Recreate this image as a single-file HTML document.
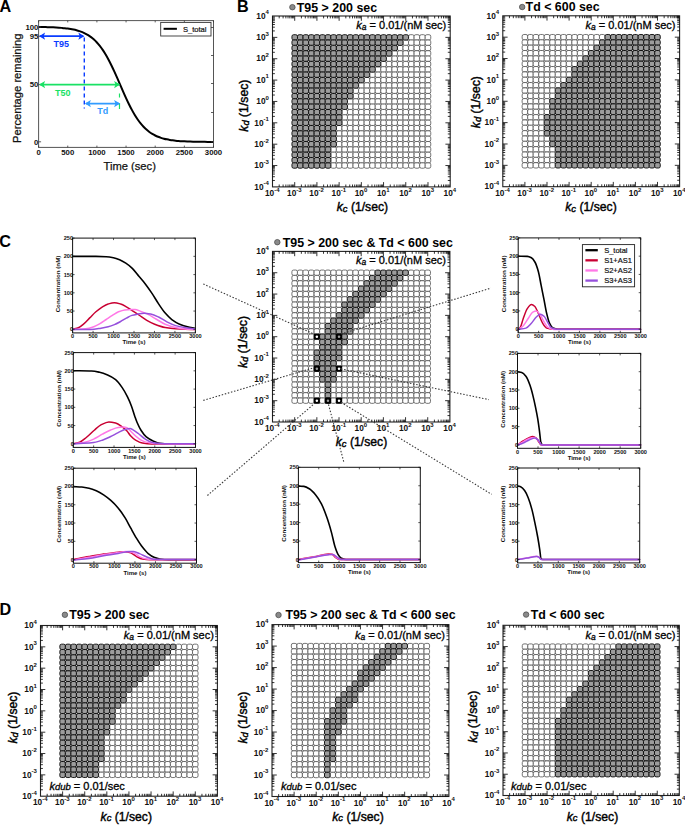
<!DOCTYPE html>
<html><head><meta charset="utf-8"><style>
html,body{margin:0;padding:0;background:#fff;}
body{width:685px;height:826px;overflow:hidden;font-family:"Liberation Sans", sans-serif;}
svg{display:block;}
</style></head><body>
<svg width="685" height="826" viewBox="0 0 685 826" font-family='"Liberation Sans", sans-serif'>
<rect width="685" height="826" fill="#fff"/>
<text x="-0.5" y="12" font-size="16.2" font-weight="bold">A</text>
<text x="237" y="12" font-size="16.2" font-weight="bold">B</text>
<text x="-0.8" y="246.5" font-size="16.2" font-weight="bold">C</text>
<text x="-0.5" y="614.6" font-size="16.2" font-weight="bold">D</text>
<path d="M38.6,26.97 C39.57,26.99 40.54,27 41.52,27.02 C42.49,27.03 43.46,27.05 44.43,27.07 C45.4,27.09 46.37,27.12 47.34,27.14 C48.32,27.17 49.29,27.2 50.26,27.23 C51.23,27.27 52.2,27.3 53.17,27.35 C54.15,27.39 55.12,27.44 56.09,27.49 C57.06,27.54 58.03,27.6 59,27.67 C59.98,27.74 60.95,27.81 61.92,27.89 C62.89,27.98 63.86,28.07 64.84,28.18 C65.81,28.28 66.78,28.4 67.75,28.54 C68.72,28.67 69.69,28.82 70.67,28.98 C71.64,29.15 72.61,29.34 73.58,29.54 C74.55,29.75 75.52,29.98 76.5,30.24 C77.47,30.5 78.44,30.79 79.41,31.11 C80.38,31.43 81.35,31.79 82.33,32.19 C83.3,32.59 84.27,33.03 85.24,33.52 C86.21,34.01 87.18,34.56 88.16,35.16 C89.13,35.76 90.1,36.43 91.07,37.16 C92.04,37.89 93.01,38.7 93.98,39.58 C94.96,40.46 95.93,41.43 96.9,42.48 C97.87,43.53 98.84,44.68 99.81,45.91 C100.79,47.15 101.76,48.5 102.73,49.93 C103.7,51.36 104.67,52.91 105.65,54.54 C106.62,56.17 107.59,57.92 108.56,59.74 C109.53,61.56 110.5,63.5 111.47,65.49 C112.45,67.47 113.42,69.57 114.39,71.69 C115.36,73.81 116.33,76.01 117.31,78.21 C118.28,80.42 119.25,82.68 120.22,84.91 C121.19,87.14 122.16,89.39 123.14,91.59 C124.11,93.78 125.08,95.97 126.05,98.07 C127.02,100.18 127.99,102.25 128.97,104.21 C129.94,106.18 130.91,108.09 131.88,109.88 C132.85,111.67 133.82,113.4 134.79,115 C135.77,116.6 136.74,118.12 137.71,119.52 C138.68,120.92 139.65,122.24 140.62,123.44 C141.6,124.65 142.57,125.77 143.54,126.79 C144.51,127.81 145.48,128.76 146.46,129.61 C147.43,130.47 148.4,131.26 149.37,131.97 C150.34,132.68 151.31,133.32 152.28,133.91 C153.26,134.49 154.23,135.02 155.2,135.5 C156.17,135.97 157.14,136.4 158.12,136.79 C159.09,137.17 160.06,137.52 161.03,137.83 C162,138.14 162.97,138.42 163.94,138.67 C164.92,138.92 165.89,139.15 166.86,139.35 C167.83,139.55 168.8,139.73 169.78,139.89 C170.75,140.05 171.72,140.2 172.69,140.32 C173.66,140.45 174.63,140.57 175.61,140.67 C176.58,140.77 177.55,140.86 178.52,140.94 C179.49,141.02 180.46,141.1 181.44,141.16 C182.41,141.23 183.38,141.28 184.35,141.33 C185.32,141.39 186.29,141.43 187.26,141.47 C188.24,141.51 189.21,141.55 190.18,141.58 C191.15,141.61 192.12,141.64 193.09,141.67 C194.07,141.69 195.04,141.72 196.01,141.74 C196.98,141.76 197.95,141.78 198.92,141.79 C199.9,141.81 200.87,141.82 201.84,141.84 C202.81,141.85 203.78,141.86 204.76,141.87 C205.73,141.88 206.7,141.89 207.67,141.9 C208.64,141.9 209.61,141.91 210.59,141.92 C211.56,141.92 212.53,141.93 213.5,141.94" fill="none" stroke="#000" stroke-width="2"/>
<rect x="38.6" y="20.6" width="174.9" height="126.8" fill="none" stroke="#555" stroke-width="1"/>
<path d="M38.6,147.4v-1.8M38.6,20.6v1.8M67.75,147.4v-1.8M67.75,20.6v1.8M96.9,147.4v-1.8M96.9,20.6v1.8M126.05,147.4v-1.8M126.05,20.6v1.8M155.2,147.4v-1.8M155.2,20.6v1.8M184.35,147.4v-1.8M184.35,20.6v1.8M213.5,147.4v-1.8M213.5,20.6v1.8M38.6,27.0h2.5M38.6,36.2h2.5M38.6,84.6h2.5M38.6,141.8h2.5M213.5,27.5h-2.5M213.5,55.5h-2.5M213.5,83.5h-2.5M213.5,112.5h-2.5M213.5,141.8h-2.5" stroke="#333" stroke-width="0.8"/>
<g font-size="7.8" fill="#111" font-weight="bold">
<text x="38.6" y="155.2" text-anchor="middle">0</text>
<text x="67.75" y="155.2" text-anchor="middle">500</text>
<text x="96.9" y="155.2" text-anchor="middle">1000</text>
<text x="126.05" y="155.2" text-anchor="middle">1500</text>
<text x="155.2" y="155.2" text-anchor="middle">2000</text>
<text x="184.35" y="155.2" text-anchor="middle">2500</text>
<text x="213.5" y="155.2" text-anchor="middle">3000</text>
<text x="38.4" y="29.8" text-anchor="end">100</text>
<text x="38.4" y="39" text-anchor="end">95</text>
<text x="38.4" y="87.4" text-anchor="end">50</text>
<text x="38.4" y="144.6" text-anchor="end">0</text>
</g>
<text x="129.7" y="170.2" font-size="11.2" text-anchor="middle" fill="#111" stroke="#111" stroke-width="0.25">Time (sec)</text>
<text transform="translate(21.4,88.2) rotate(-90)" font-size="11.2" text-anchor="middle" fill="#111" stroke="#111" stroke-width="0.25">Percentage remaining</text>
<rect x="160.7" y="22.4" width="50.3" height="13.6" fill="#fff" stroke="#333" stroke-width="0.9"/>
<path d="M163.6,28.8H176.9" stroke="#000" stroke-width="2"/>
<text x="182.9" y="31.6" font-size="7.6" fill="#111" stroke="#111" stroke-width="0.2">S_total</text>
<path d="M40.1,36.2H83.3" stroke="#0a3cff" stroke-width="1.8"/>
<path d="M39.1,36.2l6,-3.6l-1.4,3.6l1.4,3.6z" fill="#0a3cff"/>
<path d="M84.3,36.2l-6,-3.6l1.4,3.6l-1.4,3.6z" fill="#0a3cff"/>
<path d="M84.3,37.5V108.5" stroke="#0a3cff" stroke-width="1.4" stroke-dasharray="4,3"/>
<path d="M40.1,84.6H119.1" stroke="#19e164" stroke-width="1.8"/>
<path d="M39.1,84.6l6,-3.6l-1.4,3.6l1.4,3.6z" fill="#19e164"/>
<path d="M120.1,84.6l-6,-3.6l1.4,3.6l-1.4,3.6z" fill="#19e164"/>
<path d="M119.5,93.6V97.5M119.5,103V109" stroke="#19e164" stroke-width="1.2"/>
<path d="M85.9,103.6H119.1" stroke="#329bff" stroke-width="1.8"/>
<path d="M84.9,103.6l6,-3.6l-1.4,3.6l1.4,3.6z" fill="#329bff"/>
<path d="M120.1,103.6l-6,-3.6l1.4,3.6l-1.4,3.6z" fill="#329bff"/>
<text x="53.6" y="46.9" font-size="9" font-weight="bold" fill="#0a3cff">T95</text>
<text x="55" y="95.8" font-size="9" font-weight="bold" fill="#19e164">T50</text>
<text x="97.2" y="114.1" font-size="9" font-weight="bold" fill="#329bff">Td</text>
<g stroke="#505050" stroke-width="0.8" fill="#fff">
<rect x="408.55" y="34.69" width="5.55" height="5.34" rx="1.7"/>
<rect x="414.1" y="34.69" width="5.55" height="5.34" rx="1.7"/>
<rect x="419.66" y="34.69" width="5.55" height="5.34" rx="1.7"/>
<rect x="425.21" y="34.69" width="5.55" height="5.34" rx="1.7"/>
<rect x="403" y="40.03" width="5.55" height="5.34" rx="1.7"/>
<rect x="408.55" y="40.03" width="5.55" height="5.34" rx="1.7"/>
<rect x="414.1" y="40.03" width="5.55" height="5.34" rx="1.7"/>
<rect x="419.66" y="40.03" width="5.55" height="5.34" rx="1.7"/>
<rect x="425.21" y="40.03" width="5.55" height="5.34" rx="1.7"/>
<rect x="397.45" y="45.37" width="5.55" height="5.34" rx="1.7"/>
<rect x="403" y="45.37" width="5.55" height="5.34" rx="1.7"/>
<rect x="408.55" y="45.37" width="5.55" height="5.34" rx="1.7"/>
<rect x="414.1" y="45.37" width="5.55" height="5.34" rx="1.7"/>
<rect x="419.66" y="45.37" width="5.55" height="5.34" rx="1.7"/>
<rect x="425.21" y="45.37" width="5.55" height="5.34" rx="1.7"/>
<rect x="391.89" y="50.71" width="5.55" height="5.34" rx="1.7"/>
<rect x="397.45" y="50.71" width="5.55" height="5.34" rx="1.7"/>
<rect x="403" y="50.71" width="5.55" height="5.34" rx="1.7"/>
<rect x="408.55" y="50.71" width="5.55" height="5.34" rx="1.7"/>
<rect x="414.1" y="50.71" width="5.55" height="5.34" rx="1.7"/>
<rect x="419.66" y="50.71" width="5.55" height="5.34" rx="1.7"/>
<rect x="425.21" y="50.71" width="5.55" height="5.34" rx="1.7"/>
<rect x="386.34" y="56.05" width="5.55" height="5.34" rx="1.7"/>
<rect x="391.89" y="56.05" width="5.55" height="5.34" rx="1.7"/>
<rect x="397.45" y="56.05" width="5.55" height="5.34" rx="1.7"/>
<rect x="403" y="56.05" width="5.55" height="5.34" rx="1.7"/>
<rect x="408.55" y="56.05" width="5.55" height="5.34" rx="1.7"/>
<rect x="414.1" y="56.05" width="5.55" height="5.34" rx="1.7"/>
<rect x="419.66" y="56.05" width="5.55" height="5.34" rx="1.7"/>
<rect x="425.21" y="56.05" width="5.55" height="5.34" rx="1.7"/>
<rect x="380.79" y="61.4" width="5.55" height="5.34" rx="1.7"/>
<rect x="386.34" y="61.4" width="5.55" height="5.34" rx="1.7"/>
<rect x="391.89" y="61.4" width="5.55" height="5.34" rx="1.7"/>
<rect x="397.45" y="61.4" width="5.55" height="5.34" rx="1.7"/>
<rect x="403" y="61.4" width="5.55" height="5.34" rx="1.7"/>
<rect x="408.55" y="61.4" width="5.55" height="5.34" rx="1.7"/>
<rect x="414.1" y="61.4" width="5.55" height="5.34" rx="1.7"/>
<rect x="419.66" y="61.4" width="5.55" height="5.34" rx="1.7"/>
<rect x="425.21" y="61.4" width="5.55" height="5.34" rx="1.7"/>
<rect x="375.23" y="66.74" width="5.55" height="5.34" rx="1.7"/>
<rect x="380.79" y="66.74" width="5.55" height="5.34" rx="1.7"/>
<rect x="386.34" y="66.74" width="5.55" height="5.34" rx="1.7"/>
<rect x="391.89" y="66.74" width="5.55" height="5.34" rx="1.7"/>
<rect x="397.45" y="66.74" width="5.55" height="5.34" rx="1.7"/>
<rect x="403" y="66.74" width="5.55" height="5.34" rx="1.7"/>
<rect x="408.55" y="66.74" width="5.55" height="5.34" rx="1.7"/>
<rect x="414.1" y="66.74" width="5.55" height="5.34" rx="1.7"/>
<rect x="419.66" y="66.74" width="5.55" height="5.34" rx="1.7"/>
<rect x="425.21" y="66.74" width="5.55" height="5.34" rx="1.7"/>
<rect x="369.68" y="72.08" width="5.55" height="5.34" rx="1.7"/>
<rect x="375.23" y="72.08" width="5.55" height="5.34" rx="1.7"/>
<rect x="380.79" y="72.08" width="5.55" height="5.34" rx="1.7"/>
<rect x="386.34" y="72.08" width="5.55" height="5.34" rx="1.7"/>
<rect x="391.89" y="72.08" width="5.55" height="5.34" rx="1.7"/>
<rect x="397.45" y="72.08" width="5.55" height="5.34" rx="1.7"/>
<rect x="403" y="72.08" width="5.55" height="5.34" rx="1.7"/>
<rect x="408.55" y="72.08" width="5.55" height="5.34" rx="1.7"/>
<rect x="414.1" y="72.08" width="5.55" height="5.34" rx="1.7"/>
<rect x="419.66" y="72.08" width="5.55" height="5.34" rx="1.7"/>
<rect x="425.21" y="72.08" width="5.55" height="5.34" rx="1.7"/>
<rect x="364.13" y="77.42" width="5.55" height="5.34" rx="1.7"/>
<rect x="369.68" y="77.42" width="5.55" height="5.34" rx="1.7"/>
<rect x="375.23" y="77.42" width="5.55" height="5.34" rx="1.7"/>
<rect x="380.79" y="77.42" width="5.55" height="5.34" rx="1.7"/>
<rect x="386.34" y="77.42" width="5.55" height="5.34" rx="1.7"/>
<rect x="391.89" y="77.42" width="5.55" height="5.34" rx="1.7"/>
<rect x="397.45" y="77.42" width="5.55" height="5.34" rx="1.7"/>
<rect x="403" y="77.42" width="5.55" height="5.34" rx="1.7"/>
<rect x="408.55" y="77.42" width="5.55" height="5.34" rx="1.7"/>
<rect x="414.1" y="77.42" width="5.55" height="5.34" rx="1.7"/>
<rect x="419.66" y="77.42" width="5.55" height="5.34" rx="1.7"/>
<rect x="425.21" y="77.42" width="5.55" height="5.34" rx="1.7"/>
<rect x="358.57" y="82.76" width="5.55" height="5.34" rx="1.7"/>
<rect x="364.13" y="82.76" width="5.55" height="5.34" rx="1.7"/>
<rect x="369.68" y="82.76" width="5.55" height="5.34" rx="1.7"/>
<rect x="375.23" y="82.76" width="5.55" height="5.34" rx="1.7"/>
<rect x="380.79" y="82.76" width="5.55" height="5.34" rx="1.7"/>
<rect x="386.34" y="82.76" width="5.55" height="5.34" rx="1.7"/>
<rect x="391.89" y="82.76" width="5.55" height="5.34" rx="1.7"/>
<rect x="397.45" y="82.76" width="5.55" height="5.34" rx="1.7"/>
<rect x="403" y="82.76" width="5.55" height="5.34" rx="1.7"/>
<rect x="408.55" y="82.76" width="5.55" height="5.34" rx="1.7"/>
<rect x="414.1" y="82.76" width="5.55" height="5.34" rx="1.7"/>
<rect x="419.66" y="82.76" width="5.55" height="5.34" rx="1.7"/>
<rect x="425.21" y="82.76" width="5.55" height="5.34" rx="1.7"/>
<rect x="353.02" y="88.1" width="5.55" height="5.34" rx="1.7"/>
<rect x="358.57" y="88.1" width="5.55" height="5.34" rx="1.7"/>
<rect x="364.13" y="88.1" width="5.55" height="5.34" rx="1.7"/>
<rect x="369.68" y="88.1" width="5.55" height="5.34" rx="1.7"/>
<rect x="375.23" y="88.1" width="5.55" height="5.34" rx="1.7"/>
<rect x="380.79" y="88.1" width="5.55" height="5.34" rx="1.7"/>
<rect x="386.34" y="88.1" width="5.55" height="5.34" rx="1.7"/>
<rect x="391.89" y="88.1" width="5.55" height="5.34" rx="1.7"/>
<rect x="397.45" y="88.1" width="5.55" height="5.34" rx="1.7"/>
<rect x="403" y="88.1" width="5.55" height="5.34" rx="1.7"/>
<rect x="408.55" y="88.1" width="5.55" height="5.34" rx="1.7"/>
<rect x="414.1" y="88.1" width="5.55" height="5.34" rx="1.7"/>
<rect x="419.66" y="88.1" width="5.55" height="5.34" rx="1.7"/>
<rect x="425.21" y="88.1" width="5.55" height="5.34" rx="1.7"/>
<rect x="353.02" y="93.44" width="5.55" height="5.34" rx="1.7"/>
<rect x="358.57" y="93.44" width="5.55" height="5.34" rx="1.7"/>
<rect x="364.13" y="93.44" width="5.55" height="5.34" rx="1.7"/>
<rect x="369.68" y="93.44" width="5.55" height="5.34" rx="1.7"/>
<rect x="375.23" y="93.44" width="5.55" height="5.34" rx="1.7"/>
<rect x="380.79" y="93.44" width="5.55" height="5.34" rx="1.7"/>
<rect x="386.34" y="93.44" width="5.55" height="5.34" rx="1.7"/>
<rect x="391.89" y="93.44" width="5.55" height="5.34" rx="1.7"/>
<rect x="397.45" y="93.44" width="5.55" height="5.34" rx="1.7"/>
<rect x="403" y="93.44" width="5.55" height="5.34" rx="1.7"/>
<rect x="408.55" y="93.44" width="5.55" height="5.34" rx="1.7"/>
<rect x="414.1" y="93.44" width="5.55" height="5.34" rx="1.7"/>
<rect x="419.66" y="93.44" width="5.55" height="5.34" rx="1.7"/>
<rect x="425.21" y="93.44" width="5.55" height="5.34" rx="1.7"/>
<rect x="347.47" y="98.78" width="5.55" height="5.34" rx="1.7"/>
<rect x="353.02" y="98.78" width="5.55" height="5.34" rx="1.7"/>
<rect x="358.57" y="98.78" width="5.55" height="5.34" rx="1.7"/>
<rect x="364.13" y="98.78" width="5.55" height="5.34" rx="1.7"/>
<rect x="369.68" y="98.78" width="5.55" height="5.34" rx="1.7"/>
<rect x="375.23" y="98.78" width="5.55" height="5.34" rx="1.7"/>
<rect x="380.79" y="98.78" width="5.55" height="5.34" rx="1.7"/>
<rect x="386.34" y="98.78" width="5.55" height="5.34" rx="1.7"/>
<rect x="391.89" y="98.78" width="5.55" height="5.34" rx="1.7"/>
<rect x="397.45" y="98.78" width="5.55" height="5.34" rx="1.7"/>
<rect x="403" y="98.78" width="5.55" height="5.34" rx="1.7"/>
<rect x="408.55" y="98.78" width="5.55" height="5.34" rx="1.7"/>
<rect x="414.1" y="98.78" width="5.55" height="5.34" rx="1.7"/>
<rect x="419.66" y="98.78" width="5.55" height="5.34" rx="1.7"/>
<rect x="425.21" y="98.78" width="5.55" height="5.34" rx="1.7"/>
<rect x="347.47" y="104.12" width="5.55" height="5.34" rx="1.7"/>
<rect x="353.02" y="104.12" width="5.55" height="5.34" rx="1.7"/>
<rect x="358.57" y="104.12" width="5.55" height="5.34" rx="1.7"/>
<rect x="364.13" y="104.12" width="5.55" height="5.34" rx="1.7"/>
<rect x="369.68" y="104.12" width="5.55" height="5.34" rx="1.7"/>
<rect x="375.23" y="104.12" width="5.55" height="5.34" rx="1.7"/>
<rect x="380.79" y="104.12" width="5.55" height="5.34" rx="1.7"/>
<rect x="386.34" y="104.12" width="5.55" height="5.34" rx="1.7"/>
<rect x="391.89" y="104.12" width="5.55" height="5.34" rx="1.7"/>
<rect x="397.45" y="104.12" width="5.55" height="5.34" rx="1.7"/>
<rect x="403" y="104.12" width="5.55" height="5.34" rx="1.7"/>
<rect x="408.55" y="104.12" width="5.55" height="5.34" rx="1.7"/>
<rect x="414.1" y="104.12" width="5.55" height="5.34" rx="1.7"/>
<rect x="419.66" y="104.12" width="5.55" height="5.34" rx="1.7"/>
<rect x="425.21" y="104.12" width="5.55" height="5.34" rx="1.7"/>
<rect x="341.91" y="109.46" width="5.55" height="5.34" rx="1.7"/>
<rect x="347.47" y="109.46" width="5.55" height="5.34" rx="1.7"/>
<rect x="353.02" y="109.46" width="5.55" height="5.34" rx="1.7"/>
<rect x="358.57" y="109.46" width="5.55" height="5.34" rx="1.7"/>
<rect x="364.13" y="109.46" width="5.55" height="5.34" rx="1.7"/>
<rect x="369.68" y="109.46" width="5.55" height="5.34" rx="1.7"/>
<rect x="375.23" y="109.46" width="5.55" height="5.34" rx="1.7"/>
<rect x="380.79" y="109.46" width="5.55" height="5.34" rx="1.7"/>
<rect x="386.34" y="109.46" width="5.55" height="5.34" rx="1.7"/>
<rect x="391.89" y="109.46" width="5.55" height="5.34" rx="1.7"/>
<rect x="397.45" y="109.46" width="5.55" height="5.34" rx="1.7"/>
<rect x="403" y="109.46" width="5.55" height="5.34" rx="1.7"/>
<rect x="408.55" y="109.46" width="5.55" height="5.34" rx="1.7"/>
<rect x="414.1" y="109.46" width="5.55" height="5.34" rx="1.7"/>
<rect x="419.66" y="109.46" width="5.55" height="5.34" rx="1.7"/>
<rect x="425.21" y="109.46" width="5.55" height="5.34" rx="1.7"/>
<rect x="341.91" y="114.8" width="5.55" height="5.34" rx="1.7"/>
<rect x="347.47" y="114.8" width="5.55" height="5.34" rx="1.7"/>
<rect x="353.02" y="114.8" width="5.55" height="5.34" rx="1.7"/>
<rect x="358.57" y="114.8" width="5.55" height="5.34" rx="1.7"/>
<rect x="364.13" y="114.8" width="5.55" height="5.34" rx="1.7"/>
<rect x="369.68" y="114.8" width="5.55" height="5.34" rx="1.7"/>
<rect x="375.23" y="114.8" width="5.55" height="5.34" rx="1.7"/>
<rect x="380.79" y="114.8" width="5.55" height="5.34" rx="1.7"/>
<rect x="386.34" y="114.8" width="5.55" height="5.34" rx="1.7"/>
<rect x="391.89" y="114.8" width="5.55" height="5.34" rx="1.7"/>
<rect x="397.45" y="114.8" width="5.55" height="5.34" rx="1.7"/>
<rect x="403" y="114.8" width="5.55" height="5.34" rx="1.7"/>
<rect x="408.55" y="114.8" width="5.55" height="5.34" rx="1.7"/>
<rect x="414.1" y="114.8" width="5.55" height="5.34" rx="1.7"/>
<rect x="419.66" y="114.8" width="5.55" height="5.34" rx="1.7"/>
<rect x="425.21" y="114.8" width="5.55" height="5.34" rx="1.7"/>
<rect x="341.91" y="120.14" width="5.55" height="5.34" rx="1.7"/>
<rect x="347.47" y="120.14" width="5.55" height="5.34" rx="1.7"/>
<rect x="353.02" y="120.14" width="5.55" height="5.34" rx="1.7"/>
<rect x="358.57" y="120.14" width="5.55" height="5.34" rx="1.7"/>
<rect x="364.13" y="120.14" width="5.55" height="5.34" rx="1.7"/>
<rect x="369.68" y="120.14" width="5.55" height="5.34" rx="1.7"/>
<rect x="375.23" y="120.14" width="5.55" height="5.34" rx="1.7"/>
<rect x="380.79" y="120.14" width="5.55" height="5.34" rx="1.7"/>
<rect x="386.34" y="120.14" width="5.55" height="5.34" rx="1.7"/>
<rect x="391.89" y="120.14" width="5.55" height="5.34" rx="1.7"/>
<rect x="397.45" y="120.14" width="5.55" height="5.34" rx="1.7"/>
<rect x="403" y="120.14" width="5.55" height="5.34" rx="1.7"/>
<rect x="408.55" y="120.14" width="5.55" height="5.34" rx="1.7"/>
<rect x="414.1" y="120.14" width="5.55" height="5.34" rx="1.7"/>
<rect x="419.66" y="120.14" width="5.55" height="5.34" rx="1.7"/>
<rect x="425.21" y="120.14" width="5.55" height="5.34" rx="1.7"/>
<rect x="336.36" y="125.48" width="5.55" height="5.34" rx="1.7"/>
<rect x="341.91" y="125.48" width="5.55" height="5.34" rx="1.7"/>
<rect x="347.47" y="125.48" width="5.55" height="5.34" rx="1.7"/>
<rect x="353.02" y="125.48" width="5.55" height="5.34" rx="1.7"/>
<rect x="358.57" y="125.48" width="5.55" height="5.34" rx="1.7"/>
<rect x="364.13" y="125.48" width="5.55" height="5.34" rx="1.7"/>
<rect x="369.68" y="125.48" width="5.55" height="5.34" rx="1.7"/>
<rect x="375.23" y="125.48" width="5.55" height="5.34" rx="1.7"/>
<rect x="380.79" y="125.48" width="5.55" height="5.34" rx="1.7"/>
<rect x="386.34" y="125.48" width="5.55" height="5.34" rx="1.7"/>
<rect x="391.89" y="125.48" width="5.55" height="5.34" rx="1.7"/>
<rect x="397.45" y="125.48" width="5.55" height="5.34" rx="1.7"/>
<rect x="403" y="125.48" width="5.55" height="5.34" rx="1.7"/>
<rect x="408.55" y="125.48" width="5.55" height="5.34" rx="1.7"/>
<rect x="414.1" y="125.48" width="5.55" height="5.34" rx="1.7"/>
<rect x="419.66" y="125.48" width="5.55" height="5.34" rx="1.7"/>
<rect x="425.21" y="125.48" width="5.55" height="5.34" rx="1.7"/>
<rect x="336.36" y="130.82" width="5.55" height="5.34" rx="1.7"/>
<rect x="341.91" y="130.82" width="5.55" height="5.34" rx="1.7"/>
<rect x="347.47" y="130.82" width="5.55" height="5.34" rx="1.7"/>
<rect x="353.02" y="130.82" width="5.55" height="5.34" rx="1.7"/>
<rect x="358.57" y="130.82" width="5.55" height="5.34" rx="1.7"/>
<rect x="364.13" y="130.82" width="5.55" height="5.34" rx="1.7"/>
<rect x="369.68" y="130.82" width="5.55" height="5.34" rx="1.7"/>
<rect x="375.23" y="130.82" width="5.55" height="5.34" rx="1.7"/>
<rect x="380.79" y="130.82" width="5.55" height="5.34" rx="1.7"/>
<rect x="386.34" y="130.82" width="5.55" height="5.34" rx="1.7"/>
<rect x="391.89" y="130.82" width="5.55" height="5.34" rx="1.7"/>
<rect x="397.45" y="130.82" width="5.55" height="5.34" rx="1.7"/>
<rect x="403" y="130.82" width="5.55" height="5.34" rx="1.7"/>
<rect x="408.55" y="130.82" width="5.55" height="5.34" rx="1.7"/>
<rect x="414.1" y="130.82" width="5.55" height="5.34" rx="1.7"/>
<rect x="419.66" y="130.82" width="5.55" height="5.34" rx="1.7"/>
<rect x="425.21" y="130.82" width="5.55" height="5.34" rx="1.7"/>
<rect x="336.36" y="136.16" width="5.55" height="5.34" rx="1.7"/>
<rect x="341.91" y="136.16" width="5.55" height="5.34" rx="1.7"/>
<rect x="347.47" y="136.16" width="5.55" height="5.34" rx="1.7"/>
<rect x="353.02" y="136.16" width="5.55" height="5.34" rx="1.7"/>
<rect x="358.57" y="136.16" width="5.55" height="5.34" rx="1.7"/>
<rect x="364.13" y="136.16" width="5.55" height="5.34" rx="1.7"/>
<rect x="369.68" y="136.16" width="5.55" height="5.34" rx="1.7"/>
<rect x="375.23" y="136.16" width="5.55" height="5.34" rx="1.7"/>
<rect x="380.79" y="136.16" width="5.55" height="5.34" rx="1.7"/>
<rect x="386.34" y="136.16" width="5.55" height="5.34" rx="1.7"/>
<rect x="391.89" y="136.16" width="5.55" height="5.34" rx="1.7"/>
<rect x="397.45" y="136.16" width="5.55" height="5.34" rx="1.7"/>
<rect x="403" y="136.16" width="5.55" height="5.34" rx="1.7"/>
<rect x="408.55" y="136.16" width="5.55" height="5.34" rx="1.7"/>
<rect x="414.1" y="136.16" width="5.55" height="5.34" rx="1.7"/>
<rect x="419.66" y="136.16" width="5.55" height="5.34" rx="1.7"/>
<rect x="425.21" y="136.16" width="5.55" height="5.34" rx="1.7"/>
<rect x="336.36" y="141.5" width="5.55" height="5.34" rx="1.7"/>
<rect x="341.91" y="141.5" width="5.55" height="5.34" rx="1.7"/>
<rect x="347.47" y="141.5" width="5.55" height="5.34" rx="1.7"/>
<rect x="353.02" y="141.5" width="5.55" height="5.34" rx="1.7"/>
<rect x="358.57" y="141.5" width="5.55" height="5.34" rx="1.7"/>
<rect x="364.13" y="141.5" width="5.55" height="5.34" rx="1.7"/>
<rect x="369.68" y="141.5" width="5.55" height="5.34" rx="1.7"/>
<rect x="375.23" y="141.5" width="5.55" height="5.34" rx="1.7"/>
<rect x="380.79" y="141.5" width="5.55" height="5.34" rx="1.7"/>
<rect x="386.34" y="141.5" width="5.55" height="5.34" rx="1.7"/>
<rect x="391.89" y="141.5" width="5.55" height="5.34" rx="1.7"/>
<rect x="397.45" y="141.5" width="5.55" height="5.34" rx="1.7"/>
<rect x="403" y="141.5" width="5.55" height="5.34" rx="1.7"/>
<rect x="408.55" y="141.5" width="5.55" height="5.34" rx="1.7"/>
<rect x="414.1" y="141.5" width="5.55" height="5.34" rx="1.7"/>
<rect x="419.66" y="141.5" width="5.55" height="5.34" rx="1.7"/>
<rect x="425.21" y="141.5" width="5.55" height="5.34" rx="1.7"/>
<rect x="330.81" y="146.85" width="5.55" height="5.34" rx="1.7"/>
<rect x="336.36" y="146.85" width="5.55" height="5.34" rx="1.7"/>
<rect x="341.91" y="146.85" width="5.55" height="5.34" rx="1.7"/>
<rect x="347.47" y="146.85" width="5.55" height="5.34" rx="1.7"/>
<rect x="353.02" y="146.85" width="5.55" height="5.34" rx="1.7"/>
<rect x="358.57" y="146.85" width="5.55" height="5.34" rx="1.7"/>
<rect x="364.13" y="146.85" width="5.55" height="5.34" rx="1.7"/>
<rect x="369.68" y="146.85" width="5.55" height="5.34" rx="1.7"/>
<rect x="375.23" y="146.85" width="5.55" height="5.34" rx="1.7"/>
<rect x="380.79" y="146.85" width="5.55" height="5.34" rx="1.7"/>
<rect x="386.34" y="146.85" width="5.55" height="5.34" rx="1.7"/>
<rect x="391.89" y="146.85" width="5.55" height="5.34" rx="1.7"/>
<rect x="397.45" y="146.85" width="5.55" height="5.34" rx="1.7"/>
<rect x="403" y="146.85" width="5.55" height="5.34" rx="1.7"/>
<rect x="408.55" y="146.85" width="5.55" height="5.34" rx="1.7"/>
<rect x="414.1" y="146.85" width="5.55" height="5.34" rx="1.7"/>
<rect x="419.66" y="146.85" width="5.55" height="5.34" rx="1.7"/>
<rect x="425.21" y="146.85" width="5.55" height="5.34" rx="1.7"/>
<rect x="330.81" y="152.19" width="5.55" height="5.34" rx="1.7"/>
<rect x="336.36" y="152.19" width="5.55" height="5.34" rx="1.7"/>
<rect x="341.91" y="152.19" width="5.55" height="5.34" rx="1.7"/>
<rect x="347.47" y="152.19" width="5.55" height="5.34" rx="1.7"/>
<rect x="353.02" y="152.19" width="5.55" height="5.34" rx="1.7"/>
<rect x="358.57" y="152.19" width="5.55" height="5.34" rx="1.7"/>
<rect x="364.13" y="152.19" width="5.55" height="5.34" rx="1.7"/>
<rect x="369.68" y="152.19" width="5.55" height="5.34" rx="1.7"/>
<rect x="375.23" y="152.19" width="5.55" height="5.34" rx="1.7"/>
<rect x="380.79" y="152.19" width="5.55" height="5.34" rx="1.7"/>
<rect x="386.34" y="152.19" width="5.55" height="5.34" rx="1.7"/>
<rect x="391.89" y="152.19" width="5.55" height="5.34" rx="1.7"/>
<rect x="397.45" y="152.19" width="5.55" height="5.34" rx="1.7"/>
<rect x="403" y="152.19" width="5.55" height="5.34" rx="1.7"/>
<rect x="408.55" y="152.19" width="5.55" height="5.34" rx="1.7"/>
<rect x="414.1" y="152.19" width="5.55" height="5.34" rx="1.7"/>
<rect x="419.66" y="152.19" width="5.55" height="5.34" rx="1.7"/>
<rect x="425.21" y="152.19" width="5.55" height="5.34" rx="1.7"/>
<rect x="330.81" y="157.53" width="5.55" height="5.34" rx="1.7"/>
<rect x="336.36" y="157.53" width="5.55" height="5.34" rx="1.7"/>
<rect x="341.91" y="157.53" width="5.55" height="5.34" rx="1.7"/>
<rect x="347.47" y="157.53" width="5.55" height="5.34" rx="1.7"/>
<rect x="353.02" y="157.53" width="5.55" height="5.34" rx="1.7"/>
<rect x="358.57" y="157.53" width="5.55" height="5.34" rx="1.7"/>
<rect x="364.13" y="157.53" width="5.55" height="5.34" rx="1.7"/>
<rect x="369.68" y="157.53" width="5.55" height="5.34" rx="1.7"/>
<rect x="375.23" y="157.53" width="5.55" height="5.34" rx="1.7"/>
<rect x="380.79" y="157.53" width="5.55" height="5.34" rx="1.7"/>
<rect x="386.34" y="157.53" width="5.55" height="5.34" rx="1.7"/>
<rect x="391.89" y="157.53" width="5.55" height="5.34" rx="1.7"/>
<rect x="397.45" y="157.53" width="5.55" height="5.34" rx="1.7"/>
<rect x="403" y="157.53" width="5.55" height="5.34" rx="1.7"/>
<rect x="408.55" y="157.53" width="5.55" height="5.34" rx="1.7"/>
<rect x="414.1" y="157.53" width="5.55" height="5.34" rx="1.7"/>
<rect x="419.66" y="157.53" width="5.55" height="5.34" rx="1.7"/>
<rect x="425.21" y="157.53" width="5.55" height="5.34" rx="1.7"/>
<rect x="330.81" y="162.87" width="5.55" height="5.34" rx="1.7"/>
<rect x="336.36" y="162.87" width="5.55" height="5.34" rx="1.7"/>
<rect x="341.91" y="162.87" width="5.55" height="5.34" rx="1.7"/>
<rect x="347.47" y="162.87" width="5.55" height="5.34" rx="1.7"/>
<rect x="353.02" y="162.87" width="5.55" height="5.34" rx="1.7"/>
<rect x="358.57" y="162.87" width="5.55" height="5.34" rx="1.7"/>
<rect x="364.13" y="162.87" width="5.55" height="5.34" rx="1.7"/>
<rect x="369.68" y="162.87" width="5.55" height="5.34" rx="1.7"/>
<rect x="375.23" y="162.87" width="5.55" height="5.34" rx="1.7"/>
<rect x="380.79" y="162.87" width="5.55" height="5.34" rx="1.7"/>
<rect x="386.34" y="162.87" width="5.55" height="5.34" rx="1.7"/>
<rect x="391.89" y="162.87" width="5.55" height="5.34" rx="1.7"/>
<rect x="397.45" y="162.87" width="5.55" height="5.34" rx="1.7"/>
<rect x="403" y="162.87" width="5.55" height="5.34" rx="1.7"/>
<rect x="408.55" y="162.87" width="5.55" height="5.34" rx="1.7"/>
<rect x="414.1" y="162.87" width="5.55" height="5.34" rx="1.7"/>
<rect x="419.66" y="162.87" width="5.55" height="5.34" rx="1.7"/>
<rect x="425.21" y="162.87" width="5.55" height="5.34" rx="1.7"/>
</g>
<g stroke="#080808" stroke-width="0.9" fill="#9c9c9c">
<rect x="291.94" y="34.69" width="5.55" height="5.34" rx="1.7"/>
<rect x="297.49" y="34.69" width="5.55" height="5.34" rx="1.7"/>
<rect x="303.04" y="34.69" width="5.55" height="5.34" rx="1.7"/>
<rect x="308.6" y="34.69" width="5.55" height="5.34" rx="1.7"/>
<rect x="314.15" y="34.69" width="5.55" height="5.34" rx="1.7"/>
<rect x="319.7" y="34.69" width="5.55" height="5.34" rx="1.7"/>
<rect x="325.25" y="34.69" width="5.55" height="5.34" rx="1.7"/>
<rect x="330.81" y="34.69" width="5.55" height="5.34" rx="1.7"/>
<rect x="336.36" y="34.69" width="5.55" height="5.34" rx="1.7"/>
<rect x="341.91" y="34.69" width="5.55" height="5.34" rx="1.7"/>
<rect x="347.47" y="34.69" width="5.55" height="5.34" rx="1.7"/>
<rect x="353.02" y="34.69" width="5.55" height="5.34" rx="1.7"/>
<rect x="358.57" y="34.69" width="5.55" height="5.34" rx="1.7"/>
<rect x="364.13" y="34.69" width="5.55" height="5.34" rx="1.7"/>
<rect x="369.68" y="34.69" width="5.55" height="5.34" rx="1.7"/>
<rect x="375.23" y="34.69" width="5.55" height="5.34" rx="1.7"/>
<rect x="380.79" y="34.69" width="5.55" height="5.34" rx="1.7"/>
<rect x="386.34" y="34.69" width="5.55" height="5.34" rx="1.7"/>
<rect x="391.89" y="34.69" width="5.55" height="5.34" rx="1.7"/>
<rect x="397.45" y="34.69" width="5.55" height="5.34" rx="1.7"/>
<rect x="403" y="34.69" width="5.55" height="5.34" rx="1.7"/>
<rect x="291.94" y="40.03" width="5.55" height="5.34" rx="1.7"/>
<rect x="297.49" y="40.03" width="5.55" height="5.34" rx="1.7"/>
<rect x="303.04" y="40.03" width="5.55" height="5.34" rx="1.7"/>
<rect x="308.6" y="40.03" width="5.55" height="5.34" rx="1.7"/>
<rect x="314.15" y="40.03" width="5.55" height="5.34" rx="1.7"/>
<rect x="319.7" y="40.03" width="5.55" height="5.34" rx="1.7"/>
<rect x="325.25" y="40.03" width="5.55" height="5.34" rx="1.7"/>
<rect x="330.81" y="40.03" width="5.55" height="5.34" rx="1.7"/>
<rect x="336.36" y="40.03" width="5.55" height="5.34" rx="1.7"/>
<rect x="341.91" y="40.03" width="5.55" height="5.34" rx="1.7"/>
<rect x="347.47" y="40.03" width="5.55" height="5.34" rx="1.7"/>
<rect x="353.02" y="40.03" width="5.55" height="5.34" rx="1.7"/>
<rect x="358.57" y="40.03" width="5.55" height="5.34" rx="1.7"/>
<rect x="364.13" y="40.03" width="5.55" height="5.34" rx="1.7"/>
<rect x="369.68" y="40.03" width="5.55" height="5.34" rx="1.7"/>
<rect x="375.23" y="40.03" width="5.55" height="5.34" rx="1.7"/>
<rect x="380.79" y="40.03" width="5.55" height="5.34" rx="1.7"/>
<rect x="386.34" y="40.03" width="5.55" height="5.34" rx="1.7"/>
<rect x="391.89" y="40.03" width="5.55" height="5.34" rx="1.7"/>
<rect x="397.45" y="40.03" width="5.55" height="5.34" rx="1.7"/>
<rect x="291.94" y="45.37" width="5.55" height="5.34" rx="1.7"/>
<rect x="297.49" y="45.37" width="5.55" height="5.34" rx="1.7"/>
<rect x="303.04" y="45.37" width="5.55" height="5.34" rx="1.7"/>
<rect x="308.6" y="45.37" width="5.55" height="5.34" rx="1.7"/>
<rect x="314.15" y="45.37" width="5.55" height="5.34" rx="1.7"/>
<rect x="319.7" y="45.37" width="5.55" height="5.34" rx="1.7"/>
<rect x="325.25" y="45.37" width="5.55" height="5.34" rx="1.7"/>
<rect x="330.81" y="45.37" width="5.55" height="5.34" rx="1.7"/>
<rect x="336.36" y="45.37" width="5.55" height="5.34" rx="1.7"/>
<rect x="341.91" y="45.37" width="5.55" height="5.34" rx="1.7"/>
<rect x="347.47" y="45.37" width="5.55" height="5.34" rx="1.7"/>
<rect x="353.02" y="45.37" width="5.55" height="5.34" rx="1.7"/>
<rect x="358.57" y="45.37" width="5.55" height="5.34" rx="1.7"/>
<rect x="364.13" y="45.37" width="5.55" height="5.34" rx="1.7"/>
<rect x="369.68" y="45.37" width="5.55" height="5.34" rx="1.7"/>
<rect x="375.23" y="45.37" width="5.55" height="5.34" rx="1.7"/>
<rect x="380.79" y="45.37" width="5.55" height="5.34" rx="1.7"/>
<rect x="386.34" y="45.37" width="5.55" height="5.34" rx="1.7"/>
<rect x="391.89" y="45.37" width="5.55" height="5.34" rx="1.7"/>
<rect x="291.94" y="50.71" width="5.55" height="5.34" rx="1.7"/>
<rect x="297.49" y="50.71" width="5.55" height="5.34" rx="1.7"/>
<rect x="303.04" y="50.71" width="5.55" height="5.34" rx="1.7"/>
<rect x="308.6" y="50.71" width="5.55" height="5.34" rx="1.7"/>
<rect x="314.15" y="50.71" width="5.55" height="5.34" rx="1.7"/>
<rect x="319.7" y="50.71" width="5.55" height="5.34" rx="1.7"/>
<rect x="325.25" y="50.71" width="5.55" height="5.34" rx="1.7"/>
<rect x="330.81" y="50.71" width="5.55" height="5.34" rx="1.7"/>
<rect x="336.36" y="50.71" width="5.55" height="5.34" rx="1.7"/>
<rect x="341.91" y="50.71" width="5.55" height="5.34" rx="1.7"/>
<rect x="347.47" y="50.71" width="5.55" height="5.34" rx="1.7"/>
<rect x="353.02" y="50.71" width="5.55" height="5.34" rx="1.7"/>
<rect x="358.57" y="50.71" width="5.55" height="5.34" rx="1.7"/>
<rect x="364.13" y="50.71" width="5.55" height="5.34" rx="1.7"/>
<rect x="369.68" y="50.71" width="5.55" height="5.34" rx="1.7"/>
<rect x="375.23" y="50.71" width="5.55" height="5.34" rx="1.7"/>
<rect x="380.79" y="50.71" width="5.55" height="5.34" rx="1.7"/>
<rect x="386.34" y="50.71" width="5.55" height="5.34" rx="1.7"/>
<rect x="291.94" y="56.05" width="5.55" height="5.34" rx="1.7"/>
<rect x="297.49" y="56.05" width="5.55" height="5.34" rx="1.7"/>
<rect x="303.04" y="56.05" width="5.55" height="5.34" rx="1.7"/>
<rect x="308.6" y="56.05" width="5.55" height="5.34" rx="1.7"/>
<rect x="314.15" y="56.05" width="5.55" height="5.34" rx="1.7"/>
<rect x="319.7" y="56.05" width="5.55" height="5.34" rx="1.7"/>
<rect x="325.25" y="56.05" width="5.55" height="5.34" rx="1.7"/>
<rect x="330.81" y="56.05" width="5.55" height="5.34" rx="1.7"/>
<rect x="336.36" y="56.05" width="5.55" height="5.34" rx="1.7"/>
<rect x="341.91" y="56.05" width="5.55" height="5.34" rx="1.7"/>
<rect x="347.47" y="56.05" width="5.55" height="5.34" rx="1.7"/>
<rect x="353.02" y="56.05" width="5.55" height="5.34" rx="1.7"/>
<rect x="358.57" y="56.05" width="5.55" height="5.34" rx="1.7"/>
<rect x="364.13" y="56.05" width="5.55" height="5.34" rx="1.7"/>
<rect x="369.68" y="56.05" width="5.55" height="5.34" rx="1.7"/>
<rect x="375.23" y="56.05" width="5.55" height="5.34" rx="1.7"/>
<rect x="380.79" y="56.05" width="5.55" height="5.34" rx="1.7"/>
<rect x="291.94" y="61.4" width="5.55" height="5.34" rx="1.7"/>
<rect x="297.49" y="61.4" width="5.55" height="5.34" rx="1.7"/>
<rect x="303.04" y="61.4" width="5.55" height="5.34" rx="1.7"/>
<rect x="308.6" y="61.4" width="5.55" height="5.34" rx="1.7"/>
<rect x="314.15" y="61.4" width="5.55" height="5.34" rx="1.7"/>
<rect x="319.7" y="61.4" width="5.55" height="5.34" rx="1.7"/>
<rect x="325.25" y="61.4" width="5.55" height="5.34" rx="1.7"/>
<rect x="330.81" y="61.4" width="5.55" height="5.34" rx="1.7"/>
<rect x="336.36" y="61.4" width="5.55" height="5.34" rx="1.7"/>
<rect x="341.91" y="61.4" width="5.55" height="5.34" rx="1.7"/>
<rect x="347.47" y="61.4" width="5.55" height="5.34" rx="1.7"/>
<rect x="353.02" y="61.4" width="5.55" height="5.34" rx="1.7"/>
<rect x="358.57" y="61.4" width="5.55" height="5.34" rx="1.7"/>
<rect x="364.13" y="61.4" width="5.55" height="5.34" rx="1.7"/>
<rect x="369.68" y="61.4" width="5.55" height="5.34" rx="1.7"/>
<rect x="375.23" y="61.4" width="5.55" height="5.34" rx="1.7"/>
<rect x="291.94" y="66.74" width="5.55" height="5.34" rx="1.7"/>
<rect x="297.49" y="66.74" width="5.55" height="5.34" rx="1.7"/>
<rect x="303.04" y="66.74" width="5.55" height="5.34" rx="1.7"/>
<rect x="308.6" y="66.74" width="5.55" height="5.34" rx="1.7"/>
<rect x="314.15" y="66.74" width="5.55" height="5.34" rx="1.7"/>
<rect x="319.7" y="66.74" width="5.55" height="5.34" rx="1.7"/>
<rect x="325.25" y="66.74" width="5.55" height="5.34" rx="1.7"/>
<rect x="330.81" y="66.74" width="5.55" height="5.34" rx="1.7"/>
<rect x="336.36" y="66.74" width="5.55" height="5.34" rx="1.7"/>
<rect x="341.91" y="66.74" width="5.55" height="5.34" rx="1.7"/>
<rect x="347.47" y="66.74" width="5.55" height="5.34" rx="1.7"/>
<rect x="353.02" y="66.74" width="5.55" height="5.34" rx="1.7"/>
<rect x="358.57" y="66.74" width="5.55" height="5.34" rx="1.7"/>
<rect x="364.13" y="66.74" width="5.55" height="5.34" rx="1.7"/>
<rect x="369.68" y="66.74" width="5.55" height="5.34" rx="1.7"/>
<rect x="291.94" y="72.08" width="5.55" height="5.34" rx="1.7"/>
<rect x="297.49" y="72.08" width="5.55" height="5.34" rx="1.7"/>
<rect x="303.04" y="72.08" width="5.55" height="5.34" rx="1.7"/>
<rect x="308.6" y="72.08" width="5.55" height="5.34" rx="1.7"/>
<rect x="314.15" y="72.08" width="5.55" height="5.34" rx="1.7"/>
<rect x="319.7" y="72.08" width="5.55" height="5.34" rx="1.7"/>
<rect x="325.25" y="72.08" width="5.55" height="5.34" rx="1.7"/>
<rect x="330.81" y="72.08" width="5.55" height="5.34" rx="1.7"/>
<rect x="336.36" y="72.08" width="5.55" height="5.34" rx="1.7"/>
<rect x="341.91" y="72.08" width="5.55" height="5.34" rx="1.7"/>
<rect x="347.47" y="72.08" width="5.55" height="5.34" rx="1.7"/>
<rect x="353.02" y="72.08" width="5.55" height="5.34" rx="1.7"/>
<rect x="358.57" y="72.08" width="5.55" height="5.34" rx="1.7"/>
<rect x="364.13" y="72.08" width="5.55" height="5.34" rx="1.7"/>
<rect x="291.94" y="77.42" width="5.55" height="5.34" rx="1.7"/>
<rect x="297.49" y="77.42" width="5.55" height="5.34" rx="1.7"/>
<rect x="303.04" y="77.42" width="5.55" height="5.34" rx="1.7"/>
<rect x="308.6" y="77.42" width="5.55" height="5.34" rx="1.7"/>
<rect x="314.15" y="77.42" width="5.55" height="5.34" rx="1.7"/>
<rect x="319.7" y="77.42" width="5.55" height="5.34" rx="1.7"/>
<rect x="325.25" y="77.42" width="5.55" height="5.34" rx="1.7"/>
<rect x="330.81" y="77.42" width="5.55" height="5.34" rx="1.7"/>
<rect x="336.36" y="77.42" width="5.55" height="5.34" rx="1.7"/>
<rect x="341.91" y="77.42" width="5.55" height="5.34" rx="1.7"/>
<rect x="347.47" y="77.42" width="5.55" height="5.34" rx="1.7"/>
<rect x="353.02" y="77.42" width="5.55" height="5.34" rx="1.7"/>
<rect x="358.57" y="77.42" width="5.55" height="5.34" rx="1.7"/>
<rect x="291.94" y="82.76" width="5.55" height="5.34" rx="1.7"/>
<rect x="297.49" y="82.76" width="5.55" height="5.34" rx="1.7"/>
<rect x="303.04" y="82.76" width="5.55" height="5.34" rx="1.7"/>
<rect x="308.6" y="82.76" width="5.55" height="5.34" rx="1.7"/>
<rect x="314.15" y="82.76" width="5.55" height="5.34" rx="1.7"/>
<rect x="319.7" y="82.76" width="5.55" height="5.34" rx="1.7"/>
<rect x="325.25" y="82.76" width="5.55" height="5.34" rx="1.7"/>
<rect x="330.81" y="82.76" width="5.55" height="5.34" rx="1.7"/>
<rect x="336.36" y="82.76" width="5.55" height="5.34" rx="1.7"/>
<rect x="341.91" y="82.76" width="5.55" height="5.34" rx="1.7"/>
<rect x="347.47" y="82.76" width="5.55" height="5.34" rx="1.7"/>
<rect x="353.02" y="82.76" width="5.55" height="5.34" rx="1.7"/>
<rect x="291.94" y="88.1" width="5.55" height="5.34" rx="1.7"/>
<rect x="297.49" y="88.1" width="5.55" height="5.34" rx="1.7"/>
<rect x="303.04" y="88.1" width="5.55" height="5.34" rx="1.7"/>
<rect x="308.6" y="88.1" width="5.55" height="5.34" rx="1.7"/>
<rect x="314.15" y="88.1" width="5.55" height="5.34" rx="1.7"/>
<rect x="319.7" y="88.1" width="5.55" height="5.34" rx="1.7"/>
<rect x="325.25" y="88.1" width="5.55" height="5.34" rx="1.7"/>
<rect x="330.81" y="88.1" width="5.55" height="5.34" rx="1.7"/>
<rect x="336.36" y="88.1" width="5.55" height="5.34" rx="1.7"/>
<rect x="341.91" y="88.1" width="5.55" height="5.34" rx="1.7"/>
<rect x="347.47" y="88.1" width="5.55" height="5.34" rx="1.7"/>
<rect x="291.94" y="93.44" width="5.55" height="5.34" rx="1.7"/>
<rect x="297.49" y="93.44" width="5.55" height="5.34" rx="1.7"/>
<rect x="303.04" y="93.44" width="5.55" height="5.34" rx="1.7"/>
<rect x="308.6" y="93.44" width="5.55" height="5.34" rx="1.7"/>
<rect x="314.15" y="93.44" width="5.55" height="5.34" rx="1.7"/>
<rect x="319.7" y="93.44" width="5.55" height="5.34" rx="1.7"/>
<rect x="325.25" y="93.44" width="5.55" height="5.34" rx="1.7"/>
<rect x="330.81" y="93.44" width="5.55" height="5.34" rx="1.7"/>
<rect x="336.36" y="93.44" width="5.55" height="5.34" rx="1.7"/>
<rect x="341.91" y="93.44" width="5.55" height="5.34" rx="1.7"/>
<rect x="347.47" y="93.44" width="5.55" height="5.34" rx="1.7"/>
<rect x="291.94" y="98.78" width="5.55" height="5.34" rx="1.7"/>
<rect x="297.49" y="98.78" width="5.55" height="5.34" rx="1.7"/>
<rect x="303.04" y="98.78" width="5.55" height="5.34" rx="1.7"/>
<rect x="308.6" y="98.78" width="5.55" height="5.34" rx="1.7"/>
<rect x="314.15" y="98.78" width="5.55" height="5.34" rx="1.7"/>
<rect x="319.7" y="98.78" width="5.55" height="5.34" rx="1.7"/>
<rect x="325.25" y="98.78" width="5.55" height="5.34" rx="1.7"/>
<rect x="330.81" y="98.78" width="5.55" height="5.34" rx="1.7"/>
<rect x="336.36" y="98.78" width="5.55" height="5.34" rx="1.7"/>
<rect x="341.91" y="98.78" width="5.55" height="5.34" rx="1.7"/>
<rect x="291.94" y="104.12" width="5.55" height="5.34" rx="1.7"/>
<rect x="297.49" y="104.12" width="5.55" height="5.34" rx="1.7"/>
<rect x="303.04" y="104.12" width="5.55" height="5.34" rx="1.7"/>
<rect x="308.6" y="104.12" width="5.55" height="5.34" rx="1.7"/>
<rect x="314.15" y="104.12" width="5.55" height="5.34" rx="1.7"/>
<rect x="319.7" y="104.12" width="5.55" height="5.34" rx="1.7"/>
<rect x="325.25" y="104.12" width="5.55" height="5.34" rx="1.7"/>
<rect x="330.81" y="104.12" width="5.55" height="5.34" rx="1.7"/>
<rect x="336.36" y="104.12" width="5.55" height="5.34" rx="1.7"/>
<rect x="341.91" y="104.12" width="5.55" height="5.34" rx="1.7"/>
<rect x="291.94" y="109.46" width="5.55" height="5.34" rx="1.7"/>
<rect x="297.49" y="109.46" width="5.55" height="5.34" rx="1.7"/>
<rect x="303.04" y="109.46" width="5.55" height="5.34" rx="1.7"/>
<rect x="308.6" y="109.46" width="5.55" height="5.34" rx="1.7"/>
<rect x="314.15" y="109.46" width="5.55" height="5.34" rx="1.7"/>
<rect x="319.7" y="109.46" width="5.55" height="5.34" rx="1.7"/>
<rect x="325.25" y="109.46" width="5.55" height="5.34" rx="1.7"/>
<rect x="330.81" y="109.46" width="5.55" height="5.34" rx="1.7"/>
<rect x="336.36" y="109.46" width="5.55" height="5.34" rx="1.7"/>
<rect x="291.94" y="114.8" width="5.55" height="5.34" rx="1.7"/>
<rect x="297.49" y="114.8" width="5.55" height="5.34" rx="1.7"/>
<rect x="303.04" y="114.8" width="5.55" height="5.34" rx="1.7"/>
<rect x="308.6" y="114.8" width="5.55" height="5.34" rx="1.7"/>
<rect x="314.15" y="114.8" width="5.55" height="5.34" rx="1.7"/>
<rect x="319.7" y="114.8" width="5.55" height="5.34" rx="1.7"/>
<rect x="325.25" y="114.8" width="5.55" height="5.34" rx="1.7"/>
<rect x="330.81" y="114.8" width="5.55" height="5.34" rx="1.7"/>
<rect x="336.36" y="114.8" width="5.55" height="5.34" rx="1.7"/>
<rect x="291.94" y="120.14" width="5.55" height="5.34" rx="1.7"/>
<rect x="297.49" y="120.14" width="5.55" height="5.34" rx="1.7"/>
<rect x="303.04" y="120.14" width="5.55" height="5.34" rx="1.7"/>
<rect x="308.6" y="120.14" width="5.55" height="5.34" rx="1.7"/>
<rect x="314.15" y="120.14" width="5.55" height="5.34" rx="1.7"/>
<rect x="319.7" y="120.14" width="5.55" height="5.34" rx="1.7"/>
<rect x="325.25" y="120.14" width="5.55" height="5.34" rx="1.7"/>
<rect x="330.81" y="120.14" width="5.55" height="5.34" rx="1.7"/>
<rect x="336.36" y="120.14" width="5.55" height="5.34" rx="1.7"/>
<rect x="291.94" y="125.48" width="5.55" height="5.34" rx="1.7"/>
<rect x="297.49" y="125.48" width="5.55" height="5.34" rx="1.7"/>
<rect x="303.04" y="125.48" width="5.55" height="5.34" rx="1.7"/>
<rect x="308.6" y="125.48" width="5.55" height="5.34" rx="1.7"/>
<rect x="314.15" y="125.48" width="5.55" height="5.34" rx="1.7"/>
<rect x="319.7" y="125.48" width="5.55" height="5.34" rx="1.7"/>
<rect x="325.25" y="125.48" width="5.55" height="5.34" rx="1.7"/>
<rect x="330.81" y="125.48" width="5.55" height="5.34" rx="1.7"/>
<rect x="291.94" y="130.82" width="5.55" height="5.34" rx="1.7"/>
<rect x="297.49" y="130.82" width="5.55" height="5.34" rx="1.7"/>
<rect x="303.04" y="130.82" width="5.55" height="5.34" rx="1.7"/>
<rect x="308.6" y="130.82" width="5.55" height="5.34" rx="1.7"/>
<rect x="314.15" y="130.82" width="5.55" height="5.34" rx="1.7"/>
<rect x="319.7" y="130.82" width="5.55" height="5.34" rx="1.7"/>
<rect x="325.25" y="130.82" width="5.55" height="5.34" rx="1.7"/>
<rect x="330.81" y="130.82" width="5.55" height="5.34" rx="1.7"/>
<rect x="291.94" y="136.16" width="5.55" height="5.34" rx="1.7"/>
<rect x="297.49" y="136.16" width="5.55" height="5.34" rx="1.7"/>
<rect x="303.04" y="136.16" width="5.55" height="5.34" rx="1.7"/>
<rect x="308.6" y="136.16" width="5.55" height="5.34" rx="1.7"/>
<rect x="314.15" y="136.16" width="5.55" height="5.34" rx="1.7"/>
<rect x="319.7" y="136.16" width="5.55" height="5.34" rx="1.7"/>
<rect x="325.25" y="136.16" width="5.55" height="5.34" rx="1.7"/>
<rect x="330.81" y="136.16" width="5.55" height="5.34" rx="1.7"/>
<rect x="291.94" y="141.5" width="5.55" height="5.34" rx="1.7"/>
<rect x="297.49" y="141.5" width="5.55" height="5.34" rx="1.7"/>
<rect x="303.04" y="141.5" width="5.55" height="5.34" rx="1.7"/>
<rect x="308.6" y="141.5" width="5.55" height="5.34" rx="1.7"/>
<rect x="314.15" y="141.5" width="5.55" height="5.34" rx="1.7"/>
<rect x="319.7" y="141.5" width="5.55" height="5.34" rx="1.7"/>
<rect x="325.25" y="141.5" width="5.55" height="5.34" rx="1.7"/>
<rect x="330.81" y="141.5" width="5.55" height="5.34" rx="1.7"/>
<rect x="291.94" y="146.85" width="5.55" height="5.34" rx="1.7"/>
<rect x="297.49" y="146.85" width="5.55" height="5.34" rx="1.7"/>
<rect x="303.04" y="146.85" width="5.55" height="5.34" rx="1.7"/>
<rect x="308.6" y="146.85" width="5.55" height="5.34" rx="1.7"/>
<rect x="314.15" y="146.85" width="5.55" height="5.34" rx="1.7"/>
<rect x="319.7" y="146.85" width="5.55" height="5.34" rx="1.7"/>
<rect x="325.25" y="146.85" width="5.55" height="5.34" rx="1.7"/>
<rect x="291.94" y="152.19" width="5.55" height="5.34" rx="1.7"/>
<rect x="297.49" y="152.19" width="5.55" height="5.34" rx="1.7"/>
<rect x="303.04" y="152.19" width="5.55" height="5.34" rx="1.7"/>
<rect x="308.6" y="152.19" width="5.55" height="5.34" rx="1.7"/>
<rect x="314.15" y="152.19" width="5.55" height="5.34" rx="1.7"/>
<rect x="319.7" y="152.19" width="5.55" height="5.34" rx="1.7"/>
<rect x="325.25" y="152.19" width="5.55" height="5.34" rx="1.7"/>
<rect x="291.94" y="157.53" width="5.55" height="5.34" rx="1.7"/>
<rect x="297.49" y="157.53" width="5.55" height="5.34" rx="1.7"/>
<rect x="303.04" y="157.53" width="5.55" height="5.34" rx="1.7"/>
<rect x="308.6" y="157.53" width="5.55" height="5.34" rx="1.7"/>
<rect x="314.15" y="157.53" width="5.55" height="5.34" rx="1.7"/>
<rect x="319.7" y="157.53" width="5.55" height="5.34" rx="1.7"/>
<rect x="325.25" y="157.53" width="5.55" height="5.34" rx="1.7"/>
<rect x="291.94" y="162.87" width="5.55" height="5.34" rx="1.7"/>
<rect x="297.49" y="162.87" width="5.55" height="5.34" rx="1.7"/>
<rect x="303.04" y="162.87" width="5.55" height="5.34" rx="1.7"/>
<rect x="308.6" y="162.87" width="5.55" height="5.34" rx="1.7"/>
<rect x="314.15" y="162.87" width="5.55" height="5.34" rx="1.7"/>
<rect x="319.7" y="162.87" width="5.55" height="5.34" rx="1.7"/>
<rect x="325.25" y="162.87" width="5.55" height="5.34" rx="1.7"/>
</g>
<rect x="272.5" y="16" width="177.7" height="170.9" fill="none" stroke="#222" stroke-width="1.1"/>
<path d="M279.19,186.9v-2.4M279.19,16v2.4M272.5,180.47h2.4M450.2,180.47h-2.4M283.1,186.9v-2.4M283.1,16v2.4M272.5,176.71h2.4M450.2,176.71h-2.4M285.87,186.9v-2.4M285.87,16v2.4M272.5,174.04h2.4M450.2,174.04h-2.4M288.03,186.9v-2.4M288.03,16v2.4M272.5,171.97h2.4M450.2,171.97h-2.4M289.78,186.9v-2.4M289.78,16v2.4M272.5,170.28h2.4M450.2,170.28h-2.4M291.27,186.9v-2.4M291.27,16v2.4M272.5,168.85h2.4M450.2,168.85h-2.4M292.56,186.9v-2.4M292.56,16v2.4M272.5,167.61h2.4M450.2,167.61h-2.4M293.7,186.9v-2.4M293.7,16v2.4M272.5,166.51h2.4M450.2,166.51h-2.4M294.71,186.9v-4.8M294.71,16v4.8M272.5,165.54h4.8M450.2,165.54h-4.8M301.4,186.9v-2.4M301.4,16v2.4M272.5,159.11h2.4M450.2,159.11h-2.4M305.31,186.9v-2.4M305.31,16v2.4M272.5,155.34h2.4M450.2,155.34h-2.4M308.09,186.9v-2.4M308.09,16v2.4M272.5,152.68h2.4M450.2,152.68h-2.4M310.24,186.9v-2.4M310.24,16v2.4M272.5,150.61h2.4M450.2,150.61h-2.4M312,186.9v-2.4M312,16v2.4M272.5,148.91h2.4M450.2,148.91h-2.4M313.48,186.9v-2.4M313.48,16v2.4M272.5,147.48h2.4M450.2,147.48h-2.4M314.77,186.9v-2.4M314.77,16v2.4M272.5,146.25h2.4M450.2,146.25h-2.4M315.91,186.9v-2.4M315.91,16v2.4M272.5,145.15h2.4M450.2,145.15h-2.4M316.93,186.9v-4.8M316.93,16v4.8M272.5,144.18h4.8M450.2,144.18h-4.8M323.61,186.9v-2.4M323.61,16v2.4M272.5,137.74h2.4M450.2,137.74h-2.4M327.52,186.9v-2.4M327.52,16v2.4M272.5,133.98h2.4M450.2,133.98h-2.4M330.3,186.9v-2.4M330.3,16v2.4M272.5,131.31h2.4M450.2,131.31h-2.4M332.45,186.9v-2.4M332.45,16v2.4M272.5,129.24h2.4M450.2,129.24h-2.4M334.21,186.9v-2.4M334.21,16v2.4M272.5,127.55h2.4M450.2,127.55h-2.4M335.7,186.9v-2.4M335.7,16v2.4M272.5,126.12h2.4M450.2,126.12h-2.4M336.98,186.9v-2.4M336.98,16v2.4M272.5,124.88h2.4M450.2,124.88h-2.4M338.12,186.9v-2.4M338.12,16v2.4M272.5,123.79h2.4M450.2,123.79h-2.4M339.14,186.9v-4.8M339.14,16v4.8M272.5,122.81h4.8M450.2,122.81h-4.8M345.82,186.9v-2.4M345.82,16v2.4M272.5,116.38h2.4M450.2,116.38h-2.4M349.74,186.9v-2.4M349.74,16v2.4M272.5,112.62h2.4M450.2,112.62h-2.4M352.51,186.9v-2.4M352.51,16v2.4M272.5,109.95h2.4M450.2,109.95h-2.4M354.66,186.9v-2.4M354.66,16v2.4M272.5,107.88h2.4M450.2,107.88h-2.4M356.42,186.9v-2.4M356.42,16v2.4M272.5,106.19h2.4M450.2,106.19h-2.4M357.91,186.9v-2.4M357.91,16v2.4M272.5,104.76h2.4M450.2,104.76h-2.4M359.2,186.9v-2.4M359.2,16v2.4M272.5,103.52h2.4M450.2,103.52h-2.4M360.33,186.9v-2.4M360.33,16v2.4M272.5,102.43h2.4M450.2,102.43h-2.4M361.35,186.9v-4.8M361.35,16v4.8M272.5,101.45h4.8M450.2,101.45h-4.8M368.04,186.9v-2.4M368.04,16v2.4M272.5,95.02h2.4M450.2,95.02h-2.4M371.95,186.9v-2.4M371.95,16v2.4M272.5,91.26h2.4M450.2,91.26h-2.4M374.72,186.9v-2.4M374.72,16v2.4M272.5,88.59h2.4M450.2,88.59h-2.4M376.88,186.9v-2.4M376.88,16v2.4M272.5,86.52h2.4M450.2,86.52h-2.4M378.63,186.9v-2.4M378.63,16v2.4M272.5,84.83h2.4M450.2,84.83h-2.4M380.12,186.9v-2.4M380.12,16v2.4M272.5,83.4h2.4M450.2,83.4h-2.4M381.41,186.9v-2.4M381.41,16v2.4M272.5,82.16h2.4M450.2,82.16h-2.4M382.55,186.9v-2.4M382.55,16v2.4M272.5,81.06h2.4M450.2,81.06h-2.4M383.56,186.9v-4.8M383.56,16v4.8M272.5,80.09h4.8M450.2,80.09h-4.8M390.25,186.9v-2.4M390.25,16v2.4M272.5,73.66h2.4M450.2,73.66h-2.4M394.16,186.9v-2.4M394.16,16v2.4M272.5,69.89h2.4M450.2,69.89h-2.4M396.94,186.9v-2.4M396.94,16v2.4M272.5,67.23h2.4M450.2,67.23h-2.4M399.09,186.9v-2.4M399.09,16v2.4M272.5,65.16h2.4M450.2,65.16h-2.4M400.85,186.9v-2.4M400.85,16v2.4M272.5,63.46h2.4M450.2,63.46h-2.4M402.33,186.9v-2.4M402.33,16v2.4M272.5,62.03h2.4M450.2,62.03h-2.4M403.62,186.9v-2.4M403.62,16v2.4M272.5,60.8h2.4M450.2,60.8h-2.4M404.76,186.9v-2.4M404.76,16v2.4M272.5,59.7h2.4M450.2,59.7h-2.4M405.77,186.9v-4.8M405.77,16v4.8M272.5,58.72h4.8M450.2,58.72h-4.8M412.46,186.9v-2.4M412.46,16v2.4M272.5,52.29h2.4M450.2,52.29h-2.4M416.37,186.9v-2.4M416.37,16v2.4M272.5,48.53h2.4M450.2,48.53h-2.4M419.15,186.9v-2.4M419.15,16v2.4M272.5,45.86h2.4M450.2,45.86h-2.4M421.3,186.9v-2.4M421.3,16v2.4M272.5,43.79h2.4M450.2,43.79h-2.4M423.06,186.9v-2.4M423.06,16v2.4M272.5,42.1h2.4M450.2,42.1h-2.4M424.55,186.9v-2.4M424.55,16v2.4M272.5,40.67h2.4M450.2,40.67h-2.4M425.83,186.9v-2.4M425.83,16v2.4M272.5,39.43h2.4M450.2,39.43h-2.4M426.97,186.9v-2.4M426.97,16v2.4M272.5,38.34h2.4M450.2,38.34h-2.4M427.99,186.9v-4.8M427.99,16v4.8M272.5,37.36h4.8M450.2,37.36h-4.8M434.67,186.9v-2.4M434.67,16v2.4M272.5,30.93h2.4M450.2,30.93h-2.4M438.59,186.9v-2.4M438.59,16v2.4M272.5,27.17h2.4M450.2,27.17h-2.4M441.36,186.9v-2.4M441.36,16v2.4M272.5,24.5h2.4M450.2,24.5h-2.4M443.51,186.9v-2.4M443.51,16v2.4M272.5,22.43h2.4M450.2,22.43h-2.4M445.27,186.9v-2.4M445.27,16v2.4M272.5,20.74h2.4M450.2,20.74h-2.4M446.76,186.9v-2.4M446.76,16v2.4M272.5,19.31h2.4M450.2,19.31h-2.4M448.05,186.9v-2.4M448.05,16v2.4M272.5,18.07h2.4M450.2,18.07h-2.4M449.18,186.9v-2.4M449.18,16v2.4M272.5,16.98h2.4M450.2,16.98h-2.4" stroke="#000" stroke-width="0.8" fill="none"/>
<g font-size="8.3" fill="#111" font-weight="bold">
<text x="272.2" y="196.1" text-anchor="middle">10<tspan font-size="6" dy="-4.3">-4</tspan></text>
<text x="268.9" y="189.6" text-anchor="end">10<tspan font-size="6" dy="-4.3">-4</tspan></text>
<text x="294.41" y="196.1" text-anchor="middle">10<tspan font-size="6" dy="-4.3">-3</tspan></text>
<text x="268.9" y="168.24" text-anchor="end">10<tspan font-size="6" dy="-4.3">-3</tspan></text>
<text x="316.62" y="196.1" text-anchor="middle">10<tspan font-size="6" dy="-4.3">-2</tspan></text>
<text x="268.9" y="146.88" text-anchor="end">10<tspan font-size="6" dy="-4.3">-2</tspan></text>
<text x="338.84" y="196.1" text-anchor="middle">10<tspan font-size="6" dy="-4.3">-1</tspan></text>
<text x="268.9" y="125.51" text-anchor="end">10<tspan font-size="6" dy="-4.3">-1</tspan></text>
<text x="361.05" y="196.1" text-anchor="middle">10<tspan font-size="6" dy="-4.3">0</tspan></text>
<text x="268.9" y="104.15" text-anchor="end">10<tspan font-size="6" dy="-4.3">0</tspan></text>
<text x="383.26" y="196.1" text-anchor="middle">10<tspan font-size="6" dy="-4.3">1</tspan></text>
<text x="268.9" y="82.79" text-anchor="end">10<tspan font-size="6" dy="-4.3">1</tspan></text>
<text x="405.47" y="196.1" text-anchor="middle">10<tspan font-size="6" dy="-4.3">2</tspan></text>
<text x="268.9" y="61.42" text-anchor="end">10<tspan font-size="6" dy="-4.3">2</tspan></text>
<text x="427.69" y="196.1" text-anchor="middle">10<tspan font-size="6" dy="-4.3">3</tspan></text>
<text x="268.9" y="40.06" text-anchor="end">10<tspan font-size="6" dy="-4.3">3</tspan></text>
<text x="449.9" y="196.1" text-anchor="middle">10<tspan font-size="6" dy="-4.3">4</tspan></text>
<text x="268.9" y="18.7" text-anchor="end">10<tspan font-size="6" dy="-4.3">4</tspan></text>
</g>
<circle cx="292.4" cy="7.2" r="2.75" fill="#8a8a8a" stroke="#444" stroke-width="0.7"/>
<text x="296.8" y="11.6" font-size="12.4" font-weight="bold">T95 &gt; 200 sec</text>
<text x="446.3" y="28.8" font-size="11" text-anchor="end" stroke="#000" stroke-width="0.3"><tspan font-style="italic">k</tspan><tspan font-size="8.5" font-style="italic" dy="1">a</tspan><tspan dy="-1"> = 0.01/(nM sec)</tspan></text>
<text x="362.4" y="211" font-size="12.2" font-weight="normal" stroke="#000" stroke-width="0.4" text-anchor="middle"><tspan font-style="italic">k</tspan><tspan font-size="9.5" font-style="italic" dy="0.8">c</tspan><tspan dy="-0.8"> (1/sec)</tspan></text>
<text transform="translate(247.8,105.7) rotate(-90)" font-size="12.2" font-weight="normal" stroke="#000" stroke-width="0.4" text-anchor="middle"><tspan font-style="italic">k</tspan><tspan font-size="9.5" font-style="italic" dy="0.8">d</tspan><tspan dy="-0.8"> (1/sec)</tspan></text>
<g stroke="#505050" stroke-width="0.8" fill="#fff">
<rect x="522.14" y="34.49" width="5.53" height="5.34" rx="1.7"/>
<rect x="527.66" y="34.49" width="5.53" height="5.34" rx="1.7"/>
<rect x="533.19" y="34.49" width="5.53" height="5.34" rx="1.7"/>
<rect x="538.71" y="34.49" width="5.53" height="5.34" rx="1.7"/>
<rect x="544.24" y="34.49" width="5.53" height="5.34" rx="1.7"/>
<rect x="549.76" y="34.49" width="5.53" height="5.34" rx="1.7"/>
<rect x="555.29" y="34.49" width="5.53" height="5.34" rx="1.7"/>
<rect x="560.81" y="34.49" width="5.53" height="5.34" rx="1.7"/>
<rect x="566.34" y="34.49" width="5.53" height="5.34" rx="1.7"/>
<rect x="571.86" y="34.49" width="5.53" height="5.34" rx="1.7"/>
<rect x="577.39" y="34.49" width="5.53" height="5.34" rx="1.7"/>
<rect x="582.91" y="34.49" width="5.53" height="5.34" rx="1.7"/>
<rect x="588.44" y="34.49" width="5.53" height="5.34" rx="1.7"/>
<rect x="593.96" y="34.49" width="5.53" height="5.34" rx="1.7"/>
<rect x="599.49" y="34.49" width="5.53" height="5.34" rx="1.7"/>
<rect x="522.14" y="39.83" width="5.53" height="5.34" rx="1.7"/>
<rect x="527.66" y="39.83" width="5.53" height="5.34" rx="1.7"/>
<rect x="533.19" y="39.83" width="5.53" height="5.34" rx="1.7"/>
<rect x="538.71" y="39.83" width="5.53" height="5.34" rx="1.7"/>
<rect x="544.24" y="39.83" width="5.53" height="5.34" rx="1.7"/>
<rect x="549.76" y="39.83" width="5.53" height="5.34" rx="1.7"/>
<rect x="555.29" y="39.83" width="5.53" height="5.34" rx="1.7"/>
<rect x="560.81" y="39.83" width="5.53" height="5.34" rx="1.7"/>
<rect x="566.34" y="39.83" width="5.53" height="5.34" rx="1.7"/>
<rect x="571.86" y="39.83" width="5.53" height="5.34" rx="1.7"/>
<rect x="577.39" y="39.83" width="5.53" height="5.34" rx="1.7"/>
<rect x="582.91" y="39.83" width="5.53" height="5.34" rx="1.7"/>
<rect x="588.44" y="39.83" width="5.53" height="5.34" rx="1.7"/>
<rect x="593.96" y="39.83" width="5.53" height="5.34" rx="1.7"/>
<rect x="522.14" y="45.17" width="5.53" height="5.34" rx="1.7"/>
<rect x="527.66" y="45.17" width="5.53" height="5.34" rx="1.7"/>
<rect x="533.19" y="45.17" width="5.53" height="5.34" rx="1.7"/>
<rect x="538.71" y="45.17" width="5.53" height="5.34" rx="1.7"/>
<rect x="544.24" y="45.17" width="5.53" height="5.34" rx="1.7"/>
<rect x="549.76" y="45.17" width="5.53" height="5.34" rx="1.7"/>
<rect x="555.29" y="45.17" width="5.53" height="5.34" rx="1.7"/>
<rect x="560.81" y="45.17" width="5.53" height="5.34" rx="1.7"/>
<rect x="566.34" y="45.17" width="5.53" height="5.34" rx="1.7"/>
<rect x="571.86" y="45.17" width="5.53" height="5.34" rx="1.7"/>
<rect x="577.39" y="45.17" width="5.53" height="5.34" rx="1.7"/>
<rect x="582.91" y="45.17" width="5.53" height="5.34" rx="1.7"/>
<rect x="588.44" y="45.17" width="5.53" height="5.34" rx="1.7"/>
<rect x="522.14" y="50.51" width="5.53" height="5.34" rx="1.7"/>
<rect x="527.66" y="50.51" width="5.53" height="5.34" rx="1.7"/>
<rect x="533.19" y="50.51" width="5.53" height="5.34" rx="1.7"/>
<rect x="538.71" y="50.51" width="5.53" height="5.34" rx="1.7"/>
<rect x="544.24" y="50.51" width="5.53" height="5.34" rx="1.7"/>
<rect x="549.76" y="50.51" width="5.53" height="5.34" rx="1.7"/>
<rect x="555.29" y="50.51" width="5.53" height="5.34" rx="1.7"/>
<rect x="560.81" y="50.51" width="5.53" height="5.34" rx="1.7"/>
<rect x="566.34" y="50.51" width="5.53" height="5.34" rx="1.7"/>
<rect x="571.86" y="50.51" width="5.53" height="5.34" rx="1.7"/>
<rect x="577.39" y="50.51" width="5.53" height="5.34" rx="1.7"/>
<rect x="582.91" y="50.51" width="5.53" height="5.34" rx="1.7"/>
<rect x="522.14" y="55.85" width="5.53" height="5.34" rx="1.7"/>
<rect x="527.66" y="55.85" width="5.53" height="5.34" rx="1.7"/>
<rect x="533.19" y="55.85" width="5.53" height="5.34" rx="1.7"/>
<rect x="538.71" y="55.85" width="5.53" height="5.34" rx="1.7"/>
<rect x="544.24" y="55.85" width="5.53" height="5.34" rx="1.7"/>
<rect x="549.76" y="55.85" width="5.53" height="5.34" rx="1.7"/>
<rect x="555.29" y="55.85" width="5.53" height="5.34" rx="1.7"/>
<rect x="560.81" y="55.85" width="5.53" height="5.34" rx="1.7"/>
<rect x="566.34" y="55.85" width="5.53" height="5.34" rx="1.7"/>
<rect x="571.86" y="55.85" width="5.53" height="5.34" rx="1.7"/>
<rect x="577.39" y="55.85" width="5.53" height="5.34" rx="1.7"/>
<rect x="522.14" y="61.2" width="5.53" height="5.34" rx="1.7"/>
<rect x="527.66" y="61.2" width="5.53" height="5.34" rx="1.7"/>
<rect x="533.19" y="61.2" width="5.53" height="5.34" rx="1.7"/>
<rect x="538.71" y="61.2" width="5.53" height="5.34" rx="1.7"/>
<rect x="544.24" y="61.2" width="5.53" height="5.34" rx="1.7"/>
<rect x="549.76" y="61.2" width="5.53" height="5.34" rx="1.7"/>
<rect x="555.29" y="61.2" width="5.53" height="5.34" rx="1.7"/>
<rect x="560.81" y="61.2" width="5.53" height="5.34" rx="1.7"/>
<rect x="566.34" y="61.2" width="5.53" height="5.34" rx="1.7"/>
<rect x="571.86" y="61.2" width="5.53" height="5.34" rx="1.7"/>
<rect x="522.14" y="66.54" width="5.53" height="5.34" rx="1.7"/>
<rect x="527.66" y="66.54" width="5.53" height="5.34" rx="1.7"/>
<rect x="533.19" y="66.54" width="5.53" height="5.34" rx="1.7"/>
<rect x="538.71" y="66.54" width="5.53" height="5.34" rx="1.7"/>
<rect x="544.24" y="66.54" width="5.53" height="5.34" rx="1.7"/>
<rect x="549.76" y="66.54" width="5.53" height="5.34" rx="1.7"/>
<rect x="555.29" y="66.54" width="5.53" height="5.34" rx="1.7"/>
<rect x="560.81" y="66.54" width="5.53" height="5.34" rx="1.7"/>
<rect x="566.34" y="66.54" width="5.53" height="5.34" rx="1.7"/>
<rect x="522.14" y="71.88" width="5.53" height="5.34" rx="1.7"/>
<rect x="527.66" y="71.88" width="5.53" height="5.34" rx="1.7"/>
<rect x="533.19" y="71.88" width="5.53" height="5.34" rx="1.7"/>
<rect x="538.71" y="71.88" width="5.53" height="5.34" rx="1.7"/>
<rect x="544.24" y="71.88" width="5.53" height="5.34" rx="1.7"/>
<rect x="549.76" y="71.88" width="5.53" height="5.34" rx="1.7"/>
<rect x="555.29" y="71.88" width="5.53" height="5.34" rx="1.7"/>
<rect x="560.81" y="71.88" width="5.53" height="5.34" rx="1.7"/>
<rect x="566.34" y="71.88" width="5.53" height="5.34" rx="1.7"/>
<rect x="522.14" y="77.22" width="5.53" height="5.34" rx="1.7"/>
<rect x="527.66" y="77.22" width="5.53" height="5.34" rx="1.7"/>
<rect x="533.19" y="77.22" width="5.53" height="5.34" rx="1.7"/>
<rect x="538.71" y="77.22" width="5.53" height="5.34" rx="1.7"/>
<rect x="544.24" y="77.22" width="5.53" height="5.34" rx="1.7"/>
<rect x="549.76" y="77.22" width="5.53" height="5.34" rx="1.7"/>
<rect x="555.29" y="77.22" width="5.53" height="5.34" rx="1.7"/>
<rect x="560.81" y="77.22" width="5.53" height="5.34" rx="1.7"/>
<rect x="522.14" y="82.56" width="5.53" height="5.34" rx="1.7"/>
<rect x="527.66" y="82.56" width="5.53" height="5.34" rx="1.7"/>
<rect x="533.19" y="82.56" width="5.53" height="5.34" rx="1.7"/>
<rect x="538.71" y="82.56" width="5.53" height="5.34" rx="1.7"/>
<rect x="544.24" y="82.56" width="5.53" height="5.34" rx="1.7"/>
<rect x="549.76" y="82.56" width="5.53" height="5.34" rx="1.7"/>
<rect x="555.29" y="82.56" width="5.53" height="5.34" rx="1.7"/>
<rect x="522.14" y="87.9" width="5.53" height="5.34" rx="1.7"/>
<rect x="527.66" y="87.9" width="5.53" height="5.34" rx="1.7"/>
<rect x="533.19" y="87.9" width="5.53" height="5.34" rx="1.7"/>
<rect x="538.71" y="87.9" width="5.53" height="5.34" rx="1.7"/>
<rect x="544.24" y="87.9" width="5.53" height="5.34" rx="1.7"/>
<rect x="549.76" y="87.9" width="5.53" height="5.34" rx="1.7"/>
<rect x="522.14" y="93.24" width="5.53" height="5.34" rx="1.7"/>
<rect x="527.66" y="93.24" width="5.53" height="5.34" rx="1.7"/>
<rect x="533.19" y="93.24" width="5.53" height="5.34" rx="1.7"/>
<rect x="538.71" y="93.24" width="5.53" height="5.34" rx="1.7"/>
<rect x="544.24" y="93.24" width="5.53" height="5.34" rx="1.7"/>
<rect x="549.76" y="93.24" width="5.53" height="5.34" rx="1.7"/>
<rect x="522.14" y="98.58" width="5.53" height="5.34" rx="1.7"/>
<rect x="527.66" y="98.58" width="5.53" height="5.34" rx="1.7"/>
<rect x="533.19" y="98.58" width="5.53" height="5.34" rx="1.7"/>
<rect x="538.71" y="98.58" width="5.53" height="5.34" rx="1.7"/>
<rect x="544.24" y="98.58" width="5.53" height="5.34" rx="1.7"/>
<rect x="522.14" y="103.92" width="5.53" height="5.34" rx="1.7"/>
<rect x="527.66" y="103.92" width="5.53" height="5.34" rx="1.7"/>
<rect x="533.19" y="103.92" width="5.53" height="5.34" rx="1.7"/>
<rect x="538.71" y="103.92" width="5.53" height="5.34" rx="1.7"/>
<rect x="544.24" y="103.92" width="5.53" height="5.34" rx="1.7"/>
<rect x="522.14" y="109.26" width="5.53" height="5.34" rx="1.7"/>
<rect x="527.66" y="109.26" width="5.53" height="5.34" rx="1.7"/>
<rect x="533.19" y="109.26" width="5.53" height="5.34" rx="1.7"/>
<rect x="538.71" y="109.26" width="5.53" height="5.34" rx="1.7"/>
<rect x="544.24" y="109.26" width="5.53" height="5.34" rx="1.7"/>
<rect x="522.14" y="114.6" width="5.53" height="5.34" rx="1.7"/>
<rect x="527.66" y="114.6" width="5.53" height="5.34" rx="1.7"/>
<rect x="533.19" y="114.6" width="5.53" height="5.34" rx="1.7"/>
<rect x="538.71" y="114.6" width="5.53" height="5.34" rx="1.7"/>
<rect x="522.14" y="119.94" width="5.53" height="5.34" rx="1.7"/>
<rect x="527.66" y="119.94" width="5.53" height="5.34" rx="1.7"/>
<rect x="533.19" y="119.94" width="5.53" height="5.34" rx="1.7"/>
<rect x="538.71" y="119.94" width="5.53" height="5.34" rx="1.7"/>
<rect x="522.14" y="125.28" width="5.53" height="5.34" rx="1.7"/>
<rect x="527.66" y="125.28" width="5.53" height="5.34" rx="1.7"/>
<rect x="533.19" y="125.28" width="5.53" height="5.34" rx="1.7"/>
<rect x="538.71" y="125.28" width="5.53" height="5.34" rx="1.7"/>
<rect x="522.14" y="130.62" width="5.53" height="5.34" rx="1.7"/>
<rect x="527.66" y="130.62" width="5.53" height="5.34" rx="1.7"/>
<rect x="533.19" y="130.62" width="5.53" height="5.34" rx="1.7"/>
<rect x="538.71" y="130.62" width="5.53" height="5.34" rx="1.7"/>
<rect x="522.14" y="135.96" width="5.53" height="5.34" rx="1.7"/>
<rect x="527.66" y="135.96" width="5.53" height="5.34" rx="1.7"/>
<rect x="533.19" y="135.96" width="5.53" height="5.34" rx="1.7"/>
<rect x="538.71" y="135.96" width="5.53" height="5.34" rx="1.7"/>
<rect x="544.24" y="135.96" width="5.53" height="5.34" rx="1.7"/>
<rect x="522.14" y="141.3" width="5.53" height="5.34" rx="1.7"/>
<rect x="527.66" y="141.3" width="5.53" height="5.34" rx="1.7"/>
<rect x="533.19" y="141.3" width="5.53" height="5.34" rx="1.7"/>
<rect x="538.71" y="141.3" width="5.53" height="5.34" rx="1.7"/>
<rect x="544.24" y="141.3" width="5.53" height="5.34" rx="1.7"/>
<rect x="522.14" y="146.65" width="5.53" height="5.34" rx="1.7"/>
<rect x="527.66" y="146.65" width="5.53" height="5.34" rx="1.7"/>
<rect x="533.19" y="146.65" width="5.53" height="5.34" rx="1.7"/>
<rect x="538.71" y="146.65" width="5.53" height="5.34" rx="1.7"/>
<rect x="544.24" y="146.65" width="5.53" height="5.34" rx="1.7"/>
<rect x="549.76" y="146.65" width="5.53" height="5.34" rx="1.7"/>
<rect x="522.14" y="151.99" width="5.53" height="5.34" rx="1.7"/>
<rect x="527.66" y="151.99" width="5.53" height="5.34" rx="1.7"/>
<rect x="533.19" y="151.99" width="5.53" height="5.34" rx="1.7"/>
<rect x="538.71" y="151.99" width="5.53" height="5.34" rx="1.7"/>
<rect x="544.24" y="151.99" width="5.53" height="5.34" rx="1.7"/>
<rect x="549.76" y="151.99" width="5.53" height="5.34" rx="1.7"/>
<rect x="522.14" y="157.33" width="5.53" height="5.34" rx="1.7"/>
<rect x="527.66" y="157.33" width="5.53" height="5.34" rx="1.7"/>
<rect x="533.19" y="157.33" width="5.53" height="5.34" rx="1.7"/>
<rect x="538.71" y="157.33" width="5.53" height="5.34" rx="1.7"/>
<rect x="544.24" y="157.33" width="5.53" height="5.34" rx="1.7"/>
<rect x="549.76" y="157.33" width="5.53" height="5.34" rx="1.7"/>
<rect x="522.14" y="162.67" width="5.53" height="5.34" rx="1.7"/>
<rect x="527.66" y="162.67" width="5.53" height="5.34" rx="1.7"/>
<rect x="533.19" y="162.67" width="5.53" height="5.34" rx="1.7"/>
<rect x="538.71" y="162.67" width="5.53" height="5.34" rx="1.7"/>
<rect x="544.24" y="162.67" width="5.53" height="5.34" rx="1.7"/>
<rect x="549.76" y="162.67" width="5.53" height="5.34" rx="1.7"/>
</g>
<g stroke="#080808" stroke-width="0.9" fill="#9c9c9c">
<rect x="605.01" y="34.49" width="5.53" height="5.34" rx="1.7"/>
<rect x="610.54" y="34.49" width="5.53" height="5.34" rx="1.7"/>
<rect x="616.06" y="34.49" width="5.53" height="5.34" rx="1.7"/>
<rect x="621.59" y="34.49" width="5.53" height="5.34" rx="1.7"/>
<rect x="627.11" y="34.49" width="5.53" height="5.34" rx="1.7"/>
<rect x="632.64" y="34.49" width="5.53" height="5.34" rx="1.7"/>
<rect x="638.16" y="34.49" width="5.53" height="5.34" rx="1.7"/>
<rect x="643.69" y="34.49" width="5.53" height="5.34" rx="1.7"/>
<rect x="649.21" y="34.49" width="5.53" height="5.34" rx="1.7"/>
<rect x="654.74" y="34.49" width="5.53" height="5.34" rx="1.7"/>
<rect x="599.49" y="39.83" width="5.53" height="5.34" rx="1.7"/>
<rect x="605.01" y="39.83" width="5.53" height="5.34" rx="1.7"/>
<rect x="610.54" y="39.83" width="5.53" height="5.34" rx="1.7"/>
<rect x="616.06" y="39.83" width="5.53" height="5.34" rx="1.7"/>
<rect x="621.59" y="39.83" width="5.53" height="5.34" rx="1.7"/>
<rect x="627.11" y="39.83" width="5.53" height="5.34" rx="1.7"/>
<rect x="632.64" y="39.83" width="5.53" height="5.34" rx="1.7"/>
<rect x="638.16" y="39.83" width="5.53" height="5.34" rx="1.7"/>
<rect x="643.69" y="39.83" width="5.53" height="5.34" rx="1.7"/>
<rect x="649.21" y="39.83" width="5.53" height="5.34" rx="1.7"/>
<rect x="654.74" y="39.83" width="5.53" height="5.34" rx="1.7"/>
<rect x="593.96" y="45.17" width="5.53" height="5.34" rx="1.7"/>
<rect x="599.49" y="45.17" width="5.53" height="5.34" rx="1.7"/>
<rect x="605.01" y="45.17" width="5.53" height="5.34" rx="1.7"/>
<rect x="610.54" y="45.17" width="5.53" height="5.34" rx="1.7"/>
<rect x="616.06" y="45.17" width="5.53" height="5.34" rx="1.7"/>
<rect x="621.59" y="45.17" width="5.53" height="5.34" rx="1.7"/>
<rect x="627.11" y="45.17" width="5.53" height="5.34" rx="1.7"/>
<rect x="632.64" y="45.17" width="5.53" height="5.34" rx="1.7"/>
<rect x="638.16" y="45.17" width="5.53" height="5.34" rx="1.7"/>
<rect x="643.69" y="45.17" width="5.53" height="5.34" rx="1.7"/>
<rect x="649.21" y="45.17" width="5.53" height="5.34" rx="1.7"/>
<rect x="654.74" y="45.17" width="5.53" height="5.34" rx="1.7"/>
<rect x="588.44" y="50.51" width="5.53" height="5.34" rx="1.7"/>
<rect x="593.96" y="50.51" width="5.53" height="5.34" rx="1.7"/>
<rect x="599.49" y="50.51" width="5.53" height="5.34" rx="1.7"/>
<rect x="605.01" y="50.51" width="5.53" height="5.34" rx="1.7"/>
<rect x="610.54" y="50.51" width="5.53" height="5.34" rx="1.7"/>
<rect x="616.06" y="50.51" width="5.53" height="5.34" rx="1.7"/>
<rect x="621.59" y="50.51" width="5.53" height="5.34" rx="1.7"/>
<rect x="627.11" y="50.51" width="5.53" height="5.34" rx="1.7"/>
<rect x="632.64" y="50.51" width="5.53" height="5.34" rx="1.7"/>
<rect x="638.16" y="50.51" width="5.53" height="5.34" rx="1.7"/>
<rect x="643.69" y="50.51" width="5.53" height="5.34" rx="1.7"/>
<rect x="649.21" y="50.51" width="5.53" height="5.34" rx="1.7"/>
<rect x="654.74" y="50.51" width="5.53" height="5.34" rx="1.7"/>
<rect x="582.91" y="55.85" width="5.53" height="5.34" rx="1.7"/>
<rect x="588.44" y="55.85" width="5.53" height="5.34" rx="1.7"/>
<rect x="593.96" y="55.85" width="5.53" height="5.34" rx="1.7"/>
<rect x="599.49" y="55.85" width="5.53" height="5.34" rx="1.7"/>
<rect x="605.01" y="55.85" width="5.53" height="5.34" rx="1.7"/>
<rect x="610.54" y="55.85" width="5.53" height="5.34" rx="1.7"/>
<rect x="616.06" y="55.85" width="5.53" height="5.34" rx="1.7"/>
<rect x="621.59" y="55.85" width="5.53" height="5.34" rx="1.7"/>
<rect x="627.11" y="55.85" width="5.53" height="5.34" rx="1.7"/>
<rect x="632.64" y="55.85" width="5.53" height="5.34" rx="1.7"/>
<rect x="638.16" y="55.85" width="5.53" height="5.34" rx="1.7"/>
<rect x="643.69" y="55.85" width="5.53" height="5.34" rx="1.7"/>
<rect x="649.21" y="55.85" width="5.53" height="5.34" rx="1.7"/>
<rect x="654.74" y="55.85" width="5.53" height="5.34" rx="1.7"/>
<rect x="577.39" y="61.2" width="5.53" height="5.34" rx="1.7"/>
<rect x="582.91" y="61.2" width="5.53" height="5.34" rx="1.7"/>
<rect x="588.44" y="61.2" width="5.53" height="5.34" rx="1.7"/>
<rect x="593.96" y="61.2" width="5.53" height="5.34" rx="1.7"/>
<rect x="599.49" y="61.2" width="5.53" height="5.34" rx="1.7"/>
<rect x="605.01" y="61.2" width="5.53" height="5.34" rx="1.7"/>
<rect x="610.54" y="61.2" width="5.53" height="5.34" rx="1.7"/>
<rect x="616.06" y="61.2" width="5.53" height="5.34" rx="1.7"/>
<rect x="621.59" y="61.2" width="5.53" height="5.34" rx="1.7"/>
<rect x="627.11" y="61.2" width="5.53" height="5.34" rx="1.7"/>
<rect x="632.64" y="61.2" width="5.53" height="5.34" rx="1.7"/>
<rect x="638.16" y="61.2" width="5.53" height="5.34" rx="1.7"/>
<rect x="643.69" y="61.2" width="5.53" height="5.34" rx="1.7"/>
<rect x="649.21" y="61.2" width="5.53" height="5.34" rx="1.7"/>
<rect x="654.74" y="61.2" width="5.53" height="5.34" rx="1.7"/>
<rect x="571.86" y="66.54" width="5.53" height="5.34" rx="1.7"/>
<rect x="577.39" y="66.54" width="5.53" height="5.34" rx="1.7"/>
<rect x="582.91" y="66.54" width="5.53" height="5.34" rx="1.7"/>
<rect x="588.44" y="66.54" width="5.53" height="5.34" rx="1.7"/>
<rect x="593.96" y="66.54" width="5.53" height="5.34" rx="1.7"/>
<rect x="599.49" y="66.54" width="5.53" height="5.34" rx="1.7"/>
<rect x="605.01" y="66.54" width="5.53" height="5.34" rx="1.7"/>
<rect x="610.54" y="66.54" width="5.53" height="5.34" rx="1.7"/>
<rect x="616.06" y="66.54" width="5.53" height="5.34" rx="1.7"/>
<rect x="621.59" y="66.54" width="5.53" height="5.34" rx="1.7"/>
<rect x="627.11" y="66.54" width="5.53" height="5.34" rx="1.7"/>
<rect x="632.64" y="66.54" width="5.53" height="5.34" rx="1.7"/>
<rect x="638.16" y="66.54" width="5.53" height="5.34" rx="1.7"/>
<rect x="643.69" y="66.54" width="5.53" height="5.34" rx="1.7"/>
<rect x="649.21" y="66.54" width="5.53" height="5.34" rx="1.7"/>
<rect x="654.74" y="66.54" width="5.53" height="5.34" rx="1.7"/>
<rect x="571.86" y="71.88" width="5.53" height="5.34" rx="1.7"/>
<rect x="577.39" y="71.88" width="5.53" height="5.34" rx="1.7"/>
<rect x="582.91" y="71.88" width="5.53" height="5.34" rx="1.7"/>
<rect x="588.44" y="71.88" width="5.53" height="5.34" rx="1.7"/>
<rect x="593.96" y="71.88" width="5.53" height="5.34" rx="1.7"/>
<rect x="599.49" y="71.88" width="5.53" height="5.34" rx="1.7"/>
<rect x="605.01" y="71.88" width="5.53" height="5.34" rx="1.7"/>
<rect x="610.54" y="71.88" width="5.53" height="5.34" rx="1.7"/>
<rect x="616.06" y="71.88" width="5.53" height="5.34" rx="1.7"/>
<rect x="621.59" y="71.88" width="5.53" height="5.34" rx="1.7"/>
<rect x="627.11" y="71.88" width="5.53" height="5.34" rx="1.7"/>
<rect x="632.64" y="71.88" width="5.53" height="5.34" rx="1.7"/>
<rect x="638.16" y="71.88" width="5.53" height="5.34" rx="1.7"/>
<rect x="643.69" y="71.88" width="5.53" height="5.34" rx="1.7"/>
<rect x="649.21" y="71.88" width="5.53" height="5.34" rx="1.7"/>
<rect x="654.74" y="71.88" width="5.53" height="5.34" rx="1.7"/>
<rect x="566.34" y="77.22" width="5.53" height="5.34" rx="1.7"/>
<rect x="571.86" y="77.22" width="5.53" height="5.34" rx="1.7"/>
<rect x="577.39" y="77.22" width="5.53" height="5.34" rx="1.7"/>
<rect x="582.91" y="77.22" width="5.53" height="5.34" rx="1.7"/>
<rect x="588.44" y="77.22" width="5.53" height="5.34" rx="1.7"/>
<rect x="593.96" y="77.22" width="5.53" height="5.34" rx="1.7"/>
<rect x="599.49" y="77.22" width="5.53" height="5.34" rx="1.7"/>
<rect x="605.01" y="77.22" width="5.53" height="5.34" rx="1.7"/>
<rect x="610.54" y="77.22" width="5.53" height="5.34" rx="1.7"/>
<rect x="616.06" y="77.22" width="5.53" height="5.34" rx="1.7"/>
<rect x="621.59" y="77.22" width="5.53" height="5.34" rx="1.7"/>
<rect x="627.11" y="77.22" width="5.53" height="5.34" rx="1.7"/>
<rect x="632.64" y="77.22" width="5.53" height="5.34" rx="1.7"/>
<rect x="638.16" y="77.22" width="5.53" height="5.34" rx="1.7"/>
<rect x="643.69" y="77.22" width="5.53" height="5.34" rx="1.7"/>
<rect x="649.21" y="77.22" width="5.53" height="5.34" rx="1.7"/>
<rect x="654.74" y="77.22" width="5.53" height="5.34" rx="1.7"/>
<rect x="560.81" y="82.56" width="5.53" height="5.34" rx="1.7"/>
<rect x="566.34" y="82.56" width="5.53" height="5.34" rx="1.7"/>
<rect x="571.86" y="82.56" width="5.53" height="5.34" rx="1.7"/>
<rect x="577.39" y="82.56" width="5.53" height="5.34" rx="1.7"/>
<rect x="582.91" y="82.56" width="5.53" height="5.34" rx="1.7"/>
<rect x="588.44" y="82.56" width="5.53" height="5.34" rx="1.7"/>
<rect x="593.96" y="82.56" width="5.53" height="5.34" rx="1.7"/>
<rect x="599.49" y="82.56" width="5.53" height="5.34" rx="1.7"/>
<rect x="605.01" y="82.56" width="5.53" height="5.34" rx="1.7"/>
<rect x="610.54" y="82.56" width="5.53" height="5.34" rx="1.7"/>
<rect x="616.06" y="82.56" width="5.53" height="5.34" rx="1.7"/>
<rect x="621.59" y="82.56" width="5.53" height="5.34" rx="1.7"/>
<rect x="627.11" y="82.56" width="5.53" height="5.34" rx="1.7"/>
<rect x="632.64" y="82.56" width="5.53" height="5.34" rx="1.7"/>
<rect x="638.16" y="82.56" width="5.53" height="5.34" rx="1.7"/>
<rect x="643.69" y="82.56" width="5.53" height="5.34" rx="1.7"/>
<rect x="649.21" y="82.56" width="5.53" height="5.34" rx="1.7"/>
<rect x="654.74" y="82.56" width="5.53" height="5.34" rx="1.7"/>
<rect x="555.29" y="87.9" width="5.53" height="5.34" rx="1.7"/>
<rect x="560.81" y="87.9" width="5.53" height="5.34" rx="1.7"/>
<rect x="566.34" y="87.9" width="5.53" height="5.34" rx="1.7"/>
<rect x="571.86" y="87.9" width="5.53" height="5.34" rx="1.7"/>
<rect x="577.39" y="87.9" width="5.53" height="5.34" rx="1.7"/>
<rect x="582.91" y="87.9" width="5.53" height="5.34" rx="1.7"/>
<rect x="588.44" y="87.9" width="5.53" height="5.34" rx="1.7"/>
<rect x="593.96" y="87.9" width="5.53" height="5.34" rx="1.7"/>
<rect x="599.49" y="87.9" width="5.53" height="5.34" rx="1.7"/>
<rect x="605.01" y="87.9" width="5.53" height="5.34" rx="1.7"/>
<rect x="610.54" y="87.9" width="5.53" height="5.34" rx="1.7"/>
<rect x="616.06" y="87.9" width="5.53" height="5.34" rx="1.7"/>
<rect x="621.59" y="87.9" width="5.53" height="5.34" rx="1.7"/>
<rect x="627.11" y="87.9" width="5.53" height="5.34" rx="1.7"/>
<rect x="632.64" y="87.9" width="5.53" height="5.34" rx="1.7"/>
<rect x="638.16" y="87.9" width="5.53" height="5.34" rx="1.7"/>
<rect x="643.69" y="87.9" width="5.53" height="5.34" rx="1.7"/>
<rect x="649.21" y="87.9" width="5.53" height="5.34" rx="1.7"/>
<rect x="654.74" y="87.9" width="5.53" height="5.34" rx="1.7"/>
<rect x="555.29" y="93.24" width="5.53" height="5.34" rx="1.7"/>
<rect x="560.81" y="93.24" width="5.53" height="5.34" rx="1.7"/>
<rect x="566.34" y="93.24" width="5.53" height="5.34" rx="1.7"/>
<rect x="571.86" y="93.24" width="5.53" height="5.34" rx="1.7"/>
<rect x="577.39" y="93.24" width="5.53" height="5.34" rx="1.7"/>
<rect x="582.91" y="93.24" width="5.53" height="5.34" rx="1.7"/>
<rect x="588.44" y="93.24" width="5.53" height="5.34" rx="1.7"/>
<rect x="593.96" y="93.24" width="5.53" height="5.34" rx="1.7"/>
<rect x="599.49" y="93.24" width="5.53" height="5.34" rx="1.7"/>
<rect x="605.01" y="93.24" width="5.53" height="5.34" rx="1.7"/>
<rect x="610.54" y="93.24" width="5.53" height="5.34" rx="1.7"/>
<rect x="616.06" y="93.24" width="5.53" height="5.34" rx="1.7"/>
<rect x="621.59" y="93.24" width="5.53" height="5.34" rx="1.7"/>
<rect x="627.11" y="93.24" width="5.53" height="5.34" rx="1.7"/>
<rect x="632.64" y="93.24" width="5.53" height="5.34" rx="1.7"/>
<rect x="638.16" y="93.24" width="5.53" height="5.34" rx="1.7"/>
<rect x="643.69" y="93.24" width="5.53" height="5.34" rx="1.7"/>
<rect x="649.21" y="93.24" width="5.53" height="5.34" rx="1.7"/>
<rect x="654.74" y="93.24" width="5.53" height="5.34" rx="1.7"/>
<rect x="549.76" y="98.58" width="5.53" height="5.34" rx="1.7"/>
<rect x="555.29" y="98.58" width="5.53" height="5.34" rx="1.7"/>
<rect x="560.81" y="98.58" width="5.53" height="5.34" rx="1.7"/>
<rect x="566.34" y="98.58" width="5.53" height="5.34" rx="1.7"/>
<rect x="571.86" y="98.58" width="5.53" height="5.34" rx="1.7"/>
<rect x="577.39" y="98.58" width="5.53" height="5.34" rx="1.7"/>
<rect x="582.91" y="98.58" width="5.53" height="5.34" rx="1.7"/>
<rect x="588.44" y="98.58" width="5.53" height="5.34" rx="1.7"/>
<rect x="593.96" y="98.58" width="5.53" height="5.34" rx="1.7"/>
<rect x="599.49" y="98.58" width="5.53" height="5.34" rx="1.7"/>
<rect x="605.01" y="98.58" width="5.53" height="5.34" rx="1.7"/>
<rect x="610.54" y="98.58" width="5.53" height="5.34" rx="1.7"/>
<rect x="616.06" y="98.58" width="5.53" height="5.34" rx="1.7"/>
<rect x="621.59" y="98.58" width="5.53" height="5.34" rx="1.7"/>
<rect x="627.11" y="98.58" width="5.53" height="5.34" rx="1.7"/>
<rect x="632.64" y="98.58" width="5.53" height="5.34" rx="1.7"/>
<rect x="638.16" y="98.58" width="5.53" height="5.34" rx="1.7"/>
<rect x="643.69" y="98.58" width="5.53" height="5.34" rx="1.7"/>
<rect x="649.21" y="98.58" width="5.53" height="5.34" rx="1.7"/>
<rect x="654.74" y="98.58" width="5.53" height="5.34" rx="1.7"/>
<rect x="549.76" y="103.92" width="5.53" height="5.34" rx="1.7"/>
<rect x="555.29" y="103.92" width="5.53" height="5.34" rx="1.7"/>
<rect x="560.81" y="103.92" width="5.53" height="5.34" rx="1.7"/>
<rect x="566.34" y="103.92" width="5.53" height="5.34" rx="1.7"/>
<rect x="571.86" y="103.92" width="5.53" height="5.34" rx="1.7"/>
<rect x="577.39" y="103.92" width="5.53" height="5.34" rx="1.7"/>
<rect x="582.91" y="103.92" width="5.53" height="5.34" rx="1.7"/>
<rect x="588.44" y="103.92" width="5.53" height="5.34" rx="1.7"/>
<rect x="593.96" y="103.92" width="5.53" height="5.34" rx="1.7"/>
<rect x="599.49" y="103.92" width="5.53" height="5.34" rx="1.7"/>
<rect x="605.01" y="103.92" width="5.53" height="5.34" rx="1.7"/>
<rect x="610.54" y="103.92" width="5.53" height="5.34" rx="1.7"/>
<rect x="616.06" y="103.92" width="5.53" height="5.34" rx="1.7"/>
<rect x="621.59" y="103.92" width="5.53" height="5.34" rx="1.7"/>
<rect x="627.11" y="103.92" width="5.53" height="5.34" rx="1.7"/>
<rect x="632.64" y="103.92" width="5.53" height="5.34" rx="1.7"/>
<rect x="638.16" y="103.92" width="5.53" height="5.34" rx="1.7"/>
<rect x="643.69" y="103.92" width="5.53" height="5.34" rx="1.7"/>
<rect x="649.21" y="103.92" width="5.53" height="5.34" rx="1.7"/>
<rect x="654.74" y="103.92" width="5.53" height="5.34" rx="1.7"/>
<rect x="549.76" y="109.26" width="5.53" height="5.34" rx="1.7"/>
<rect x="555.29" y="109.26" width="5.53" height="5.34" rx="1.7"/>
<rect x="560.81" y="109.26" width="5.53" height="5.34" rx="1.7"/>
<rect x="566.34" y="109.26" width="5.53" height="5.34" rx="1.7"/>
<rect x="571.86" y="109.26" width="5.53" height="5.34" rx="1.7"/>
<rect x="577.39" y="109.26" width="5.53" height="5.34" rx="1.7"/>
<rect x="582.91" y="109.26" width="5.53" height="5.34" rx="1.7"/>
<rect x="588.44" y="109.26" width="5.53" height="5.34" rx="1.7"/>
<rect x="593.96" y="109.26" width="5.53" height="5.34" rx="1.7"/>
<rect x="599.49" y="109.26" width="5.53" height="5.34" rx="1.7"/>
<rect x="605.01" y="109.26" width="5.53" height="5.34" rx="1.7"/>
<rect x="610.54" y="109.26" width="5.53" height="5.34" rx="1.7"/>
<rect x="616.06" y="109.26" width="5.53" height="5.34" rx="1.7"/>
<rect x="621.59" y="109.26" width="5.53" height="5.34" rx="1.7"/>
<rect x="627.11" y="109.26" width="5.53" height="5.34" rx="1.7"/>
<rect x="632.64" y="109.26" width="5.53" height="5.34" rx="1.7"/>
<rect x="638.16" y="109.26" width="5.53" height="5.34" rx="1.7"/>
<rect x="643.69" y="109.26" width="5.53" height="5.34" rx="1.7"/>
<rect x="649.21" y="109.26" width="5.53" height="5.34" rx="1.7"/>
<rect x="654.74" y="109.26" width="5.53" height="5.34" rx="1.7"/>
<rect x="544.24" y="114.6" width="5.53" height="5.34" rx="1.7"/>
<rect x="549.76" y="114.6" width="5.53" height="5.34" rx="1.7"/>
<rect x="555.29" y="114.6" width="5.53" height="5.34" rx="1.7"/>
<rect x="560.81" y="114.6" width="5.53" height="5.34" rx="1.7"/>
<rect x="566.34" y="114.6" width="5.53" height="5.34" rx="1.7"/>
<rect x="571.86" y="114.6" width="5.53" height="5.34" rx="1.7"/>
<rect x="577.39" y="114.6" width="5.53" height="5.34" rx="1.7"/>
<rect x="582.91" y="114.6" width="5.53" height="5.34" rx="1.7"/>
<rect x="588.44" y="114.6" width="5.53" height="5.34" rx="1.7"/>
<rect x="593.96" y="114.6" width="5.53" height="5.34" rx="1.7"/>
<rect x="599.49" y="114.6" width="5.53" height="5.34" rx="1.7"/>
<rect x="605.01" y="114.6" width="5.53" height="5.34" rx="1.7"/>
<rect x="610.54" y="114.6" width="5.53" height="5.34" rx="1.7"/>
<rect x="616.06" y="114.6" width="5.53" height="5.34" rx="1.7"/>
<rect x="621.59" y="114.6" width="5.53" height="5.34" rx="1.7"/>
<rect x="627.11" y="114.6" width="5.53" height="5.34" rx="1.7"/>
<rect x="632.64" y="114.6" width="5.53" height="5.34" rx="1.7"/>
<rect x="638.16" y="114.6" width="5.53" height="5.34" rx="1.7"/>
<rect x="643.69" y="114.6" width="5.53" height="5.34" rx="1.7"/>
<rect x="649.21" y="114.6" width="5.53" height="5.34" rx="1.7"/>
<rect x="654.74" y="114.6" width="5.53" height="5.34" rx="1.7"/>
<rect x="544.24" y="119.94" width="5.53" height="5.34" rx="1.7"/>
<rect x="549.76" y="119.94" width="5.53" height="5.34" rx="1.7"/>
<rect x="555.29" y="119.94" width="5.53" height="5.34" rx="1.7"/>
<rect x="560.81" y="119.94" width="5.53" height="5.34" rx="1.7"/>
<rect x="566.34" y="119.94" width="5.53" height="5.34" rx="1.7"/>
<rect x="571.86" y="119.94" width="5.53" height="5.34" rx="1.7"/>
<rect x="577.39" y="119.94" width="5.53" height="5.34" rx="1.7"/>
<rect x="582.91" y="119.94" width="5.53" height="5.34" rx="1.7"/>
<rect x="588.44" y="119.94" width="5.53" height="5.34" rx="1.7"/>
<rect x="593.96" y="119.94" width="5.53" height="5.34" rx="1.7"/>
<rect x="599.49" y="119.94" width="5.53" height="5.34" rx="1.7"/>
<rect x="605.01" y="119.94" width="5.53" height="5.34" rx="1.7"/>
<rect x="610.54" y="119.94" width="5.53" height="5.34" rx="1.7"/>
<rect x="616.06" y="119.94" width="5.53" height="5.34" rx="1.7"/>
<rect x="621.59" y="119.94" width="5.53" height="5.34" rx="1.7"/>
<rect x="627.11" y="119.94" width="5.53" height="5.34" rx="1.7"/>
<rect x="632.64" y="119.94" width="5.53" height="5.34" rx="1.7"/>
<rect x="638.16" y="119.94" width="5.53" height="5.34" rx="1.7"/>
<rect x="643.69" y="119.94" width="5.53" height="5.34" rx="1.7"/>
<rect x="649.21" y="119.94" width="5.53" height="5.34" rx="1.7"/>
<rect x="654.74" y="119.94" width="5.53" height="5.34" rx="1.7"/>
<rect x="544.24" y="125.28" width="5.53" height="5.34" rx="1.7"/>
<rect x="549.76" y="125.28" width="5.53" height="5.34" rx="1.7"/>
<rect x="555.29" y="125.28" width="5.53" height="5.34" rx="1.7"/>
<rect x="560.81" y="125.28" width="5.53" height="5.34" rx="1.7"/>
<rect x="566.34" y="125.28" width="5.53" height="5.34" rx="1.7"/>
<rect x="571.86" y="125.28" width="5.53" height="5.34" rx="1.7"/>
<rect x="577.39" y="125.28" width="5.53" height="5.34" rx="1.7"/>
<rect x="582.91" y="125.28" width="5.53" height="5.34" rx="1.7"/>
<rect x="588.44" y="125.28" width="5.53" height="5.34" rx="1.7"/>
<rect x="593.96" y="125.28" width="5.53" height="5.34" rx="1.7"/>
<rect x="599.49" y="125.28" width="5.53" height="5.34" rx="1.7"/>
<rect x="605.01" y="125.28" width="5.53" height="5.34" rx="1.7"/>
<rect x="610.54" y="125.28" width="5.53" height="5.34" rx="1.7"/>
<rect x="616.06" y="125.28" width="5.53" height="5.34" rx="1.7"/>
<rect x="621.59" y="125.28" width="5.53" height="5.34" rx="1.7"/>
<rect x="627.11" y="125.28" width="5.53" height="5.34" rx="1.7"/>
<rect x="632.64" y="125.28" width="5.53" height="5.34" rx="1.7"/>
<rect x="638.16" y="125.28" width="5.53" height="5.34" rx="1.7"/>
<rect x="643.69" y="125.28" width="5.53" height="5.34" rx="1.7"/>
<rect x="649.21" y="125.28" width="5.53" height="5.34" rx="1.7"/>
<rect x="654.74" y="125.28" width="5.53" height="5.34" rx="1.7"/>
<rect x="544.24" y="130.62" width="5.53" height="5.34" rx="1.7"/>
<rect x="549.76" y="130.62" width="5.53" height="5.34" rx="1.7"/>
<rect x="555.29" y="130.62" width="5.53" height="5.34" rx="1.7"/>
<rect x="560.81" y="130.62" width="5.53" height="5.34" rx="1.7"/>
<rect x="566.34" y="130.62" width="5.53" height="5.34" rx="1.7"/>
<rect x="571.86" y="130.62" width="5.53" height="5.34" rx="1.7"/>
<rect x="577.39" y="130.62" width="5.53" height="5.34" rx="1.7"/>
<rect x="582.91" y="130.62" width="5.53" height="5.34" rx="1.7"/>
<rect x="588.44" y="130.62" width="5.53" height="5.34" rx="1.7"/>
<rect x="593.96" y="130.62" width="5.53" height="5.34" rx="1.7"/>
<rect x="599.49" y="130.62" width="5.53" height="5.34" rx="1.7"/>
<rect x="605.01" y="130.62" width="5.53" height="5.34" rx="1.7"/>
<rect x="610.54" y="130.62" width="5.53" height="5.34" rx="1.7"/>
<rect x="616.06" y="130.62" width="5.53" height="5.34" rx="1.7"/>
<rect x="621.59" y="130.62" width="5.53" height="5.34" rx="1.7"/>
<rect x="627.11" y="130.62" width="5.53" height="5.34" rx="1.7"/>
<rect x="632.64" y="130.62" width="5.53" height="5.34" rx="1.7"/>
<rect x="638.16" y="130.62" width="5.53" height="5.34" rx="1.7"/>
<rect x="643.69" y="130.62" width="5.53" height="5.34" rx="1.7"/>
<rect x="649.21" y="130.62" width="5.53" height="5.34" rx="1.7"/>
<rect x="654.74" y="130.62" width="5.53" height="5.34" rx="1.7"/>
<rect x="549.76" y="135.96" width="5.53" height="5.34" rx="1.7"/>
<rect x="555.29" y="135.96" width="5.53" height="5.34" rx="1.7"/>
<rect x="560.81" y="135.96" width="5.53" height="5.34" rx="1.7"/>
<rect x="566.34" y="135.96" width="5.53" height="5.34" rx="1.7"/>
<rect x="571.86" y="135.96" width="5.53" height="5.34" rx="1.7"/>
<rect x="577.39" y="135.96" width="5.53" height="5.34" rx="1.7"/>
<rect x="582.91" y="135.96" width="5.53" height="5.34" rx="1.7"/>
<rect x="588.44" y="135.96" width="5.53" height="5.34" rx="1.7"/>
<rect x="593.96" y="135.96" width="5.53" height="5.34" rx="1.7"/>
<rect x="599.49" y="135.96" width="5.53" height="5.34" rx="1.7"/>
<rect x="605.01" y="135.96" width="5.53" height="5.34" rx="1.7"/>
<rect x="610.54" y="135.96" width="5.53" height="5.34" rx="1.7"/>
<rect x="616.06" y="135.96" width="5.53" height="5.34" rx="1.7"/>
<rect x="621.59" y="135.96" width="5.53" height="5.34" rx="1.7"/>
<rect x="627.11" y="135.96" width="5.53" height="5.34" rx="1.7"/>
<rect x="632.64" y="135.96" width="5.53" height="5.34" rx="1.7"/>
<rect x="638.16" y="135.96" width="5.53" height="5.34" rx="1.7"/>
<rect x="643.69" y="135.96" width="5.53" height="5.34" rx="1.7"/>
<rect x="649.21" y="135.96" width="5.53" height="5.34" rx="1.7"/>
<rect x="654.74" y="135.96" width="5.53" height="5.34" rx="1.7"/>
<rect x="549.76" y="141.3" width="5.53" height="5.34" rx="1.7"/>
<rect x="555.29" y="141.3" width="5.53" height="5.34" rx="1.7"/>
<rect x="560.81" y="141.3" width="5.53" height="5.34" rx="1.7"/>
<rect x="566.34" y="141.3" width="5.53" height="5.34" rx="1.7"/>
<rect x="571.86" y="141.3" width="5.53" height="5.34" rx="1.7"/>
<rect x="577.39" y="141.3" width="5.53" height="5.34" rx="1.7"/>
<rect x="582.91" y="141.3" width="5.53" height="5.34" rx="1.7"/>
<rect x="588.44" y="141.3" width="5.53" height="5.34" rx="1.7"/>
<rect x="593.96" y="141.3" width="5.53" height="5.34" rx="1.7"/>
<rect x="599.49" y="141.3" width="5.53" height="5.34" rx="1.7"/>
<rect x="605.01" y="141.3" width="5.53" height="5.34" rx="1.7"/>
<rect x="610.54" y="141.3" width="5.53" height="5.34" rx="1.7"/>
<rect x="616.06" y="141.3" width="5.53" height="5.34" rx="1.7"/>
<rect x="621.59" y="141.3" width="5.53" height="5.34" rx="1.7"/>
<rect x="627.11" y="141.3" width="5.53" height="5.34" rx="1.7"/>
<rect x="632.64" y="141.3" width="5.53" height="5.34" rx="1.7"/>
<rect x="638.16" y="141.3" width="5.53" height="5.34" rx="1.7"/>
<rect x="643.69" y="141.3" width="5.53" height="5.34" rx="1.7"/>
<rect x="649.21" y="141.3" width="5.53" height="5.34" rx="1.7"/>
<rect x="654.74" y="141.3" width="5.53" height="5.34" rx="1.7"/>
<rect x="555.29" y="146.65" width="5.53" height="5.34" rx="1.7"/>
<rect x="560.81" y="146.65" width="5.53" height="5.34" rx="1.7"/>
<rect x="566.34" y="146.65" width="5.53" height="5.34" rx="1.7"/>
<rect x="571.86" y="146.65" width="5.53" height="5.34" rx="1.7"/>
<rect x="577.39" y="146.65" width="5.53" height="5.34" rx="1.7"/>
<rect x="582.91" y="146.65" width="5.53" height="5.34" rx="1.7"/>
<rect x="588.44" y="146.65" width="5.53" height="5.34" rx="1.7"/>
<rect x="593.96" y="146.65" width="5.53" height="5.34" rx="1.7"/>
<rect x="599.49" y="146.65" width="5.53" height="5.34" rx="1.7"/>
<rect x="605.01" y="146.65" width="5.53" height="5.34" rx="1.7"/>
<rect x="610.54" y="146.65" width="5.53" height="5.34" rx="1.7"/>
<rect x="616.06" y="146.65" width="5.53" height="5.34" rx="1.7"/>
<rect x="621.59" y="146.65" width="5.53" height="5.34" rx="1.7"/>
<rect x="627.11" y="146.65" width="5.53" height="5.34" rx="1.7"/>
<rect x="632.64" y="146.65" width="5.53" height="5.34" rx="1.7"/>
<rect x="638.16" y="146.65" width="5.53" height="5.34" rx="1.7"/>
<rect x="643.69" y="146.65" width="5.53" height="5.34" rx="1.7"/>
<rect x="649.21" y="146.65" width="5.53" height="5.34" rx="1.7"/>
<rect x="654.74" y="146.65" width="5.53" height="5.34" rx="1.7"/>
<rect x="555.29" y="151.99" width="5.53" height="5.34" rx="1.7"/>
<rect x="560.81" y="151.99" width="5.53" height="5.34" rx="1.7"/>
<rect x="566.34" y="151.99" width="5.53" height="5.34" rx="1.7"/>
<rect x="571.86" y="151.99" width="5.53" height="5.34" rx="1.7"/>
<rect x="577.39" y="151.99" width="5.53" height="5.34" rx="1.7"/>
<rect x="582.91" y="151.99" width="5.53" height="5.34" rx="1.7"/>
<rect x="588.44" y="151.99" width="5.53" height="5.34" rx="1.7"/>
<rect x="593.96" y="151.99" width="5.53" height="5.34" rx="1.7"/>
<rect x="599.49" y="151.99" width="5.53" height="5.34" rx="1.7"/>
<rect x="605.01" y="151.99" width="5.53" height="5.34" rx="1.7"/>
<rect x="610.54" y="151.99" width="5.53" height="5.34" rx="1.7"/>
<rect x="616.06" y="151.99" width="5.53" height="5.34" rx="1.7"/>
<rect x="621.59" y="151.99" width="5.53" height="5.34" rx="1.7"/>
<rect x="627.11" y="151.99" width="5.53" height="5.34" rx="1.7"/>
<rect x="632.64" y="151.99" width="5.53" height="5.34" rx="1.7"/>
<rect x="638.16" y="151.99" width="5.53" height="5.34" rx="1.7"/>
<rect x="643.69" y="151.99" width="5.53" height="5.34" rx="1.7"/>
<rect x="649.21" y="151.99" width="5.53" height="5.34" rx="1.7"/>
<rect x="654.74" y="151.99" width="5.53" height="5.34" rx="1.7"/>
<rect x="555.29" y="157.33" width="5.53" height="5.34" rx="1.7"/>
<rect x="560.81" y="157.33" width="5.53" height="5.34" rx="1.7"/>
<rect x="566.34" y="157.33" width="5.53" height="5.34" rx="1.7"/>
<rect x="571.86" y="157.33" width="5.53" height="5.34" rx="1.7"/>
<rect x="577.39" y="157.33" width="5.53" height="5.34" rx="1.7"/>
<rect x="582.91" y="157.33" width="5.53" height="5.34" rx="1.7"/>
<rect x="588.44" y="157.33" width="5.53" height="5.34" rx="1.7"/>
<rect x="593.96" y="157.33" width="5.53" height="5.34" rx="1.7"/>
<rect x="599.49" y="157.33" width="5.53" height="5.34" rx="1.7"/>
<rect x="605.01" y="157.33" width="5.53" height="5.34" rx="1.7"/>
<rect x="610.54" y="157.33" width="5.53" height="5.34" rx="1.7"/>
<rect x="616.06" y="157.33" width="5.53" height="5.34" rx="1.7"/>
<rect x="621.59" y="157.33" width="5.53" height="5.34" rx="1.7"/>
<rect x="627.11" y="157.33" width="5.53" height="5.34" rx="1.7"/>
<rect x="632.64" y="157.33" width="5.53" height="5.34" rx="1.7"/>
<rect x="638.16" y="157.33" width="5.53" height="5.34" rx="1.7"/>
<rect x="643.69" y="157.33" width="5.53" height="5.34" rx="1.7"/>
<rect x="649.21" y="157.33" width="5.53" height="5.34" rx="1.7"/>
<rect x="654.74" y="157.33" width="5.53" height="5.34" rx="1.7"/>
<rect x="555.29" y="162.67" width="5.53" height="5.34" rx="1.7"/>
<rect x="560.81" y="162.67" width="5.53" height="5.34" rx="1.7"/>
<rect x="566.34" y="162.67" width="5.53" height="5.34" rx="1.7"/>
<rect x="571.86" y="162.67" width="5.53" height="5.34" rx="1.7"/>
<rect x="577.39" y="162.67" width="5.53" height="5.34" rx="1.7"/>
<rect x="582.91" y="162.67" width="5.53" height="5.34" rx="1.7"/>
<rect x="588.44" y="162.67" width="5.53" height="5.34" rx="1.7"/>
<rect x="593.96" y="162.67" width="5.53" height="5.34" rx="1.7"/>
<rect x="599.49" y="162.67" width="5.53" height="5.34" rx="1.7"/>
<rect x="605.01" y="162.67" width="5.53" height="5.34" rx="1.7"/>
<rect x="610.54" y="162.67" width="5.53" height="5.34" rx="1.7"/>
<rect x="616.06" y="162.67" width="5.53" height="5.34" rx="1.7"/>
<rect x="621.59" y="162.67" width="5.53" height="5.34" rx="1.7"/>
<rect x="627.11" y="162.67" width="5.53" height="5.34" rx="1.7"/>
<rect x="632.64" y="162.67" width="5.53" height="5.34" rx="1.7"/>
<rect x="638.16" y="162.67" width="5.53" height="5.34" rx="1.7"/>
<rect x="643.69" y="162.67" width="5.53" height="5.34" rx="1.7"/>
<rect x="649.21" y="162.67" width="5.53" height="5.34" rx="1.7"/>
<rect x="654.74" y="162.67" width="5.53" height="5.34" rx="1.7"/>
</g>
<rect x="502.8" y="15.8" width="176.8" height="170.9" fill="none" stroke="#222" stroke-width="1.1"/>
<path d="M509.45,186.7v-2.4M509.45,15.8v2.4M502.8,180.27h2.4M679.6,180.27h-2.4M513.34,186.7v-2.4M513.34,15.8v2.4M502.8,176.51h2.4M679.6,176.51h-2.4M516.11,186.7v-2.4M516.11,15.8v2.4M502.8,173.84h2.4M679.6,173.84h-2.4M518.25,186.7v-2.4M518.25,15.8v2.4M502.8,171.77h2.4M679.6,171.77h-2.4M520,186.7v-2.4M520,15.8v2.4M502.8,170.08h2.4M679.6,170.08h-2.4M521.48,186.7v-2.4M521.48,15.8v2.4M502.8,168.65h2.4M679.6,168.65h-2.4M522.76,186.7v-2.4M522.76,15.8v2.4M502.8,167.41h2.4M679.6,167.41h-2.4M523.89,186.7v-2.4M523.89,15.8v2.4M502.8,166.31h2.4M679.6,166.31h-2.4M524.9,186.7v-4.8M524.9,15.8v4.8M502.8,165.34h4.8M679.6,165.34h-4.8M531.55,186.7v-2.4M531.55,15.8v2.4M502.8,158.91h2.4M679.6,158.91h-2.4M535.44,186.7v-2.4M535.44,15.8v2.4M502.8,155.14h2.4M679.6,155.14h-2.4M538.21,186.7v-2.4M538.21,15.8v2.4M502.8,152.48h2.4M679.6,152.48h-2.4M540.35,186.7v-2.4M540.35,15.8v2.4M502.8,150.41h2.4M679.6,150.41h-2.4M542.1,186.7v-2.4M542.1,15.8v2.4M502.8,148.71h2.4M679.6,148.71h-2.4M543.58,186.7v-2.4M543.58,15.8v2.4M502.8,147.28h2.4M679.6,147.28h-2.4M544.86,186.7v-2.4M544.86,15.8v2.4M502.8,146.05h2.4M679.6,146.05h-2.4M545.99,186.7v-2.4M545.99,15.8v2.4M502.8,144.95h2.4M679.6,144.95h-2.4M547,186.7v-4.8M547,15.8v4.8M502.8,143.97h4.8M679.6,143.97h-4.8M553.65,186.7v-2.4M553.65,15.8v2.4M502.8,137.54h2.4M679.6,137.54h-2.4M557.54,186.7v-2.4M557.54,15.8v2.4M502.8,133.78h2.4M679.6,133.78h-2.4M560.31,186.7v-2.4M560.31,15.8v2.4M502.8,131.11h2.4M679.6,131.11h-2.4M562.45,186.7v-2.4M562.45,15.8v2.4M502.8,129.04h2.4M679.6,129.04h-2.4M564.2,186.7v-2.4M564.2,15.8v2.4M502.8,127.35h2.4M679.6,127.35h-2.4M565.68,186.7v-2.4M565.68,15.8v2.4M502.8,125.92h2.4M679.6,125.92h-2.4M566.96,186.7v-2.4M566.96,15.8v2.4M502.8,124.68h2.4M679.6,124.68h-2.4M568.09,186.7v-2.4M568.09,15.8v2.4M502.8,123.59h2.4M679.6,123.59h-2.4M569.1,186.7v-4.8M569.1,15.8v4.8M502.8,122.61h4.8M679.6,122.61h-4.8M575.75,186.7v-2.4M575.75,15.8v2.4M502.8,116.18h2.4M679.6,116.18h-2.4M579.64,186.7v-2.4M579.64,15.8v2.4M502.8,112.42h2.4M679.6,112.42h-2.4M582.41,186.7v-2.4M582.41,15.8v2.4M502.8,109.75h2.4M679.6,109.75h-2.4M584.55,186.7v-2.4M584.55,15.8v2.4M502.8,107.68h2.4M679.6,107.68h-2.4M586.3,186.7v-2.4M586.3,15.8v2.4M502.8,105.99h2.4M679.6,105.99h-2.4M587.78,186.7v-2.4M587.78,15.8v2.4M502.8,104.56h2.4M679.6,104.56h-2.4M589.06,186.7v-2.4M589.06,15.8v2.4M502.8,103.32h2.4M679.6,103.32h-2.4M590.19,186.7v-2.4M590.19,15.8v2.4M502.8,102.23h2.4M679.6,102.23h-2.4M591.2,186.7v-4.8M591.2,15.8v4.8M502.8,101.25h4.8M679.6,101.25h-4.8M597.85,186.7v-2.4M597.85,15.8v2.4M502.8,94.82h2.4M679.6,94.82h-2.4M601.74,186.7v-2.4M601.74,15.8v2.4M502.8,91.06h2.4M679.6,91.06h-2.4M604.51,186.7v-2.4M604.51,15.8v2.4M502.8,88.39h2.4M679.6,88.39h-2.4M606.65,186.7v-2.4M606.65,15.8v2.4M502.8,86.32h2.4M679.6,86.32h-2.4M608.4,186.7v-2.4M608.4,15.8v2.4M502.8,84.63h2.4M679.6,84.63h-2.4M609.88,186.7v-2.4M609.88,15.8v2.4M502.8,83.2h2.4M679.6,83.2h-2.4M611.16,186.7v-2.4M611.16,15.8v2.4M502.8,81.96h2.4M679.6,81.96h-2.4M612.29,186.7v-2.4M612.29,15.8v2.4M502.8,80.86h2.4M679.6,80.86h-2.4M613.3,186.7v-4.8M613.3,15.8v4.8M502.8,79.89h4.8M679.6,79.89h-4.8M619.95,186.7v-2.4M619.95,15.8v2.4M502.8,73.46h2.4M679.6,73.46h-2.4M623.84,186.7v-2.4M623.84,15.8v2.4M502.8,69.69h2.4M679.6,69.69h-2.4M626.61,186.7v-2.4M626.61,15.8v2.4M502.8,67.03h2.4M679.6,67.03h-2.4M628.75,186.7v-2.4M628.75,15.8v2.4M502.8,64.96h2.4M679.6,64.96h-2.4M630.5,186.7v-2.4M630.5,15.8v2.4M502.8,63.26h2.4M679.6,63.26h-2.4M631.98,186.7v-2.4M631.98,15.8v2.4M502.8,61.83h2.4M679.6,61.83h-2.4M633.26,186.7v-2.4M633.26,15.8v2.4M502.8,60.6h2.4M679.6,60.6h-2.4M634.39,186.7v-2.4M634.39,15.8v2.4M502.8,59.5h2.4M679.6,59.5h-2.4M635.4,186.7v-4.8M635.4,15.8v4.8M502.8,58.53h4.8M679.6,58.53h-4.8M642.05,186.7v-2.4M642.05,15.8v2.4M502.8,52.09h2.4M679.6,52.09h-2.4M645.94,186.7v-2.4M645.94,15.8v2.4M502.8,48.33h2.4M679.6,48.33h-2.4M648.71,186.7v-2.4M648.71,15.8v2.4M502.8,45.66h2.4M679.6,45.66h-2.4M650.85,186.7v-2.4M650.85,15.8v2.4M502.8,43.59h2.4M679.6,43.59h-2.4M652.6,186.7v-2.4M652.6,15.8v2.4M502.8,41.9h2.4M679.6,41.9h-2.4M654.08,186.7v-2.4M654.08,15.8v2.4M502.8,40.47h2.4M679.6,40.47h-2.4M655.36,186.7v-2.4M655.36,15.8v2.4M502.8,39.23h2.4M679.6,39.23h-2.4M656.49,186.7v-2.4M656.49,15.8v2.4M502.8,38.14h2.4M679.6,38.14h-2.4M657.5,186.7v-4.8M657.5,15.8v4.8M502.8,37.16h4.8M679.6,37.16h-4.8M664.15,186.7v-2.4M664.15,15.8v2.4M502.8,30.73h2.4M679.6,30.73h-2.4M668.04,186.7v-2.4M668.04,15.8v2.4M502.8,26.97h2.4M679.6,26.97h-2.4M670.81,186.7v-2.4M670.81,15.8v2.4M502.8,24.3h2.4M679.6,24.3h-2.4M672.95,186.7v-2.4M672.95,15.8v2.4M502.8,22.23h2.4M679.6,22.23h-2.4M674.7,186.7v-2.4M674.7,15.8v2.4M502.8,20.54h2.4M679.6,20.54h-2.4M676.18,186.7v-2.4M676.18,15.8v2.4M502.8,19.11h2.4M679.6,19.11h-2.4M677.46,186.7v-2.4M677.46,15.8v2.4M502.8,17.87h2.4M679.6,17.87h-2.4M678.59,186.7v-2.4M678.59,15.8v2.4M502.8,16.78h2.4M679.6,16.78h-2.4" stroke="#000" stroke-width="0.8" fill="none"/>
<g font-size="8.3" fill="#111" font-weight="bold">
<text x="502.5" y="195.9" text-anchor="middle">10<tspan font-size="6" dy="-4.3">-4</tspan></text>
<text x="499.2" y="189.4" text-anchor="end">10<tspan font-size="6" dy="-4.3">-4</tspan></text>
<text x="524.6" y="195.9" text-anchor="middle">10<tspan font-size="6" dy="-4.3">-3</tspan></text>
<text x="499.2" y="168.04" text-anchor="end">10<tspan font-size="6" dy="-4.3">-3</tspan></text>
<text x="546.7" y="195.9" text-anchor="middle">10<tspan font-size="6" dy="-4.3">-2</tspan></text>
<text x="499.2" y="146.67" text-anchor="end">10<tspan font-size="6" dy="-4.3">-2</tspan></text>
<text x="568.8" y="195.9" text-anchor="middle">10<tspan font-size="6" dy="-4.3">-1</tspan></text>
<text x="499.2" y="125.31" text-anchor="end">10<tspan font-size="6" dy="-4.3">-1</tspan></text>
<text x="590.9" y="195.9" text-anchor="middle">10<tspan font-size="6" dy="-4.3">0</tspan></text>
<text x="499.2" y="103.95" text-anchor="end">10<tspan font-size="6" dy="-4.3">0</tspan></text>
<text x="613" y="195.9" text-anchor="middle">10<tspan font-size="6" dy="-4.3">1</tspan></text>
<text x="499.2" y="82.59" text-anchor="end">10<tspan font-size="6" dy="-4.3">1</tspan></text>
<text x="635.1" y="195.9" text-anchor="middle">10<tspan font-size="6" dy="-4.3">2</tspan></text>
<text x="499.2" y="61.23" text-anchor="end">10<tspan font-size="6" dy="-4.3">2</tspan></text>
<text x="657.2" y="195.9" text-anchor="middle">10<tspan font-size="6" dy="-4.3">3</tspan></text>
<text x="499.2" y="39.86" text-anchor="end">10<tspan font-size="6" dy="-4.3">3</tspan></text>
<text x="679.3" y="195.9" text-anchor="middle">10<tspan font-size="6" dy="-4.3">4</tspan></text>
<text x="499.2" y="18.5" text-anchor="end">10<tspan font-size="6" dy="-4.3">4</tspan></text>
</g>
<circle cx="522.2" cy="7" r="2.75" fill="#8a8a8a" stroke="#444" stroke-width="0.7"/>
<text x="525.6" y="11.4" font-size="12.4" font-weight="bold">Td &lt; 600 sec</text>
<text x="675.5" y="28.8" font-size="11" text-anchor="end" stroke="#000" stroke-width="0.3"><tspan font-style="italic">k</tspan><tspan font-size="8.5" font-style="italic" dy="1">a</tspan><tspan dy="-1"> = 0.01/(nM sec)</tspan></text>
<text x="591" y="211" font-size="12.2" font-weight="normal" stroke="#000" stroke-width="0.4" text-anchor="middle"><tspan font-style="italic">k</tspan><tspan font-size="9.5" font-style="italic" dy="0.8">c</tspan><tspan dy="-0.8"> (1/sec)</tspan></text>
<text transform="translate(480.1,102.2) rotate(-90)" font-size="12.2" font-weight="normal" stroke="#000" stroke-width="0.4" text-anchor="middle"><tspan font-style="italic">k</tspan><tspan font-size="9.5" font-style="italic" dy="0.8">d</tspan><tspan dy="-0.8"> (1/sec)</tspan></text>
<g stroke="#505050" stroke-width="0.8" fill="#fff">
<rect x="291.9" y="270.06" width="5.54" height="5.33" rx="1.7"/>
<rect x="297.45" y="270.06" width="5.54" height="5.33" rx="1.7"/>
<rect x="302.99" y="270.06" width="5.54" height="5.33" rx="1.7"/>
<rect x="308.53" y="270.06" width="5.54" height="5.33" rx="1.7"/>
<rect x="314.08" y="270.06" width="5.54" height="5.33" rx="1.7"/>
<rect x="319.62" y="270.06" width="5.54" height="5.33" rx="1.7"/>
<rect x="325.17" y="270.06" width="5.54" height="5.33" rx="1.7"/>
<rect x="330.71" y="270.06" width="5.54" height="5.33" rx="1.7"/>
<rect x="336.25" y="270.06" width="5.54" height="5.33" rx="1.7"/>
<rect x="341.8" y="270.06" width="5.54" height="5.33" rx="1.7"/>
<rect x="347.34" y="270.06" width="5.54" height="5.33" rx="1.7"/>
<rect x="352.88" y="270.06" width="5.54" height="5.33" rx="1.7"/>
<rect x="358.43" y="270.06" width="5.54" height="5.33" rx="1.7"/>
<rect x="363.97" y="270.06" width="5.54" height="5.33" rx="1.7"/>
<rect x="369.52" y="270.06" width="5.54" height="5.33" rx="1.7"/>
<rect x="408.32" y="270.06" width="5.54" height="5.33" rx="1.7"/>
<rect x="413.87" y="270.06" width="5.54" height="5.33" rx="1.7"/>
<rect x="419.41" y="270.06" width="5.54" height="5.33" rx="1.7"/>
<rect x="424.95" y="270.06" width="5.54" height="5.33" rx="1.7"/>
<rect x="291.9" y="275.39" width="5.54" height="5.33" rx="1.7"/>
<rect x="297.45" y="275.39" width="5.54" height="5.33" rx="1.7"/>
<rect x="302.99" y="275.39" width="5.54" height="5.33" rx="1.7"/>
<rect x="308.53" y="275.39" width="5.54" height="5.33" rx="1.7"/>
<rect x="314.08" y="275.39" width="5.54" height="5.33" rx="1.7"/>
<rect x="319.62" y="275.39" width="5.54" height="5.33" rx="1.7"/>
<rect x="325.17" y="275.39" width="5.54" height="5.33" rx="1.7"/>
<rect x="330.71" y="275.39" width="5.54" height="5.33" rx="1.7"/>
<rect x="336.25" y="275.39" width="5.54" height="5.33" rx="1.7"/>
<rect x="341.8" y="275.39" width="5.54" height="5.33" rx="1.7"/>
<rect x="347.34" y="275.39" width="5.54" height="5.33" rx="1.7"/>
<rect x="352.88" y="275.39" width="5.54" height="5.33" rx="1.7"/>
<rect x="358.43" y="275.39" width="5.54" height="5.33" rx="1.7"/>
<rect x="363.97" y="275.39" width="5.54" height="5.33" rx="1.7"/>
<rect x="402.78" y="275.39" width="5.54" height="5.33" rx="1.7"/>
<rect x="408.32" y="275.39" width="5.54" height="5.33" rx="1.7"/>
<rect x="413.87" y="275.39" width="5.54" height="5.33" rx="1.7"/>
<rect x="419.41" y="275.39" width="5.54" height="5.33" rx="1.7"/>
<rect x="424.95" y="275.39" width="5.54" height="5.33" rx="1.7"/>
<rect x="291.9" y="280.72" width="5.54" height="5.33" rx="1.7"/>
<rect x="297.45" y="280.72" width="5.54" height="5.33" rx="1.7"/>
<rect x="302.99" y="280.72" width="5.54" height="5.33" rx="1.7"/>
<rect x="308.53" y="280.72" width="5.54" height="5.33" rx="1.7"/>
<rect x="314.08" y="280.72" width="5.54" height="5.33" rx="1.7"/>
<rect x="319.62" y="280.72" width="5.54" height="5.33" rx="1.7"/>
<rect x="325.17" y="280.72" width="5.54" height="5.33" rx="1.7"/>
<rect x="330.71" y="280.72" width="5.54" height="5.33" rx="1.7"/>
<rect x="336.25" y="280.72" width="5.54" height="5.33" rx="1.7"/>
<rect x="341.8" y="280.72" width="5.54" height="5.33" rx="1.7"/>
<rect x="347.34" y="280.72" width="5.54" height="5.33" rx="1.7"/>
<rect x="352.88" y="280.72" width="5.54" height="5.33" rx="1.7"/>
<rect x="358.43" y="280.72" width="5.54" height="5.33" rx="1.7"/>
<rect x="397.23" y="280.72" width="5.54" height="5.33" rx="1.7"/>
<rect x="402.78" y="280.72" width="5.54" height="5.33" rx="1.7"/>
<rect x="408.32" y="280.72" width="5.54" height="5.33" rx="1.7"/>
<rect x="413.87" y="280.72" width="5.54" height="5.33" rx="1.7"/>
<rect x="419.41" y="280.72" width="5.54" height="5.33" rx="1.7"/>
<rect x="424.95" y="280.72" width="5.54" height="5.33" rx="1.7"/>
<rect x="291.9" y="286.05" width="5.54" height="5.33" rx="1.7"/>
<rect x="297.45" y="286.05" width="5.54" height="5.33" rx="1.7"/>
<rect x="302.99" y="286.05" width="5.54" height="5.33" rx="1.7"/>
<rect x="308.53" y="286.05" width="5.54" height="5.33" rx="1.7"/>
<rect x="314.08" y="286.05" width="5.54" height="5.33" rx="1.7"/>
<rect x="319.62" y="286.05" width="5.54" height="5.33" rx="1.7"/>
<rect x="325.17" y="286.05" width="5.54" height="5.33" rx="1.7"/>
<rect x="330.71" y="286.05" width="5.54" height="5.33" rx="1.7"/>
<rect x="336.25" y="286.05" width="5.54" height="5.33" rx="1.7"/>
<rect x="341.8" y="286.05" width="5.54" height="5.33" rx="1.7"/>
<rect x="347.34" y="286.05" width="5.54" height="5.33" rx="1.7"/>
<rect x="352.88" y="286.05" width="5.54" height="5.33" rx="1.7"/>
<rect x="391.69" y="286.05" width="5.54" height="5.33" rx="1.7"/>
<rect x="397.23" y="286.05" width="5.54" height="5.33" rx="1.7"/>
<rect x="402.78" y="286.05" width="5.54" height="5.33" rx="1.7"/>
<rect x="408.32" y="286.05" width="5.54" height="5.33" rx="1.7"/>
<rect x="413.87" y="286.05" width="5.54" height="5.33" rx="1.7"/>
<rect x="419.41" y="286.05" width="5.54" height="5.33" rx="1.7"/>
<rect x="424.95" y="286.05" width="5.54" height="5.33" rx="1.7"/>
<rect x="291.9" y="291.38" width="5.54" height="5.33" rx="1.7"/>
<rect x="297.45" y="291.38" width="5.54" height="5.33" rx="1.7"/>
<rect x="302.99" y="291.38" width="5.54" height="5.33" rx="1.7"/>
<rect x="308.53" y="291.38" width="5.54" height="5.33" rx="1.7"/>
<rect x="314.08" y="291.38" width="5.54" height="5.33" rx="1.7"/>
<rect x="319.62" y="291.38" width="5.54" height="5.33" rx="1.7"/>
<rect x="325.17" y="291.38" width="5.54" height="5.33" rx="1.7"/>
<rect x="330.71" y="291.38" width="5.54" height="5.33" rx="1.7"/>
<rect x="336.25" y="291.38" width="5.54" height="5.33" rx="1.7"/>
<rect x="341.8" y="291.38" width="5.54" height="5.33" rx="1.7"/>
<rect x="347.34" y="291.38" width="5.54" height="5.33" rx="1.7"/>
<rect x="386.15" y="291.38" width="5.54" height="5.33" rx="1.7"/>
<rect x="391.69" y="291.38" width="5.54" height="5.33" rx="1.7"/>
<rect x="397.23" y="291.38" width="5.54" height="5.33" rx="1.7"/>
<rect x="402.78" y="291.38" width="5.54" height="5.33" rx="1.7"/>
<rect x="408.32" y="291.38" width="5.54" height="5.33" rx="1.7"/>
<rect x="413.87" y="291.38" width="5.54" height="5.33" rx="1.7"/>
<rect x="419.41" y="291.38" width="5.54" height="5.33" rx="1.7"/>
<rect x="424.95" y="291.38" width="5.54" height="5.33" rx="1.7"/>
<rect x="291.9" y="296.72" width="5.54" height="5.33" rx="1.7"/>
<rect x="297.45" y="296.72" width="5.54" height="5.33" rx="1.7"/>
<rect x="302.99" y="296.72" width="5.54" height="5.33" rx="1.7"/>
<rect x="308.53" y="296.72" width="5.54" height="5.33" rx="1.7"/>
<rect x="314.08" y="296.72" width="5.54" height="5.33" rx="1.7"/>
<rect x="319.62" y="296.72" width="5.54" height="5.33" rx="1.7"/>
<rect x="325.17" y="296.72" width="5.54" height="5.33" rx="1.7"/>
<rect x="330.71" y="296.72" width="5.54" height="5.33" rx="1.7"/>
<rect x="336.25" y="296.72" width="5.54" height="5.33" rx="1.7"/>
<rect x="341.8" y="296.72" width="5.54" height="5.33" rx="1.7"/>
<rect x="380.6" y="296.72" width="5.54" height="5.33" rx="1.7"/>
<rect x="386.15" y="296.72" width="5.54" height="5.33" rx="1.7"/>
<rect x="391.69" y="296.72" width="5.54" height="5.33" rx="1.7"/>
<rect x="397.23" y="296.72" width="5.54" height="5.33" rx="1.7"/>
<rect x="402.78" y="296.72" width="5.54" height="5.33" rx="1.7"/>
<rect x="408.32" y="296.72" width="5.54" height="5.33" rx="1.7"/>
<rect x="413.87" y="296.72" width="5.54" height="5.33" rx="1.7"/>
<rect x="419.41" y="296.72" width="5.54" height="5.33" rx="1.7"/>
<rect x="424.95" y="296.72" width="5.54" height="5.33" rx="1.7"/>
<rect x="291.9" y="302.05" width="5.54" height="5.33" rx="1.7"/>
<rect x="297.45" y="302.05" width="5.54" height="5.33" rx="1.7"/>
<rect x="302.99" y="302.05" width="5.54" height="5.33" rx="1.7"/>
<rect x="308.53" y="302.05" width="5.54" height="5.33" rx="1.7"/>
<rect x="314.08" y="302.05" width="5.54" height="5.33" rx="1.7"/>
<rect x="319.62" y="302.05" width="5.54" height="5.33" rx="1.7"/>
<rect x="325.17" y="302.05" width="5.54" height="5.33" rx="1.7"/>
<rect x="330.71" y="302.05" width="5.54" height="5.33" rx="1.7"/>
<rect x="336.25" y="302.05" width="5.54" height="5.33" rx="1.7"/>
<rect x="375.06" y="302.05" width="5.54" height="5.33" rx="1.7"/>
<rect x="380.6" y="302.05" width="5.54" height="5.33" rx="1.7"/>
<rect x="386.15" y="302.05" width="5.54" height="5.33" rx="1.7"/>
<rect x="391.69" y="302.05" width="5.54" height="5.33" rx="1.7"/>
<rect x="397.23" y="302.05" width="5.54" height="5.33" rx="1.7"/>
<rect x="402.78" y="302.05" width="5.54" height="5.33" rx="1.7"/>
<rect x="408.32" y="302.05" width="5.54" height="5.33" rx="1.7"/>
<rect x="413.87" y="302.05" width="5.54" height="5.33" rx="1.7"/>
<rect x="419.41" y="302.05" width="5.54" height="5.33" rx="1.7"/>
<rect x="424.95" y="302.05" width="5.54" height="5.33" rx="1.7"/>
<rect x="291.9" y="307.38" width="5.54" height="5.33" rx="1.7"/>
<rect x="297.45" y="307.38" width="5.54" height="5.33" rx="1.7"/>
<rect x="302.99" y="307.38" width="5.54" height="5.33" rx="1.7"/>
<rect x="308.53" y="307.38" width="5.54" height="5.33" rx="1.7"/>
<rect x="314.08" y="307.38" width="5.54" height="5.33" rx="1.7"/>
<rect x="319.62" y="307.38" width="5.54" height="5.33" rx="1.7"/>
<rect x="325.17" y="307.38" width="5.54" height="5.33" rx="1.7"/>
<rect x="330.71" y="307.38" width="5.54" height="5.33" rx="1.7"/>
<rect x="336.25" y="307.38" width="5.54" height="5.33" rx="1.7"/>
<rect x="369.52" y="307.38" width="5.54" height="5.33" rx="1.7"/>
<rect x="375.06" y="307.38" width="5.54" height="5.33" rx="1.7"/>
<rect x="380.6" y="307.38" width="5.54" height="5.33" rx="1.7"/>
<rect x="386.15" y="307.38" width="5.54" height="5.33" rx="1.7"/>
<rect x="391.69" y="307.38" width="5.54" height="5.33" rx="1.7"/>
<rect x="397.23" y="307.38" width="5.54" height="5.33" rx="1.7"/>
<rect x="402.78" y="307.38" width="5.54" height="5.33" rx="1.7"/>
<rect x="408.32" y="307.38" width="5.54" height="5.33" rx="1.7"/>
<rect x="413.87" y="307.38" width="5.54" height="5.33" rx="1.7"/>
<rect x="419.41" y="307.38" width="5.54" height="5.33" rx="1.7"/>
<rect x="424.95" y="307.38" width="5.54" height="5.33" rx="1.7"/>
<rect x="291.9" y="312.71" width="5.54" height="5.33" rx="1.7"/>
<rect x="297.45" y="312.71" width="5.54" height="5.33" rx="1.7"/>
<rect x="302.99" y="312.71" width="5.54" height="5.33" rx="1.7"/>
<rect x="308.53" y="312.71" width="5.54" height="5.33" rx="1.7"/>
<rect x="314.08" y="312.71" width="5.54" height="5.33" rx="1.7"/>
<rect x="319.62" y="312.71" width="5.54" height="5.33" rx="1.7"/>
<rect x="325.17" y="312.71" width="5.54" height="5.33" rx="1.7"/>
<rect x="330.71" y="312.71" width="5.54" height="5.33" rx="1.7"/>
<rect x="363.97" y="312.71" width="5.54" height="5.33" rx="1.7"/>
<rect x="369.52" y="312.71" width="5.54" height="5.33" rx="1.7"/>
<rect x="375.06" y="312.71" width="5.54" height="5.33" rx="1.7"/>
<rect x="380.6" y="312.71" width="5.54" height="5.33" rx="1.7"/>
<rect x="386.15" y="312.71" width="5.54" height="5.33" rx="1.7"/>
<rect x="391.69" y="312.71" width="5.54" height="5.33" rx="1.7"/>
<rect x="397.23" y="312.71" width="5.54" height="5.33" rx="1.7"/>
<rect x="402.78" y="312.71" width="5.54" height="5.33" rx="1.7"/>
<rect x="408.32" y="312.71" width="5.54" height="5.33" rx="1.7"/>
<rect x="413.87" y="312.71" width="5.54" height="5.33" rx="1.7"/>
<rect x="419.41" y="312.71" width="5.54" height="5.33" rx="1.7"/>
<rect x="424.95" y="312.71" width="5.54" height="5.33" rx="1.7"/>
<rect x="291.9" y="318.04" width="5.54" height="5.33" rx="1.7"/>
<rect x="297.45" y="318.04" width="5.54" height="5.33" rx="1.7"/>
<rect x="302.99" y="318.04" width="5.54" height="5.33" rx="1.7"/>
<rect x="308.53" y="318.04" width="5.54" height="5.33" rx="1.7"/>
<rect x="314.08" y="318.04" width="5.54" height="5.33" rx="1.7"/>
<rect x="319.62" y="318.04" width="5.54" height="5.33" rx="1.7"/>
<rect x="325.17" y="318.04" width="5.54" height="5.33" rx="1.7"/>
<rect x="358.43" y="318.04" width="5.54" height="5.33" rx="1.7"/>
<rect x="363.97" y="318.04" width="5.54" height="5.33" rx="1.7"/>
<rect x="369.52" y="318.04" width="5.54" height="5.33" rx="1.7"/>
<rect x="375.06" y="318.04" width="5.54" height="5.33" rx="1.7"/>
<rect x="380.6" y="318.04" width="5.54" height="5.33" rx="1.7"/>
<rect x="386.15" y="318.04" width="5.54" height="5.33" rx="1.7"/>
<rect x="391.69" y="318.04" width="5.54" height="5.33" rx="1.7"/>
<rect x="397.23" y="318.04" width="5.54" height="5.33" rx="1.7"/>
<rect x="402.78" y="318.04" width="5.54" height="5.33" rx="1.7"/>
<rect x="408.32" y="318.04" width="5.54" height="5.33" rx="1.7"/>
<rect x="413.87" y="318.04" width="5.54" height="5.33" rx="1.7"/>
<rect x="419.41" y="318.04" width="5.54" height="5.33" rx="1.7"/>
<rect x="424.95" y="318.04" width="5.54" height="5.33" rx="1.7"/>
<rect x="291.9" y="323.37" width="5.54" height="5.33" rx="1.7"/>
<rect x="297.45" y="323.37" width="5.54" height="5.33" rx="1.7"/>
<rect x="302.99" y="323.37" width="5.54" height="5.33" rx="1.7"/>
<rect x="308.53" y="323.37" width="5.54" height="5.33" rx="1.7"/>
<rect x="314.08" y="323.37" width="5.54" height="5.33" rx="1.7"/>
<rect x="319.62" y="323.37" width="5.54" height="5.33" rx="1.7"/>
<rect x="352.88" y="323.37" width="5.54" height="5.33" rx="1.7"/>
<rect x="358.43" y="323.37" width="5.54" height="5.33" rx="1.7"/>
<rect x="363.97" y="323.37" width="5.54" height="5.33" rx="1.7"/>
<rect x="369.52" y="323.37" width="5.54" height="5.33" rx="1.7"/>
<rect x="375.06" y="323.37" width="5.54" height="5.33" rx="1.7"/>
<rect x="380.6" y="323.37" width="5.54" height="5.33" rx="1.7"/>
<rect x="386.15" y="323.37" width="5.54" height="5.33" rx="1.7"/>
<rect x="391.69" y="323.37" width="5.54" height="5.33" rx="1.7"/>
<rect x="397.23" y="323.37" width="5.54" height="5.33" rx="1.7"/>
<rect x="402.78" y="323.37" width="5.54" height="5.33" rx="1.7"/>
<rect x="408.32" y="323.37" width="5.54" height="5.33" rx="1.7"/>
<rect x="413.87" y="323.37" width="5.54" height="5.33" rx="1.7"/>
<rect x="419.41" y="323.37" width="5.54" height="5.33" rx="1.7"/>
<rect x="424.95" y="323.37" width="5.54" height="5.33" rx="1.7"/>
<rect x="291.9" y="328.7" width="5.54" height="5.33" rx="1.7"/>
<rect x="297.45" y="328.7" width="5.54" height="5.33" rx="1.7"/>
<rect x="302.99" y="328.7" width="5.54" height="5.33" rx="1.7"/>
<rect x="308.53" y="328.7" width="5.54" height="5.33" rx="1.7"/>
<rect x="314.08" y="328.7" width="5.54" height="5.33" rx="1.7"/>
<rect x="319.62" y="328.7" width="5.54" height="5.33" rx="1.7"/>
<rect x="352.88" y="328.7" width="5.54" height="5.33" rx="1.7"/>
<rect x="358.43" y="328.7" width="5.54" height="5.33" rx="1.7"/>
<rect x="363.97" y="328.7" width="5.54" height="5.33" rx="1.7"/>
<rect x="369.52" y="328.7" width="5.54" height="5.33" rx="1.7"/>
<rect x="375.06" y="328.7" width="5.54" height="5.33" rx="1.7"/>
<rect x="380.6" y="328.7" width="5.54" height="5.33" rx="1.7"/>
<rect x="386.15" y="328.7" width="5.54" height="5.33" rx="1.7"/>
<rect x="391.69" y="328.7" width="5.54" height="5.33" rx="1.7"/>
<rect x="397.23" y="328.7" width="5.54" height="5.33" rx="1.7"/>
<rect x="402.78" y="328.7" width="5.54" height="5.33" rx="1.7"/>
<rect x="408.32" y="328.7" width="5.54" height="5.33" rx="1.7"/>
<rect x="413.87" y="328.7" width="5.54" height="5.33" rx="1.7"/>
<rect x="419.41" y="328.7" width="5.54" height="5.33" rx="1.7"/>
<rect x="424.95" y="328.7" width="5.54" height="5.33" rx="1.7"/>
<rect x="291.9" y="334.03" width="5.54" height="5.33" rx="1.7"/>
<rect x="297.45" y="334.03" width="5.54" height="5.33" rx="1.7"/>
<rect x="302.99" y="334.03" width="5.54" height="5.33" rx="1.7"/>
<rect x="308.53" y="334.03" width="5.54" height="5.33" rx="1.7"/>
<rect x="314.08" y="334.03" width="5.54" height="5.33" rx="1.7"/>
<rect x="347.34" y="334.03" width="5.54" height="5.33" rx="1.7"/>
<rect x="352.88" y="334.03" width="5.54" height="5.33" rx="1.7"/>
<rect x="358.43" y="334.03" width="5.54" height="5.33" rx="1.7"/>
<rect x="363.97" y="334.03" width="5.54" height="5.33" rx="1.7"/>
<rect x="369.52" y="334.03" width="5.54" height="5.33" rx="1.7"/>
<rect x="375.06" y="334.03" width="5.54" height="5.33" rx="1.7"/>
<rect x="380.6" y="334.03" width="5.54" height="5.33" rx="1.7"/>
<rect x="386.15" y="334.03" width="5.54" height="5.33" rx="1.7"/>
<rect x="391.69" y="334.03" width="5.54" height="5.33" rx="1.7"/>
<rect x="397.23" y="334.03" width="5.54" height="5.33" rx="1.7"/>
<rect x="402.78" y="334.03" width="5.54" height="5.33" rx="1.7"/>
<rect x="408.32" y="334.03" width="5.54" height="5.33" rx="1.7"/>
<rect x="413.87" y="334.03" width="5.54" height="5.33" rx="1.7"/>
<rect x="419.41" y="334.03" width="5.54" height="5.33" rx="1.7"/>
<rect x="424.95" y="334.03" width="5.54" height="5.33" rx="1.7"/>
<rect x="291.9" y="339.37" width="5.54" height="5.33" rx="1.7"/>
<rect x="297.45" y="339.37" width="5.54" height="5.33" rx="1.7"/>
<rect x="302.99" y="339.37" width="5.54" height="5.33" rx="1.7"/>
<rect x="308.53" y="339.37" width="5.54" height="5.33" rx="1.7"/>
<rect x="314.08" y="339.37" width="5.54" height="5.33" rx="1.7"/>
<rect x="347.34" y="339.37" width="5.54" height="5.33" rx="1.7"/>
<rect x="352.88" y="339.37" width="5.54" height="5.33" rx="1.7"/>
<rect x="358.43" y="339.37" width="5.54" height="5.33" rx="1.7"/>
<rect x="363.97" y="339.37" width="5.54" height="5.33" rx="1.7"/>
<rect x="369.52" y="339.37" width="5.54" height="5.33" rx="1.7"/>
<rect x="375.06" y="339.37" width="5.54" height="5.33" rx="1.7"/>
<rect x="380.6" y="339.37" width="5.54" height="5.33" rx="1.7"/>
<rect x="386.15" y="339.37" width="5.54" height="5.33" rx="1.7"/>
<rect x="391.69" y="339.37" width="5.54" height="5.33" rx="1.7"/>
<rect x="397.23" y="339.37" width="5.54" height="5.33" rx="1.7"/>
<rect x="402.78" y="339.37" width="5.54" height="5.33" rx="1.7"/>
<rect x="408.32" y="339.37" width="5.54" height="5.33" rx="1.7"/>
<rect x="413.87" y="339.37" width="5.54" height="5.33" rx="1.7"/>
<rect x="419.41" y="339.37" width="5.54" height="5.33" rx="1.7"/>
<rect x="424.95" y="339.37" width="5.54" height="5.33" rx="1.7"/>
<rect x="291.9" y="344.7" width="5.54" height="5.33" rx="1.7"/>
<rect x="297.45" y="344.7" width="5.54" height="5.33" rx="1.7"/>
<rect x="302.99" y="344.7" width="5.54" height="5.33" rx="1.7"/>
<rect x="308.53" y="344.7" width="5.54" height="5.33" rx="1.7"/>
<rect x="314.08" y="344.7" width="5.54" height="5.33" rx="1.7"/>
<rect x="341.8" y="344.7" width="5.54" height="5.33" rx="1.7"/>
<rect x="347.34" y="344.7" width="5.54" height="5.33" rx="1.7"/>
<rect x="352.88" y="344.7" width="5.54" height="5.33" rx="1.7"/>
<rect x="358.43" y="344.7" width="5.54" height="5.33" rx="1.7"/>
<rect x="363.97" y="344.7" width="5.54" height="5.33" rx="1.7"/>
<rect x="369.52" y="344.7" width="5.54" height="5.33" rx="1.7"/>
<rect x="375.06" y="344.7" width="5.54" height="5.33" rx="1.7"/>
<rect x="380.6" y="344.7" width="5.54" height="5.33" rx="1.7"/>
<rect x="386.15" y="344.7" width="5.54" height="5.33" rx="1.7"/>
<rect x="391.69" y="344.7" width="5.54" height="5.33" rx="1.7"/>
<rect x="397.23" y="344.7" width="5.54" height="5.33" rx="1.7"/>
<rect x="402.78" y="344.7" width="5.54" height="5.33" rx="1.7"/>
<rect x="408.32" y="344.7" width="5.54" height="5.33" rx="1.7"/>
<rect x="413.87" y="344.7" width="5.54" height="5.33" rx="1.7"/>
<rect x="419.41" y="344.7" width="5.54" height="5.33" rx="1.7"/>
<rect x="424.95" y="344.7" width="5.54" height="5.33" rx="1.7"/>
<rect x="291.9" y="350.03" width="5.54" height="5.33" rx="1.7"/>
<rect x="297.45" y="350.03" width="5.54" height="5.33" rx="1.7"/>
<rect x="302.99" y="350.03" width="5.54" height="5.33" rx="1.7"/>
<rect x="308.53" y="350.03" width="5.54" height="5.33" rx="1.7"/>
<rect x="341.8" y="350.03" width="5.54" height="5.33" rx="1.7"/>
<rect x="347.34" y="350.03" width="5.54" height="5.33" rx="1.7"/>
<rect x="352.88" y="350.03" width="5.54" height="5.33" rx="1.7"/>
<rect x="358.43" y="350.03" width="5.54" height="5.33" rx="1.7"/>
<rect x="363.97" y="350.03" width="5.54" height="5.33" rx="1.7"/>
<rect x="369.52" y="350.03" width="5.54" height="5.33" rx="1.7"/>
<rect x="375.06" y="350.03" width="5.54" height="5.33" rx="1.7"/>
<rect x="380.6" y="350.03" width="5.54" height="5.33" rx="1.7"/>
<rect x="386.15" y="350.03" width="5.54" height="5.33" rx="1.7"/>
<rect x="391.69" y="350.03" width="5.54" height="5.33" rx="1.7"/>
<rect x="397.23" y="350.03" width="5.54" height="5.33" rx="1.7"/>
<rect x="402.78" y="350.03" width="5.54" height="5.33" rx="1.7"/>
<rect x="408.32" y="350.03" width="5.54" height="5.33" rx="1.7"/>
<rect x="413.87" y="350.03" width="5.54" height="5.33" rx="1.7"/>
<rect x="419.41" y="350.03" width="5.54" height="5.33" rx="1.7"/>
<rect x="424.95" y="350.03" width="5.54" height="5.33" rx="1.7"/>
<rect x="291.9" y="355.36" width="5.54" height="5.33" rx="1.7"/>
<rect x="297.45" y="355.36" width="5.54" height="5.33" rx="1.7"/>
<rect x="302.99" y="355.36" width="5.54" height="5.33" rx="1.7"/>
<rect x="308.53" y="355.36" width="5.54" height="5.33" rx="1.7"/>
<rect x="341.8" y="355.36" width="5.54" height="5.33" rx="1.7"/>
<rect x="347.34" y="355.36" width="5.54" height="5.33" rx="1.7"/>
<rect x="352.88" y="355.36" width="5.54" height="5.33" rx="1.7"/>
<rect x="358.43" y="355.36" width="5.54" height="5.33" rx="1.7"/>
<rect x="363.97" y="355.36" width="5.54" height="5.33" rx="1.7"/>
<rect x="369.52" y="355.36" width="5.54" height="5.33" rx="1.7"/>
<rect x="375.06" y="355.36" width="5.54" height="5.33" rx="1.7"/>
<rect x="380.6" y="355.36" width="5.54" height="5.33" rx="1.7"/>
<rect x="386.15" y="355.36" width="5.54" height="5.33" rx="1.7"/>
<rect x="391.69" y="355.36" width="5.54" height="5.33" rx="1.7"/>
<rect x="397.23" y="355.36" width="5.54" height="5.33" rx="1.7"/>
<rect x="402.78" y="355.36" width="5.54" height="5.33" rx="1.7"/>
<rect x="408.32" y="355.36" width="5.54" height="5.33" rx="1.7"/>
<rect x="413.87" y="355.36" width="5.54" height="5.33" rx="1.7"/>
<rect x="419.41" y="355.36" width="5.54" height="5.33" rx="1.7"/>
<rect x="424.95" y="355.36" width="5.54" height="5.33" rx="1.7"/>
<rect x="291.9" y="360.69" width="5.54" height="5.33" rx="1.7"/>
<rect x="297.45" y="360.69" width="5.54" height="5.33" rx="1.7"/>
<rect x="302.99" y="360.69" width="5.54" height="5.33" rx="1.7"/>
<rect x="308.53" y="360.69" width="5.54" height="5.33" rx="1.7"/>
<rect x="336.25" y="360.69" width="5.54" height="5.33" rx="1.7"/>
<rect x="341.8" y="360.69" width="5.54" height="5.33" rx="1.7"/>
<rect x="347.34" y="360.69" width="5.54" height="5.33" rx="1.7"/>
<rect x="352.88" y="360.69" width="5.54" height="5.33" rx="1.7"/>
<rect x="358.43" y="360.69" width="5.54" height="5.33" rx="1.7"/>
<rect x="363.97" y="360.69" width="5.54" height="5.33" rx="1.7"/>
<rect x="369.52" y="360.69" width="5.54" height="5.33" rx="1.7"/>
<rect x="375.06" y="360.69" width="5.54" height="5.33" rx="1.7"/>
<rect x="380.6" y="360.69" width="5.54" height="5.33" rx="1.7"/>
<rect x="386.15" y="360.69" width="5.54" height="5.33" rx="1.7"/>
<rect x="391.69" y="360.69" width="5.54" height="5.33" rx="1.7"/>
<rect x="397.23" y="360.69" width="5.54" height="5.33" rx="1.7"/>
<rect x="402.78" y="360.69" width="5.54" height="5.33" rx="1.7"/>
<rect x="408.32" y="360.69" width="5.54" height="5.33" rx="1.7"/>
<rect x="413.87" y="360.69" width="5.54" height="5.33" rx="1.7"/>
<rect x="419.41" y="360.69" width="5.54" height="5.33" rx="1.7"/>
<rect x="424.95" y="360.69" width="5.54" height="5.33" rx="1.7"/>
<rect x="291.9" y="366.02" width="5.54" height="5.33" rx="1.7"/>
<rect x="297.45" y="366.02" width="5.54" height="5.33" rx="1.7"/>
<rect x="302.99" y="366.02" width="5.54" height="5.33" rx="1.7"/>
<rect x="308.53" y="366.02" width="5.54" height="5.33" rx="1.7"/>
<rect x="336.25" y="366.02" width="5.54" height="5.33" rx="1.7"/>
<rect x="341.8" y="366.02" width="5.54" height="5.33" rx="1.7"/>
<rect x="347.34" y="366.02" width="5.54" height="5.33" rx="1.7"/>
<rect x="352.88" y="366.02" width="5.54" height="5.33" rx="1.7"/>
<rect x="358.43" y="366.02" width="5.54" height="5.33" rx="1.7"/>
<rect x="363.97" y="366.02" width="5.54" height="5.33" rx="1.7"/>
<rect x="369.52" y="366.02" width="5.54" height="5.33" rx="1.7"/>
<rect x="375.06" y="366.02" width="5.54" height="5.33" rx="1.7"/>
<rect x="380.6" y="366.02" width="5.54" height="5.33" rx="1.7"/>
<rect x="386.15" y="366.02" width="5.54" height="5.33" rx="1.7"/>
<rect x="391.69" y="366.02" width="5.54" height="5.33" rx="1.7"/>
<rect x="397.23" y="366.02" width="5.54" height="5.33" rx="1.7"/>
<rect x="402.78" y="366.02" width="5.54" height="5.33" rx="1.7"/>
<rect x="408.32" y="366.02" width="5.54" height="5.33" rx="1.7"/>
<rect x="413.87" y="366.02" width="5.54" height="5.33" rx="1.7"/>
<rect x="419.41" y="366.02" width="5.54" height="5.33" rx="1.7"/>
<rect x="424.95" y="366.02" width="5.54" height="5.33" rx="1.7"/>
<rect x="291.9" y="371.35" width="5.54" height="5.33" rx="1.7"/>
<rect x="297.45" y="371.35" width="5.54" height="5.33" rx="1.7"/>
<rect x="302.99" y="371.35" width="5.54" height="5.33" rx="1.7"/>
<rect x="308.53" y="371.35" width="5.54" height="5.33" rx="1.7"/>
<rect x="314.08" y="371.35" width="5.54" height="5.33" rx="1.7"/>
<rect x="336.25" y="371.35" width="5.54" height="5.33" rx="1.7"/>
<rect x="341.8" y="371.35" width="5.54" height="5.33" rx="1.7"/>
<rect x="347.34" y="371.35" width="5.54" height="5.33" rx="1.7"/>
<rect x="352.88" y="371.35" width="5.54" height="5.33" rx="1.7"/>
<rect x="358.43" y="371.35" width="5.54" height="5.33" rx="1.7"/>
<rect x="363.97" y="371.35" width="5.54" height="5.33" rx="1.7"/>
<rect x="369.52" y="371.35" width="5.54" height="5.33" rx="1.7"/>
<rect x="375.06" y="371.35" width="5.54" height="5.33" rx="1.7"/>
<rect x="380.6" y="371.35" width="5.54" height="5.33" rx="1.7"/>
<rect x="386.15" y="371.35" width="5.54" height="5.33" rx="1.7"/>
<rect x="391.69" y="371.35" width="5.54" height="5.33" rx="1.7"/>
<rect x="397.23" y="371.35" width="5.54" height="5.33" rx="1.7"/>
<rect x="402.78" y="371.35" width="5.54" height="5.33" rx="1.7"/>
<rect x="408.32" y="371.35" width="5.54" height="5.33" rx="1.7"/>
<rect x="413.87" y="371.35" width="5.54" height="5.33" rx="1.7"/>
<rect x="419.41" y="371.35" width="5.54" height="5.33" rx="1.7"/>
<rect x="424.95" y="371.35" width="5.54" height="5.33" rx="1.7"/>
<rect x="291.9" y="376.68" width="5.54" height="5.33" rx="1.7"/>
<rect x="297.45" y="376.68" width="5.54" height="5.33" rx="1.7"/>
<rect x="302.99" y="376.68" width="5.54" height="5.33" rx="1.7"/>
<rect x="308.53" y="376.68" width="5.54" height="5.33" rx="1.7"/>
<rect x="314.08" y="376.68" width="5.54" height="5.33" rx="1.7"/>
<rect x="336.25" y="376.68" width="5.54" height="5.33" rx="1.7"/>
<rect x="341.8" y="376.68" width="5.54" height="5.33" rx="1.7"/>
<rect x="347.34" y="376.68" width="5.54" height="5.33" rx="1.7"/>
<rect x="352.88" y="376.68" width="5.54" height="5.33" rx="1.7"/>
<rect x="358.43" y="376.68" width="5.54" height="5.33" rx="1.7"/>
<rect x="363.97" y="376.68" width="5.54" height="5.33" rx="1.7"/>
<rect x="369.52" y="376.68" width="5.54" height="5.33" rx="1.7"/>
<rect x="375.06" y="376.68" width="5.54" height="5.33" rx="1.7"/>
<rect x="380.6" y="376.68" width="5.54" height="5.33" rx="1.7"/>
<rect x="386.15" y="376.68" width="5.54" height="5.33" rx="1.7"/>
<rect x="391.69" y="376.68" width="5.54" height="5.33" rx="1.7"/>
<rect x="397.23" y="376.68" width="5.54" height="5.33" rx="1.7"/>
<rect x="402.78" y="376.68" width="5.54" height="5.33" rx="1.7"/>
<rect x="408.32" y="376.68" width="5.54" height="5.33" rx="1.7"/>
<rect x="413.87" y="376.68" width="5.54" height="5.33" rx="1.7"/>
<rect x="419.41" y="376.68" width="5.54" height="5.33" rx="1.7"/>
<rect x="424.95" y="376.68" width="5.54" height="5.33" rx="1.7"/>
<rect x="291.9" y="382.02" width="5.54" height="5.33" rx="1.7"/>
<rect x="297.45" y="382.02" width="5.54" height="5.33" rx="1.7"/>
<rect x="302.99" y="382.02" width="5.54" height="5.33" rx="1.7"/>
<rect x="308.53" y="382.02" width="5.54" height="5.33" rx="1.7"/>
<rect x="314.08" y="382.02" width="5.54" height="5.33" rx="1.7"/>
<rect x="319.62" y="382.02" width="5.54" height="5.33" rx="1.7"/>
<rect x="330.71" y="382.02" width="5.54" height="5.33" rx="1.7"/>
<rect x="336.25" y="382.02" width="5.54" height="5.33" rx="1.7"/>
<rect x="341.8" y="382.02" width="5.54" height="5.33" rx="1.7"/>
<rect x="347.34" y="382.02" width="5.54" height="5.33" rx="1.7"/>
<rect x="352.88" y="382.02" width="5.54" height="5.33" rx="1.7"/>
<rect x="358.43" y="382.02" width="5.54" height="5.33" rx="1.7"/>
<rect x="363.97" y="382.02" width="5.54" height="5.33" rx="1.7"/>
<rect x="369.52" y="382.02" width="5.54" height="5.33" rx="1.7"/>
<rect x="375.06" y="382.02" width="5.54" height="5.33" rx="1.7"/>
<rect x="380.6" y="382.02" width="5.54" height="5.33" rx="1.7"/>
<rect x="386.15" y="382.02" width="5.54" height="5.33" rx="1.7"/>
<rect x="391.69" y="382.02" width="5.54" height="5.33" rx="1.7"/>
<rect x="397.23" y="382.02" width="5.54" height="5.33" rx="1.7"/>
<rect x="402.78" y="382.02" width="5.54" height="5.33" rx="1.7"/>
<rect x="408.32" y="382.02" width="5.54" height="5.33" rx="1.7"/>
<rect x="413.87" y="382.02" width="5.54" height="5.33" rx="1.7"/>
<rect x="419.41" y="382.02" width="5.54" height="5.33" rx="1.7"/>
<rect x="424.95" y="382.02" width="5.54" height="5.33" rx="1.7"/>
<rect x="291.9" y="387.35" width="5.54" height="5.33" rx="1.7"/>
<rect x="297.45" y="387.35" width="5.54" height="5.33" rx="1.7"/>
<rect x="302.99" y="387.35" width="5.54" height="5.33" rx="1.7"/>
<rect x="308.53" y="387.35" width="5.54" height="5.33" rx="1.7"/>
<rect x="314.08" y="387.35" width="5.54" height="5.33" rx="1.7"/>
<rect x="319.62" y="387.35" width="5.54" height="5.33" rx="1.7"/>
<rect x="330.71" y="387.35" width="5.54" height="5.33" rx="1.7"/>
<rect x="336.25" y="387.35" width="5.54" height="5.33" rx="1.7"/>
<rect x="341.8" y="387.35" width="5.54" height="5.33" rx="1.7"/>
<rect x="347.34" y="387.35" width="5.54" height="5.33" rx="1.7"/>
<rect x="352.88" y="387.35" width="5.54" height="5.33" rx="1.7"/>
<rect x="358.43" y="387.35" width="5.54" height="5.33" rx="1.7"/>
<rect x="363.97" y="387.35" width="5.54" height="5.33" rx="1.7"/>
<rect x="369.52" y="387.35" width="5.54" height="5.33" rx="1.7"/>
<rect x="375.06" y="387.35" width="5.54" height="5.33" rx="1.7"/>
<rect x="380.6" y="387.35" width="5.54" height="5.33" rx="1.7"/>
<rect x="386.15" y="387.35" width="5.54" height="5.33" rx="1.7"/>
<rect x="391.69" y="387.35" width="5.54" height="5.33" rx="1.7"/>
<rect x="397.23" y="387.35" width="5.54" height="5.33" rx="1.7"/>
<rect x="402.78" y="387.35" width="5.54" height="5.33" rx="1.7"/>
<rect x="408.32" y="387.35" width="5.54" height="5.33" rx="1.7"/>
<rect x="413.87" y="387.35" width="5.54" height="5.33" rx="1.7"/>
<rect x="419.41" y="387.35" width="5.54" height="5.33" rx="1.7"/>
<rect x="424.95" y="387.35" width="5.54" height="5.33" rx="1.7"/>
<rect x="291.9" y="392.68" width="5.54" height="5.33" rx="1.7"/>
<rect x="297.45" y="392.68" width="5.54" height="5.33" rx="1.7"/>
<rect x="302.99" y="392.68" width="5.54" height="5.33" rx="1.7"/>
<rect x="308.53" y="392.68" width="5.54" height="5.33" rx="1.7"/>
<rect x="314.08" y="392.68" width="5.54" height="5.33" rx="1.7"/>
<rect x="319.62" y="392.68" width="5.54" height="5.33" rx="1.7"/>
<rect x="330.71" y="392.68" width="5.54" height="5.33" rx="1.7"/>
<rect x="336.25" y="392.68" width="5.54" height="5.33" rx="1.7"/>
<rect x="341.8" y="392.68" width="5.54" height="5.33" rx="1.7"/>
<rect x="347.34" y="392.68" width="5.54" height="5.33" rx="1.7"/>
<rect x="352.88" y="392.68" width="5.54" height="5.33" rx="1.7"/>
<rect x="358.43" y="392.68" width="5.54" height="5.33" rx="1.7"/>
<rect x="363.97" y="392.68" width="5.54" height="5.33" rx="1.7"/>
<rect x="369.52" y="392.68" width="5.54" height="5.33" rx="1.7"/>
<rect x="375.06" y="392.68" width="5.54" height="5.33" rx="1.7"/>
<rect x="380.6" y="392.68" width="5.54" height="5.33" rx="1.7"/>
<rect x="386.15" y="392.68" width="5.54" height="5.33" rx="1.7"/>
<rect x="391.69" y="392.68" width="5.54" height="5.33" rx="1.7"/>
<rect x="397.23" y="392.68" width="5.54" height="5.33" rx="1.7"/>
<rect x="402.78" y="392.68" width="5.54" height="5.33" rx="1.7"/>
<rect x="408.32" y="392.68" width="5.54" height="5.33" rx="1.7"/>
<rect x="413.87" y="392.68" width="5.54" height="5.33" rx="1.7"/>
<rect x="419.41" y="392.68" width="5.54" height="5.33" rx="1.7"/>
<rect x="424.95" y="392.68" width="5.54" height="5.33" rx="1.7"/>
<rect x="291.9" y="398.01" width="5.54" height="5.33" rx="1.7"/>
<rect x="297.45" y="398.01" width="5.54" height="5.33" rx="1.7"/>
<rect x="302.99" y="398.01" width="5.54" height="5.33" rx="1.7"/>
<rect x="308.53" y="398.01" width="5.54" height="5.33" rx="1.7"/>
<rect x="314.08" y="398.01" width="5.54" height="5.33" rx="1.7"/>
<rect x="319.62" y="398.01" width="5.54" height="5.33" rx="1.7"/>
<rect x="330.71" y="398.01" width="5.54" height="5.33" rx="1.7"/>
<rect x="336.25" y="398.01" width="5.54" height="5.33" rx="1.7"/>
<rect x="341.8" y="398.01" width="5.54" height="5.33" rx="1.7"/>
<rect x="347.34" y="398.01" width="5.54" height="5.33" rx="1.7"/>
<rect x="352.88" y="398.01" width="5.54" height="5.33" rx="1.7"/>
<rect x="358.43" y="398.01" width="5.54" height="5.33" rx="1.7"/>
<rect x="363.97" y="398.01" width="5.54" height="5.33" rx="1.7"/>
<rect x="369.52" y="398.01" width="5.54" height="5.33" rx="1.7"/>
<rect x="375.06" y="398.01" width="5.54" height="5.33" rx="1.7"/>
<rect x="380.6" y="398.01" width="5.54" height="5.33" rx="1.7"/>
<rect x="386.15" y="398.01" width="5.54" height="5.33" rx="1.7"/>
<rect x="391.69" y="398.01" width="5.54" height="5.33" rx="1.7"/>
<rect x="397.23" y="398.01" width="5.54" height="5.33" rx="1.7"/>
<rect x="402.78" y="398.01" width="5.54" height="5.33" rx="1.7"/>
<rect x="408.32" y="398.01" width="5.54" height="5.33" rx="1.7"/>
<rect x="413.87" y="398.01" width="5.54" height="5.33" rx="1.7"/>
<rect x="419.41" y="398.01" width="5.54" height="5.33" rx="1.7"/>
<rect x="424.95" y="398.01" width="5.54" height="5.33" rx="1.7"/>
</g>
<g stroke="#080808" stroke-width="0.9" fill="#9c9c9c">
<rect x="375.06" y="270.06" width="5.54" height="5.33" rx="1.7"/>
<rect x="380.6" y="270.06" width="5.54" height="5.33" rx="1.7"/>
<rect x="386.15" y="270.06" width="5.54" height="5.33" rx="1.7"/>
<rect x="391.69" y="270.06" width="5.54" height="5.33" rx="1.7"/>
<rect x="397.23" y="270.06" width="5.54" height="5.33" rx="1.7"/>
<rect x="402.78" y="270.06" width="5.54" height="5.33" rx="1.7"/>
<rect x="369.52" y="275.39" width="5.54" height="5.33" rx="1.7"/>
<rect x="375.06" y="275.39" width="5.54" height="5.33" rx="1.7"/>
<rect x="380.6" y="275.39" width="5.54" height="5.33" rx="1.7"/>
<rect x="386.15" y="275.39" width="5.54" height="5.33" rx="1.7"/>
<rect x="391.69" y="275.39" width="5.54" height="5.33" rx="1.7"/>
<rect x="397.23" y="275.39" width="5.54" height="5.33" rx="1.7"/>
<rect x="363.97" y="280.72" width="5.54" height="5.33" rx="1.7"/>
<rect x="369.52" y="280.72" width="5.54" height="5.33" rx="1.7"/>
<rect x="375.06" y="280.72" width="5.54" height="5.33" rx="1.7"/>
<rect x="380.6" y="280.72" width="5.54" height="5.33" rx="1.7"/>
<rect x="386.15" y="280.72" width="5.54" height="5.33" rx="1.7"/>
<rect x="391.69" y="280.72" width="5.54" height="5.33" rx="1.7"/>
<rect x="358.43" y="286.05" width="5.54" height="5.33" rx="1.7"/>
<rect x="363.97" y="286.05" width="5.54" height="5.33" rx="1.7"/>
<rect x="369.52" y="286.05" width="5.54" height="5.33" rx="1.7"/>
<rect x="375.06" y="286.05" width="5.54" height="5.33" rx="1.7"/>
<rect x="380.6" y="286.05" width="5.54" height="5.33" rx="1.7"/>
<rect x="386.15" y="286.05" width="5.54" height="5.33" rx="1.7"/>
<rect x="352.88" y="291.38" width="5.54" height="5.33" rx="1.7"/>
<rect x="358.43" y="291.38" width="5.54" height="5.33" rx="1.7"/>
<rect x="363.97" y="291.38" width="5.54" height="5.33" rx="1.7"/>
<rect x="369.52" y="291.38" width="5.54" height="5.33" rx="1.7"/>
<rect x="375.06" y="291.38" width="5.54" height="5.33" rx="1.7"/>
<rect x="380.6" y="291.38" width="5.54" height="5.33" rx="1.7"/>
<rect x="347.34" y="296.72" width="5.54" height="5.33" rx="1.7"/>
<rect x="352.88" y="296.72" width="5.54" height="5.33" rx="1.7"/>
<rect x="358.43" y="296.72" width="5.54" height="5.33" rx="1.7"/>
<rect x="363.97" y="296.72" width="5.54" height="5.33" rx="1.7"/>
<rect x="369.52" y="296.72" width="5.54" height="5.33" rx="1.7"/>
<rect x="375.06" y="296.72" width="5.54" height="5.33" rx="1.7"/>
<rect x="341.8" y="302.05" width="5.54" height="5.33" rx="1.7"/>
<rect x="347.34" y="302.05" width="5.54" height="5.33" rx="1.7"/>
<rect x="352.88" y="302.05" width="5.54" height="5.33" rx="1.7"/>
<rect x="358.43" y="302.05" width="5.54" height="5.33" rx="1.7"/>
<rect x="363.97" y="302.05" width="5.54" height="5.33" rx="1.7"/>
<rect x="369.52" y="302.05" width="5.54" height="5.33" rx="1.7"/>
<rect x="341.8" y="307.38" width="5.54" height="5.33" rx="1.7"/>
<rect x="347.34" y="307.38" width="5.54" height="5.33" rx="1.7"/>
<rect x="352.88" y="307.38" width="5.54" height="5.33" rx="1.7"/>
<rect x="358.43" y="307.38" width="5.54" height="5.33" rx="1.7"/>
<rect x="363.97" y="307.38" width="5.54" height="5.33" rx="1.7"/>
<rect x="336.25" y="312.71" width="5.54" height="5.33" rx="1.7"/>
<rect x="341.8" y="312.71" width="5.54" height="5.33" rx="1.7"/>
<rect x="347.34" y="312.71" width="5.54" height="5.33" rx="1.7"/>
<rect x="352.88" y="312.71" width="5.54" height="5.33" rx="1.7"/>
<rect x="358.43" y="312.71" width="5.54" height="5.33" rx="1.7"/>
<rect x="330.71" y="318.04" width="5.54" height="5.33" rx="1.7"/>
<rect x="336.25" y="318.04" width="5.54" height="5.33" rx="1.7"/>
<rect x="341.8" y="318.04" width="5.54" height="5.33" rx="1.7"/>
<rect x="347.34" y="318.04" width="5.54" height="5.33" rx="1.7"/>
<rect x="352.88" y="318.04" width="5.54" height="5.33" rx="1.7"/>
<rect x="325.17" y="323.37" width="5.54" height="5.33" rx="1.7"/>
<rect x="330.71" y="323.37" width="5.54" height="5.33" rx="1.7"/>
<rect x="336.25" y="323.37" width="5.54" height="5.33" rx="1.7"/>
<rect x="341.8" y="323.37" width="5.54" height="5.33" rx="1.7"/>
<rect x="347.34" y="323.37" width="5.54" height="5.33" rx="1.7"/>
<rect x="325.17" y="328.7" width="5.54" height="5.33" rx="1.7"/>
<rect x="330.71" y="328.7" width="5.54" height="5.33" rx="1.7"/>
<rect x="336.25" y="328.7" width="5.54" height="5.33" rx="1.7"/>
<rect x="341.8" y="328.7" width="5.54" height="5.33" rx="1.7"/>
<rect x="347.34" y="328.7" width="5.54" height="5.33" rx="1.7"/>
<rect x="319.62" y="334.03" width="5.54" height="5.33" rx="1.7"/>
<rect x="325.17" y="334.03" width="5.54" height="5.33" rx="1.7"/>
<rect x="330.71" y="334.03" width="5.54" height="5.33" rx="1.7"/>
<rect x="336.25" y="334.03" width="5.54" height="5.33" rx="1.7"/>
<rect x="341.8" y="334.03" width="5.54" height="5.33" rx="1.7"/>
<rect x="319.62" y="339.37" width="5.54" height="5.33" rx="1.7"/>
<rect x="325.17" y="339.37" width="5.54" height="5.33" rx="1.7"/>
<rect x="330.71" y="339.37" width="5.54" height="5.33" rx="1.7"/>
<rect x="336.25" y="339.37" width="5.54" height="5.33" rx="1.7"/>
<rect x="341.8" y="339.37" width="5.54" height="5.33" rx="1.7"/>
<rect x="319.62" y="344.7" width="5.54" height="5.33" rx="1.7"/>
<rect x="325.17" y="344.7" width="5.54" height="5.33" rx="1.7"/>
<rect x="330.71" y="344.7" width="5.54" height="5.33" rx="1.7"/>
<rect x="336.25" y="344.7" width="5.54" height="5.33" rx="1.7"/>
<rect x="314.08" y="350.03" width="5.54" height="5.33" rx="1.7"/>
<rect x="319.62" y="350.03" width="5.54" height="5.33" rx="1.7"/>
<rect x="325.17" y="350.03" width="5.54" height="5.33" rx="1.7"/>
<rect x="330.71" y="350.03" width="5.54" height="5.33" rx="1.7"/>
<rect x="336.25" y="350.03" width="5.54" height="5.33" rx="1.7"/>
<rect x="314.08" y="355.36" width="5.54" height="5.33" rx="1.7"/>
<rect x="319.62" y="355.36" width="5.54" height="5.33" rx="1.7"/>
<rect x="325.17" y="355.36" width="5.54" height="5.33" rx="1.7"/>
<rect x="330.71" y="355.36" width="5.54" height="5.33" rx="1.7"/>
<rect x="336.25" y="355.36" width="5.54" height="5.33" rx="1.7"/>
<rect x="314.08" y="360.69" width="5.54" height="5.33" rx="1.7"/>
<rect x="319.62" y="360.69" width="5.54" height="5.33" rx="1.7"/>
<rect x="325.17" y="360.69" width="5.54" height="5.33" rx="1.7"/>
<rect x="330.71" y="360.69" width="5.54" height="5.33" rx="1.7"/>
<rect x="314.08" y="366.02" width="5.54" height="5.33" rx="1.7"/>
<rect x="319.62" y="366.02" width="5.54" height="5.33" rx="1.7"/>
<rect x="325.17" y="366.02" width="5.54" height="5.33" rx="1.7"/>
<rect x="330.71" y="366.02" width="5.54" height="5.33" rx="1.7"/>
<rect x="319.62" y="371.35" width="5.54" height="5.33" rx="1.7"/>
<rect x="325.17" y="371.35" width="5.54" height="5.33" rx="1.7"/>
<rect x="330.71" y="371.35" width="5.54" height="5.33" rx="1.7"/>
<rect x="319.62" y="376.68" width="5.54" height="5.33" rx="1.7"/>
<rect x="325.17" y="376.68" width="5.54" height="5.33" rx="1.7"/>
<rect x="330.71" y="376.68" width="5.54" height="5.33" rx="1.7"/>
<rect x="325.17" y="382.02" width="5.54" height="5.33" rx="1.7"/>
<rect x="325.17" y="387.35" width="5.54" height="5.33" rx="1.7"/>
<rect x="325.17" y="392.68" width="5.54" height="5.33" rx="1.7"/>
<rect x="325.17" y="398.01" width="5.54" height="5.33" rx="1.7"/>
</g>
<rect x="313.85" y="333.7" width="6" height="6" fill="#000"/>
<circle cx="316.85" cy="336.7" r="1.25" fill="#fff"/>
<rect x="336.02" y="333.7" width="6" height="6" fill="#000"/>
<circle cx="339.02" cy="336.7" r="1.25" fill="#9c9c9c"/>
<rect x="313.85" y="365.69" width="6" height="6" fill="#000"/>
<circle cx="316.85" cy="368.69" r="1.25" fill="#9c9c9c"/>
<rect x="336.02" y="365.69" width="6" height="6" fill="#000"/>
<circle cx="339.02" cy="368.69" r="1.25" fill="#fff"/>
<rect x="313.85" y="397.68" width="6" height="6" fill="#000"/>
<circle cx="316.85" cy="400.68" r="1.25" fill="#fff"/>
<rect x="324.94" y="397.68" width="6" height="6" fill="#000"/>
<circle cx="327.94" cy="400.68" r="1.25" fill="#9c9c9c"/>
<rect x="336.02" y="397.68" width="6" height="6" fill="#000"/>
<circle cx="339.02" cy="400.68" r="1.25" fill="#fff"/>
<rect x="272.5" y="251.4" width="177.4" height="170.6" fill="none" stroke="#222" stroke-width="1.1"/>
<path d="M279.18,422v-2.4M279.18,251.4v2.4M272.5,415.58h2.4M449.9,415.58h-2.4M283.08,422v-2.4M283.08,251.4v2.4M272.5,411.83h2.4M449.9,411.83h-2.4M285.85,422v-2.4M285.85,251.4v2.4M272.5,409.16h2.4M449.9,409.16h-2.4M288,422v-2.4M288,251.4v2.4M272.5,407.09h2.4M449.9,407.09h-2.4M289.76,422v-2.4M289.76,251.4v2.4M272.5,405.41h2.4M449.9,405.41h-2.4M291.24,422v-2.4M291.24,251.4v2.4M272.5,403.98h2.4M449.9,403.98h-2.4M292.53,422v-2.4M292.53,251.4v2.4M272.5,402.74h2.4M449.9,402.74h-2.4M293.66,422v-2.4M293.66,251.4v2.4M272.5,401.65h2.4M449.9,401.65h-2.4M294.68,422v-4.8M294.68,251.4v4.8M272.5,400.68h4.8M449.9,400.68h-4.8M301.35,422v-2.4M301.35,251.4v2.4M272.5,394.26h2.4M449.9,394.26h-2.4M305.26,422v-2.4M305.26,251.4v2.4M272.5,390.5h2.4M449.9,390.5h-2.4M308.03,422v-2.4M308.03,251.4v2.4M272.5,387.84h2.4M449.9,387.84h-2.4M310.17,422v-2.4M310.17,251.4v2.4M272.5,385.77h2.4M449.9,385.77h-2.4M311.93,422v-2.4M311.93,251.4v2.4M272.5,384.08h2.4M449.9,384.08h-2.4M313.42,422v-2.4M313.42,251.4v2.4M272.5,382.65h2.4M449.9,382.65h-2.4M314.7,422v-2.4M314.7,251.4v2.4M272.5,381.42h2.4M449.9,381.42h-2.4M315.84,422v-2.4M315.84,251.4v2.4M272.5,380.33h2.4M449.9,380.33h-2.4M316.85,422v-4.8M316.85,251.4v4.8M272.5,379.35h4.8M449.9,379.35h-4.8M323.53,422v-2.4M323.53,251.4v2.4M272.5,372.93h2.4M449.9,372.93h-2.4M327.43,422v-2.4M327.43,251.4v2.4M272.5,369.18h2.4M449.9,369.18h-2.4M330.2,422v-2.4M330.2,251.4v2.4M272.5,366.51h2.4M449.9,366.51h-2.4M332.35,422v-2.4M332.35,251.4v2.4M272.5,364.44h2.4M449.9,364.44h-2.4M334.11,422v-2.4M334.11,251.4v2.4M272.5,362.76h2.4M449.9,362.76h-2.4M335.59,422v-2.4M335.59,251.4v2.4M272.5,361.33h2.4M449.9,361.33h-2.4M336.88,422v-2.4M336.88,251.4v2.4M272.5,360.09h2.4M449.9,360.09h-2.4M338.01,422v-2.4M338.01,251.4v2.4M272.5,359h2.4M449.9,359h-2.4M339.02,422v-4.8M339.02,251.4v4.8M272.5,358.02h4.8M449.9,358.02h-4.8M345.7,422v-2.4M345.7,251.4v2.4M272.5,351.61h2.4M449.9,351.61h-2.4M349.61,422v-2.4M349.61,251.4v2.4M272.5,347.85h2.4M449.9,347.85h-2.4M352.38,422v-2.4M352.38,251.4v2.4M272.5,345.19h2.4M449.9,345.19h-2.4M354.52,422v-2.4M354.52,251.4v2.4M272.5,343.12h2.4M449.9,343.12h-2.4M356.28,422v-2.4M356.28,251.4v2.4M272.5,341.43h2.4M449.9,341.43h-2.4M357.77,422v-2.4M357.77,251.4v2.4M272.5,340h2.4M449.9,340h-2.4M359.05,422v-2.4M359.05,251.4v2.4M272.5,338.77h2.4M449.9,338.77h-2.4M360.19,422v-2.4M360.19,251.4v2.4M272.5,337.68h2.4M449.9,337.68h-2.4M361.2,422v-4.8M361.2,251.4v4.8M272.5,336.7h4.8M449.9,336.7h-4.8M367.88,422v-2.4M367.88,251.4v2.4M272.5,330.28h2.4M449.9,330.28h-2.4M371.78,422v-2.4M371.78,251.4v2.4M272.5,326.53h2.4M449.9,326.53h-2.4M374.55,422v-2.4M374.55,251.4v2.4M272.5,323.86h2.4M449.9,323.86h-2.4M376.7,422v-2.4M376.7,251.4v2.4M272.5,321.79h2.4M449.9,321.79h-2.4M378.46,422v-2.4M378.46,251.4v2.4M272.5,320.11h2.4M449.9,320.11h-2.4M379.94,422v-2.4M379.94,251.4v2.4M272.5,318.68h2.4M449.9,318.68h-2.4M381.23,422v-2.4M381.23,251.4v2.4M272.5,317.44h2.4M449.9,317.44h-2.4M382.36,422v-2.4M382.36,251.4v2.4M272.5,316.35h2.4M449.9,316.35h-2.4M383.38,422v-4.8M383.38,251.4v4.8M272.5,315.38h4.8M449.9,315.38h-4.8M390.05,422v-2.4M390.05,251.4v2.4M272.5,308.96h2.4M449.9,308.96h-2.4M393.96,422v-2.4M393.96,251.4v2.4M272.5,305.2h2.4M449.9,305.2h-2.4M396.73,422v-2.4M396.73,251.4v2.4M272.5,302.54h2.4M449.9,302.54h-2.4M398.87,422v-2.4M398.87,251.4v2.4M272.5,300.47h2.4M449.9,300.47h-2.4M400.63,422v-2.4M400.63,251.4v2.4M272.5,298.78h2.4M449.9,298.78h-2.4M402.12,422v-2.4M402.12,251.4v2.4M272.5,297.35h2.4M449.9,297.35h-2.4M403.4,422v-2.4M403.4,251.4v2.4M272.5,296.12h2.4M449.9,296.12h-2.4M404.54,422v-2.4M404.54,251.4v2.4M272.5,295.03h2.4M449.9,295.03h-2.4M405.55,422v-4.8M405.55,251.4v4.8M272.5,294.05h4.8M449.9,294.05h-4.8M412.23,422v-2.4M412.23,251.4v2.4M272.5,287.63h2.4M449.9,287.63h-2.4M416.13,422v-2.4M416.13,251.4v2.4M272.5,283.88h2.4M449.9,283.88h-2.4M418.9,422v-2.4M418.9,251.4v2.4M272.5,281.21h2.4M449.9,281.21h-2.4M421.05,422v-2.4M421.05,251.4v2.4M272.5,279.14h2.4M449.9,279.14h-2.4M422.81,422v-2.4M422.81,251.4v2.4M272.5,277.46h2.4M449.9,277.46h-2.4M424.29,422v-2.4M424.29,251.4v2.4M272.5,276.03h2.4M449.9,276.03h-2.4M425.58,422v-2.4M425.58,251.4v2.4M272.5,274.79h2.4M449.9,274.79h-2.4M426.71,422v-2.4M426.71,251.4v2.4M272.5,273.7h2.4M449.9,273.7h-2.4M427.72,422v-4.8M427.72,251.4v4.8M272.5,272.73h4.8M449.9,272.73h-4.8M434.4,422v-2.4M434.4,251.4v2.4M272.5,266.31h2.4M449.9,266.31h-2.4M438.31,422v-2.4M438.31,251.4v2.4M272.5,262.55h2.4M449.9,262.55h-2.4M441.08,422v-2.4M441.08,251.4v2.4M272.5,259.89h2.4M449.9,259.89h-2.4M443.22,422v-2.4M443.22,251.4v2.4M272.5,257.82h2.4M449.9,257.82h-2.4M444.98,422v-2.4M444.98,251.4v2.4M272.5,256.13h2.4M449.9,256.13h-2.4M446.47,422v-2.4M446.47,251.4v2.4M272.5,254.7h2.4M449.9,254.7h-2.4M447.75,422v-2.4M447.75,251.4v2.4M272.5,253.47h2.4M449.9,253.47h-2.4M448.89,422v-2.4M448.89,251.4v2.4M272.5,252.38h2.4M449.9,252.38h-2.4" stroke="#000" stroke-width="0.8" fill="none"/>
<g font-size="8.3" fill="#111" font-weight="bold">
<text x="272.2" y="431.2" text-anchor="middle">10<tspan font-size="6" dy="-4.3">-4</tspan></text>
<text x="268.9" y="424.7" text-anchor="end">10<tspan font-size="6" dy="-4.3">-4</tspan></text>
<text x="294.38" y="431.2" text-anchor="middle">10<tspan font-size="6" dy="-4.3">-3</tspan></text>
<text x="268.9" y="403.38" text-anchor="end">10<tspan font-size="6" dy="-4.3">-3</tspan></text>
<text x="316.55" y="431.2" text-anchor="middle">10<tspan font-size="6" dy="-4.3">-2</tspan></text>
<text x="268.9" y="382.05" text-anchor="end">10<tspan font-size="6" dy="-4.3">-2</tspan></text>
<text x="338.72" y="431.2" text-anchor="middle">10<tspan font-size="6" dy="-4.3">-1</tspan></text>
<text x="268.9" y="360.72" text-anchor="end">10<tspan font-size="6" dy="-4.3">-1</tspan></text>
<text x="360.9" y="431.2" text-anchor="middle">10<tspan font-size="6" dy="-4.3">0</tspan></text>
<text x="268.9" y="339.4" text-anchor="end">10<tspan font-size="6" dy="-4.3">0</tspan></text>
<text x="383.07" y="431.2" text-anchor="middle">10<tspan font-size="6" dy="-4.3">1</tspan></text>
<text x="268.9" y="318.07" text-anchor="end">10<tspan font-size="6" dy="-4.3">1</tspan></text>
<text x="405.25" y="431.2" text-anchor="middle">10<tspan font-size="6" dy="-4.3">2</tspan></text>
<text x="268.9" y="296.75" text-anchor="end">10<tspan font-size="6" dy="-4.3">2</tspan></text>
<text x="427.42" y="431.2" text-anchor="middle">10<tspan font-size="6" dy="-4.3">3</tspan></text>
<text x="268.9" y="275.43" text-anchor="end">10<tspan font-size="6" dy="-4.3">3</tspan></text>
<text x="449.6" y="431.2" text-anchor="middle">10<tspan font-size="6" dy="-4.3">4</tspan></text>
<text x="268.9" y="254.1" text-anchor="end">10<tspan font-size="6" dy="-4.3">4</tspan></text>
</g>
<circle cx="277.3" cy="242.2" r="2.75" fill="#8a8a8a" stroke="#444" stroke-width="0.7"/>
<text x="282.7" y="246.6" font-size="12.4" font-weight="bold">T95 &gt; 200 sec &amp; Td &lt; 600 sec</text>
<text x="446" y="264" font-size="11" text-anchor="end" stroke="#000" stroke-width="0.3"><tspan font-style="italic">k</tspan><tspan font-size="8.5" font-style="italic" dy="1">a</tspan><tspan dy="-1"> = 0.01/(nM sec)</tspan></text>
<text x="361.5" y="446" font-size="12.2" font-weight="normal" stroke="#000" stroke-width="0.4" text-anchor="middle"><tspan font-style="italic">k</tspan><tspan font-size="9.5" font-style="italic" dy="0.8">c</tspan><tspan dy="-0.8"> (1/sec)</tspan></text>
<text transform="translate(246.8,342) rotate(-90)" font-size="12.2" font-weight="normal" stroke="#000" stroke-width="0.4" text-anchor="middle"><tspan font-style="italic">k</tspan><tspan font-size="9.5" font-style="italic" dy="0.8">d</tspan><tspan dy="-0.8"> (1/sec)</tspan></text>
<path d="M72.7,256.4 C80.43,256.4 88.17,256.4 95.9,256.4 C99.33,256.4 102.77,256.53 106.2,256.7 C108.6,256.82 111,257.22 113.4,257.7 C115.47,258.11 117.53,258.93 119.6,259.8 C121.67,260.67 123.73,261.86 125.8,263.2 C127.97,264.61 130.13,266.32 132.3,268.4 C134.5,270.51 136.7,273.67 138.9,276.3 C141.1,278.93 143.3,281.35 145.5,284.2 C147.67,287.01 149.83,290.15 152,293.4 C154.2,296.7 156.4,300.63 158.6,303.9 C160.8,307.17 163,310.56 165.2,313.1 C167.4,315.64 169.6,317.97 171.8,319.6 C174.4,321.53 177,323.07 179.6,324.2 C182.23,325.34 184.87,326.28 187.5,326.9 C189.9,327.46 192.3,327.77 194.7,328.2" fill="none" stroke="#000" stroke-width="1.6" stroke-linejoin="round" stroke-linecap="round"/>
<path d="M72.7,329.3 C74.6,328.77 76.5,328.47 78.4,327.7 C80.1,327.01 81.8,325.5 83.5,324.1 C85.57,322.4 87.63,319.95 89.7,317.9 C91.77,315.85 93.83,313.57 95.9,311.8 C97.97,310.03 100.03,308.36 102.1,307.1 C104.13,305.86 106.17,304.57 108.2,304 C110.27,303.42 112.33,302.8 114.4,302.8 C116.47,302.8 118.53,303.42 120.6,304 C122.67,304.58 124.73,305.93 126.8,307.1 C128.2,307.89 129.6,308.89 131,309.8 C133.63,311.51 136.27,313.25 138.9,315 C141.53,316.75 144.17,318.8 146.8,320.3 C149.43,321.8 152.07,323.18 154.7,324.2 C158.2,325.56 161.7,326.88 165.2,327.5 C168.7,328.12 172.2,328.54 175.7,328.8 C178.8,329.03 181.9,329.21 185,329.3 C188.23,329.4 191.47,329.43 194.7,329.5" fill="none" stroke="#c80032" stroke-width="1.5" stroke-linejoin="round" stroke-linecap="round"/>
<path d="M72.7,329.5 C77,329.27 81.3,329.2 85.6,328.8 C88.33,328.54 91.07,327.64 93.8,326.7 C95.87,325.99 97.93,324.78 100,323.6 C102.07,322.42 104.13,320.87 106.2,319.5 C108.27,318.13 110.33,316.69 112.4,315.4 C114.43,314.13 116.47,312.62 118.5,311.8 C120.57,310.97 122.63,310.16 124.7,309.9 C126.77,309.64 128.83,309.4 130.9,309.4 C132.27,309.4 133.63,309.49 135,309.6 C136.73,309.74 138.47,310.52 140.2,311.1 C142.83,311.99 145.47,313.12 148.1,314.4 C150.73,315.68 153.37,317.49 156,319 C159.07,320.76 162.13,322.95 165.2,324.2 C168.7,325.62 172.2,326.76 175.7,327.5 C178.8,328.16 181.9,328.76 185,329 C188.23,329.25 191.47,329.33 194.7,329.5" fill="none" stroke="#ff78e6" stroke-width="1.5" stroke-linejoin="round" stroke-linecap="round"/>
<path d="M72.7,329.5 C78.7,329.5 84.7,329.5 90.7,329.5 C94.13,329.5 97.57,328.75 101,328.2 C103.4,327.82 105.8,327.32 108.2,326.7 C110.27,326.16 112.33,325.43 114.4,324.6 C116.47,323.77 118.53,322.61 120.6,321.5 C122.67,320.39 124.73,319 126.8,317.9 C128.5,317 130.2,315.92 131.9,315.4 C133.37,314.95 134.83,314.66 136.3,314.4 C138.93,313.93 141.57,313.3 144.2,313.3 C146.37,313.3 148.53,313.71 150.7,314.1 C153.33,314.58 155.97,315.81 158.6,317 C161.23,318.19 163.87,320.28 166.5,321.6 C169.57,323.13 172.63,324.74 175.7,325.6 C178.77,326.46 181.83,327 184.9,327.5 C188.17,328.03 191.43,328.37 194.7,328.8" fill="none" stroke="#9650dc" stroke-width="1.5" stroke-linejoin="round" stroke-linecap="round"/>
<rect x="72.6" y="238.1" width="122.8" height="94.8" fill="none" stroke="#111" stroke-width="1"/>
<path d="M72.6,332.9v-2M72.6,238.1v2M93.07,332.9v-2M93.07,238.1v2M113.53,332.9v-2M113.53,238.1v2M134,332.9v-2M134,238.1v2M154.47,332.9v-2M154.47,238.1v2M174.93,332.9v-2M174.93,238.1v2M195.4,332.9v-2M195.4,238.1v2M72.6,329.3h2M195.4,329.3h-2M72.6,311.06h2M195.4,311.06h-2M72.6,292.82h2M195.4,292.82h-2M72.6,274.58h2M195.4,274.58h-2M72.6,256.34h2M195.4,256.34h-2M72.6,238.1h2M195.4,238.1h-2" stroke="#111" stroke-width="0.7"/>
<g font-size="5.6" fill="#111" font-weight="bold">
<text x="72.6" y="338.1" text-anchor="middle">0</text>
<text x="93.07" y="338.1" text-anchor="middle">500</text>
<text x="113.53" y="338.1" text-anchor="middle">1000</text>
<text x="134" y="338.1" text-anchor="middle">1500</text>
<text x="154.47" y="338.1" text-anchor="middle">2000</text>
<text x="174.93" y="338.1" text-anchor="middle">2500</text>
<text x="195.4" y="338.1" text-anchor="middle">3000</text>
<text x="73.1" y="331.3" text-anchor="end">0</text>
<text x="73.1" y="313.06" text-anchor="end">50</text>
<text x="73.1" y="294.82" text-anchor="end">100</text>
<text x="73.1" y="276.58" text-anchor="end">150</text>
<text x="73.1" y="258.34" text-anchor="end">200</text>
<text x="73.1" y="240.1" text-anchor="end">250</text>
</g>
<text x="134" y="344.3" font-size="6" font-weight="bold" text-anchor="middle" fill="#111">Time (s)</text>
<text transform="translate(60,284) rotate(-90)" font-size="6.2" font-weight="bold" text-anchor="middle" fill="#111">Concentration (nM)</text>
<path d="M73.6,370.7 C79.6,370.8 85.6,370.8 91.6,371 C94.27,371.09 96.93,371.72 99.6,372.3 C102.27,372.88 104.93,373.87 107.6,375 C110.27,376.13 112.93,377.5 115.6,379.6 C117.8,381.34 120,384.42 122.2,387.6 C123.97,390.15 125.73,393.34 127.5,396.9 C128.83,399.58 130.17,402.67 131.5,406.2 C132.67,409.29 133.83,413.61 135,416.9 C135.67,418.78 136.33,420.66 137,422.2 C138.33,425.29 139.67,428.11 141,430.2 C142.77,432.97 144.53,435.45 146.3,436.9 C148.53,438.74 150.77,439.89 153,440.9 C155.2,441.89 157.4,443.09 159.6,443.3 C162.73,443.6 165.87,443.8 169,443.8 C177.8,443.8 186.6,443.8 195.4,443.8" fill="none" stroke="#000" stroke-width="1.6" stroke-linejoin="round" stroke-linecap="round"/>
<path d="M73.6,443.7 C75.6,443.2 77.6,442.93 79.6,442.2 C81.83,441.38 84.07,439.26 86.3,437.5 C88.97,435.39 91.63,432.47 94.3,430.2 C96.5,428.32 98.7,426.04 100.9,424.9 C103.57,423.52 106.23,421.9 108.9,421.9 C111.13,421.9 113.37,422.37 115.6,422.9 C117.8,423.43 120,425.23 122.2,426.8 C123.8,427.94 125.4,429.27 127,431 C128.1,432.19 129.2,434.3 130.3,435.5 C132.07,437.43 133.83,439.16 135.6,440.2 C137.83,441.52 140.07,442.73 142.3,443.1 C145.4,443.61 148.5,444 151.6,444 C166.2,444 180.8,444 195.4,444" fill="none" stroke="#c80032" stroke-width="1.5" stroke-linejoin="round" stroke-linecap="round"/>
<path d="M73.6,443.7 C77.4,443.2 81.2,442.95 85,442.2 C88.1,441.59 91.2,440.19 94.3,438.8 C96.97,437.6 99.63,435.64 102.3,434.2 C104.93,432.78 107.57,431.27 110.2,430.2 C112.87,429.12 115.53,427.81 118.2,427.5 C120,427.29 121.8,427.1 123.6,427.1 C124.73,427.1 125.87,427.43 127,427.8 C128.57,428.31 130.13,430.75 131.7,432.2 C133.9,434.23 136.1,436.69 138.3,438.2 C140.53,439.74 142.77,441.3 145,441.9 C148.1,442.74 151.2,443.35 154.3,443.5 C159.53,443.75 164.77,443.9 170,443.9 C178.47,443.9 186.93,443.9 195.4,443.9" fill="none" stroke="#ff78e6" stroke-width="1.5" stroke-linejoin="round" stroke-linecap="round"/>
<path d="M73.6,443.7 C79.6,443.4 85.6,443.33 91.6,442.8 C95.17,442.49 98.73,441.32 102.3,440.2 C104.93,439.37 107.57,438.05 110.2,436.8 C112.87,435.54 115.53,433.91 118.2,432.6 C120.43,431.5 122.67,430.05 124.9,429.5 C126.67,429.07 128.43,428.6 130.2,428.6 C131.13,428.6 132.07,429.39 133,429.9 C134.77,430.86 136.53,432.2 138.3,433.5 C140.53,435.14 142.77,437.52 145,438.9 C147.2,440.26 149.4,441.65 151.6,442.2 C154.27,442.86 156.93,443.37 159.6,443.5 C163.07,443.68 166.53,443.8 170,443.8 C178.47,443.8 186.93,443.8 195.4,443.8" fill="none" stroke="#9650dc" stroke-width="1.5" stroke-linejoin="round" stroke-linecap="round"/>
<rect x="73.3" y="352.6" width="122.2" height="94.8" fill="none" stroke="#111" stroke-width="1"/>
<path d="M73.3,447.4v-2M73.3,352.6v2M93.67,447.4v-2M93.67,352.6v2M114.03,447.4v-2M114.03,352.6v2M134.4,447.4v-2M134.4,352.6v2M154.77,447.4v-2M154.77,352.6v2M175.13,447.4v-2M175.13,352.6v2M195.5,447.4v-2M195.5,352.6v2M73.3,443.8h2M195.5,443.8h-2M73.3,425.56h2M195.5,425.56h-2M73.3,407.32h2M195.5,407.32h-2M73.3,389.08h2M195.5,389.08h-2M73.3,370.84h2M195.5,370.84h-2M73.3,352.6h2M195.5,352.6h-2" stroke="#111" stroke-width="0.7"/>
<g font-size="5.6" fill="#111" font-weight="bold">
<text x="73.3" y="452.6" text-anchor="middle">0</text>
<text x="93.67" y="452.6" text-anchor="middle">500</text>
<text x="114.03" y="452.6" text-anchor="middle">1000</text>
<text x="134.4" y="452.6" text-anchor="middle">1500</text>
<text x="154.77" y="452.6" text-anchor="middle">2000</text>
<text x="175.13" y="452.6" text-anchor="middle">2500</text>
<text x="195.5" y="452.6" text-anchor="middle">3000</text>
<text x="73.8" y="445.8" text-anchor="end">0</text>
<text x="73.8" y="427.56" text-anchor="end">50</text>
<text x="73.8" y="409.32" text-anchor="end">100</text>
<text x="73.8" y="391.08" text-anchor="end">150</text>
<text x="73.8" y="372.84" text-anchor="end">200</text>
<text x="73.8" y="354.6" text-anchor="end">250</text>
</g>
<text x="134.4" y="458.8" font-size="6" font-weight="bold" text-anchor="middle" fill="#111">Time (s)</text>
<text transform="translate(60.7,398.5) rotate(-90)" font-size="6.2" font-weight="bold" text-anchor="middle" fill="#111">Concentration (nM)</text>
<path d="M73.4,486.6 C76.2,486.73 79,486.79 81.8,487 C84.2,487.18 86.6,487.73 89,488.3 C91.43,488.87 93.87,489.77 96.3,490.8 C98.73,491.83 101.17,493.23 103.6,494.8 C106,496.34 108.4,498.28 110.8,500.4 C113.23,502.55 115.67,505 118.1,507.9 C120.5,510.76 122.9,514.24 125.3,518.1 C127.13,521.05 128.97,524.91 130.8,528.2 C132.73,531.67 134.67,535.27 136.6,538.4 C138.53,541.53 140.47,544.62 142.4,547.1 C144.33,549.58 146.27,552.03 148.2,553.6 C150.13,555.17 152.07,556.52 154,557.3 C155.93,558.08 157.87,558.78 159.8,559 C162.73,559.34 165.67,559.6 168.6,559.6 C177.73,559.6 186.87,559.6 196,559.6" fill="none" stroke="#000" stroke-width="1.6" stroke-linejoin="round" stroke-linecap="round"/>
<path d="M73.4,559.6 C78.6,558.6 83.8,557.54 89,556.6 C93.87,555.72 98.73,554.82 103.6,554.1 C108.43,553.38 113.27,552.64 118.1,552.2 C120.4,551.99 122.7,551.7 125,551.7 C126.93,551.7 128.87,552.3 130.8,552.9 C132.73,553.5 134.67,555.63 136.6,556.6 C138.53,557.57 140.47,558.66 142.4,559 C144.83,559.43 147.27,559.8 149.7,559.8 C165.13,559.8 180.57,559.8 196,559.8" fill="none" stroke="#c80032" stroke-width="1.5" stroke-linejoin="round" stroke-linecap="round"/>
<path d="M73.4,559.9 C78.6,559.03 83.8,558.2 89,557.3 C93.87,556.46 98.73,555.48 103.6,554.7 C108.43,553.93 113.27,553.28 118.1,552.6 C120.73,552.23 123.37,551.5 126,551.5 C128.57,551.5 131.13,552.15 133.7,552.9 C135.63,553.46 137.57,555.71 139.5,556.6 C141.43,557.49 143.37,558.38 145.3,558.7 C148.2,559.18 151.1,559.6 154,559.6 C168,559.6 182,559.6 196,559.6" fill="none" stroke="#ff78e6" stroke-width="1.5" stroke-linejoin="round" stroke-linecap="round"/>
<path d="M73.4,560.2 C78.6,559.6 83.8,559.13 89,558.4 C93.87,557.72 98.73,556.6 103.6,555.8 C108.43,555.01 113.27,554.42 118.1,553.6 C121.97,552.95 125.83,551.4 129.7,551.4 C131.03,551.4 132.37,551.49 133.7,551.6 C135.63,551.76 137.57,552.84 139.5,553.6 C141.93,554.56 144.37,556.1 146.8,557 C149.2,557.89 151.6,559 154,559.2 C156.9,559.44 159.8,559.6 162.7,559.6 C173.8,559.6 184.9,559.6 196,559.6" fill="none" stroke="#9650dc" stroke-width="1.5" stroke-linejoin="round" stroke-linecap="round"/>
<rect x="73.4" y="468.2" width="123.1" height="95" fill="none" stroke="#111" stroke-width="1"/>
<path d="M73.4,563.2v-2M73.4,468.2v2M93.92,563.2v-2M93.92,468.2v2M114.43,563.2v-2M114.43,468.2v2M134.95,563.2v-2M134.95,468.2v2M155.47,563.2v-2M155.47,468.2v2M175.98,563.2v-2M175.98,468.2v2M196.5,563.2v-2M196.5,468.2v2M73.4,559.6h2M196.5,559.6h-2M73.4,541.32h2M196.5,541.32h-2M73.4,523.04h2M196.5,523.04h-2M73.4,504.76h2M196.5,504.76h-2M73.4,486.48h2M196.5,486.48h-2M73.4,468.2h2M196.5,468.2h-2" stroke="#111" stroke-width="0.7"/>
<g font-size="5.6" fill="#111" font-weight="bold">
<text x="73.4" y="568.4" text-anchor="middle">0</text>
<text x="93.92" y="568.4" text-anchor="middle">500</text>
<text x="114.43" y="568.4" text-anchor="middle">1000</text>
<text x="134.95" y="568.4" text-anchor="middle">1500</text>
<text x="155.47" y="568.4" text-anchor="middle">2000</text>
<text x="175.98" y="568.4" text-anchor="middle">2500</text>
<text x="196.5" y="568.4" text-anchor="middle">3000</text>
<text x="73.9" y="561.6" text-anchor="end">0</text>
<text x="73.9" y="543.32" text-anchor="end">50</text>
<text x="73.9" y="525.04" text-anchor="end">100</text>
<text x="73.9" y="506.76" text-anchor="end">150</text>
<text x="73.9" y="488.48" text-anchor="end">200</text>
<text x="73.9" y="470.2" text-anchor="end">250</text>
</g>
<text x="134.95" y="574.6" font-size="6" font-weight="bold" text-anchor="middle" fill="#111">Time (s)</text>
<text transform="translate(60.8,514.2) rotate(-90)" font-size="6.2" font-weight="bold" text-anchor="middle" fill="#111">Concentration (nM)</text>
<path d="M298.4,486.1 C300.23,486.2 302.07,486.22 303.9,486.4 C305.83,486.59 307.77,487.8 309.7,489 C311.63,490.2 313.57,492.47 315.5,494.8 C317.43,497.13 319.37,499.95 321.3,503.6 C323.23,507.25 325.17,512.57 327.1,518.1 C328.57,522.3 330.03,527.27 331.5,532.6 C332.7,536.96 333.9,543.41 335.1,547.1 C336.07,550.07 337.03,552.79 338,554.4 C338.97,556.01 339.93,557.51 340.9,558 C342.6,558.86 344.3,559.5 346,559.5 C370.67,559.5 395.33,559.5 420,559.5" fill="none" stroke="#000" stroke-width="1.6" stroke-linejoin="round" stroke-linecap="round"/>
<path d="M298.4,559.5 C303.6,558.6 308.8,557.73 314,556.8 C318.87,555.93 323.73,554.1 328.6,554.1 C329.73,554.1 330.87,554.18 332,554.3 C333.17,554.43 334.33,556.66 335.5,557.5 C336.5,558.22 337.5,559.15 338.5,559.3 C339.67,559.48 340.83,559.6 342,559.6 C368,559.6 394,559.6 420,559.6" fill="none" stroke="#c80032" stroke-width="1.5" stroke-linejoin="round" stroke-linecap="round"/>
<path d="M298.4,559.7 C303.6,558.8 308.8,557.91 314,557 C318.87,556.15 323.73,554.4 328.6,554.4 C330.07,554.4 331.53,554.47 333,554.6 C334.17,554.7 335.33,556.73 336.5,557.5 C337.67,558.27 338.83,559.39 340,559.4 C366.67,559.59 393.33,559.53 420,559.6" fill="none" stroke="#ff78e6" stroke-width="1.5" stroke-linejoin="round" stroke-linecap="round"/>
<path d="M298.4,559.9 C303.6,559.03 308.8,558.2 314,557.3 C318.87,556.46 323.73,555.15 328.6,554.7 C330.03,554.57 331.47,554.4 332.9,554.4 C334.37,554.4 335.83,556.46 337.3,557.3 C338.73,558.13 340.17,559.49 341.6,559.5 C367.73,559.59 393.87,559.57 420,559.6" fill="none" stroke="#9650dc" stroke-width="1.5" stroke-linejoin="round" stroke-linecap="round"/>
<rect x="298.4" y="467.3" width="121.9" height="95.3" fill="none" stroke="#111" stroke-width="1"/>
<path d="M298.4,562.6v-2M298.4,467.3v2M318.72,562.6v-2M318.72,467.3v2M339.03,562.6v-2M339.03,467.3v2M359.35,562.6v-2M359.35,467.3v2M379.67,562.6v-2M379.67,467.3v2M399.98,562.6v-2M399.98,467.3v2M420.3,562.6v-2M420.3,467.3v2M298.4,559.5h2M420.3,559.5h-2M298.4,541.06h2M420.3,541.06h-2M298.4,522.62h2M420.3,522.62h-2M298.4,504.18h2M420.3,504.18h-2M298.4,485.74h2M420.3,485.74h-2M298.4,467.3h2M420.3,467.3h-2" stroke="#111" stroke-width="0.7"/>
<g font-size="5.6" fill="#111" font-weight="bold">
<text x="298.4" y="567.8" text-anchor="middle">0</text>
<text x="318.72" y="567.8" text-anchor="middle">500</text>
<text x="339.03" y="567.8" text-anchor="middle">1000</text>
<text x="359.35" y="567.8" text-anchor="middle">1500</text>
<text x="379.67" y="567.8" text-anchor="middle">2000</text>
<text x="399.98" y="567.8" text-anchor="middle">2500</text>
<text x="420.3" y="567.8" text-anchor="middle">3000</text>
<text x="298.9" y="561.5" text-anchor="end">0</text>
<text x="298.9" y="543.06" text-anchor="end">50</text>
<text x="298.9" y="524.62" text-anchor="end">100</text>
<text x="298.9" y="506.18" text-anchor="end">150</text>
<text x="298.9" y="487.74" text-anchor="end">200</text>
<text x="298.9" y="469.3" text-anchor="end">250</text>
</g>
<text x="359.35" y="574" font-size="6" font-weight="bold" text-anchor="middle" fill="#111">Time (s)</text>
<text transform="translate(285.8,513.45) rotate(-90)" font-size="6.2" font-weight="bold" text-anchor="middle" fill="#111">Concentration (nM)</text>
<path d="M517.6,486.1 C518.73,486.37 519.87,486.47 521,486.9 C522.2,487.35 523.4,488.9 524.6,490.5 C525.8,492.1 527,494.76 528.2,497.7 C529.43,500.72 530.67,504.79 531.9,509.4 C532.87,513.01 533.83,517.82 534.8,522.4 C535.77,526.98 536.73,531.6 537.7,537 C538.4,540.91 539.1,545.29 539.8,550 C540.2,552.69 540.6,558.33 541,558.7 C541.57,559.23 542.13,559.5 542.7,559.5 C574.97,559.5 607.23,559.5 639.5,559.5" fill="none" stroke="#000" stroke-width="1.6" stroke-linejoin="round" stroke-linecap="round"/>
<path d="M517.6,559.5 C520.67,559 523.73,558.51 526.8,558 C530.17,557.44 533.53,556.3 536.9,556.3 C537.63,556.3 538.37,556.84 539.1,557.3 C539.83,557.76 540.57,559.5 541.3,559.5 C574.03,559.5 606.77,559.5 639.5,559.5" fill="none" stroke="#ff78e6" stroke-width="1.5" stroke-linejoin="round" stroke-linecap="round"/>
<path d="M517.6,559.6 C520.67,559.1 523.73,558.61 526.8,558.1 C530.17,557.54 533.53,556.4 536.9,556.4 C537.63,556.4 538.37,556.94 539.1,557.4 C539.83,557.86 540.57,559.6 541.3,559.6 C574.03,559.6 606.77,559.6 639.5,559.6" fill="none" stroke="#9650dc" stroke-width="1.5" stroke-linejoin="round" stroke-linecap="round"/>
<rect x="517.6" y="468" width="122.1" height="94.9" fill="none" stroke="#111" stroke-width="1"/>
<path d="M517.6,562.9v-2M517.6,468v2M537.95,562.9v-2M537.95,468v2M558.3,562.9v-2M558.3,468v2M578.65,562.9v-2M578.65,468v2M599,562.9v-2M599,468v2M619.35,562.9v-2M619.35,468v2M639.7,562.9v-2M639.7,468v2M517.6,559.5h2M639.7,559.5h-2M517.6,541.2h2M639.7,541.2h-2M517.6,522.9h2M639.7,522.9h-2M517.6,504.6h2M639.7,504.6h-2M517.6,486.3h2M639.7,486.3h-2M517.6,468h2M639.7,468h-2" stroke="#111" stroke-width="0.7"/>
<g font-size="5.6" fill="#111" font-weight="bold">
<text x="517.6" y="568.1" text-anchor="middle">0</text>
<text x="537.95" y="568.1" text-anchor="middle">500</text>
<text x="558.3" y="568.1" text-anchor="middle">1000</text>
<text x="578.65" y="568.1" text-anchor="middle">1500</text>
<text x="599" y="568.1" text-anchor="middle">2000</text>
<text x="619.35" y="568.1" text-anchor="middle">2500</text>
<text x="639.7" y="568.1" text-anchor="middle">3000</text>
<text x="518.1" y="561.5" text-anchor="end">0</text>
<text x="518.1" y="543.2" text-anchor="end">50</text>
<text x="518.1" y="524.9" text-anchor="end">100</text>
<text x="518.1" y="506.6" text-anchor="end">150</text>
<text x="518.1" y="488.3" text-anchor="end">200</text>
<text x="518.1" y="470" text-anchor="end">250</text>
</g>
<text x="578.65" y="574.3" font-size="6" font-weight="bold" text-anchor="middle" fill="#111">Time (s)</text>
<text transform="translate(505,513.95) rotate(-90)" font-size="6.2" font-weight="bold" text-anchor="middle" fill="#111">Concentration (nM)</text>
<path d="M518.2,256.2 C521.23,256.27 524.27,256.26 527.3,256.4 C528.67,256.46 530.03,257.06 531.4,257.8 C532.57,258.43 533.73,260.05 534.9,262 C536.07,263.95 537.23,267.49 538.4,271.7 C539.33,275.06 540.27,281.05 541.2,285.7 C542.13,290.35 543.07,294.88 544,299.6 C544.9,304.15 545.8,309.77 546.7,313.5 C547.63,317.37 548.57,321.31 549.5,323.2 C550.67,325.56 551.83,327.63 553,328.1 C554.63,328.76 556.27,329.2 557.9,329.2 C585.43,329.2 612.97,329.2 640.5,329.2" fill="none" stroke="#000" stroke-width="1.6" stroke-linejoin="round" stroke-linecap="round"/>
<path d="M518.2,329.2 C518.9,328.6 519.6,328.31 520.3,327.4 C521.23,326.19 522.17,321.55 523.1,319 C524.5,315.18 525.9,310.56 527.3,308.6 C528.67,306.69 530.03,304.6 531.4,304.6 C532.57,304.6 533.73,305.5 534.9,306.5 C536.07,307.5 537.23,311 538.4,313.5 C539.8,316.49 541.2,321 542.6,323.2 C543.97,325.35 545.33,327.62 546.7,328.1 C548.57,328.75 550.43,329.19 552.3,329.2 C581.7,329.29 611.1,329.27 640.5,329.3" fill="none" stroke="#c80032" stroke-width="1.5" stroke-linejoin="round" stroke-linecap="round"/>
<path d="M518.2,329.5 C519.83,328.33 521.47,327.56 523.1,326 C524.97,324.21 526.83,320.35 528.7,317.7 C530.07,315.76 531.43,312.79 532.8,312.1 C533.97,311.51 535.13,311 536.3,311 C537.47,311 538.63,312.8 539.8,314.2 C541.2,315.88 542.6,319.62 544,321.8 C545.37,323.93 546.73,326.57 548.1,327.4 C549.97,328.53 551.83,329.5 553.7,329.5 C582.63,329.5 611.57,329.5 640.5,329.5" fill="none" stroke="#ff78e6" stroke-width="1.5" stroke-linejoin="round" stroke-linecap="round"/>
<path d="M518.2,329.5 C520.77,329.03 523.33,328.9 525.9,328.1 C527.73,327.53 529.57,325.12 531.4,323.2 C533.03,321.49 534.67,318.42 536.3,317 C537.7,315.79 539.1,314.2 540.5,314.2 C541.67,314.2 542.83,315.28 544,316.3 C545.13,317.29 546.27,319.98 547.4,321.8 C548.57,323.68 549.73,326.74 550.9,327.4 C552.77,328.45 554.63,329.2 556.5,329.2 C584.5,329.2 612.5,329.2 640.5,329.2" fill="none" stroke="#9650dc" stroke-width="1.5" stroke-linejoin="round" stroke-linecap="round"/>
<rect x="518.2" y="237.9" width="122.5" height="94.9" fill="none" stroke="#111" stroke-width="1"/>
<path d="M518.2,332.8v-2M518.2,237.9v2M538.62,332.8v-2M538.62,237.9v2M559.03,332.8v-2M559.03,237.9v2M579.45,332.8v-2M579.45,237.9v2M599.87,332.8v-2M599.87,237.9v2M620.28,332.8v-2M620.28,237.9v2M640.7,332.8v-2M640.7,237.9v2M518.2,329.2h2M640.7,329.2h-2M518.2,310.94h2M640.7,310.94h-2M518.2,292.68h2M640.7,292.68h-2M518.2,274.42h2M640.7,274.42h-2M518.2,256.16h2M640.7,256.16h-2M518.2,237.9h2M640.7,237.9h-2" stroke="#111" stroke-width="0.7"/>
<g font-size="5.6" fill="#111" font-weight="bold">
<text x="518.2" y="338" text-anchor="middle">0</text>
<text x="538.62" y="338" text-anchor="middle">500</text>
<text x="559.03" y="338" text-anchor="middle">1000</text>
<text x="579.45" y="338" text-anchor="middle">1500</text>
<text x="599.87" y="338" text-anchor="middle">2000</text>
<text x="620.28" y="338" text-anchor="middle">2500</text>
<text x="640.7" y="338" text-anchor="middle">3000</text>
<text x="518.7" y="331.2" text-anchor="end">0</text>
<text x="518.7" y="312.94" text-anchor="end">50</text>
<text x="518.7" y="294.68" text-anchor="end">100</text>
<text x="518.7" y="276.42" text-anchor="end">150</text>
<text x="518.7" y="258.16" text-anchor="end">200</text>
<text x="518.7" y="239.9" text-anchor="end">250</text>
</g>
<text x="579.45" y="344.2" font-size="6" font-weight="bold" text-anchor="middle" fill="#111">Time (s)</text>
<text transform="translate(505.6,283.85) rotate(-90)" font-size="6.2" font-weight="bold" text-anchor="middle" fill="#111">Concentration (nM)</text>
<rect x="582.4" y="244.6" width="52.2" height="42.2" fill="#fff" stroke="#222" stroke-width="0.9"/>
<path d="M585.4,250.2H597.8" stroke="#000" stroke-width="2.3"/>
<text x="604.2" y="252.9" font-size="7.5" fill="#111" stroke="#111" stroke-width="0.2">S_total</text>
<path d="M585.4,260.33H597.8" stroke="#c80032" stroke-width="2.3"/>
<text x="604.2" y="263.03" font-size="7.5" fill="#111" stroke="#111" stroke-width="0.2">S1+AS1</text>
<path d="M585.4,270.46H597.8" stroke="#ff78e6" stroke-width="2.3"/>
<text x="604.2" y="273.16" font-size="7.5" fill="#111" stroke="#111" stroke-width="0.2">S2+AS2</text>
<path d="M585.4,280.59H597.8" stroke="#9650dc" stroke-width="2.3"/>
<text x="604.2" y="283.29" font-size="7.5" fill="#111" stroke="#111" stroke-width="0.2">S3+AS3</text>
<path d="M517.5,371.7 C518.9,371.97 520.3,372.06 521.7,372.5 C523.1,372.94 524.5,374.5 525.9,376.3 C527.27,378.05 528.63,381.56 530,385.3 C530.93,387.85 531.87,391.44 532.8,395.1 C533.73,398.76 534.67,403.06 535.6,407.6 C536.3,411 537,414.47 537.7,418.7 C538.3,422.33 538.9,426.83 539.5,431.3 C539.97,434.78 540.43,441.22 540.9,442.4 C541.47,443.84 542.03,444.9 542.6,444.9 C575.23,444.9 607.87,444.9 640.5,444.9" fill="none" stroke="#000" stroke-width="1.6" stroke-linejoin="round" stroke-linecap="round"/>
<path d="M517.5,444.9 C519.37,443.6 521.23,442.15 523.1,441 C524.97,439.85 526.83,438.64 528.7,437.9 C530.07,437.36 531.43,436.6 532.8,436.6 C533.97,436.6 535.13,437.37 536.3,438.2 C537.23,438.87 538.17,441.17 539.1,442.4 C539.8,443.32 540.5,444.9 541.2,444.9 C574.3,444.9 607.4,444.9 640.5,444.9" fill="none" stroke="#c80032" stroke-width="1.5" stroke-linejoin="round" stroke-linecap="round"/>
<path d="M517.5,445 C519.37,443.93 521.23,442.85 523.1,441.8 C524.97,440.75 526.83,439.28 528.7,438.7 C530.53,438.13 532.37,437.5 534.2,437.5 C535.3,437.5 536.4,438.55 537.5,439.5 C538.33,440.22 539.17,441.86 540,443 C540.5,443.68 541,445 541.5,445 C574.5,445 607.5,445 640.5,445" fill="none" stroke="#ff78e6" stroke-width="1.5" stroke-linejoin="round" stroke-linecap="round"/>
<path d="M517.5,445.2 C519.37,444.5 521.23,443.9 523.1,443.1 C524.97,442.3 526.83,441.12 528.7,440.3 C530.77,439.4 532.83,437.9 534.9,437.9 C536.07,437.9 537.23,439.19 538.4,440.3 C539.33,441.19 540.27,444.01 541.2,444.5 C541.8,444.81 542.4,445.1 543,445.1 C575.5,445.1 608,445.1 640.5,445.1" fill="none" stroke="#9650dc" stroke-width="1.5" stroke-linejoin="round" stroke-linecap="round"/>
<rect x="517.5" y="353.4" width="123.2" height="94.9" fill="none" stroke="#111" stroke-width="1"/>
<path d="M517.5,448.3v-2M517.5,353.4v2M538.03,448.3v-2M538.03,353.4v2M558.57,448.3v-2M558.57,353.4v2M579.1,448.3v-2M579.1,353.4v2M599.63,448.3v-2M599.63,353.4v2M620.17,448.3v-2M620.17,353.4v2M640.7,448.3v-2M640.7,353.4v2M517.5,444.9h2M640.7,444.9h-2M517.5,426.6h2M640.7,426.6h-2M517.5,408.3h2M640.7,408.3h-2M517.5,390h2M640.7,390h-2M517.5,371.7h2M640.7,371.7h-2M517.5,353.4h2M640.7,353.4h-2" stroke="#111" stroke-width="0.7"/>
<g font-size="5.6" fill="#111" font-weight="bold">
<text x="517.5" y="453.5" text-anchor="middle">0</text>
<text x="538.03" y="453.5" text-anchor="middle">500</text>
<text x="558.57" y="453.5" text-anchor="middle">1000</text>
<text x="579.1" y="453.5" text-anchor="middle">1500</text>
<text x="599.63" y="453.5" text-anchor="middle">2000</text>
<text x="620.17" y="453.5" text-anchor="middle">2500</text>
<text x="640.7" y="453.5" text-anchor="middle">3000</text>
<text x="518" y="446.9" text-anchor="end">0</text>
<text x="518" y="428.6" text-anchor="end">50</text>
<text x="518" y="410.3" text-anchor="end">100</text>
<text x="518" y="392" text-anchor="end">150</text>
<text x="518" y="373.7" text-anchor="end">200</text>
<text x="518" y="355.4" text-anchor="end">250</text>
</g>
<text x="579.1" y="459.7" font-size="6" font-weight="bold" text-anchor="middle" fill="#111">Time (s)</text>
<text transform="translate(504.9,399.35) rotate(-90)" font-size="6.2" font-weight="bold" text-anchor="middle" fill="#111">Concentration (nM)</text>
<g stroke="#3a3a3a" stroke-width="1.1" stroke-dasharray="1.5,1.7" fill="none">
<path d="M203.3,284L312.6,333.4"/>
<path d="M203.3,400.4L312.6,368.1"/>
<path d="M207.4,495.5L312.9,404.9"/>
<path d="M328.5,404.5L343.9,462.3"/>
<path d="M341,402.3L491.6,494.3"/>
<path d="M341,368.9L488.8,399.6"/>
<path d="M341,334L491,288.1"/>
</g>
<g stroke="#505050" stroke-width="0.8" fill="#fff">
<rect x="175.94" y="644.17" width="5.53" height="5.33" rx="1.7"/>
<rect x="181.47" y="644.17" width="5.53" height="5.33" rx="1.7"/>
<rect x="187" y="644.17" width="5.53" height="5.33" rx="1.7"/>
<rect x="192.52" y="644.17" width="5.53" height="5.33" rx="1.7"/>
<rect x="170.41" y="649.5" width="5.53" height="5.33" rx="1.7"/>
<rect x="175.94" y="649.5" width="5.53" height="5.33" rx="1.7"/>
<rect x="181.47" y="649.5" width="5.53" height="5.33" rx="1.7"/>
<rect x="187" y="649.5" width="5.53" height="5.33" rx="1.7"/>
<rect x="192.52" y="649.5" width="5.53" height="5.33" rx="1.7"/>
<rect x="164.88" y="654.84" width="5.53" height="5.33" rx="1.7"/>
<rect x="170.41" y="654.84" width="5.53" height="5.33" rx="1.7"/>
<rect x="175.94" y="654.84" width="5.53" height="5.33" rx="1.7"/>
<rect x="181.47" y="654.84" width="5.53" height="5.33" rx="1.7"/>
<rect x="187" y="654.84" width="5.53" height="5.33" rx="1.7"/>
<rect x="192.52" y="654.84" width="5.53" height="5.33" rx="1.7"/>
<rect x="159.35" y="660.17" width="5.53" height="5.33" rx="1.7"/>
<rect x="164.88" y="660.17" width="5.53" height="5.33" rx="1.7"/>
<rect x="170.41" y="660.17" width="5.53" height="5.33" rx="1.7"/>
<rect x="175.94" y="660.17" width="5.53" height="5.33" rx="1.7"/>
<rect x="181.47" y="660.17" width="5.53" height="5.33" rx="1.7"/>
<rect x="187" y="660.17" width="5.53" height="5.33" rx="1.7"/>
<rect x="192.52" y="660.17" width="5.53" height="5.33" rx="1.7"/>
<rect x="153.83" y="665.51" width="5.53" height="5.33" rx="1.7"/>
<rect x="159.35" y="665.51" width="5.53" height="5.33" rx="1.7"/>
<rect x="164.88" y="665.51" width="5.53" height="5.33" rx="1.7"/>
<rect x="170.41" y="665.51" width="5.53" height="5.33" rx="1.7"/>
<rect x="175.94" y="665.51" width="5.53" height="5.33" rx="1.7"/>
<rect x="181.47" y="665.51" width="5.53" height="5.33" rx="1.7"/>
<rect x="187" y="665.51" width="5.53" height="5.33" rx="1.7"/>
<rect x="192.52" y="665.51" width="5.53" height="5.33" rx="1.7"/>
<rect x="148.3" y="670.84" width="5.53" height="5.33" rx="1.7"/>
<rect x="153.83" y="670.84" width="5.53" height="5.33" rx="1.7"/>
<rect x="159.35" y="670.84" width="5.53" height="5.33" rx="1.7"/>
<rect x="164.88" y="670.84" width="5.53" height="5.33" rx="1.7"/>
<rect x="170.41" y="670.84" width="5.53" height="5.33" rx="1.7"/>
<rect x="175.94" y="670.84" width="5.53" height="5.33" rx="1.7"/>
<rect x="181.47" y="670.84" width="5.53" height="5.33" rx="1.7"/>
<rect x="187" y="670.84" width="5.53" height="5.33" rx="1.7"/>
<rect x="192.52" y="670.84" width="5.53" height="5.33" rx="1.7"/>
<rect x="142.77" y="676.18" width="5.53" height="5.33" rx="1.7"/>
<rect x="148.3" y="676.18" width="5.53" height="5.33" rx="1.7"/>
<rect x="153.83" y="676.18" width="5.53" height="5.33" rx="1.7"/>
<rect x="159.35" y="676.18" width="5.53" height="5.33" rx="1.7"/>
<rect x="164.88" y="676.18" width="5.53" height="5.33" rx="1.7"/>
<rect x="170.41" y="676.18" width="5.53" height="5.33" rx="1.7"/>
<rect x="175.94" y="676.18" width="5.53" height="5.33" rx="1.7"/>
<rect x="181.47" y="676.18" width="5.53" height="5.33" rx="1.7"/>
<rect x="187" y="676.18" width="5.53" height="5.33" rx="1.7"/>
<rect x="192.52" y="676.18" width="5.53" height="5.33" rx="1.7"/>
<rect x="137.24" y="681.51" width="5.53" height="5.33" rx="1.7"/>
<rect x="142.77" y="681.51" width="5.53" height="5.33" rx="1.7"/>
<rect x="148.3" y="681.51" width="5.53" height="5.33" rx="1.7"/>
<rect x="153.83" y="681.51" width="5.53" height="5.33" rx="1.7"/>
<rect x="159.35" y="681.51" width="5.53" height="5.33" rx="1.7"/>
<rect x="164.88" y="681.51" width="5.53" height="5.33" rx="1.7"/>
<rect x="170.41" y="681.51" width="5.53" height="5.33" rx="1.7"/>
<rect x="175.94" y="681.51" width="5.53" height="5.33" rx="1.7"/>
<rect x="181.47" y="681.51" width="5.53" height="5.33" rx="1.7"/>
<rect x="187" y="681.51" width="5.53" height="5.33" rx="1.7"/>
<rect x="192.52" y="681.51" width="5.53" height="5.33" rx="1.7"/>
<rect x="131.71" y="686.85" width="5.53" height="5.33" rx="1.7"/>
<rect x="137.24" y="686.85" width="5.53" height="5.33" rx="1.7"/>
<rect x="142.77" y="686.85" width="5.53" height="5.33" rx="1.7"/>
<rect x="148.3" y="686.85" width="5.53" height="5.33" rx="1.7"/>
<rect x="153.83" y="686.85" width="5.53" height="5.33" rx="1.7"/>
<rect x="159.35" y="686.85" width="5.53" height="5.33" rx="1.7"/>
<rect x="164.88" y="686.85" width="5.53" height="5.33" rx="1.7"/>
<rect x="170.41" y="686.85" width="5.53" height="5.33" rx="1.7"/>
<rect x="175.94" y="686.85" width="5.53" height="5.33" rx="1.7"/>
<rect x="181.47" y="686.85" width="5.53" height="5.33" rx="1.7"/>
<rect x="187" y="686.85" width="5.53" height="5.33" rx="1.7"/>
<rect x="192.52" y="686.85" width="5.53" height="5.33" rx="1.7"/>
<rect x="126.19" y="692.18" width="5.53" height="5.33" rx="1.7"/>
<rect x="131.71" y="692.18" width="5.53" height="5.33" rx="1.7"/>
<rect x="137.24" y="692.18" width="5.53" height="5.33" rx="1.7"/>
<rect x="142.77" y="692.18" width="5.53" height="5.33" rx="1.7"/>
<rect x="148.3" y="692.18" width="5.53" height="5.33" rx="1.7"/>
<rect x="153.83" y="692.18" width="5.53" height="5.33" rx="1.7"/>
<rect x="159.35" y="692.18" width="5.53" height="5.33" rx="1.7"/>
<rect x="164.88" y="692.18" width="5.53" height="5.33" rx="1.7"/>
<rect x="170.41" y="692.18" width="5.53" height="5.33" rx="1.7"/>
<rect x="175.94" y="692.18" width="5.53" height="5.33" rx="1.7"/>
<rect x="181.47" y="692.18" width="5.53" height="5.33" rx="1.7"/>
<rect x="187" y="692.18" width="5.53" height="5.33" rx="1.7"/>
<rect x="192.52" y="692.18" width="5.53" height="5.33" rx="1.7"/>
<rect x="126.19" y="697.51" width="5.53" height="5.33" rx="1.7"/>
<rect x="131.71" y="697.51" width="5.53" height="5.33" rx="1.7"/>
<rect x="137.24" y="697.51" width="5.53" height="5.33" rx="1.7"/>
<rect x="142.77" y="697.51" width="5.53" height="5.33" rx="1.7"/>
<rect x="148.3" y="697.51" width="5.53" height="5.33" rx="1.7"/>
<rect x="153.83" y="697.51" width="5.53" height="5.33" rx="1.7"/>
<rect x="159.35" y="697.51" width="5.53" height="5.33" rx="1.7"/>
<rect x="164.88" y="697.51" width="5.53" height="5.33" rx="1.7"/>
<rect x="170.41" y="697.51" width="5.53" height="5.33" rx="1.7"/>
<rect x="175.94" y="697.51" width="5.53" height="5.33" rx="1.7"/>
<rect x="181.47" y="697.51" width="5.53" height="5.33" rx="1.7"/>
<rect x="187" y="697.51" width="5.53" height="5.33" rx="1.7"/>
<rect x="192.52" y="697.51" width="5.53" height="5.33" rx="1.7"/>
<rect x="120.66" y="702.85" width="5.53" height="5.33" rx="1.7"/>
<rect x="126.19" y="702.85" width="5.53" height="5.33" rx="1.7"/>
<rect x="131.71" y="702.85" width="5.53" height="5.33" rx="1.7"/>
<rect x="137.24" y="702.85" width="5.53" height="5.33" rx="1.7"/>
<rect x="142.77" y="702.85" width="5.53" height="5.33" rx="1.7"/>
<rect x="148.3" y="702.85" width="5.53" height="5.33" rx="1.7"/>
<rect x="153.83" y="702.85" width="5.53" height="5.33" rx="1.7"/>
<rect x="159.35" y="702.85" width="5.53" height="5.33" rx="1.7"/>
<rect x="164.88" y="702.85" width="5.53" height="5.33" rx="1.7"/>
<rect x="170.41" y="702.85" width="5.53" height="5.33" rx="1.7"/>
<rect x="175.94" y="702.85" width="5.53" height="5.33" rx="1.7"/>
<rect x="181.47" y="702.85" width="5.53" height="5.33" rx="1.7"/>
<rect x="187" y="702.85" width="5.53" height="5.33" rx="1.7"/>
<rect x="192.52" y="702.85" width="5.53" height="5.33" rx="1.7"/>
<rect x="115.13" y="708.18" width="5.53" height="5.33" rx="1.7"/>
<rect x="120.66" y="708.18" width="5.53" height="5.33" rx="1.7"/>
<rect x="126.19" y="708.18" width="5.53" height="5.33" rx="1.7"/>
<rect x="131.71" y="708.18" width="5.53" height="5.33" rx="1.7"/>
<rect x="137.24" y="708.18" width="5.53" height="5.33" rx="1.7"/>
<rect x="142.77" y="708.18" width="5.53" height="5.33" rx="1.7"/>
<rect x="148.3" y="708.18" width="5.53" height="5.33" rx="1.7"/>
<rect x="153.83" y="708.18" width="5.53" height="5.33" rx="1.7"/>
<rect x="159.35" y="708.18" width="5.53" height="5.33" rx="1.7"/>
<rect x="164.88" y="708.18" width="5.53" height="5.33" rx="1.7"/>
<rect x="170.41" y="708.18" width="5.53" height="5.33" rx="1.7"/>
<rect x="175.94" y="708.18" width="5.53" height="5.33" rx="1.7"/>
<rect x="181.47" y="708.18" width="5.53" height="5.33" rx="1.7"/>
<rect x="187" y="708.18" width="5.53" height="5.33" rx="1.7"/>
<rect x="192.52" y="708.18" width="5.53" height="5.33" rx="1.7"/>
<rect x="115.13" y="713.52" width="5.53" height="5.33" rx="1.7"/>
<rect x="120.66" y="713.52" width="5.53" height="5.33" rx="1.7"/>
<rect x="126.19" y="713.52" width="5.53" height="5.33" rx="1.7"/>
<rect x="131.71" y="713.52" width="5.53" height="5.33" rx="1.7"/>
<rect x="137.24" y="713.52" width="5.53" height="5.33" rx="1.7"/>
<rect x="142.77" y="713.52" width="5.53" height="5.33" rx="1.7"/>
<rect x="148.3" y="713.52" width="5.53" height="5.33" rx="1.7"/>
<rect x="153.83" y="713.52" width="5.53" height="5.33" rx="1.7"/>
<rect x="159.35" y="713.52" width="5.53" height="5.33" rx="1.7"/>
<rect x="164.88" y="713.52" width="5.53" height="5.33" rx="1.7"/>
<rect x="170.41" y="713.52" width="5.53" height="5.33" rx="1.7"/>
<rect x="175.94" y="713.52" width="5.53" height="5.33" rx="1.7"/>
<rect x="181.47" y="713.52" width="5.53" height="5.33" rx="1.7"/>
<rect x="187" y="713.52" width="5.53" height="5.33" rx="1.7"/>
<rect x="192.52" y="713.52" width="5.53" height="5.33" rx="1.7"/>
<rect x="115.13" y="718.85" width="5.53" height="5.33" rx="1.7"/>
<rect x="120.66" y="718.85" width="5.53" height="5.33" rx="1.7"/>
<rect x="126.19" y="718.85" width="5.53" height="5.33" rx="1.7"/>
<rect x="131.71" y="718.85" width="5.53" height="5.33" rx="1.7"/>
<rect x="137.24" y="718.85" width="5.53" height="5.33" rx="1.7"/>
<rect x="142.77" y="718.85" width="5.53" height="5.33" rx="1.7"/>
<rect x="148.3" y="718.85" width="5.53" height="5.33" rx="1.7"/>
<rect x="153.83" y="718.85" width="5.53" height="5.33" rx="1.7"/>
<rect x="159.35" y="718.85" width="5.53" height="5.33" rx="1.7"/>
<rect x="164.88" y="718.85" width="5.53" height="5.33" rx="1.7"/>
<rect x="170.41" y="718.85" width="5.53" height="5.33" rx="1.7"/>
<rect x="175.94" y="718.85" width="5.53" height="5.33" rx="1.7"/>
<rect x="181.47" y="718.85" width="5.53" height="5.33" rx="1.7"/>
<rect x="187" y="718.85" width="5.53" height="5.33" rx="1.7"/>
<rect x="192.52" y="718.85" width="5.53" height="5.33" rx="1.7"/>
<rect x="109.6" y="724.19" width="5.53" height="5.33" rx="1.7"/>
<rect x="115.13" y="724.19" width="5.53" height="5.33" rx="1.7"/>
<rect x="120.66" y="724.19" width="5.53" height="5.33" rx="1.7"/>
<rect x="126.19" y="724.19" width="5.53" height="5.33" rx="1.7"/>
<rect x="131.71" y="724.19" width="5.53" height="5.33" rx="1.7"/>
<rect x="137.24" y="724.19" width="5.53" height="5.33" rx="1.7"/>
<rect x="142.77" y="724.19" width="5.53" height="5.33" rx="1.7"/>
<rect x="148.3" y="724.19" width="5.53" height="5.33" rx="1.7"/>
<rect x="153.83" y="724.19" width="5.53" height="5.33" rx="1.7"/>
<rect x="159.35" y="724.19" width="5.53" height="5.33" rx="1.7"/>
<rect x="164.88" y="724.19" width="5.53" height="5.33" rx="1.7"/>
<rect x="170.41" y="724.19" width="5.53" height="5.33" rx="1.7"/>
<rect x="175.94" y="724.19" width="5.53" height="5.33" rx="1.7"/>
<rect x="181.47" y="724.19" width="5.53" height="5.33" rx="1.7"/>
<rect x="187" y="724.19" width="5.53" height="5.33" rx="1.7"/>
<rect x="192.52" y="724.19" width="5.53" height="5.33" rx="1.7"/>
<rect x="109.6" y="729.52" width="5.53" height="5.33" rx="1.7"/>
<rect x="115.13" y="729.52" width="5.53" height="5.33" rx="1.7"/>
<rect x="120.66" y="729.52" width="5.53" height="5.33" rx="1.7"/>
<rect x="126.19" y="729.52" width="5.53" height="5.33" rx="1.7"/>
<rect x="131.71" y="729.52" width="5.53" height="5.33" rx="1.7"/>
<rect x="137.24" y="729.52" width="5.53" height="5.33" rx="1.7"/>
<rect x="142.77" y="729.52" width="5.53" height="5.33" rx="1.7"/>
<rect x="148.3" y="729.52" width="5.53" height="5.33" rx="1.7"/>
<rect x="153.83" y="729.52" width="5.53" height="5.33" rx="1.7"/>
<rect x="159.35" y="729.52" width="5.53" height="5.33" rx="1.7"/>
<rect x="164.88" y="729.52" width="5.53" height="5.33" rx="1.7"/>
<rect x="170.41" y="729.52" width="5.53" height="5.33" rx="1.7"/>
<rect x="175.94" y="729.52" width="5.53" height="5.33" rx="1.7"/>
<rect x="181.47" y="729.52" width="5.53" height="5.33" rx="1.7"/>
<rect x="187" y="729.52" width="5.53" height="5.33" rx="1.7"/>
<rect x="192.52" y="729.52" width="5.53" height="5.33" rx="1.7"/>
<rect x="104.07" y="734.85" width="5.53" height="5.33" rx="1.7"/>
<rect x="109.6" y="734.85" width="5.53" height="5.33" rx="1.7"/>
<rect x="115.13" y="734.85" width="5.53" height="5.33" rx="1.7"/>
<rect x="120.66" y="734.85" width="5.53" height="5.33" rx="1.7"/>
<rect x="126.19" y="734.85" width="5.53" height="5.33" rx="1.7"/>
<rect x="131.71" y="734.85" width="5.53" height="5.33" rx="1.7"/>
<rect x="137.24" y="734.85" width="5.53" height="5.33" rx="1.7"/>
<rect x="142.77" y="734.85" width="5.53" height="5.33" rx="1.7"/>
<rect x="148.3" y="734.85" width="5.53" height="5.33" rx="1.7"/>
<rect x="153.83" y="734.85" width="5.53" height="5.33" rx="1.7"/>
<rect x="159.35" y="734.85" width="5.53" height="5.33" rx="1.7"/>
<rect x="164.88" y="734.85" width="5.53" height="5.33" rx="1.7"/>
<rect x="170.41" y="734.85" width="5.53" height="5.33" rx="1.7"/>
<rect x="175.94" y="734.85" width="5.53" height="5.33" rx="1.7"/>
<rect x="181.47" y="734.85" width="5.53" height="5.33" rx="1.7"/>
<rect x="187" y="734.85" width="5.53" height="5.33" rx="1.7"/>
<rect x="192.52" y="734.85" width="5.53" height="5.33" rx="1.7"/>
<rect x="104.07" y="740.19" width="5.53" height="5.33" rx="1.7"/>
<rect x="109.6" y="740.19" width="5.53" height="5.33" rx="1.7"/>
<rect x="115.13" y="740.19" width="5.53" height="5.33" rx="1.7"/>
<rect x="120.66" y="740.19" width="5.53" height="5.33" rx="1.7"/>
<rect x="126.19" y="740.19" width="5.53" height="5.33" rx="1.7"/>
<rect x="131.71" y="740.19" width="5.53" height="5.33" rx="1.7"/>
<rect x="137.24" y="740.19" width="5.53" height="5.33" rx="1.7"/>
<rect x="142.77" y="740.19" width="5.53" height="5.33" rx="1.7"/>
<rect x="148.3" y="740.19" width="5.53" height="5.33" rx="1.7"/>
<rect x="153.83" y="740.19" width="5.53" height="5.33" rx="1.7"/>
<rect x="159.35" y="740.19" width="5.53" height="5.33" rx="1.7"/>
<rect x="164.88" y="740.19" width="5.53" height="5.33" rx="1.7"/>
<rect x="170.41" y="740.19" width="5.53" height="5.33" rx="1.7"/>
<rect x="175.94" y="740.19" width="5.53" height="5.33" rx="1.7"/>
<rect x="181.47" y="740.19" width="5.53" height="5.33" rx="1.7"/>
<rect x="187" y="740.19" width="5.53" height="5.33" rx="1.7"/>
<rect x="192.52" y="740.19" width="5.53" height="5.33" rx="1.7"/>
<rect x="104.07" y="745.52" width="5.53" height="5.33" rx="1.7"/>
<rect x="109.6" y="745.52" width="5.53" height="5.33" rx="1.7"/>
<rect x="115.13" y="745.52" width="5.53" height="5.33" rx="1.7"/>
<rect x="120.66" y="745.52" width="5.53" height="5.33" rx="1.7"/>
<rect x="126.19" y="745.52" width="5.53" height="5.33" rx="1.7"/>
<rect x="131.71" y="745.52" width="5.53" height="5.33" rx="1.7"/>
<rect x="137.24" y="745.52" width="5.53" height="5.33" rx="1.7"/>
<rect x="142.77" y="745.52" width="5.53" height="5.33" rx="1.7"/>
<rect x="148.3" y="745.52" width="5.53" height="5.33" rx="1.7"/>
<rect x="153.83" y="745.52" width="5.53" height="5.33" rx="1.7"/>
<rect x="159.35" y="745.52" width="5.53" height="5.33" rx="1.7"/>
<rect x="164.88" y="745.52" width="5.53" height="5.33" rx="1.7"/>
<rect x="170.41" y="745.52" width="5.53" height="5.33" rx="1.7"/>
<rect x="175.94" y="745.52" width="5.53" height="5.33" rx="1.7"/>
<rect x="181.47" y="745.52" width="5.53" height="5.33" rx="1.7"/>
<rect x="187" y="745.52" width="5.53" height="5.33" rx="1.7"/>
<rect x="192.52" y="745.52" width="5.53" height="5.33" rx="1.7"/>
<rect x="104.07" y="750.86" width="5.53" height="5.33" rx="1.7"/>
<rect x="109.6" y="750.86" width="5.53" height="5.33" rx="1.7"/>
<rect x="115.13" y="750.86" width="5.53" height="5.33" rx="1.7"/>
<rect x="120.66" y="750.86" width="5.53" height="5.33" rx="1.7"/>
<rect x="126.19" y="750.86" width="5.53" height="5.33" rx="1.7"/>
<rect x="131.71" y="750.86" width="5.53" height="5.33" rx="1.7"/>
<rect x="137.24" y="750.86" width="5.53" height="5.33" rx="1.7"/>
<rect x="142.77" y="750.86" width="5.53" height="5.33" rx="1.7"/>
<rect x="148.3" y="750.86" width="5.53" height="5.33" rx="1.7"/>
<rect x="153.83" y="750.86" width="5.53" height="5.33" rx="1.7"/>
<rect x="159.35" y="750.86" width="5.53" height="5.33" rx="1.7"/>
<rect x="164.88" y="750.86" width="5.53" height="5.33" rx="1.7"/>
<rect x="170.41" y="750.86" width="5.53" height="5.33" rx="1.7"/>
<rect x="175.94" y="750.86" width="5.53" height="5.33" rx="1.7"/>
<rect x="181.47" y="750.86" width="5.53" height="5.33" rx="1.7"/>
<rect x="187" y="750.86" width="5.53" height="5.33" rx="1.7"/>
<rect x="192.52" y="750.86" width="5.53" height="5.33" rx="1.7"/>
<rect x="104.07" y="756.19" width="5.53" height="5.33" rx="1.7"/>
<rect x="109.6" y="756.19" width="5.53" height="5.33" rx="1.7"/>
<rect x="115.13" y="756.19" width="5.53" height="5.33" rx="1.7"/>
<rect x="120.66" y="756.19" width="5.53" height="5.33" rx="1.7"/>
<rect x="126.19" y="756.19" width="5.53" height="5.33" rx="1.7"/>
<rect x="131.71" y="756.19" width="5.53" height="5.33" rx="1.7"/>
<rect x="137.24" y="756.19" width="5.53" height="5.33" rx="1.7"/>
<rect x="142.77" y="756.19" width="5.53" height="5.33" rx="1.7"/>
<rect x="148.3" y="756.19" width="5.53" height="5.33" rx="1.7"/>
<rect x="153.83" y="756.19" width="5.53" height="5.33" rx="1.7"/>
<rect x="159.35" y="756.19" width="5.53" height="5.33" rx="1.7"/>
<rect x="164.88" y="756.19" width="5.53" height="5.33" rx="1.7"/>
<rect x="170.41" y="756.19" width="5.53" height="5.33" rx="1.7"/>
<rect x="175.94" y="756.19" width="5.53" height="5.33" rx="1.7"/>
<rect x="181.47" y="756.19" width="5.53" height="5.33" rx="1.7"/>
<rect x="187" y="756.19" width="5.53" height="5.33" rx="1.7"/>
<rect x="192.52" y="756.19" width="5.53" height="5.33" rx="1.7"/>
<rect x="98.55" y="761.53" width="5.53" height="5.33" rx="1.7"/>
<rect x="104.07" y="761.53" width="5.53" height="5.33" rx="1.7"/>
<rect x="109.6" y="761.53" width="5.53" height="5.33" rx="1.7"/>
<rect x="115.13" y="761.53" width="5.53" height="5.33" rx="1.7"/>
<rect x="120.66" y="761.53" width="5.53" height="5.33" rx="1.7"/>
<rect x="126.19" y="761.53" width="5.53" height="5.33" rx="1.7"/>
<rect x="131.71" y="761.53" width="5.53" height="5.33" rx="1.7"/>
<rect x="137.24" y="761.53" width="5.53" height="5.33" rx="1.7"/>
<rect x="142.77" y="761.53" width="5.53" height="5.33" rx="1.7"/>
<rect x="148.3" y="761.53" width="5.53" height="5.33" rx="1.7"/>
<rect x="153.83" y="761.53" width="5.53" height="5.33" rx="1.7"/>
<rect x="159.35" y="761.53" width="5.53" height="5.33" rx="1.7"/>
<rect x="164.88" y="761.53" width="5.53" height="5.33" rx="1.7"/>
<rect x="170.41" y="761.53" width="5.53" height="5.33" rx="1.7"/>
<rect x="175.94" y="761.53" width="5.53" height="5.33" rx="1.7"/>
<rect x="181.47" y="761.53" width="5.53" height="5.33" rx="1.7"/>
<rect x="187" y="761.53" width="5.53" height="5.33" rx="1.7"/>
<rect x="192.52" y="761.53" width="5.53" height="5.33" rx="1.7"/>
<rect x="98.55" y="766.86" width="5.53" height="5.33" rx="1.7"/>
<rect x="104.07" y="766.86" width="5.53" height="5.33" rx="1.7"/>
<rect x="109.6" y="766.86" width="5.53" height="5.33" rx="1.7"/>
<rect x="115.13" y="766.86" width="5.53" height="5.33" rx="1.7"/>
<rect x="120.66" y="766.86" width="5.53" height="5.33" rx="1.7"/>
<rect x="126.19" y="766.86" width="5.53" height="5.33" rx="1.7"/>
<rect x="131.71" y="766.86" width="5.53" height="5.33" rx="1.7"/>
<rect x="137.24" y="766.86" width="5.53" height="5.33" rx="1.7"/>
<rect x="142.77" y="766.86" width="5.53" height="5.33" rx="1.7"/>
<rect x="148.3" y="766.86" width="5.53" height="5.33" rx="1.7"/>
<rect x="153.83" y="766.86" width="5.53" height="5.33" rx="1.7"/>
<rect x="159.35" y="766.86" width="5.53" height="5.33" rx="1.7"/>
<rect x="164.88" y="766.86" width="5.53" height="5.33" rx="1.7"/>
<rect x="170.41" y="766.86" width="5.53" height="5.33" rx="1.7"/>
<rect x="175.94" y="766.86" width="5.53" height="5.33" rx="1.7"/>
<rect x="181.47" y="766.86" width="5.53" height="5.33" rx="1.7"/>
<rect x="187" y="766.86" width="5.53" height="5.33" rx="1.7"/>
<rect x="192.52" y="766.86" width="5.53" height="5.33" rx="1.7"/>
<rect x="98.55" y="772.2" width="5.53" height="5.33" rx="1.7"/>
<rect x="104.07" y="772.2" width="5.53" height="5.33" rx="1.7"/>
<rect x="109.6" y="772.2" width="5.53" height="5.33" rx="1.7"/>
<rect x="115.13" y="772.2" width="5.53" height="5.33" rx="1.7"/>
<rect x="120.66" y="772.2" width="5.53" height="5.33" rx="1.7"/>
<rect x="126.19" y="772.2" width="5.53" height="5.33" rx="1.7"/>
<rect x="131.71" y="772.2" width="5.53" height="5.33" rx="1.7"/>
<rect x="137.24" y="772.2" width="5.53" height="5.33" rx="1.7"/>
<rect x="142.77" y="772.2" width="5.53" height="5.33" rx="1.7"/>
<rect x="148.3" y="772.2" width="5.53" height="5.33" rx="1.7"/>
<rect x="153.83" y="772.2" width="5.53" height="5.33" rx="1.7"/>
<rect x="159.35" y="772.2" width="5.53" height="5.33" rx="1.7"/>
<rect x="164.88" y="772.2" width="5.53" height="5.33" rx="1.7"/>
<rect x="170.41" y="772.2" width="5.53" height="5.33" rx="1.7"/>
<rect x="175.94" y="772.2" width="5.53" height="5.33" rx="1.7"/>
<rect x="181.47" y="772.2" width="5.53" height="5.33" rx="1.7"/>
<rect x="187" y="772.2" width="5.53" height="5.33" rx="1.7"/>
<rect x="192.52" y="772.2" width="5.53" height="5.33" rx="1.7"/>
</g>
<g stroke="#080808" stroke-width="0.9" fill="#9c9c9c">
<rect x="59.85" y="644.17" width="5.53" height="5.33" rx="1.7"/>
<rect x="65.38" y="644.17" width="5.53" height="5.33" rx="1.7"/>
<rect x="70.9" y="644.17" width="5.53" height="5.33" rx="1.7"/>
<rect x="76.43" y="644.17" width="5.53" height="5.33" rx="1.7"/>
<rect x="81.96" y="644.17" width="5.53" height="5.33" rx="1.7"/>
<rect x="87.49" y="644.17" width="5.53" height="5.33" rx="1.7"/>
<rect x="93.02" y="644.17" width="5.53" height="5.33" rx="1.7"/>
<rect x="98.55" y="644.17" width="5.53" height="5.33" rx="1.7"/>
<rect x="104.07" y="644.17" width="5.53" height="5.33" rx="1.7"/>
<rect x="109.6" y="644.17" width="5.53" height="5.33" rx="1.7"/>
<rect x="115.13" y="644.17" width="5.53" height="5.33" rx="1.7"/>
<rect x="120.66" y="644.17" width="5.53" height="5.33" rx="1.7"/>
<rect x="126.19" y="644.17" width="5.53" height="5.33" rx="1.7"/>
<rect x="131.71" y="644.17" width="5.53" height="5.33" rx="1.7"/>
<rect x="137.24" y="644.17" width="5.53" height="5.33" rx="1.7"/>
<rect x="142.77" y="644.17" width="5.53" height="5.33" rx="1.7"/>
<rect x="148.3" y="644.17" width="5.53" height="5.33" rx="1.7"/>
<rect x="153.83" y="644.17" width="5.53" height="5.33" rx="1.7"/>
<rect x="159.35" y="644.17" width="5.53" height="5.33" rx="1.7"/>
<rect x="164.88" y="644.17" width="5.53" height="5.33" rx="1.7"/>
<rect x="170.41" y="644.17" width="5.53" height="5.33" rx="1.7"/>
<rect x="59.85" y="649.5" width="5.53" height="5.33" rx="1.7"/>
<rect x="65.38" y="649.5" width="5.53" height="5.33" rx="1.7"/>
<rect x="70.9" y="649.5" width="5.53" height="5.33" rx="1.7"/>
<rect x="76.43" y="649.5" width="5.53" height="5.33" rx="1.7"/>
<rect x="81.96" y="649.5" width="5.53" height="5.33" rx="1.7"/>
<rect x="87.49" y="649.5" width="5.53" height="5.33" rx="1.7"/>
<rect x="93.02" y="649.5" width="5.53" height="5.33" rx="1.7"/>
<rect x="98.55" y="649.5" width="5.53" height="5.33" rx="1.7"/>
<rect x="104.07" y="649.5" width="5.53" height="5.33" rx="1.7"/>
<rect x="109.6" y="649.5" width="5.53" height="5.33" rx="1.7"/>
<rect x="115.13" y="649.5" width="5.53" height="5.33" rx="1.7"/>
<rect x="120.66" y="649.5" width="5.53" height="5.33" rx="1.7"/>
<rect x="126.19" y="649.5" width="5.53" height="5.33" rx="1.7"/>
<rect x="131.71" y="649.5" width="5.53" height="5.33" rx="1.7"/>
<rect x="137.24" y="649.5" width="5.53" height="5.33" rx="1.7"/>
<rect x="142.77" y="649.5" width="5.53" height="5.33" rx="1.7"/>
<rect x="148.3" y="649.5" width="5.53" height="5.33" rx="1.7"/>
<rect x="153.83" y="649.5" width="5.53" height="5.33" rx="1.7"/>
<rect x="159.35" y="649.5" width="5.53" height="5.33" rx="1.7"/>
<rect x="164.88" y="649.5" width="5.53" height="5.33" rx="1.7"/>
<rect x="59.85" y="654.84" width="5.53" height="5.33" rx="1.7"/>
<rect x="65.38" y="654.84" width="5.53" height="5.33" rx="1.7"/>
<rect x="70.9" y="654.84" width="5.53" height="5.33" rx="1.7"/>
<rect x="76.43" y="654.84" width="5.53" height="5.33" rx="1.7"/>
<rect x="81.96" y="654.84" width="5.53" height="5.33" rx="1.7"/>
<rect x="87.49" y="654.84" width="5.53" height="5.33" rx="1.7"/>
<rect x="93.02" y="654.84" width="5.53" height="5.33" rx="1.7"/>
<rect x="98.55" y="654.84" width="5.53" height="5.33" rx="1.7"/>
<rect x="104.07" y="654.84" width="5.53" height="5.33" rx="1.7"/>
<rect x="109.6" y="654.84" width="5.53" height="5.33" rx="1.7"/>
<rect x="115.13" y="654.84" width="5.53" height="5.33" rx="1.7"/>
<rect x="120.66" y="654.84" width="5.53" height="5.33" rx="1.7"/>
<rect x="126.19" y="654.84" width="5.53" height="5.33" rx="1.7"/>
<rect x="131.71" y="654.84" width="5.53" height="5.33" rx="1.7"/>
<rect x="137.24" y="654.84" width="5.53" height="5.33" rx="1.7"/>
<rect x="142.77" y="654.84" width="5.53" height="5.33" rx="1.7"/>
<rect x="148.3" y="654.84" width="5.53" height="5.33" rx="1.7"/>
<rect x="153.83" y="654.84" width="5.53" height="5.33" rx="1.7"/>
<rect x="159.35" y="654.84" width="5.53" height="5.33" rx="1.7"/>
<rect x="59.85" y="660.17" width="5.53" height="5.33" rx="1.7"/>
<rect x="65.38" y="660.17" width="5.53" height="5.33" rx="1.7"/>
<rect x="70.9" y="660.17" width="5.53" height="5.33" rx="1.7"/>
<rect x="76.43" y="660.17" width="5.53" height="5.33" rx="1.7"/>
<rect x="81.96" y="660.17" width="5.53" height="5.33" rx="1.7"/>
<rect x="87.49" y="660.17" width="5.53" height="5.33" rx="1.7"/>
<rect x="93.02" y="660.17" width="5.53" height="5.33" rx="1.7"/>
<rect x="98.55" y="660.17" width="5.53" height="5.33" rx="1.7"/>
<rect x="104.07" y="660.17" width="5.53" height="5.33" rx="1.7"/>
<rect x="109.6" y="660.17" width="5.53" height="5.33" rx="1.7"/>
<rect x="115.13" y="660.17" width="5.53" height="5.33" rx="1.7"/>
<rect x="120.66" y="660.17" width="5.53" height="5.33" rx="1.7"/>
<rect x="126.19" y="660.17" width="5.53" height="5.33" rx="1.7"/>
<rect x="131.71" y="660.17" width="5.53" height="5.33" rx="1.7"/>
<rect x="137.24" y="660.17" width="5.53" height="5.33" rx="1.7"/>
<rect x="142.77" y="660.17" width="5.53" height="5.33" rx="1.7"/>
<rect x="148.3" y="660.17" width="5.53" height="5.33" rx="1.7"/>
<rect x="153.83" y="660.17" width="5.53" height="5.33" rx="1.7"/>
<rect x="59.85" y="665.51" width="5.53" height="5.33" rx="1.7"/>
<rect x="65.38" y="665.51" width="5.53" height="5.33" rx="1.7"/>
<rect x="70.9" y="665.51" width="5.53" height="5.33" rx="1.7"/>
<rect x="76.43" y="665.51" width="5.53" height="5.33" rx="1.7"/>
<rect x="81.96" y="665.51" width="5.53" height="5.33" rx="1.7"/>
<rect x="87.49" y="665.51" width="5.53" height="5.33" rx="1.7"/>
<rect x="93.02" y="665.51" width="5.53" height="5.33" rx="1.7"/>
<rect x="98.55" y="665.51" width="5.53" height="5.33" rx="1.7"/>
<rect x="104.07" y="665.51" width="5.53" height="5.33" rx="1.7"/>
<rect x="109.6" y="665.51" width="5.53" height="5.33" rx="1.7"/>
<rect x="115.13" y="665.51" width="5.53" height="5.33" rx="1.7"/>
<rect x="120.66" y="665.51" width="5.53" height="5.33" rx="1.7"/>
<rect x="126.19" y="665.51" width="5.53" height="5.33" rx="1.7"/>
<rect x="131.71" y="665.51" width="5.53" height="5.33" rx="1.7"/>
<rect x="137.24" y="665.51" width="5.53" height="5.33" rx="1.7"/>
<rect x="142.77" y="665.51" width="5.53" height="5.33" rx="1.7"/>
<rect x="148.3" y="665.51" width="5.53" height="5.33" rx="1.7"/>
<rect x="59.85" y="670.84" width="5.53" height="5.33" rx="1.7"/>
<rect x="65.38" y="670.84" width="5.53" height="5.33" rx="1.7"/>
<rect x="70.9" y="670.84" width="5.53" height="5.33" rx="1.7"/>
<rect x="76.43" y="670.84" width="5.53" height="5.33" rx="1.7"/>
<rect x="81.96" y="670.84" width="5.53" height="5.33" rx="1.7"/>
<rect x="87.49" y="670.84" width="5.53" height="5.33" rx="1.7"/>
<rect x="93.02" y="670.84" width="5.53" height="5.33" rx="1.7"/>
<rect x="98.55" y="670.84" width="5.53" height="5.33" rx="1.7"/>
<rect x="104.07" y="670.84" width="5.53" height="5.33" rx="1.7"/>
<rect x="109.6" y="670.84" width="5.53" height="5.33" rx="1.7"/>
<rect x="115.13" y="670.84" width="5.53" height="5.33" rx="1.7"/>
<rect x="120.66" y="670.84" width="5.53" height="5.33" rx="1.7"/>
<rect x="126.19" y="670.84" width="5.53" height="5.33" rx="1.7"/>
<rect x="131.71" y="670.84" width="5.53" height="5.33" rx="1.7"/>
<rect x="137.24" y="670.84" width="5.53" height="5.33" rx="1.7"/>
<rect x="142.77" y="670.84" width="5.53" height="5.33" rx="1.7"/>
<rect x="59.85" y="676.18" width="5.53" height="5.33" rx="1.7"/>
<rect x="65.38" y="676.18" width="5.53" height="5.33" rx="1.7"/>
<rect x="70.9" y="676.18" width="5.53" height="5.33" rx="1.7"/>
<rect x="76.43" y="676.18" width="5.53" height="5.33" rx="1.7"/>
<rect x="81.96" y="676.18" width="5.53" height="5.33" rx="1.7"/>
<rect x="87.49" y="676.18" width="5.53" height="5.33" rx="1.7"/>
<rect x="93.02" y="676.18" width="5.53" height="5.33" rx="1.7"/>
<rect x="98.55" y="676.18" width="5.53" height="5.33" rx="1.7"/>
<rect x="104.07" y="676.18" width="5.53" height="5.33" rx="1.7"/>
<rect x="109.6" y="676.18" width="5.53" height="5.33" rx="1.7"/>
<rect x="115.13" y="676.18" width="5.53" height="5.33" rx="1.7"/>
<rect x="120.66" y="676.18" width="5.53" height="5.33" rx="1.7"/>
<rect x="126.19" y="676.18" width="5.53" height="5.33" rx="1.7"/>
<rect x="131.71" y="676.18" width="5.53" height="5.33" rx="1.7"/>
<rect x="137.24" y="676.18" width="5.53" height="5.33" rx="1.7"/>
<rect x="59.85" y="681.51" width="5.53" height="5.33" rx="1.7"/>
<rect x="65.38" y="681.51" width="5.53" height="5.33" rx="1.7"/>
<rect x="70.9" y="681.51" width="5.53" height="5.33" rx="1.7"/>
<rect x="76.43" y="681.51" width="5.53" height="5.33" rx="1.7"/>
<rect x="81.96" y="681.51" width="5.53" height="5.33" rx="1.7"/>
<rect x="87.49" y="681.51" width="5.53" height="5.33" rx="1.7"/>
<rect x="93.02" y="681.51" width="5.53" height="5.33" rx="1.7"/>
<rect x="98.55" y="681.51" width="5.53" height="5.33" rx="1.7"/>
<rect x="104.07" y="681.51" width="5.53" height="5.33" rx="1.7"/>
<rect x="109.6" y="681.51" width="5.53" height="5.33" rx="1.7"/>
<rect x="115.13" y="681.51" width="5.53" height="5.33" rx="1.7"/>
<rect x="120.66" y="681.51" width="5.53" height="5.33" rx="1.7"/>
<rect x="126.19" y="681.51" width="5.53" height="5.33" rx="1.7"/>
<rect x="131.71" y="681.51" width="5.53" height="5.33" rx="1.7"/>
<rect x="59.85" y="686.85" width="5.53" height="5.33" rx="1.7"/>
<rect x="65.38" y="686.85" width="5.53" height="5.33" rx="1.7"/>
<rect x="70.9" y="686.85" width="5.53" height="5.33" rx="1.7"/>
<rect x="76.43" y="686.85" width="5.53" height="5.33" rx="1.7"/>
<rect x="81.96" y="686.85" width="5.53" height="5.33" rx="1.7"/>
<rect x="87.49" y="686.85" width="5.53" height="5.33" rx="1.7"/>
<rect x="93.02" y="686.85" width="5.53" height="5.33" rx="1.7"/>
<rect x="98.55" y="686.85" width="5.53" height="5.33" rx="1.7"/>
<rect x="104.07" y="686.85" width="5.53" height="5.33" rx="1.7"/>
<rect x="109.6" y="686.85" width="5.53" height="5.33" rx="1.7"/>
<rect x="115.13" y="686.85" width="5.53" height="5.33" rx="1.7"/>
<rect x="120.66" y="686.85" width="5.53" height="5.33" rx="1.7"/>
<rect x="126.19" y="686.85" width="5.53" height="5.33" rx="1.7"/>
<rect x="59.85" y="692.18" width="5.53" height="5.33" rx="1.7"/>
<rect x="65.38" y="692.18" width="5.53" height="5.33" rx="1.7"/>
<rect x="70.9" y="692.18" width="5.53" height="5.33" rx="1.7"/>
<rect x="76.43" y="692.18" width="5.53" height="5.33" rx="1.7"/>
<rect x="81.96" y="692.18" width="5.53" height="5.33" rx="1.7"/>
<rect x="87.49" y="692.18" width="5.53" height="5.33" rx="1.7"/>
<rect x="93.02" y="692.18" width="5.53" height="5.33" rx="1.7"/>
<rect x="98.55" y="692.18" width="5.53" height="5.33" rx="1.7"/>
<rect x="104.07" y="692.18" width="5.53" height="5.33" rx="1.7"/>
<rect x="109.6" y="692.18" width="5.53" height="5.33" rx="1.7"/>
<rect x="115.13" y="692.18" width="5.53" height="5.33" rx="1.7"/>
<rect x="120.66" y="692.18" width="5.53" height="5.33" rx="1.7"/>
<rect x="59.85" y="697.51" width="5.53" height="5.33" rx="1.7"/>
<rect x="65.38" y="697.51" width="5.53" height="5.33" rx="1.7"/>
<rect x="70.9" y="697.51" width="5.53" height="5.33" rx="1.7"/>
<rect x="76.43" y="697.51" width="5.53" height="5.33" rx="1.7"/>
<rect x="81.96" y="697.51" width="5.53" height="5.33" rx="1.7"/>
<rect x="87.49" y="697.51" width="5.53" height="5.33" rx="1.7"/>
<rect x="93.02" y="697.51" width="5.53" height="5.33" rx="1.7"/>
<rect x="98.55" y="697.51" width="5.53" height="5.33" rx="1.7"/>
<rect x="104.07" y="697.51" width="5.53" height="5.33" rx="1.7"/>
<rect x="109.6" y="697.51" width="5.53" height="5.33" rx="1.7"/>
<rect x="115.13" y="697.51" width="5.53" height="5.33" rx="1.7"/>
<rect x="120.66" y="697.51" width="5.53" height="5.33" rx="1.7"/>
<rect x="59.85" y="702.85" width="5.53" height="5.33" rx="1.7"/>
<rect x="65.38" y="702.85" width="5.53" height="5.33" rx="1.7"/>
<rect x="70.9" y="702.85" width="5.53" height="5.33" rx="1.7"/>
<rect x="76.43" y="702.85" width="5.53" height="5.33" rx="1.7"/>
<rect x="81.96" y="702.85" width="5.53" height="5.33" rx="1.7"/>
<rect x="87.49" y="702.85" width="5.53" height="5.33" rx="1.7"/>
<rect x="93.02" y="702.85" width="5.53" height="5.33" rx="1.7"/>
<rect x="98.55" y="702.85" width="5.53" height="5.33" rx="1.7"/>
<rect x="104.07" y="702.85" width="5.53" height="5.33" rx="1.7"/>
<rect x="109.6" y="702.85" width="5.53" height="5.33" rx="1.7"/>
<rect x="115.13" y="702.85" width="5.53" height="5.33" rx="1.7"/>
<rect x="59.85" y="708.18" width="5.53" height="5.33" rx="1.7"/>
<rect x="65.38" y="708.18" width="5.53" height="5.33" rx="1.7"/>
<rect x="70.9" y="708.18" width="5.53" height="5.33" rx="1.7"/>
<rect x="76.43" y="708.18" width="5.53" height="5.33" rx="1.7"/>
<rect x="81.96" y="708.18" width="5.53" height="5.33" rx="1.7"/>
<rect x="87.49" y="708.18" width="5.53" height="5.33" rx="1.7"/>
<rect x="93.02" y="708.18" width="5.53" height="5.33" rx="1.7"/>
<rect x="98.55" y="708.18" width="5.53" height="5.33" rx="1.7"/>
<rect x="104.07" y="708.18" width="5.53" height="5.33" rx="1.7"/>
<rect x="109.6" y="708.18" width="5.53" height="5.33" rx="1.7"/>
<rect x="59.85" y="713.52" width="5.53" height="5.33" rx="1.7"/>
<rect x="65.38" y="713.52" width="5.53" height="5.33" rx="1.7"/>
<rect x="70.9" y="713.52" width="5.53" height="5.33" rx="1.7"/>
<rect x="76.43" y="713.52" width="5.53" height="5.33" rx="1.7"/>
<rect x="81.96" y="713.52" width="5.53" height="5.33" rx="1.7"/>
<rect x="87.49" y="713.52" width="5.53" height="5.33" rx="1.7"/>
<rect x="93.02" y="713.52" width="5.53" height="5.33" rx="1.7"/>
<rect x="98.55" y="713.52" width="5.53" height="5.33" rx="1.7"/>
<rect x="104.07" y="713.52" width="5.53" height="5.33" rx="1.7"/>
<rect x="109.6" y="713.52" width="5.53" height="5.33" rx="1.7"/>
<rect x="59.85" y="718.85" width="5.53" height="5.33" rx="1.7"/>
<rect x="65.38" y="718.85" width="5.53" height="5.33" rx="1.7"/>
<rect x="70.9" y="718.85" width="5.53" height="5.33" rx="1.7"/>
<rect x="76.43" y="718.85" width="5.53" height="5.33" rx="1.7"/>
<rect x="81.96" y="718.85" width="5.53" height="5.33" rx="1.7"/>
<rect x="87.49" y="718.85" width="5.53" height="5.33" rx="1.7"/>
<rect x="93.02" y="718.85" width="5.53" height="5.33" rx="1.7"/>
<rect x="98.55" y="718.85" width="5.53" height="5.33" rx="1.7"/>
<rect x="104.07" y="718.85" width="5.53" height="5.33" rx="1.7"/>
<rect x="109.6" y="718.85" width="5.53" height="5.33" rx="1.7"/>
<rect x="59.85" y="724.19" width="5.53" height="5.33" rx="1.7"/>
<rect x="65.38" y="724.19" width="5.53" height="5.33" rx="1.7"/>
<rect x="70.9" y="724.19" width="5.53" height="5.33" rx="1.7"/>
<rect x="76.43" y="724.19" width="5.53" height="5.33" rx="1.7"/>
<rect x="81.96" y="724.19" width="5.53" height="5.33" rx="1.7"/>
<rect x="87.49" y="724.19" width="5.53" height="5.33" rx="1.7"/>
<rect x="93.02" y="724.19" width="5.53" height="5.33" rx="1.7"/>
<rect x="98.55" y="724.19" width="5.53" height="5.33" rx="1.7"/>
<rect x="104.07" y="724.19" width="5.53" height="5.33" rx="1.7"/>
<rect x="59.85" y="729.52" width="5.53" height="5.33" rx="1.7"/>
<rect x="65.38" y="729.52" width="5.53" height="5.33" rx="1.7"/>
<rect x="70.9" y="729.52" width="5.53" height="5.33" rx="1.7"/>
<rect x="76.43" y="729.52" width="5.53" height="5.33" rx="1.7"/>
<rect x="81.96" y="729.52" width="5.53" height="5.33" rx="1.7"/>
<rect x="87.49" y="729.52" width="5.53" height="5.33" rx="1.7"/>
<rect x="93.02" y="729.52" width="5.53" height="5.33" rx="1.7"/>
<rect x="98.55" y="729.52" width="5.53" height="5.33" rx="1.7"/>
<rect x="104.07" y="729.52" width="5.53" height="5.33" rx="1.7"/>
<rect x="59.85" y="734.85" width="5.53" height="5.33" rx="1.7"/>
<rect x="65.38" y="734.85" width="5.53" height="5.33" rx="1.7"/>
<rect x="70.9" y="734.85" width="5.53" height="5.33" rx="1.7"/>
<rect x="76.43" y="734.85" width="5.53" height="5.33" rx="1.7"/>
<rect x="81.96" y="734.85" width="5.53" height="5.33" rx="1.7"/>
<rect x="87.49" y="734.85" width="5.53" height="5.33" rx="1.7"/>
<rect x="93.02" y="734.85" width="5.53" height="5.33" rx="1.7"/>
<rect x="98.55" y="734.85" width="5.53" height="5.33" rx="1.7"/>
<rect x="59.85" y="740.19" width="5.53" height="5.33" rx="1.7"/>
<rect x="65.38" y="740.19" width="5.53" height="5.33" rx="1.7"/>
<rect x="70.9" y="740.19" width="5.53" height="5.33" rx="1.7"/>
<rect x="76.43" y="740.19" width="5.53" height="5.33" rx="1.7"/>
<rect x="81.96" y="740.19" width="5.53" height="5.33" rx="1.7"/>
<rect x="87.49" y="740.19" width="5.53" height="5.33" rx="1.7"/>
<rect x="93.02" y="740.19" width="5.53" height="5.33" rx="1.7"/>
<rect x="98.55" y="740.19" width="5.53" height="5.33" rx="1.7"/>
<rect x="59.85" y="745.52" width="5.53" height="5.33" rx="1.7"/>
<rect x="65.38" y="745.52" width="5.53" height="5.33" rx="1.7"/>
<rect x="70.9" y="745.52" width="5.53" height="5.33" rx="1.7"/>
<rect x="76.43" y="745.52" width="5.53" height="5.33" rx="1.7"/>
<rect x="81.96" y="745.52" width="5.53" height="5.33" rx="1.7"/>
<rect x="87.49" y="745.52" width="5.53" height="5.33" rx="1.7"/>
<rect x="93.02" y="745.52" width="5.53" height="5.33" rx="1.7"/>
<rect x="98.55" y="745.52" width="5.53" height="5.33" rx="1.7"/>
<rect x="59.85" y="750.86" width="5.53" height="5.33" rx="1.7"/>
<rect x="65.38" y="750.86" width="5.53" height="5.33" rx="1.7"/>
<rect x="70.9" y="750.86" width="5.53" height="5.33" rx="1.7"/>
<rect x="76.43" y="750.86" width="5.53" height="5.33" rx="1.7"/>
<rect x="81.96" y="750.86" width="5.53" height="5.33" rx="1.7"/>
<rect x="87.49" y="750.86" width="5.53" height="5.33" rx="1.7"/>
<rect x="93.02" y="750.86" width="5.53" height="5.33" rx="1.7"/>
<rect x="98.55" y="750.86" width="5.53" height="5.33" rx="1.7"/>
<rect x="59.85" y="756.19" width="5.53" height="5.33" rx="1.7"/>
<rect x="65.38" y="756.19" width="5.53" height="5.33" rx="1.7"/>
<rect x="70.9" y="756.19" width="5.53" height="5.33" rx="1.7"/>
<rect x="76.43" y="756.19" width="5.53" height="5.33" rx="1.7"/>
<rect x="81.96" y="756.19" width="5.53" height="5.33" rx="1.7"/>
<rect x="87.49" y="756.19" width="5.53" height="5.33" rx="1.7"/>
<rect x="93.02" y="756.19" width="5.53" height="5.33" rx="1.7"/>
<rect x="98.55" y="756.19" width="5.53" height="5.33" rx="1.7"/>
<rect x="59.85" y="761.53" width="5.53" height="5.33" rx="1.7"/>
<rect x="65.38" y="761.53" width="5.53" height="5.33" rx="1.7"/>
<rect x="70.9" y="761.53" width="5.53" height="5.33" rx="1.7"/>
<rect x="76.43" y="761.53" width="5.53" height="5.33" rx="1.7"/>
<rect x="81.96" y="761.53" width="5.53" height="5.33" rx="1.7"/>
<rect x="87.49" y="761.53" width="5.53" height="5.33" rx="1.7"/>
<rect x="93.02" y="761.53" width="5.53" height="5.33" rx="1.7"/>
<rect x="59.85" y="766.86" width="5.53" height="5.33" rx="1.7"/>
<rect x="65.38" y="766.86" width="5.53" height="5.33" rx="1.7"/>
<rect x="70.9" y="766.86" width="5.53" height="5.33" rx="1.7"/>
<rect x="76.43" y="766.86" width="5.53" height="5.33" rx="1.7"/>
<rect x="81.96" y="766.86" width="5.53" height="5.33" rx="1.7"/>
<rect x="87.49" y="766.86" width="5.53" height="5.33" rx="1.7"/>
<rect x="93.02" y="766.86" width="5.53" height="5.33" rx="1.7"/>
<rect x="59.85" y="772.2" width="5.53" height="5.33" rx="1.7"/>
<rect x="65.38" y="772.2" width="5.53" height="5.33" rx="1.7"/>
<rect x="70.9" y="772.2" width="5.53" height="5.33" rx="1.7"/>
<rect x="76.43" y="772.2" width="5.53" height="5.33" rx="1.7"/>
<rect x="81.96" y="772.2" width="5.53" height="5.33" rx="1.7"/>
<rect x="87.49" y="772.2" width="5.53" height="5.33" rx="1.7"/>
<rect x="93.02" y="772.2" width="5.53" height="5.33" rx="1.7"/>
</g>
<rect x="40.5" y="625.5" width="176.9" height="170.7" fill="none" stroke="#222" stroke-width="1.1"/>
<path d="M47.16,796.2v-2.4M47.16,625.5v2.4M40.5,789.78h2.4M217.4,789.78h-2.4M51.05,796.2v-2.4M51.05,625.5v2.4M40.5,786.02h2.4M217.4,786.02h-2.4M53.81,796.2v-2.4M53.81,625.5v2.4M40.5,783.35h2.4M217.4,783.35h-2.4M55.96,796.2v-2.4M55.96,625.5v2.4M40.5,781.29h2.4M217.4,781.29h-2.4M57.71,796.2v-2.4M57.71,625.5v2.4M40.5,779.6h2.4M217.4,779.6h-2.4M59.19,796.2v-2.4M59.19,625.5v2.4M40.5,778.17h2.4M217.4,778.17h-2.4M60.47,796.2v-2.4M60.47,625.5v2.4M40.5,776.93h2.4M217.4,776.93h-2.4M61.6,796.2v-2.4M61.6,625.5v2.4M40.5,775.84h2.4M217.4,775.84h-2.4M62.61,796.2v-4.8M62.61,625.5v4.8M40.5,774.86h4.8M217.4,774.86h-4.8M69.27,796.2v-2.4M69.27,625.5v2.4M40.5,768.44h2.4M217.4,768.44h-2.4M73.16,796.2v-2.4M73.16,625.5v2.4M40.5,764.68h2.4M217.4,764.68h-2.4M75.93,796.2v-2.4M75.93,625.5v2.4M40.5,762.02h2.4M217.4,762.02h-2.4M78.07,796.2v-2.4M78.07,625.5v2.4M40.5,759.95h2.4M217.4,759.95h-2.4M79.82,796.2v-2.4M79.82,625.5v2.4M40.5,758.26h2.4M217.4,758.26h-2.4M81.3,796.2v-2.4M81.3,625.5v2.4M40.5,756.83h2.4M217.4,756.83h-2.4M82.58,796.2v-2.4M82.58,625.5v2.4M40.5,755.59h2.4M217.4,755.59h-2.4M83.71,796.2v-2.4M83.71,625.5v2.4M40.5,754.5h2.4M217.4,754.5h-2.4M84.72,796.2v-4.8M84.72,625.5v4.8M40.5,753.53h4.8M217.4,753.53h-4.8M91.38,796.2v-2.4M91.38,625.5v2.4M40.5,747.1h2.4M217.4,747.1h-2.4M95.28,796.2v-2.4M95.28,625.5v2.4M40.5,743.34h2.4M217.4,743.34h-2.4M98.04,796.2v-2.4M98.04,625.5v2.4M40.5,740.68h2.4M217.4,740.68h-2.4M100.18,796.2v-2.4M100.18,625.5v2.4M40.5,738.61h2.4M217.4,738.61h-2.4M101.93,796.2v-2.4M101.93,625.5v2.4M40.5,736.92h2.4M217.4,736.92h-2.4M103.41,796.2v-2.4M103.41,625.5v2.4M40.5,735.49h2.4M217.4,735.49h-2.4M104.69,796.2v-2.4M104.69,625.5v2.4M40.5,734.26h2.4M217.4,734.26h-2.4M105.83,796.2v-2.4M105.83,625.5v2.4M40.5,733.16h2.4M217.4,733.16h-2.4M106.84,796.2v-4.8M106.84,625.5v4.8M40.5,732.19h4.8M217.4,732.19h-4.8M113.49,796.2v-2.4M113.49,625.5v2.4M40.5,725.76h2.4M217.4,725.76h-2.4M117.39,796.2v-2.4M117.39,625.5v2.4M40.5,722.01h2.4M217.4,722.01h-2.4M120.15,796.2v-2.4M120.15,625.5v2.4M40.5,719.34h2.4M217.4,719.34h-2.4M122.29,796.2v-2.4M122.29,625.5v2.4M40.5,717.27h2.4M217.4,717.27h-2.4M124.04,796.2v-2.4M124.04,625.5v2.4M40.5,715.58h2.4M217.4,715.58h-2.4M125.52,796.2v-2.4M125.52,625.5v2.4M40.5,714.16h2.4M217.4,714.16h-2.4M126.81,796.2v-2.4M126.81,625.5v2.4M40.5,712.92h2.4M217.4,712.92h-2.4M127.94,796.2v-2.4M127.94,625.5v2.4M40.5,711.83h2.4M217.4,711.83h-2.4M128.95,796.2v-4.8M128.95,625.5v4.8M40.5,710.85h4.8M217.4,710.85h-4.8M135.61,796.2v-2.4M135.61,625.5v2.4M40.5,704.43h2.4M217.4,704.43h-2.4M139.5,796.2v-2.4M139.5,625.5v2.4M40.5,700.67h2.4M217.4,700.67h-2.4M142.26,796.2v-2.4M142.26,625.5v2.4M40.5,698h2.4M217.4,698h-2.4M144.41,796.2v-2.4M144.41,625.5v2.4M40.5,695.94h2.4M217.4,695.94h-2.4M146.16,796.2v-2.4M146.16,625.5v2.4M40.5,694.25h2.4M217.4,694.25h-2.4M147.64,796.2v-2.4M147.64,625.5v2.4M40.5,692.82h2.4M217.4,692.82h-2.4M148.92,796.2v-2.4M148.92,625.5v2.4M40.5,691.58h2.4M217.4,691.58h-2.4M150.05,796.2v-2.4M150.05,625.5v2.4M40.5,690.49h2.4M217.4,690.49h-2.4M151.06,796.2v-4.8M151.06,625.5v4.8M40.5,689.51h4.8M217.4,689.51h-4.8M157.72,796.2v-2.4M157.72,625.5v2.4M40.5,683.09h2.4M217.4,683.09h-2.4M161.61,796.2v-2.4M161.61,625.5v2.4M40.5,679.33h2.4M217.4,679.33h-2.4M164.38,796.2v-2.4M164.38,625.5v2.4M40.5,676.67h2.4M217.4,676.67h-2.4M166.52,796.2v-2.4M166.52,625.5v2.4M40.5,674.6h2.4M217.4,674.6h-2.4M168.27,796.2v-2.4M168.27,625.5v2.4M40.5,672.91h2.4M217.4,672.91h-2.4M169.75,796.2v-2.4M169.75,625.5v2.4M40.5,671.48h2.4M217.4,671.48h-2.4M171.03,796.2v-2.4M171.03,625.5v2.4M40.5,670.24h2.4M217.4,670.24h-2.4M172.16,796.2v-2.4M172.16,625.5v2.4M40.5,669.15h2.4M217.4,669.15h-2.4M173.18,796.2v-4.8M173.18,625.5v4.8M40.5,668.17h4.8M217.4,668.17h-4.8M179.83,796.2v-2.4M179.83,625.5v2.4M40.5,661.75h2.4M217.4,661.75h-2.4M183.73,796.2v-2.4M183.73,625.5v2.4M40.5,657.99h2.4M217.4,657.99h-2.4M186.49,796.2v-2.4M186.49,625.5v2.4M40.5,655.33h2.4M217.4,655.33h-2.4M188.63,796.2v-2.4M188.63,625.5v2.4M40.5,653.26h2.4M217.4,653.26h-2.4M190.38,796.2v-2.4M190.38,625.5v2.4M40.5,651.57h2.4M217.4,651.57h-2.4M191.86,796.2v-2.4M191.86,625.5v2.4M40.5,650.14h2.4M217.4,650.14h-2.4M193.14,796.2v-2.4M193.14,625.5v2.4M40.5,648.91h2.4M217.4,648.91h-2.4M194.28,796.2v-2.4M194.28,625.5v2.4M40.5,647.81h2.4M217.4,647.81h-2.4M195.29,796.2v-4.8M195.29,625.5v4.8M40.5,646.84h4.8M217.4,646.84h-4.8M201.94,796.2v-2.4M201.94,625.5v2.4M40.5,640.41h2.4M217.4,640.41h-2.4M205.84,796.2v-2.4M205.84,625.5v2.4M40.5,636.66h2.4M217.4,636.66h-2.4M208.6,796.2v-2.4M208.6,625.5v2.4M40.5,633.99h2.4M217.4,633.99h-2.4M210.74,796.2v-2.4M210.74,625.5v2.4M40.5,631.92h2.4M217.4,631.92h-2.4M212.49,796.2v-2.4M212.49,625.5v2.4M40.5,630.23h2.4M217.4,630.23h-2.4M213.97,796.2v-2.4M213.97,625.5v2.4M40.5,628.81h2.4M217.4,628.81h-2.4M215.26,796.2v-2.4M215.26,625.5v2.4M40.5,627.57h2.4M217.4,627.57h-2.4M216.39,796.2v-2.4M216.39,625.5v2.4M40.5,626.48h2.4M217.4,626.48h-2.4" stroke="#000" stroke-width="0.8" fill="none"/>
<g font-size="8.3" fill="#111" font-weight="bold">
<text x="40.2" y="805.4" text-anchor="middle">10<tspan font-size="6" dy="-4.3">-4</tspan></text>
<text x="36.9" y="798.9" text-anchor="end">10<tspan font-size="6" dy="-4.3">-4</tspan></text>
<text x="62.31" y="805.4" text-anchor="middle">10<tspan font-size="6" dy="-4.3">-3</tspan></text>
<text x="36.9" y="777.56" text-anchor="end">10<tspan font-size="6" dy="-4.3">-3</tspan></text>
<text x="84.42" y="805.4" text-anchor="middle">10<tspan font-size="6" dy="-4.3">-2</tspan></text>
<text x="36.9" y="756.23" text-anchor="end">10<tspan font-size="6" dy="-4.3">-2</tspan></text>
<text x="106.54" y="805.4" text-anchor="middle">10<tspan font-size="6" dy="-4.3">-1</tspan></text>
<text x="36.9" y="734.89" text-anchor="end">10<tspan font-size="6" dy="-4.3">-1</tspan></text>
<text x="128.65" y="805.4" text-anchor="middle">10<tspan font-size="6" dy="-4.3">0</tspan></text>
<text x="36.9" y="713.55" text-anchor="end">10<tspan font-size="6" dy="-4.3">0</tspan></text>
<text x="150.76" y="805.4" text-anchor="middle">10<tspan font-size="6" dy="-4.3">1</tspan></text>
<text x="36.9" y="692.21" text-anchor="end">10<tspan font-size="6" dy="-4.3">1</tspan></text>
<text x="172.88" y="805.4" text-anchor="middle">10<tspan font-size="6" dy="-4.3">2</tspan></text>
<text x="36.9" y="670.88" text-anchor="end">10<tspan font-size="6" dy="-4.3">2</tspan></text>
<text x="194.99" y="805.4" text-anchor="middle">10<tspan font-size="6" dy="-4.3">3</tspan></text>
<text x="36.9" y="649.54" text-anchor="end">10<tspan font-size="6" dy="-4.3">3</tspan></text>
<text x="217.1" y="805.4" text-anchor="middle">10<tspan font-size="6" dy="-4.3">4</tspan></text>
<text x="36.9" y="628.2" text-anchor="end">10<tspan font-size="6" dy="-4.3">4</tspan></text>
</g>
<circle cx="64.9" cy="614.8" r="2.75" fill="#8a8a8a" stroke="#444" stroke-width="0.7"/>
<text x="69.2" y="619.2" font-size="12.4" font-weight="bold">T95 &gt; 200 sec</text>
<text x="213.9" y="639.4" font-size="11" text-anchor="end" stroke="#000" stroke-width="0.3"><tspan font-style="italic">k</tspan><tspan font-size="8.5" font-style="italic" dy="1">a</tspan><tspan dy="-1"> = 0.01/(nM sec)</tspan></text>
<text x="49.4" y="789.8" font-size="11" stroke="#000" stroke-width="0.3"><tspan font-style="italic">k</tspan><tspan font-size="9.5" font-style="italic" dy="0.6">dub</tspan><tspan dy="-0.6"> = 0.01/sec</tspan></text>
<text x="126.3" y="820.5" font-size="12.2" font-weight="normal" stroke="#000" stroke-width="0.4" text-anchor="middle"><tspan font-style="italic">k</tspan><tspan font-size="9.5" font-style="italic" dy="0.8">c</tspan><tspan dy="-0.8"> (1/sec)</tspan></text>
<text transform="translate(16.8,717.6) rotate(-90)" font-size="12.2" font-weight="normal" stroke="#000" stroke-width="0.4" text-anchor="middle"><tspan font-style="italic">k</tspan><tspan font-size="9.5" font-style="italic" dy="0.8">d</tspan><tspan dy="-0.8"> (1/sec)</tspan></text>
<g stroke="#505050" stroke-width="0.8" fill="#fff">
<rect x="291.35" y="643.4" width="5.53" height="5.37" rx="1.7"/>
<rect x="296.88" y="643.4" width="5.53" height="5.37" rx="1.7"/>
<rect x="302.4" y="643.4" width="5.53" height="5.37" rx="1.7"/>
<rect x="307.93" y="643.4" width="5.53" height="5.37" rx="1.7"/>
<rect x="313.46" y="643.4" width="5.53" height="5.37" rx="1.7"/>
<rect x="318.99" y="643.4" width="5.53" height="5.37" rx="1.7"/>
<rect x="324.52" y="643.4" width="5.53" height="5.37" rx="1.7"/>
<rect x="330.05" y="643.4" width="5.53" height="5.37" rx="1.7"/>
<rect x="335.57" y="643.4" width="5.53" height="5.37" rx="1.7"/>
<rect x="341.1" y="643.4" width="5.53" height="5.37" rx="1.7"/>
<rect x="346.63" y="643.4" width="5.53" height="5.37" rx="1.7"/>
<rect x="352.16" y="643.4" width="5.53" height="5.37" rx="1.7"/>
<rect x="357.69" y="643.4" width="5.53" height="5.37" rx="1.7"/>
<rect x="363.21" y="643.4" width="5.53" height="5.37" rx="1.7"/>
<rect x="368.74" y="643.4" width="5.53" height="5.37" rx="1.7"/>
<rect x="374.27" y="643.4" width="5.53" height="5.37" rx="1.7"/>
<rect x="379.8" y="643.4" width="5.53" height="5.37" rx="1.7"/>
<rect x="407.44" y="643.4" width="5.53" height="5.37" rx="1.7"/>
<rect x="412.97" y="643.4" width="5.53" height="5.37" rx="1.7"/>
<rect x="418.5" y="643.4" width="5.53" height="5.37" rx="1.7"/>
<rect x="424.02" y="643.4" width="5.53" height="5.37" rx="1.7"/>
<rect x="291.35" y="648.77" width="5.53" height="5.37" rx="1.7"/>
<rect x="296.88" y="648.77" width="5.53" height="5.37" rx="1.7"/>
<rect x="302.4" y="648.77" width="5.53" height="5.37" rx="1.7"/>
<rect x="307.93" y="648.77" width="5.53" height="5.37" rx="1.7"/>
<rect x="313.46" y="648.77" width="5.53" height="5.37" rx="1.7"/>
<rect x="318.99" y="648.77" width="5.53" height="5.37" rx="1.7"/>
<rect x="324.52" y="648.77" width="5.53" height="5.37" rx="1.7"/>
<rect x="330.05" y="648.77" width="5.53" height="5.37" rx="1.7"/>
<rect x="335.57" y="648.77" width="5.53" height="5.37" rx="1.7"/>
<rect x="341.1" y="648.77" width="5.53" height="5.37" rx="1.7"/>
<rect x="346.63" y="648.77" width="5.53" height="5.37" rx="1.7"/>
<rect x="352.16" y="648.77" width="5.53" height="5.37" rx="1.7"/>
<rect x="357.69" y="648.77" width="5.53" height="5.37" rx="1.7"/>
<rect x="363.21" y="648.77" width="5.53" height="5.37" rx="1.7"/>
<rect x="368.74" y="648.77" width="5.53" height="5.37" rx="1.7"/>
<rect x="374.27" y="648.77" width="5.53" height="5.37" rx="1.7"/>
<rect x="401.91" y="648.77" width="5.53" height="5.37" rx="1.7"/>
<rect x="407.44" y="648.77" width="5.53" height="5.37" rx="1.7"/>
<rect x="412.97" y="648.77" width="5.53" height="5.37" rx="1.7"/>
<rect x="418.5" y="648.77" width="5.53" height="5.37" rx="1.7"/>
<rect x="424.02" y="648.77" width="5.53" height="5.37" rx="1.7"/>
<rect x="291.35" y="654.15" width="5.53" height="5.37" rx="1.7"/>
<rect x="296.88" y="654.15" width="5.53" height="5.37" rx="1.7"/>
<rect x="302.4" y="654.15" width="5.53" height="5.37" rx="1.7"/>
<rect x="307.93" y="654.15" width="5.53" height="5.37" rx="1.7"/>
<rect x="313.46" y="654.15" width="5.53" height="5.37" rx="1.7"/>
<rect x="318.99" y="654.15" width="5.53" height="5.37" rx="1.7"/>
<rect x="324.52" y="654.15" width="5.53" height="5.37" rx="1.7"/>
<rect x="330.05" y="654.15" width="5.53" height="5.37" rx="1.7"/>
<rect x="335.57" y="654.15" width="5.53" height="5.37" rx="1.7"/>
<rect x="341.1" y="654.15" width="5.53" height="5.37" rx="1.7"/>
<rect x="346.63" y="654.15" width="5.53" height="5.37" rx="1.7"/>
<rect x="352.16" y="654.15" width="5.53" height="5.37" rx="1.7"/>
<rect x="357.69" y="654.15" width="5.53" height="5.37" rx="1.7"/>
<rect x="363.21" y="654.15" width="5.53" height="5.37" rx="1.7"/>
<rect x="368.74" y="654.15" width="5.53" height="5.37" rx="1.7"/>
<rect x="396.38" y="654.15" width="5.53" height="5.37" rx="1.7"/>
<rect x="401.91" y="654.15" width="5.53" height="5.37" rx="1.7"/>
<rect x="407.44" y="654.15" width="5.53" height="5.37" rx="1.7"/>
<rect x="412.97" y="654.15" width="5.53" height="5.37" rx="1.7"/>
<rect x="418.5" y="654.15" width="5.53" height="5.37" rx="1.7"/>
<rect x="424.02" y="654.15" width="5.53" height="5.37" rx="1.7"/>
<rect x="291.35" y="659.52" width="5.53" height="5.37" rx="1.7"/>
<rect x="296.88" y="659.52" width="5.53" height="5.37" rx="1.7"/>
<rect x="302.4" y="659.52" width="5.53" height="5.37" rx="1.7"/>
<rect x="307.93" y="659.52" width="5.53" height="5.37" rx="1.7"/>
<rect x="313.46" y="659.52" width="5.53" height="5.37" rx="1.7"/>
<rect x="318.99" y="659.52" width="5.53" height="5.37" rx="1.7"/>
<rect x="324.52" y="659.52" width="5.53" height="5.37" rx="1.7"/>
<rect x="330.05" y="659.52" width="5.53" height="5.37" rx="1.7"/>
<rect x="335.57" y="659.52" width="5.53" height="5.37" rx="1.7"/>
<rect x="341.1" y="659.52" width="5.53" height="5.37" rx="1.7"/>
<rect x="346.63" y="659.52" width="5.53" height="5.37" rx="1.7"/>
<rect x="352.16" y="659.52" width="5.53" height="5.37" rx="1.7"/>
<rect x="357.69" y="659.52" width="5.53" height="5.37" rx="1.7"/>
<rect x="363.21" y="659.52" width="5.53" height="5.37" rx="1.7"/>
<rect x="390.85" y="659.52" width="5.53" height="5.37" rx="1.7"/>
<rect x="396.38" y="659.52" width="5.53" height="5.37" rx="1.7"/>
<rect x="401.91" y="659.52" width="5.53" height="5.37" rx="1.7"/>
<rect x="407.44" y="659.52" width="5.53" height="5.37" rx="1.7"/>
<rect x="412.97" y="659.52" width="5.53" height="5.37" rx="1.7"/>
<rect x="418.5" y="659.52" width="5.53" height="5.37" rx="1.7"/>
<rect x="424.02" y="659.52" width="5.53" height="5.37" rx="1.7"/>
<rect x="291.35" y="664.89" width="5.53" height="5.37" rx="1.7"/>
<rect x="296.88" y="664.89" width="5.53" height="5.37" rx="1.7"/>
<rect x="302.4" y="664.89" width="5.53" height="5.37" rx="1.7"/>
<rect x="307.93" y="664.89" width="5.53" height="5.37" rx="1.7"/>
<rect x="313.46" y="664.89" width="5.53" height="5.37" rx="1.7"/>
<rect x="318.99" y="664.89" width="5.53" height="5.37" rx="1.7"/>
<rect x="324.52" y="664.89" width="5.53" height="5.37" rx="1.7"/>
<rect x="330.05" y="664.89" width="5.53" height="5.37" rx="1.7"/>
<rect x="335.57" y="664.89" width="5.53" height="5.37" rx="1.7"/>
<rect x="341.1" y="664.89" width="5.53" height="5.37" rx="1.7"/>
<rect x="346.63" y="664.89" width="5.53" height="5.37" rx="1.7"/>
<rect x="352.16" y="664.89" width="5.53" height="5.37" rx="1.7"/>
<rect x="357.69" y="664.89" width="5.53" height="5.37" rx="1.7"/>
<rect x="385.33" y="664.89" width="5.53" height="5.37" rx="1.7"/>
<rect x="390.85" y="664.89" width="5.53" height="5.37" rx="1.7"/>
<rect x="396.38" y="664.89" width="5.53" height="5.37" rx="1.7"/>
<rect x="401.91" y="664.89" width="5.53" height="5.37" rx="1.7"/>
<rect x="407.44" y="664.89" width="5.53" height="5.37" rx="1.7"/>
<rect x="412.97" y="664.89" width="5.53" height="5.37" rx="1.7"/>
<rect x="418.5" y="664.89" width="5.53" height="5.37" rx="1.7"/>
<rect x="424.02" y="664.89" width="5.53" height="5.37" rx="1.7"/>
<rect x="291.35" y="670.26" width="5.53" height="5.37" rx="1.7"/>
<rect x="296.88" y="670.26" width="5.53" height="5.37" rx="1.7"/>
<rect x="302.4" y="670.26" width="5.53" height="5.37" rx="1.7"/>
<rect x="307.93" y="670.26" width="5.53" height="5.37" rx="1.7"/>
<rect x="313.46" y="670.26" width="5.53" height="5.37" rx="1.7"/>
<rect x="318.99" y="670.26" width="5.53" height="5.37" rx="1.7"/>
<rect x="324.52" y="670.26" width="5.53" height="5.37" rx="1.7"/>
<rect x="330.05" y="670.26" width="5.53" height="5.37" rx="1.7"/>
<rect x="335.57" y="670.26" width="5.53" height="5.37" rx="1.7"/>
<rect x="341.1" y="670.26" width="5.53" height="5.37" rx="1.7"/>
<rect x="346.63" y="670.26" width="5.53" height="5.37" rx="1.7"/>
<rect x="352.16" y="670.26" width="5.53" height="5.37" rx="1.7"/>
<rect x="379.8" y="670.26" width="5.53" height="5.37" rx="1.7"/>
<rect x="385.33" y="670.26" width="5.53" height="5.37" rx="1.7"/>
<rect x="390.85" y="670.26" width="5.53" height="5.37" rx="1.7"/>
<rect x="396.38" y="670.26" width="5.53" height="5.37" rx="1.7"/>
<rect x="401.91" y="670.26" width="5.53" height="5.37" rx="1.7"/>
<rect x="407.44" y="670.26" width="5.53" height="5.37" rx="1.7"/>
<rect x="412.97" y="670.26" width="5.53" height="5.37" rx="1.7"/>
<rect x="418.5" y="670.26" width="5.53" height="5.37" rx="1.7"/>
<rect x="424.02" y="670.26" width="5.53" height="5.37" rx="1.7"/>
<rect x="291.35" y="675.63" width="5.53" height="5.37" rx="1.7"/>
<rect x="296.88" y="675.63" width="5.53" height="5.37" rx="1.7"/>
<rect x="302.4" y="675.63" width="5.53" height="5.37" rx="1.7"/>
<rect x="307.93" y="675.63" width="5.53" height="5.37" rx="1.7"/>
<rect x="313.46" y="675.63" width="5.53" height="5.37" rx="1.7"/>
<rect x="318.99" y="675.63" width="5.53" height="5.37" rx="1.7"/>
<rect x="324.52" y="675.63" width="5.53" height="5.37" rx="1.7"/>
<rect x="330.05" y="675.63" width="5.53" height="5.37" rx="1.7"/>
<rect x="335.57" y="675.63" width="5.53" height="5.37" rx="1.7"/>
<rect x="341.1" y="675.63" width="5.53" height="5.37" rx="1.7"/>
<rect x="346.63" y="675.63" width="5.53" height="5.37" rx="1.7"/>
<rect x="352.16" y="675.63" width="5.53" height="5.37" rx="1.7"/>
<rect x="374.27" y="675.63" width="5.53" height="5.37" rx="1.7"/>
<rect x="379.8" y="675.63" width="5.53" height="5.37" rx="1.7"/>
<rect x="385.33" y="675.63" width="5.53" height="5.37" rx="1.7"/>
<rect x="390.85" y="675.63" width="5.53" height="5.37" rx="1.7"/>
<rect x="396.38" y="675.63" width="5.53" height="5.37" rx="1.7"/>
<rect x="401.91" y="675.63" width="5.53" height="5.37" rx="1.7"/>
<rect x="407.44" y="675.63" width="5.53" height="5.37" rx="1.7"/>
<rect x="412.97" y="675.63" width="5.53" height="5.37" rx="1.7"/>
<rect x="418.5" y="675.63" width="5.53" height="5.37" rx="1.7"/>
<rect x="424.02" y="675.63" width="5.53" height="5.37" rx="1.7"/>
<rect x="291.35" y="681" width="5.53" height="5.37" rx="1.7"/>
<rect x="296.88" y="681" width="5.53" height="5.37" rx="1.7"/>
<rect x="302.4" y="681" width="5.53" height="5.37" rx="1.7"/>
<rect x="307.93" y="681" width="5.53" height="5.37" rx="1.7"/>
<rect x="313.46" y="681" width="5.53" height="5.37" rx="1.7"/>
<rect x="318.99" y="681" width="5.53" height="5.37" rx="1.7"/>
<rect x="324.52" y="681" width="5.53" height="5.37" rx="1.7"/>
<rect x="330.05" y="681" width="5.53" height="5.37" rx="1.7"/>
<rect x="335.57" y="681" width="5.53" height="5.37" rx="1.7"/>
<rect x="341.1" y="681" width="5.53" height="5.37" rx="1.7"/>
<rect x="346.63" y="681" width="5.53" height="5.37" rx="1.7"/>
<rect x="368.74" y="681" width="5.53" height="5.37" rx="1.7"/>
<rect x="374.27" y="681" width="5.53" height="5.37" rx="1.7"/>
<rect x="379.8" y="681" width="5.53" height="5.37" rx="1.7"/>
<rect x="385.33" y="681" width="5.53" height="5.37" rx="1.7"/>
<rect x="390.85" y="681" width="5.53" height="5.37" rx="1.7"/>
<rect x="396.38" y="681" width="5.53" height="5.37" rx="1.7"/>
<rect x="401.91" y="681" width="5.53" height="5.37" rx="1.7"/>
<rect x="407.44" y="681" width="5.53" height="5.37" rx="1.7"/>
<rect x="412.97" y="681" width="5.53" height="5.37" rx="1.7"/>
<rect x="418.5" y="681" width="5.53" height="5.37" rx="1.7"/>
<rect x="424.02" y="681" width="5.53" height="5.37" rx="1.7"/>
<rect x="291.35" y="686.38" width="5.53" height="5.37" rx="1.7"/>
<rect x="296.88" y="686.38" width="5.53" height="5.37" rx="1.7"/>
<rect x="302.4" y="686.38" width="5.53" height="5.37" rx="1.7"/>
<rect x="307.93" y="686.38" width="5.53" height="5.37" rx="1.7"/>
<rect x="313.46" y="686.38" width="5.53" height="5.37" rx="1.7"/>
<rect x="318.99" y="686.38" width="5.53" height="5.37" rx="1.7"/>
<rect x="324.52" y="686.38" width="5.53" height="5.37" rx="1.7"/>
<rect x="330.05" y="686.38" width="5.53" height="5.37" rx="1.7"/>
<rect x="335.57" y="686.38" width="5.53" height="5.37" rx="1.7"/>
<rect x="341.1" y="686.38" width="5.53" height="5.37" rx="1.7"/>
<rect x="363.21" y="686.38" width="5.53" height="5.37" rx="1.7"/>
<rect x="368.74" y="686.38" width="5.53" height="5.37" rx="1.7"/>
<rect x="374.27" y="686.38" width="5.53" height="5.37" rx="1.7"/>
<rect x="379.8" y="686.38" width="5.53" height="5.37" rx="1.7"/>
<rect x="385.33" y="686.38" width="5.53" height="5.37" rx="1.7"/>
<rect x="390.85" y="686.38" width="5.53" height="5.37" rx="1.7"/>
<rect x="396.38" y="686.38" width="5.53" height="5.37" rx="1.7"/>
<rect x="401.91" y="686.38" width="5.53" height="5.37" rx="1.7"/>
<rect x="407.44" y="686.38" width="5.53" height="5.37" rx="1.7"/>
<rect x="412.97" y="686.38" width="5.53" height="5.37" rx="1.7"/>
<rect x="418.5" y="686.38" width="5.53" height="5.37" rx="1.7"/>
<rect x="424.02" y="686.38" width="5.53" height="5.37" rx="1.7"/>
<rect x="291.35" y="691.75" width="5.53" height="5.37" rx="1.7"/>
<rect x="296.88" y="691.75" width="5.53" height="5.37" rx="1.7"/>
<rect x="302.4" y="691.75" width="5.53" height="5.37" rx="1.7"/>
<rect x="307.93" y="691.75" width="5.53" height="5.37" rx="1.7"/>
<rect x="313.46" y="691.75" width="5.53" height="5.37" rx="1.7"/>
<rect x="318.99" y="691.75" width="5.53" height="5.37" rx="1.7"/>
<rect x="324.52" y="691.75" width="5.53" height="5.37" rx="1.7"/>
<rect x="330.05" y="691.75" width="5.53" height="5.37" rx="1.7"/>
<rect x="335.57" y="691.75" width="5.53" height="5.37" rx="1.7"/>
<rect x="357.69" y="691.75" width="5.53" height="5.37" rx="1.7"/>
<rect x="363.21" y="691.75" width="5.53" height="5.37" rx="1.7"/>
<rect x="368.74" y="691.75" width="5.53" height="5.37" rx="1.7"/>
<rect x="374.27" y="691.75" width="5.53" height="5.37" rx="1.7"/>
<rect x="379.8" y="691.75" width="5.53" height="5.37" rx="1.7"/>
<rect x="385.33" y="691.75" width="5.53" height="5.37" rx="1.7"/>
<rect x="390.85" y="691.75" width="5.53" height="5.37" rx="1.7"/>
<rect x="396.38" y="691.75" width="5.53" height="5.37" rx="1.7"/>
<rect x="401.91" y="691.75" width="5.53" height="5.37" rx="1.7"/>
<rect x="407.44" y="691.75" width="5.53" height="5.37" rx="1.7"/>
<rect x="412.97" y="691.75" width="5.53" height="5.37" rx="1.7"/>
<rect x="418.5" y="691.75" width="5.53" height="5.37" rx="1.7"/>
<rect x="424.02" y="691.75" width="5.53" height="5.37" rx="1.7"/>
<rect x="291.35" y="697.12" width="5.53" height="5.37" rx="1.7"/>
<rect x="296.88" y="697.12" width="5.53" height="5.37" rx="1.7"/>
<rect x="302.4" y="697.12" width="5.53" height="5.37" rx="1.7"/>
<rect x="307.93" y="697.12" width="5.53" height="5.37" rx="1.7"/>
<rect x="313.46" y="697.12" width="5.53" height="5.37" rx="1.7"/>
<rect x="318.99" y="697.12" width="5.53" height="5.37" rx="1.7"/>
<rect x="324.52" y="697.12" width="5.53" height="5.37" rx="1.7"/>
<rect x="330.05" y="697.12" width="5.53" height="5.37" rx="1.7"/>
<rect x="357.69" y="697.12" width="5.53" height="5.37" rx="1.7"/>
<rect x="363.21" y="697.12" width="5.53" height="5.37" rx="1.7"/>
<rect x="368.74" y="697.12" width="5.53" height="5.37" rx="1.7"/>
<rect x="374.27" y="697.12" width="5.53" height="5.37" rx="1.7"/>
<rect x="379.8" y="697.12" width="5.53" height="5.37" rx="1.7"/>
<rect x="385.33" y="697.12" width="5.53" height="5.37" rx="1.7"/>
<rect x="390.85" y="697.12" width="5.53" height="5.37" rx="1.7"/>
<rect x="396.38" y="697.12" width="5.53" height="5.37" rx="1.7"/>
<rect x="401.91" y="697.12" width="5.53" height="5.37" rx="1.7"/>
<rect x="407.44" y="697.12" width="5.53" height="5.37" rx="1.7"/>
<rect x="412.97" y="697.12" width="5.53" height="5.37" rx="1.7"/>
<rect x="418.5" y="697.12" width="5.53" height="5.37" rx="1.7"/>
<rect x="424.02" y="697.12" width="5.53" height="5.37" rx="1.7"/>
<rect x="291.35" y="702.49" width="5.53" height="5.37" rx="1.7"/>
<rect x="296.88" y="702.49" width="5.53" height="5.37" rx="1.7"/>
<rect x="302.4" y="702.49" width="5.53" height="5.37" rx="1.7"/>
<rect x="307.93" y="702.49" width="5.53" height="5.37" rx="1.7"/>
<rect x="313.46" y="702.49" width="5.53" height="5.37" rx="1.7"/>
<rect x="318.99" y="702.49" width="5.53" height="5.37" rx="1.7"/>
<rect x="324.52" y="702.49" width="5.53" height="5.37" rx="1.7"/>
<rect x="330.05" y="702.49" width="5.53" height="5.37" rx="1.7"/>
<rect x="352.16" y="702.49" width="5.53" height="5.37" rx="1.7"/>
<rect x="357.69" y="702.49" width="5.53" height="5.37" rx="1.7"/>
<rect x="363.21" y="702.49" width="5.53" height="5.37" rx="1.7"/>
<rect x="368.74" y="702.49" width="5.53" height="5.37" rx="1.7"/>
<rect x="374.27" y="702.49" width="5.53" height="5.37" rx="1.7"/>
<rect x="379.8" y="702.49" width="5.53" height="5.37" rx="1.7"/>
<rect x="385.33" y="702.49" width="5.53" height="5.37" rx="1.7"/>
<rect x="390.85" y="702.49" width="5.53" height="5.37" rx="1.7"/>
<rect x="396.38" y="702.49" width="5.53" height="5.37" rx="1.7"/>
<rect x="401.91" y="702.49" width="5.53" height="5.37" rx="1.7"/>
<rect x="407.44" y="702.49" width="5.53" height="5.37" rx="1.7"/>
<rect x="412.97" y="702.49" width="5.53" height="5.37" rx="1.7"/>
<rect x="418.5" y="702.49" width="5.53" height="5.37" rx="1.7"/>
<rect x="424.02" y="702.49" width="5.53" height="5.37" rx="1.7"/>
<rect x="291.35" y="707.86" width="5.53" height="5.37" rx="1.7"/>
<rect x="296.88" y="707.86" width="5.53" height="5.37" rx="1.7"/>
<rect x="302.4" y="707.86" width="5.53" height="5.37" rx="1.7"/>
<rect x="307.93" y="707.86" width="5.53" height="5.37" rx="1.7"/>
<rect x="313.46" y="707.86" width="5.53" height="5.37" rx="1.7"/>
<rect x="318.99" y="707.86" width="5.53" height="5.37" rx="1.7"/>
<rect x="324.52" y="707.86" width="5.53" height="5.37" rx="1.7"/>
<rect x="346.63" y="707.86" width="5.53" height="5.37" rx="1.7"/>
<rect x="352.16" y="707.86" width="5.53" height="5.37" rx="1.7"/>
<rect x="357.69" y="707.86" width="5.53" height="5.37" rx="1.7"/>
<rect x="363.21" y="707.86" width="5.53" height="5.37" rx="1.7"/>
<rect x="368.74" y="707.86" width="5.53" height="5.37" rx="1.7"/>
<rect x="374.27" y="707.86" width="5.53" height="5.37" rx="1.7"/>
<rect x="379.8" y="707.86" width="5.53" height="5.37" rx="1.7"/>
<rect x="385.33" y="707.86" width="5.53" height="5.37" rx="1.7"/>
<rect x="390.85" y="707.86" width="5.53" height="5.37" rx="1.7"/>
<rect x="396.38" y="707.86" width="5.53" height="5.37" rx="1.7"/>
<rect x="401.91" y="707.86" width="5.53" height="5.37" rx="1.7"/>
<rect x="407.44" y="707.86" width="5.53" height="5.37" rx="1.7"/>
<rect x="412.97" y="707.86" width="5.53" height="5.37" rx="1.7"/>
<rect x="418.5" y="707.86" width="5.53" height="5.37" rx="1.7"/>
<rect x="424.02" y="707.86" width="5.53" height="5.37" rx="1.7"/>
<rect x="291.35" y="713.24" width="5.53" height="5.37" rx="1.7"/>
<rect x="296.88" y="713.24" width="5.53" height="5.37" rx="1.7"/>
<rect x="302.4" y="713.24" width="5.53" height="5.37" rx="1.7"/>
<rect x="307.93" y="713.24" width="5.53" height="5.37" rx="1.7"/>
<rect x="313.46" y="713.24" width="5.53" height="5.37" rx="1.7"/>
<rect x="318.99" y="713.24" width="5.53" height="5.37" rx="1.7"/>
<rect x="324.52" y="713.24" width="5.53" height="5.37" rx="1.7"/>
<rect x="346.63" y="713.24" width="5.53" height="5.37" rx="1.7"/>
<rect x="352.16" y="713.24" width="5.53" height="5.37" rx="1.7"/>
<rect x="357.69" y="713.24" width="5.53" height="5.37" rx="1.7"/>
<rect x="363.21" y="713.24" width="5.53" height="5.37" rx="1.7"/>
<rect x="368.74" y="713.24" width="5.53" height="5.37" rx="1.7"/>
<rect x="374.27" y="713.24" width="5.53" height="5.37" rx="1.7"/>
<rect x="379.8" y="713.24" width="5.53" height="5.37" rx="1.7"/>
<rect x="385.33" y="713.24" width="5.53" height="5.37" rx="1.7"/>
<rect x="390.85" y="713.24" width="5.53" height="5.37" rx="1.7"/>
<rect x="396.38" y="713.24" width="5.53" height="5.37" rx="1.7"/>
<rect x="401.91" y="713.24" width="5.53" height="5.37" rx="1.7"/>
<rect x="407.44" y="713.24" width="5.53" height="5.37" rx="1.7"/>
<rect x="412.97" y="713.24" width="5.53" height="5.37" rx="1.7"/>
<rect x="418.5" y="713.24" width="5.53" height="5.37" rx="1.7"/>
<rect x="424.02" y="713.24" width="5.53" height="5.37" rx="1.7"/>
<rect x="291.35" y="718.61" width="5.53" height="5.37" rx="1.7"/>
<rect x="296.88" y="718.61" width="5.53" height="5.37" rx="1.7"/>
<rect x="302.4" y="718.61" width="5.53" height="5.37" rx="1.7"/>
<rect x="307.93" y="718.61" width="5.53" height="5.37" rx="1.7"/>
<rect x="313.46" y="718.61" width="5.53" height="5.37" rx="1.7"/>
<rect x="318.99" y="718.61" width="5.53" height="5.37" rx="1.7"/>
<rect x="346.63" y="718.61" width="5.53" height="5.37" rx="1.7"/>
<rect x="352.16" y="718.61" width="5.53" height="5.37" rx="1.7"/>
<rect x="357.69" y="718.61" width="5.53" height="5.37" rx="1.7"/>
<rect x="363.21" y="718.61" width="5.53" height="5.37" rx="1.7"/>
<rect x="368.74" y="718.61" width="5.53" height="5.37" rx="1.7"/>
<rect x="374.27" y="718.61" width="5.53" height="5.37" rx="1.7"/>
<rect x="379.8" y="718.61" width="5.53" height="5.37" rx="1.7"/>
<rect x="385.33" y="718.61" width="5.53" height="5.37" rx="1.7"/>
<rect x="390.85" y="718.61" width="5.53" height="5.37" rx="1.7"/>
<rect x="396.38" y="718.61" width="5.53" height="5.37" rx="1.7"/>
<rect x="401.91" y="718.61" width="5.53" height="5.37" rx="1.7"/>
<rect x="407.44" y="718.61" width="5.53" height="5.37" rx="1.7"/>
<rect x="412.97" y="718.61" width="5.53" height="5.37" rx="1.7"/>
<rect x="418.5" y="718.61" width="5.53" height="5.37" rx="1.7"/>
<rect x="424.02" y="718.61" width="5.53" height="5.37" rx="1.7"/>
<rect x="291.35" y="723.98" width="5.53" height="5.37" rx="1.7"/>
<rect x="296.88" y="723.98" width="5.53" height="5.37" rx="1.7"/>
<rect x="302.4" y="723.98" width="5.53" height="5.37" rx="1.7"/>
<rect x="307.93" y="723.98" width="5.53" height="5.37" rx="1.7"/>
<rect x="313.46" y="723.98" width="5.53" height="5.37" rx="1.7"/>
<rect x="318.99" y="723.98" width="5.53" height="5.37" rx="1.7"/>
<rect x="341.1" y="723.98" width="5.53" height="5.37" rx="1.7"/>
<rect x="346.63" y="723.98" width="5.53" height="5.37" rx="1.7"/>
<rect x="352.16" y="723.98" width="5.53" height="5.37" rx="1.7"/>
<rect x="357.69" y="723.98" width="5.53" height="5.37" rx="1.7"/>
<rect x="363.21" y="723.98" width="5.53" height="5.37" rx="1.7"/>
<rect x="368.74" y="723.98" width="5.53" height="5.37" rx="1.7"/>
<rect x="374.27" y="723.98" width="5.53" height="5.37" rx="1.7"/>
<rect x="379.8" y="723.98" width="5.53" height="5.37" rx="1.7"/>
<rect x="385.33" y="723.98" width="5.53" height="5.37" rx="1.7"/>
<rect x="390.85" y="723.98" width="5.53" height="5.37" rx="1.7"/>
<rect x="396.38" y="723.98" width="5.53" height="5.37" rx="1.7"/>
<rect x="401.91" y="723.98" width="5.53" height="5.37" rx="1.7"/>
<rect x="407.44" y="723.98" width="5.53" height="5.37" rx="1.7"/>
<rect x="412.97" y="723.98" width="5.53" height="5.37" rx="1.7"/>
<rect x="418.5" y="723.98" width="5.53" height="5.37" rx="1.7"/>
<rect x="424.02" y="723.98" width="5.53" height="5.37" rx="1.7"/>
<rect x="291.35" y="729.35" width="5.53" height="5.37" rx="1.7"/>
<rect x="296.88" y="729.35" width="5.53" height="5.37" rx="1.7"/>
<rect x="302.4" y="729.35" width="5.53" height="5.37" rx="1.7"/>
<rect x="307.93" y="729.35" width="5.53" height="5.37" rx="1.7"/>
<rect x="313.46" y="729.35" width="5.53" height="5.37" rx="1.7"/>
<rect x="318.99" y="729.35" width="5.53" height="5.37" rx="1.7"/>
<rect x="341.1" y="729.35" width="5.53" height="5.37" rx="1.7"/>
<rect x="346.63" y="729.35" width="5.53" height="5.37" rx="1.7"/>
<rect x="352.16" y="729.35" width="5.53" height="5.37" rx="1.7"/>
<rect x="357.69" y="729.35" width="5.53" height="5.37" rx="1.7"/>
<rect x="363.21" y="729.35" width="5.53" height="5.37" rx="1.7"/>
<rect x="368.74" y="729.35" width="5.53" height="5.37" rx="1.7"/>
<rect x="374.27" y="729.35" width="5.53" height="5.37" rx="1.7"/>
<rect x="379.8" y="729.35" width="5.53" height="5.37" rx="1.7"/>
<rect x="385.33" y="729.35" width="5.53" height="5.37" rx="1.7"/>
<rect x="390.85" y="729.35" width="5.53" height="5.37" rx="1.7"/>
<rect x="396.38" y="729.35" width="5.53" height="5.37" rx="1.7"/>
<rect x="401.91" y="729.35" width="5.53" height="5.37" rx="1.7"/>
<rect x="407.44" y="729.35" width="5.53" height="5.37" rx="1.7"/>
<rect x="412.97" y="729.35" width="5.53" height="5.37" rx="1.7"/>
<rect x="418.5" y="729.35" width="5.53" height="5.37" rx="1.7"/>
<rect x="424.02" y="729.35" width="5.53" height="5.37" rx="1.7"/>
<rect x="291.35" y="734.72" width="5.53" height="5.37" rx="1.7"/>
<rect x="296.88" y="734.72" width="5.53" height="5.37" rx="1.7"/>
<rect x="302.4" y="734.72" width="5.53" height="5.37" rx="1.7"/>
<rect x="307.93" y="734.72" width="5.53" height="5.37" rx="1.7"/>
<rect x="313.46" y="734.72" width="5.53" height="5.37" rx="1.7"/>
<rect x="318.99" y="734.72" width="5.53" height="5.37" rx="1.7"/>
<rect x="335.57" y="734.72" width="5.53" height="5.37" rx="1.7"/>
<rect x="341.1" y="734.72" width="5.53" height="5.37" rx="1.7"/>
<rect x="346.63" y="734.72" width="5.53" height="5.37" rx="1.7"/>
<rect x="352.16" y="734.72" width="5.53" height="5.37" rx="1.7"/>
<rect x="357.69" y="734.72" width="5.53" height="5.37" rx="1.7"/>
<rect x="363.21" y="734.72" width="5.53" height="5.37" rx="1.7"/>
<rect x="368.74" y="734.72" width="5.53" height="5.37" rx="1.7"/>
<rect x="374.27" y="734.72" width="5.53" height="5.37" rx="1.7"/>
<rect x="379.8" y="734.72" width="5.53" height="5.37" rx="1.7"/>
<rect x="385.33" y="734.72" width="5.53" height="5.37" rx="1.7"/>
<rect x="390.85" y="734.72" width="5.53" height="5.37" rx="1.7"/>
<rect x="396.38" y="734.72" width="5.53" height="5.37" rx="1.7"/>
<rect x="401.91" y="734.72" width="5.53" height="5.37" rx="1.7"/>
<rect x="407.44" y="734.72" width="5.53" height="5.37" rx="1.7"/>
<rect x="412.97" y="734.72" width="5.53" height="5.37" rx="1.7"/>
<rect x="418.5" y="734.72" width="5.53" height="5.37" rx="1.7"/>
<rect x="424.02" y="734.72" width="5.53" height="5.37" rx="1.7"/>
<rect x="291.35" y="740.1" width="5.53" height="5.37" rx="1.7"/>
<rect x="296.88" y="740.1" width="5.53" height="5.37" rx="1.7"/>
<rect x="302.4" y="740.1" width="5.53" height="5.37" rx="1.7"/>
<rect x="307.93" y="740.1" width="5.53" height="5.37" rx="1.7"/>
<rect x="313.46" y="740.1" width="5.53" height="5.37" rx="1.7"/>
<rect x="318.99" y="740.1" width="5.53" height="5.37" rx="1.7"/>
<rect x="335.57" y="740.1" width="5.53" height="5.37" rx="1.7"/>
<rect x="341.1" y="740.1" width="5.53" height="5.37" rx="1.7"/>
<rect x="346.63" y="740.1" width="5.53" height="5.37" rx="1.7"/>
<rect x="352.16" y="740.1" width="5.53" height="5.37" rx="1.7"/>
<rect x="357.69" y="740.1" width="5.53" height="5.37" rx="1.7"/>
<rect x="363.21" y="740.1" width="5.53" height="5.37" rx="1.7"/>
<rect x="368.74" y="740.1" width="5.53" height="5.37" rx="1.7"/>
<rect x="374.27" y="740.1" width="5.53" height="5.37" rx="1.7"/>
<rect x="379.8" y="740.1" width="5.53" height="5.37" rx="1.7"/>
<rect x="385.33" y="740.1" width="5.53" height="5.37" rx="1.7"/>
<rect x="390.85" y="740.1" width="5.53" height="5.37" rx="1.7"/>
<rect x="396.38" y="740.1" width="5.53" height="5.37" rx="1.7"/>
<rect x="401.91" y="740.1" width="5.53" height="5.37" rx="1.7"/>
<rect x="407.44" y="740.1" width="5.53" height="5.37" rx="1.7"/>
<rect x="412.97" y="740.1" width="5.53" height="5.37" rx="1.7"/>
<rect x="418.5" y="740.1" width="5.53" height="5.37" rx="1.7"/>
<rect x="424.02" y="740.1" width="5.53" height="5.37" rx="1.7"/>
<rect x="291.35" y="745.47" width="5.53" height="5.37" rx="1.7"/>
<rect x="296.88" y="745.47" width="5.53" height="5.37" rx="1.7"/>
<rect x="302.4" y="745.47" width="5.53" height="5.37" rx="1.7"/>
<rect x="307.93" y="745.47" width="5.53" height="5.37" rx="1.7"/>
<rect x="313.46" y="745.47" width="5.53" height="5.37" rx="1.7"/>
<rect x="318.99" y="745.47" width="5.53" height="5.37" rx="1.7"/>
<rect x="335.57" y="745.47" width="5.53" height="5.37" rx="1.7"/>
<rect x="341.1" y="745.47" width="5.53" height="5.37" rx="1.7"/>
<rect x="346.63" y="745.47" width="5.53" height="5.37" rx="1.7"/>
<rect x="352.16" y="745.47" width="5.53" height="5.37" rx="1.7"/>
<rect x="357.69" y="745.47" width="5.53" height="5.37" rx="1.7"/>
<rect x="363.21" y="745.47" width="5.53" height="5.37" rx="1.7"/>
<rect x="368.74" y="745.47" width="5.53" height="5.37" rx="1.7"/>
<rect x="374.27" y="745.47" width="5.53" height="5.37" rx="1.7"/>
<rect x="379.8" y="745.47" width="5.53" height="5.37" rx="1.7"/>
<rect x="385.33" y="745.47" width="5.53" height="5.37" rx="1.7"/>
<rect x="390.85" y="745.47" width="5.53" height="5.37" rx="1.7"/>
<rect x="396.38" y="745.47" width="5.53" height="5.37" rx="1.7"/>
<rect x="401.91" y="745.47" width="5.53" height="5.37" rx="1.7"/>
<rect x="407.44" y="745.47" width="5.53" height="5.37" rx="1.7"/>
<rect x="412.97" y="745.47" width="5.53" height="5.37" rx="1.7"/>
<rect x="418.5" y="745.47" width="5.53" height="5.37" rx="1.7"/>
<rect x="424.02" y="745.47" width="5.53" height="5.37" rx="1.7"/>
<rect x="291.35" y="750.84" width="5.53" height="5.37" rx="1.7"/>
<rect x="296.88" y="750.84" width="5.53" height="5.37" rx="1.7"/>
<rect x="302.4" y="750.84" width="5.53" height="5.37" rx="1.7"/>
<rect x="307.93" y="750.84" width="5.53" height="5.37" rx="1.7"/>
<rect x="313.46" y="750.84" width="5.53" height="5.37" rx="1.7"/>
<rect x="318.99" y="750.84" width="5.53" height="5.37" rx="1.7"/>
<rect x="335.57" y="750.84" width="5.53" height="5.37" rx="1.7"/>
<rect x="341.1" y="750.84" width="5.53" height="5.37" rx="1.7"/>
<rect x="346.63" y="750.84" width="5.53" height="5.37" rx="1.7"/>
<rect x="352.16" y="750.84" width="5.53" height="5.37" rx="1.7"/>
<rect x="357.69" y="750.84" width="5.53" height="5.37" rx="1.7"/>
<rect x="363.21" y="750.84" width="5.53" height="5.37" rx="1.7"/>
<rect x="368.74" y="750.84" width="5.53" height="5.37" rx="1.7"/>
<rect x="374.27" y="750.84" width="5.53" height="5.37" rx="1.7"/>
<rect x="379.8" y="750.84" width="5.53" height="5.37" rx="1.7"/>
<rect x="385.33" y="750.84" width="5.53" height="5.37" rx="1.7"/>
<rect x="390.85" y="750.84" width="5.53" height="5.37" rx="1.7"/>
<rect x="396.38" y="750.84" width="5.53" height="5.37" rx="1.7"/>
<rect x="401.91" y="750.84" width="5.53" height="5.37" rx="1.7"/>
<rect x="407.44" y="750.84" width="5.53" height="5.37" rx="1.7"/>
<rect x="412.97" y="750.84" width="5.53" height="5.37" rx="1.7"/>
<rect x="418.5" y="750.84" width="5.53" height="5.37" rx="1.7"/>
<rect x="424.02" y="750.84" width="5.53" height="5.37" rx="1.7"/>
<rect x="291.35" y="756.21" width="5.53" height="5.37" rx="1.7"/>
<rect x="296.88" y="756.21" width="5.53" height="5.37" rx="1.7"/>
<rect x="302.4" y="756.21" width="5.53" height="5.37" rx="1.7"/>
<rect x="307.93" y="756.21" width="5.53" height="5.37" rx="1.7"/>
<rect x="313.46" y="756.21" width="5.53" height="5.37" rx="1.7"/>
<rect x="318.99" y="756.21" width="5.53" height="5.37" rx="1.7"/>
<rect x="335.57" y="756.21" width="5.53" height="5.37" rx="1.7"/>
<rect x="341.1" y="756.21" width="5.53" height="5.37" rx="1.7"/>
<rect x="346.63" y="756.21" width="5.53" height="5.37" rx="1.7"/>
<rect x="352.16" y="756.21" width="5.53" height="5.37" rx="1.7"/>
<rect x="357.69" y="756.21" width="5.53" height="5.37" rx="1.7"/>
<rect x="363.21" y="756.21" width="5.53" height="5.37" rx="1.7"/>
<rect x="368.74" y="756.21" width="5.53" height="5.37" rx="1.7"/>
<rect x="374.27" y="756.21" width="5.53" height="5.37" rx="1.7"/>
<rect x="379.8" y="756.21" width="5.53" height="5.37" rx="1.7"/>
<rect x="385.33" y="756.21" width="5.53" height="5.37" rx="1.7"/>
<rect x="390.85" y="756.21" width="5.53" height="5.37" rx="1.7"/>
<rect x="396.38" y="756.21" width="5.53" height="5.37" rx="1.7"/>
<rect x="401.91" y="756.21" width="5.53" height="5.37" rx="1.7"/>
<rect x="407.44" y="756.21" width="5.53" height="5.37" rx="1.7"/>
<rect x="412.97" y="756.21" width="5.53" height="5.37" rx="1.7"/>
<rect x="418.5" y="756.21" width="5.53" height="5.37" rx="1.7"/>
<rect x="424.02" y="756.21" width="5.53" height="5.37" rx="1.7"/>
<rect x="291.35" y="761.58" width="5.53" height="5.37" rx="1.7"/>
<rect x="296.88" y="761.58" width="5.53" height="5.37" rx="1.7"/>
<rect x="302.4" y="761.58" width="5.53" height="5.37" rx="1.7"/>
<rect x="307.93" y="761.58" width="5.53" height="5.37" rx="1.7"/>
<rect x="313.46" y="761.58" width="5.53" height="5.37" rx="1.7"/>
<rect x="318.99" y="761.58" width="5.53" height="5.37" rx="1.7"/>
<rect x="330.05" y="761.58" width="5.53" height="5.37" rx="1.7"/>
<rect x="335.57" y="761.58" width="5.53" height="5.37" rx="1.7"/>
<rect x="341.1" y="761.58" width="5.53" height="5.37" rx="1.7"/>
<rect x="346.63" y="761.58" width="5.53" height="5.37" rx="1.7"/>
<rect x="352.16" y="761.58" width="5.53" height="5.37" rx="1.7"/>
<rect x="357.69" y="761.58" width="5.53" height="5.37" rx="1.7"/>
<rect x="363.21" y="761.58" width="5.53" height="5.37" rx="1.7"/>
<rect x="368.74" y="761.58" width="5.53" height="5.37" rx="1.7"/>
<rect x="374.27" y="761.58" width="5.53" height="5.37" rx="1.7"/>
<rect x="379.8" y="761.58" width="5.53" height="5.37" rx="1.7"/>
<rect x="385.33" y="761.58" width="5.53" height="5.37" rx="1.7"/>
<rect x="390.85" y="761.58" width="5.53" height="5.37" rx="1.7"/>
<rect x="396.38" y="761.58" width="5.53" height="5.37" rx="1.7"/>
<rect x="401.91" y="761.58" width="5.53" height="5.37" rx="1.7"/>
<rect x="407.44" y="761.58" width="5.53" height="5.37" rx="1.7"/>
<rect x="412.97" y="761.58" width="5.53" height="5.37" rx="1.7"/>
<rect x="418.5" y="761.58" width="5.53" height="5.37" rx="1.7"/>
<rect x="424.02" y="761.58" width="5.53" height="5.37" rx="1.7"/>
<rect x="291.35" y="766.95" width="5.53" height="5.37" rx="1.7"/>
<rect x="296.88" y="766.95" width="5.53" height="5.37" rx="1.7"/>
<rect x="302.4" y="766.95" width="5.53" height="5.37" rx="1.7"/>
<rect x="307.93" y="766.95" width="5.53" height="5.37" rx="1.7"/>
<rect x="313.46" y="766.95" width="5.53" height="5.37" rx="1.7"/>
<rect x="318.99" y="766.95" width="5.53" height="5.37" rx="1.7"/>
<rect x="330.05" y="766.95" width="5.53" height="5.37" rx="1.7"/>
<rect x="335.57" y="766.95" width="5.53" height="5.37" rx="1.7"/>
<rect x="341.1" y="766.95" width="5.53" height="5.37" rx="1.7"/>
<rect x="346.63" y="766.95" width="5.53" height="5.37" rx="1.7"/>
<rect x="352.16" y="766.95" width="5.53" height="5.37" rx="1.7"/>
<rect x="357.69" y="766.95" width="5.53" height="5.37" rx="1.7"/>
<rect x="363.21" y="766.95" width="5.53" height="5.37" rx="1.7"/>
<rect x="368.74" y="766.95" width="5.53" height="5.37" rx="1.7"/>
<rect x="374.27" y="766.95" width="5.53" height="5.37" rx="1.7"/>
<rect x="379.8" y="766.95" width="5.53" height="5.37" rx="1.7"/>
<rect x="385.33" y="766.95" width="5.53" height="5.37" rx="1.7"/>
<rect x="390.85" y="766.95" width="5.53" height="5.37" rx="1.7"/>
<rect x="396.38" y="766.95" width="5.53" height="5.37" rx="1.7"/>
<rect x="401.91" y="766.95" width="5.53" height="5.37" rx="1.7"/>
<rect x="407.44" y="766.95" width="5.53" height="5.37" rx="1.7"/>
<rect x="412.97" y="766.95" width="5.53" height="5.37" rx="1.7"/>
<rect x="418.5" y="766.95" width="5.53" height="5.37" rx="1.7"/>
<rect x="424.02" y="766.95" width="5.53" height="5.37" rx="1.7"/>
<rect x="291.35" y="772.33" width="5.53" height="5.37" rx="1.7"/>
<rect x="296.88" y="772.33" width="5.53" height="5.37" rx="1.7"/>
<rect x="302.4" y="772.33" width="5.53" height="5.37" rx="1.7"/>
<rect x="307.93" y="772.33" width="5.53" height="5.37" rx="1.7"/>
<rect x="313.46" y="772.33" width="5.53" height="5.37" rx="1.7"/>
<rect x="318.99" y="772.33" width="5.53" height="5.37" rx="1.7"/>
<rect x="330.05" y="772.33" width="5.53" height="5.37" rx="1.7"/>
<rect x="335.57" y="772.33" width="5.53" height="5.37" rx="1.7"/>
<rect x="341.1" y="772.33" width="5.53" height="5.37" rx="1.7"/>
<rect x="346.63" y="772.33" width="5.53" height="5.37" rx="1.7"/>
<rect x="352.16" y="772.33" width="5.53" height="5.37" rx="1.7"/>
<rect x="357.69" y="772.33" width="5.53" height="5.37" rx="1.7"/>
<rect x="363.21" y="772.33" width="5.53" height="5.37" rx="1.7"/>
<rect x="368.74" y="772.33" width="5.53" height="5.37" rx="1.7"/>
<rect x="374.27" y="772.33" width="5.53" height="5.37" rx="1.7"/>
<rect x="379.8" y="772.33" width="5.53" height="5.37" rx="1.7"/>
<rect x="385.33" y="772.33" width="5.53" height="5.37" rx="1.7"/>
<rect x="390.85" y="772.33" width="5.53" height="5.37" rx="1.7"/>
<rect x="396.38" y="772.33" width="5.53" height="5.37" rx="1.7"/>
<rect x="401.91" y="772.33" width="5.53" height="5.37" rx="1.7"/>
<rect x="407.44" y="772.33" width="5.53" height="5.37" rx="1.7"/>
<rect x="412.97" y="772.33" width="5.53" height="5.37" rx="1.7"/>
<rect x="418.5" y="772.33" width="5.53" height="5.37" rx="1.7"/>
<rect x="424.02" y="772.33" width="5.53" height="5.37" rx="1.7"/>
</g>
<g stroke="#080808" stroke-width="0.9" fill="#9c9c9c">
<rect x="385.33" y="643.4" width="5.53" height="5.37" rx="1.7"/>
<rect x="390.85" y="643.4" width="5.53" height="5.37" rx="1.7"/>
<rect x="396.38" y="643.4" width="5.53" height="5.37" rx="1.7"/>
<rect x="401.91" y="643.4" width="5.53" height="5.37" rx="1.7"/>
<rect x="379.8" y="648.77" width="5.53" height="5.37" rx="1.7"/>
<rect x="385.33" y="648.77" width="5.53" height="5.37" rx="1.7"/>
<rect x="390.85" y="648.77" width="5.53" height="5.37" rx="1.7"/>
<rect x="396.38" y="648.77" width="5.53" height="5.37" rx="1.7"/>
<rect x="374.27" y="654.15" width="5.53" height="5.37" rx="1.7"/>
<rect x="379.8" y="654.15" width="5.53" height="5.37" rx="1.7"/>
<rect x="385.33" y="654.15" width="5.53" height="5.37" rx="1.7"/>
<rect x="390.85" y="654.15" width="5.53" height="5.37" rx="1.7"/>
<rect x="368.74" y="659.52" width="5.53" height="5.37" rx="1.7"/>
<rect x="374.27" y="659.52" width="5.53" height="5.37" rx="1.7"/>
<rect x="379.8" y="659.52" width="5.53" height="5.37" rx="1.7"/>
<rect x="385.33" y="659.52" width="5.53" height="5.37" rx="1.7"/>
<rect x="363.21" y="664.89" width="5.53" height="5.37" rx="1.7"/>
<rect x="368.74" y="664.89" width="5.53" height="5.37" rx="1.7"/>
<rect x="374.27" y="664.89" width="5.53" height="5.37" rx="1.7"/>
<rect x="379.8" y="664.89" width="5.53" height="5.37" rx="1.7"/>
<rect x="357.69" y="670.26" width="5.53" height="5.37" rx="1.7"/>
<rect x="363.21" y="670.26" width="5.53" height="5.37" rx="1.7"/>
<rect x="368.74" y="670.26" width="5.53" height="5.37" rx="1.7"/>
<rect x="374.27" y="670.26" width="5.53" height="5.37" rx="1.7"/>
<rect x="357.69" y="675.63" width="5.53" height="5.37" rx="1.7"/>
<rect x="363.21" y="675.63" width="5.53" height="5.37" rx="1.7"/>
<rect x="368.74" y="675.63" width="5.53" height="5.37" rx="1.7"/>
<rect x="352.16" y="681" width="5.53" height="5.37" rx="1.7"/>
<rect x="357.69" y="681" width="5.53" height="5.37" rx="1.7"/>
<rect x="363.21" y="681" width="5.53" height="5.37" rx="1.7"/>
<rect x="346.63" y="686.38" width="5.53" height="5.37" rx="1.7"/>
<rect x="352.16" y="686.38" width="5.53" height="5.37" rx="1.7"/>
<rect x="357.69" y="686.38" width="5.53" height="5.37" rx="1.7"/>
<rect x="341.1" y="691.75" width="5.53" height="5.37" rx="1.7"/>
<rect x="346.63" y="691.75" width="5.53" height="5.37" rx="1.7"/>
<rect x="352.16" y="691.75" width="5.53" height="5.37" rx="1.7"/>
<rect x="335.57" y="697.12" width="5.53" height="5.37" rx="1.7"/>
<rect x="341.1" y="697.12" width="5.53" height="5.37" rx="1.7"/>
<rect x="346.63" y="697.12" width="5.53" height="5.37" rx="1.7"/>
<rect x="352.16" y="697.12" width="5.53" height="5.37" rx="1.7"/>
<rect x="335.57" y="702.49" width="5.53" height="5.37" rx="1.7"/>
<rect x="341.1" y="702.49" width="5.53" height="5.37" rx="1.7"/>
<rect x="346.63" y="702.49" width="5.53" height="5.37" rx="1.7"/>
<rect x="330.05" y="707.86" width="5.53" height="5.37" rx="1.7"/>
<rect x="335.57" y="707.86" width="5.53" height="5.37" rx="1.7"/>
<rect x="341.1" y="707.86" width="5.53" height="5.37" rx="1.7"/>
<rect x="330.05" y="713.24" width="5.53" height="5.37" rx="1.7"/>
<rect x="335.57" y="713.24" width="5.53" height="5.37" rx="1.7"/>
<rect x="341.1" y="713.24" width="5.53" height="5.37" rx="1.7"/>
<rect x="324.52" y="718.61" width="5.53" height="5.37" rx="1.7"/>
<rect x="330.05" y="718.61" width="5.53" height="5.37" rx="1.7"/>
<rect x="335.57" y="718.61" width="5.53" height="5.37" rx="1.7"/>
<rect x="341.1" y="718.61" width="5.53" height="5.37" rx="1.7"/>
<rect x="324.52" y="723.98" width="5.53" height="5.37" rx="1.7"/>
<rect x="330.05" y="723.98" width="5.53" height="5.37" rx="1.7"/>
<rect x="335.57" y="723.98" width="5.53" height="5.37" rx="1.7"/>
<rect x="324.52" y="729.35" width="5.53" height="5.37" rx="1.7"/>
<rect x="330.05" y="729.35" width="5.53" height="5.37" rx="1.7"/>
<rect x="335.57" y="729.35" width="5.53" height="5.37" rx="1.7"/>
<rect x="324.52" y="734.72" width="5.53" height="5.37" rx="1.7"/>
<rect x="330.05" y="734.72" width="5.53" height="5.37" rx="1.7"/>
<rect x="324.52" y="740.1" width="5.53" height="5.37" rx="1.7"/>
<rect x="330.05" y="740.1" width="5.53" height="5.37" rx="1.7"/>
<rect x="324.52" y="745.47" width="5.53" height="5.37" rx="1.7"/>
<rect x="330.05" y="745.47" width="5.53" height="5.37" rx="1.7"/>
<rect x="324.52" y="750.84" width="5.53" height="5.37" rx="1.7"/>
<rect x="330.05" y="750.84" width="5.53" height="5.37" rx="1.7"/>
<rect x="324.52" y="756.21" width="5.53" height="5.37" rx="1.7"/>
<rect x="330.05" y="756.21" width="5.53" height="5.37" rx="1.7"/>
<rect x="324.52" y="761.58" width="5.53" height="5.37" rx="1.7"/>
<rect x="324.52" y="766.95" width="5.53" height="5.37" rx="1.7"/>
<rect x="324.52" y="772.33" width="5.53" height="5.37" rx="1.7"/>
</g>
<rect x="272" y="624.6" width="176.9" height="171.9" fill="none" stroke="#222" stroke-width="1.1"/>
<path d="M278.66,796.5v-2.4M278.66,624.6v2.4M272,790.03h2.4M448.9,790.03h-2.4M282.55,796.5v-2.4M282.55,624.6v2.4M272,786.25h2.4M448.9,786.25h-2.4M285.31,796.5v-2.4M285.31,624.6v2.4M272,783.56h2.4M448.9,783.56h-2.4M287.46,796.5v-2.4M287.46,624.6v2.4M272,781.48h2.4M448.9,781.48h-2.4M289.21,796.5v-2.4M289.21,624.6v2.4M272,779.78h2.4M448.9,779.78h-2.4M290.69,796.5v-2.4M290.69,624.6v2.4M272,778.34h2.4M448.9,778.34h-2.4M291.97,796.5v-2.4M291.97,624.6v2.4M272,777.09h2.4M448.9,777.09h-2.4M293.1,796.5v-2.4M293.1,624.6v2.4M272,776h2.4M448.9,776h-2.4M294.11,796.5v-4.8M294.11,624.6v4.8M272,775.01h4.8M448.9,775.01h-4.8M300.77,796.5v-2.4M300.77,624.6v2.4M272,768.54h2.4M448.9,768.54h-2.4M304.66,796.5v-2.4M304.66,624.6v2.4M272,764.76h2.4M448.9,764.76h-2.4M307.43,796.5v-2.4M307.43,624.6v2.4M272,762.08h2.4M448.9,762.08h-2.4M309.57,796.5v-2.4M309.57,624.6v2.4M272,759.99h2.4M448.9,759.99h-2.4M311.32,796.5v-2.4M311.32,624.6v2.4M272,758.29h2.4M448.9,758.29h-2.4M312.8,796.5v-2.4M312.8,624.6v2.4M272,756.85h2.4M448.9,756.85h-2.4M314.08,796.5v-2.4M314.08,624.6v2.4M272,755.61h2.4M448.9,755.61h-2.4M315.21,796.5v-2.4M315.21,624.6v2.4M272,754.51h2.4M448.9,754.51h-2.4M316.23,796.5v-4.8M316.23,624.6v4.8M272,753.52h4.8M448.9,753.52h-4.8M322.88,796.5v-2.4M322.88,624.6v2.4M272,747.06h2.4M448.9,747.06h-2.4M326.78,796.5v-2.4M326.78,624.6v2.4M272,743.27h2.4M448.9,743.27h-2.4M329.54,796.5v-2.4M329.54,624.6v2.4M272,740.59h2.4M448.9,740.59h-2.4M331.68,796.5v-2.4M331.68,624.6v2.4M272,738.51h2.4M448.9,738.51h-2.4M333.43,796.5v-2.4M333.43,624.6v2.4M272,736.8h2.4M448.9,736.8h-2.4M334.91,796.5v-2.4M334.91,624.6v2.4M272,735.37h2.4M448.9,735.37h-2.4M336.19,796.5v-2.4M336.19,624.6v2.4M272,734.12h2.4M448.9,734.12h-2.4M337.33,796.5v-2.4M337.33,624.6v2.4M272,733.02h2.4M448.9,733.02h-2.4M338.34,796.5v-4.8M338.34,624.6v4.8M272,732.04h4.8M448.9,732.04h-4.8M344.99,796.5v-2.4M344.99,624.6v2.4M272,725.57h2.4M448.9,725.57h-2.4M348.89,796.5v-2.4M348.89,624.6v2.4M272,721.79h2.4M448.9,721.79h-2.4M351.65,796.5v-2.4M351.65,624.6v2.4M272,719.1h2.4M448.9,719.1h-2.4M353.79,796.5v-2.4M353.79,624.6v2.4M272,717.02h2.4M448.9,717.02h-2.4M355.54,796.5v-2.4M355.54,624.6v2.4M272,715.32h2.4M448.9,715.32h-2.4M357.02,796.5v-2.4M357.02,624.6v2.4M272,713.88h2.4M448.9,713.88h-2.4M358.31,796.5v-2.4M358.31,624.6v2.4M272,712.63h2.4M448.9,712.63h-2.4M359.44,796.5v-2.4M359.44,624.6v2.4M272,711.53h2.4M448.9,711.53h-2.4M360.45,796.5v-4.8M360.45,624.6v4.8M272,710.55h4.8M448.9,710.55h-4.8M367.11,796.5v-2.4M367.11,624.6v2.4M272,704.08h2.4M448.9,704.08h-2.4M371,796.5v-2.4M371,624.6v2.4M272,700.3h2.4M448.9,700.3h-2.4M373.76,796.5v-2.4M373.76,624.6v2.4M272,697.61h2.4M448.9,697.61h-2.4M375.91,796.5v-2.4M375.91,624.6v2.4M272,695.53h2.4M448.9,695.53h-2.4M377.66,796.5v-2.4M377.66,624.6v2.4M272,693.83h2.4M448.9,693.83h-2.4M379.14,796.5v-2.4M379.14,624.6v2.4M272,692.39h2.4M448.9,692.39h-2.4M380.42,796.5v-2.4M380.42,624.6v2.4M272,691.14h2.4M448.9,691.14h-2.4M381.55,796.5v-2.4M381.55,624.6v2.4M272,690.05h2.4M448.9,690.05h-2.4M382.56,796.5v-4.8M382.56,624.6v4.8M272,689.06h4.8M448.9,689.06h-4.8M389.22,796.5v-2.4M389.22,624.6v2.4M272,682.59h2.4M448.9,682.59h-2.4M393.11,796.5v-2.4M393.11,624.6v2.4M272,678.81h2.4M448.9,678.81h-2.4M395.88,796.5v-2.4M395.88,624.6v2.4M272,676.13h2.4M448.9,676.13h-2.4M398.02,796.5v-2.4M398.02,624.6v2.4M272,674.04h2.4M448.9,674.04h-2.4M399.77,796.5v-2.4M399.77,624.6v2.4M272,672.34h2.4M448.9,672.34h-2.4M401.25,796.5v-2.4M401.25,624.6v2.4M272,670.9h2.4M448.9,670.9h-2.4M402.53,796.5v-2.4M402.53,624.6v2.4M272,669.66h2.4M448.9,669.66h-2.4M403.66,796.5v-2.4M403.66,624.6v2.4M272,668.56h2.4M448.9,668.56h-2.4M404.67,796.5v-4.8M404.67,624.6v4.8M272,667.58h4.8M448.9,667.58h-4.8M411.33,796.5v-2.4M411.33,624.6v2.4M272,661.11h2.4M448.9,661.11h-2.4M415.23,796.5v-2.4M415.23,624.6v2.4M272,657.32h2.4M448.9,657.32h-2.4M417.99,796.5v-2.4M417.99,624.6v2.4M272,654.64h2.4M448.9,654.64h-2.4M420.13,796.5v-2.4M420.13,624.6v2.4M272,652.56h2.4M448.9,652.56h-2.4M421.88,796.5v-2.4M421.88,624.6v2.4M272,650.85h2.4M448.9,650.85h-2.4M423.36,796.5v-2.4M423.36,624.6v2.4M272,649.42h2.4M448.9,649.42h-2.4M424.64,796.5v-2.4M424.64,624.6v2.4M272,648.17h2.4M448.9,648.17h-2.4M425.78,796.5v-2.4M425.78,624.6v2.4M272,647.07h2.4M448.9,647.07h-2.4M426.79,796.5v-4.8M426.79,624.6v4.8M272,646.09h4.8M448.9,646.09h-4.8M433.44,796.5v-2.4M433.44,624.6v2.4M272,639.62h2.4M448.9,639.62h-2.4M437.34,796.5v-2.4M437.34,624.6v2.4M272,635.84h2.4M448.9,635.84h-2.4M440.1,796.5v-2.4M440.1,624.6v2.4M272,633.15h2.4M448.9,633.15h-2.4M442.24,796.5v-2.4M442.24,624.6v2.4M272,631.07h2.4M448.9,631.07h-2.4M443.99,796.5v-2.4M443.99,624.6v2.4M272,629.37h2.4M448.9,629.37h-2.4M445.47,796.5v-2.4M445.47,624.6v2.4M272,627.93h2.4M448.9,627.93h-2.4M446.76,796.5v-2.4M446.76,624.6v2.4M272,626.68h2.4M448.9,626.68h-2.4M447.89,796.5v-2.4M447.89,624.6v2.4M272,625.58h2.4M448.9,625.58h-2.4" stroke="#000" stroke-width="0.8" fill="none"/>
<g font-size="8.3" fill="#111" font-weight="bold">
<text x="271.7" y="805.7" text-anchor="middle">10<tspan font-size="6" dy="-4.3">-4</tspan></text>
<text x="268.4" y="799.2" text-anchor="end">10<tspan font-size="6" dy="-4.3">-4</tspan></text>
<text x="293.81" y="805.7" text-anchor="middle">10<tspan font-size="6" dy="-4.3">-3</tspan></text>
<text x="268.4" y="777.71" text-anchor="end">10<tspan font-size="6" dy="-4.3">-3</tspan></text>
<text x="315.93" y="805.7" text-anchor="middle">10<tspan font-size="6" dy="-4.3">-2</tspan></text>
<text x="268.4" y="756.23" text-anchor="end">10<tspan font-size="6" dy="-4.3">-2</tspan></text>
<text x="338.04" y="805.7" text-anchor="middle">10<tspan font-size="6" dy="-4.3">-1</tspan></text>
<text x="268.4" y="734.74" text-anchor="end">10<tspan font-size="6" dy="-4.3">-1</tspan></text>
<text x="360.15" y="805.7" text-anchor="middle">10<tspan font-size="6" dy="-4.3">0</tspan></text>
<text x="268.4" y="713.25" text-anchor="end">10<tspan font-size="6" dy="-4.3">0</tspan></text>
<text x="382.26" y="805.7" text-anchor="middle">10<tspan font-size="6" dy="-4.3">1</tspan></text>
<text x="268.4" y="691.76" text-anchor="end">10<tspan font-size="6" dy="-4.3">1</tspan></text>
<text x="404.37" y="805.7" text-anchor="middle">10<tspan font-size="6" dy="-4.3">2</tspan></text>
<text x="268.4" y="670.28" text-anchor="end">10<tspan font-size="6" dy="-4.3">2</tspan></text>
<text x="426.49" y="805.7" text-anchor="middle">10<tspan font-size="6" dy="-4.3">3</tspan></text>
<text x="268.4" y="648.79" text-anchor="end">10<tspan font-size="6" dy="-4.3">3</tspan></text>
<text x="448.6" y="805.7" text-anchor="middle">10<tspan font-size="6" dy="-4.3">4</tspan></text>
<text x="268.4" y="627.3" text-anchor="end">10<tspan font-size="6" dy="-4.3">4</tspan></text>
</g>
<circle cx="278.5" cy="615" r="2.75" fill="#8a8a8a" stroke="#444" stroke-width="0.7"/>
<text x="285.4" y="619.4" font-size="12.4" font-weight="bold">T95 &gt; 200 sec &amp; Td &lt; 600 sec</text>
<text x="445" y="639.4" font-size="11" text-anchor="end" stroke="#000" stroke-width="0.3"><tspan font-style="italic">k</tspan><tspan font-size="8.5" font-style="italic" dy="1">a</tspan><tspan dy="-1"> = 0.01/(nM sec)</tspan></text>
<text x="281" y="789.8" font-size="11" stroke="#000" stroke-width="0.3"><tspan font-style="italic">k</tspan><tspan font-size="9.5" font-style="italic" dy="0.6">dub</tspan><tspan dy="-0.6"> = 0.01/sec</tspan></text>
<text x="358" y="820.5" font-size="12.2" font-weight="normal" stroke="#000" stroke-width="0.4" text-anchor="middle"><tspan font-style="italic">k</tspan><tspan font-size="9.5" font-style="italic" dy="0.8">c</tspan><tspan dy="-0.8"> (1/sec)</tspan></text>
<text transform="translate(247,717.6) rotate(-90)" font-size="12.2" font-weight="normal" stroke="#000" stroke-width="0.4" text-anchor="middle"><tspan font-style="italic">k</tspan><tspan font-size="9.5" font-style="italic" dy="0.8">d</tspan><tspan dy="-0.8"> (1/sec)</tspan></text>
<g stroke="#505050" stroke-width="0.8" fill="#fff">
<rect x="522.28" y="643.92" width="5.51" height="5.32" rx="1.7"/>
<rect x="527.79" y="643.92" width="5.51" height="5.32" rx="1.7"/>
<rect x="533.3" y="643.92" width="5.51" height="5.32" rx="1.7"/>
<rect x="538.81" y="643.92" width="5.51" height="5.32" rx="1.7"/>
<rect x="544.32" y="643.92" width="5.51" height="5.32" rx="1.7"/>
<rect x="549.83" y="643.92" width="5.51" height="5.32" rx="1.7"/>
<rect x="555.34" y="643.92" width="5.51" height="5.32" rx="1.7"/>
<rect x="560.85" y="643.92" width="5.51" height="5.32" rx="1.7"/>
<rect x="566.36" y="643.92" width="5.51" height="5.32" rx="1.7"/>
<rect x="571.87" y="643.92" width="5.51" height="5.32" rx="1.7"/>
<rect x="577.38" y="643.92" width="5.51" height="5.32" rx="1.7"/>
<rect x="582.89" y="643.92" width="5.51" height="5.32" rx="1.7"/>
<rect x="588.4" y="643.92" width="5.51" height="5.32" rx="1.7"/>
<rect x="593.9" y="643.92" width="5.51" height="5.32" rx="1.7"/>
<rect x="599.41" y="643.92" width="5.51" height="5.32" rx="1.7"/>
<rect x="604.92" y="643.92" width="5.51" height="5.32" rx="1.7"/>
<rect x="610.43" y="643.92" width="5.51" height="5.32" rx="1.7"/>
<rect x="522.28" y="649.23" width="5.51" height="5.32" rx="1.7"/>
<rect x="527.79" y="649.23" width="5.51" height="5.32" rx="1.7"/>
<rect x="533.3" y="649.23" width="5.51" height="5.32" rx="1.7"/>
<rect x="538.81" y="649.23" width="5.51" height="5.32" rx="1.7"/>
<rect x="544.32" y="649.23" width="5.51" height="5.32" rx="1.7"/>
<rect x="549.83" y="649.23" width="5.51" height="5.32" rx="1.7"/>
<rect x="555.34" y="649.23" width="5.51" height="5.32" rx="1.7"/>
<rect x="560.85" y="649.23" width="5.51" height="5.32" rx="1.7"/>
<rect x="566.36" y="649.23" width="5.51" height="5.32" rx="1.7"/>
<rect x="571.87" y="649.23" width="5.51" height="5.32" rx="1.7"/>
<rect x="577.38" y="649.23" width="5.51" height="5.32" rx="1.7"/>
<rect x="582.89" y="649.23" width="5.51" height="5.32" rx="1.7"/>
<rect x="588.4" y="649.23" width="5.51" height="5.32" rx="1.7"/>
<rect x="593.9" y="649.23" width="5.51" height="5.32" rx="1.7"/>
<rect x="599.41" y="649.23" width="5.51" height="5.32" rx="1.7"/>
<rect x="604.92" y="649.23" width="5.51" height="5.32" rx="1.7"/>
<rect x="522.28" y="654.55" width="5.51" height="5.32" rx="1.7"/>
<rect x="527.79" y="654.55" width="5.51" height="5.32" rx="1.7"/>
<rect x="533.3" y="654.55" width="5.51" height="5.32" rx="1.7"/>
<rect x="538.81" y="654.55" width="5.51" height="5.32" rx="1.7"/>
<rect x="544.32" y="654.55" width="5.51" height="5.32" rx="1.7"/>
<rect x="549.83" y="654.55" width="5.51" height="5.32" rx="1.7"/>
<rect x="555.34" y="654.55" width="5.51" height="5.32" rx="1.7"/>
<rect x="560.85" y="654.55" width="5.51" height="5.32" rx="1.7"/>
<rect x="566.36" y="654.55" width="5.51" height="5.32" rx="1.7"/>
<rect x="571.87" y="654.55" width="5.51" height="5.32" rx="1.7"/>
<rect x="577.38" y="654.55" width="5.51" height="5.32" rx="1.7"/>
<rect x="582.89" y="654.55" width="5.51" height="5.32" rx="1.7"/>
<rect x="588.4" y="654.55" width="5.51" height="5.32" rx="1.7"/>
<rect x="593.9" y="654.55" width="5.51" height="5.32" rx="1.7"/>
<rect x="599.41" y="654.55" width="5.51" height="5.32" rx="1.7"/>
<rect x="522.28" y="659.87" width="5.51" height="5.32" rx="1.7"/>
<rect x="527.79" y="659.87" width="5.51" height="5.32" rx="1.7"/>
<rect x="533.3" y="659.87" width="5.51" height="5.32" rx="1.7"/>
<rect x="538.81" y="659.87" width="5.51" height="5.32" rx="1.7"/>
<rect x="544.32" y="659.87" width="5.51" height="5.32" rx="1.7"/>
<rect x="549.83" y="659.87" width="5.51" height="5.32" rx="1.7"/>
<rect x="555.34" y="659.87" width="5.51" height="5.32" rx="1.7"/>
<rect x="560.85" y="659.87" width="5.51" height="5.32" rx="1.7"/>
<rect x="566.36" y="659.87" width="5.51" height="5.32" rx="1.7"/>
<rect x="571.87" y="659.87" width="5.51" height="5.32" rx="1.7"/>
<rect x="577.38" y="659.87" width="5.51" height="5.32" rx="1.7"/>
<rect x="582.89" y="659.87" width="5.51" height="5.32" rx="1.7"/>
<rect x="588.4" y="659.87" width="5.51" height="5.32" rx="1.7"/>
<rect x="593.9" y="659.87" width="5.51" height="5.32" rx="1.7"/>
<rect x="522.28" y="665.19" width="5.51" height="5.32" rx="1.7"/>
<rect x="527.79" y="665.19" width="5.51" height="5.32" rx="1.7"/>
<rect x="533.3" y="665.19" width="5.51" height="5.32" rx="1.7"/>
<rect x="538.81" y="665.19" width="5.51" height="5.32" rx="1.7"/>
<rect x="544.32" y="665.19" width="5.51" height="5.32" rx="1.7"/>
<rect x="549.83" y="665.19" width="5.51" height="5.32" rx="1.7"/>
<rect x="555.34" y="665.19" width="5.51" height="5.32" rx="1.7"/>
<rect x="560.85" y="665.19" width="5.51" height="5.32" rx="1.7"/>
<rect x="566.36" y="665.19" width="5.51" height="5.32" rx="1.7"/>
<rect x="571.87" y="665.19" width="5.51" height="5.32" rx="1.7"/>
<rect x="577.38" y="665.19" width="5.51" height="5.32" rx="1.7"/>
<rect x="582.89" y="665.19" width="5.51" height="5.32" rx="1.7"/>
<rect x="588.4" y="665.19" width="5.51" height="5.32" rx="1.7"/>
<rect x="522.28" y="670.51" width="5.51" height="5.32" rx="1.7"/>
<rect x="527.79" y="670.51" width="5.51" height="5.32" rx="1.7"/>
<rect x="533.3" y="670.51" width="5.51" height="5.32" rx="1.7"/>
<rect x="538.81" y="670.51" width="5.51" height="5.32" rx="1.7"/>
<rect x="544.32" y="670.51" width="5.51" height="5.32" rx="1.7"/>
<rect x="549.83" y="670.51" width="5.51" height="5.32" rx="1.7"/>
<rect x="555.34" y="670.51" width="5.51" height="5.32" rx="1.7"/>
<rect x="560.85" y="670.51" width="5.51" height="5.32" rx="1.7"/>
<rect x="566.36" y="670.51" width="5.51" height="5.32" rx="1.7"/>
<rect x="571.87" y="670.51" width="5.51" height="5.32" rx="1.7"/>
<rect x="577.38" y="670.51" width="5.51" height="5.32" rx="1.7"/>
<rect x="582.89" y="670.51" width="5.51" height="5.32" rx="1.7"/>
<rect x="522.28" y="675.83" width="5.51" height="5.32" rx="1.7"/>
<rect x="527.79" y="675.83" width="5.51" height="5.32" rx="1.7"/>
<rect x="533.3" y="675.83" width="5.51" height="5.32" rx="1.7"/>
<rect x="538.81" y="675.83" width="5.51" height="5.32" rx="1.7"/>
<rect x="544.32" y="675.83" width="5.51" height="5.32" rx="1.7"/>
<rect x="549.83" y="675.83" width="5.51" height="5.32" rx="1.7"/>
<rect x="555.34" y="675.83" width="5.51" height="5.32" rx="1.7"/>
<rect x="560.85" y="675.83" width="5.51" height="5.32" rx="1.7"/>
<rect x="566.36" y="675.83" width="5.51" height="5.32" rx="1.7"/>
<rect x="571.87" y="675.83" width="5.51" height="5.32" rx="1.7"/>
<rect x="577.38" y="675.83" width="5.51" height="5.32" rx="1.7"/>
<rect x="582.89" y="675.83" width="5.51" height="5.32" rx="1.7"/>
<rect x="522.28" y="681.15" width="5.51" height="5.32" rx="1.7"/>
<rect x="527.79" y="681.15" width="5.51" height="5.32" rx="1.7"/>
<rect x="533.3" y="681.15" width="5.51" height="5.32" rx="1.7"/>
<rect x="538.81" y="681.15" width="5.51" height="5.32" rx="1.7"/>
<rect x="544.32" y="681.15" width="5.51" height="5.32" rx="1.7"/>
<rect x="549.83" y="681.15" width="5.51" height="5.32" rx="1.7"/>
<rect x="555.34" y="681.15" width="5.51" height="5.32" rx="1.7"/>
<rect x="560.85" y="681.15" width="5.51" height="5.32" rx="1.7"/>
<rect x="566.36" y="681.15" width="5.51" height="5.32" rx="1.7"/>
<rect x="571.87" y="681.15" width="5.51" height="5.32" rx="1.7"/>
<rect x="577.38" y="681.15" width="5.51" height="5.32" rx="1.7"/>
<rect x="522.28" y="686.47" width="5.51" height="5.32" rx="1.7"/>
<rect x="527.79" y="686.47" width="5.51" height="5.32" rx="1.7"/>
<rect x="533.3" y="686.47" width="5.51" height="5.32" rx="1.7"/>
<rect x="538.81" y="686.47" width="5.51" height="5.32" rx="1.7"/>
<rect x="544.32" y="686.47" width="5.51" height="5.32" rx="1.7"/>
<rect x="549.83" y="686.47" width="5.51" height="5.32" rx="1.7"/>
<rect x="555.34" y="686.47" width="5.51" height="5.32" rx="1.7"/>
<rect x="560.85" y="686.47" width="5.51" height="5.32" rx="1.7"/>
<rect x="566.36" y="686.47" width="5.51" height="5.32" rx="1.7"/>
<rect x="571.87" y="686.47" width="5.51" height="5.32" rx="1.7"/>
<rect x="522.28" y="691.78" width="5.51" height="5.32" rx="1.7"/>
<rect x="527.79" y="691.78" width="5.51" height="5.32" rx="1.7"/>
<rect x="533.3" y="691.78" width="5.51" height="5.32" rx="1.7"/>
<rect x="538.81" y="691.78" width="5.51" height="5.32" rx="1.7"/>
<rect x="544.32" y="691.78" width="5.51" height="5.32" rx="1.7"/>
<rect x="549.83" y="691.78" width="5.51" height="5.32" rx="1.7"/>
<rect x="555.34" y="691.78" width="5.51" height="5.32" rx="1.7"/>
<rect x="560.85" y="691.78" width="5.51" height="5.32" rx="1.7"/>
<rect x="566.36" y="691.78" width="5.51" height="5.32" rx="1.7"/>
<rect x="522.28" y="697.1" width="5.51" height="5.32" rx="1.7"/>
<rect x="527.79" y="697.1" width="5.51" height="5.32" rx="1.7"/>
<rect x="533.3" y="697.1" width="5.51" height="5.32" rx="1.7"/>
<rect x="538.81" y="697.1" width="5.51" height="5.32" rx="1.7"/>
<rect x="544.32" y="697.1" width="5.51" height="5.32" rx="1.7"/>
<rect x="549.83" y="697.1" width="5.51" height="5.32" rx="1.7"/>
<rect x="555.34" y="697.1" width="5.51" height="5.32" rx="1.7"/>
<rect x="560.85" y="697.1" width="5.51" height="5.32" rx="1.7"/>
<rect x="522.28" y="702.42" width="5.51" height="5.32" rx="1.7"/>
<rect x="527.79" y="702.42" width="5.51" height="5.32" rx="1.7"/>
<rect x="533.3" y="702.42" width="5.51" height="5.32" rx="1.7"/>
<rect x="538.81" y="702.42" width="5.51" height="5.32" rx="1.7"/>
<rect x="544.32" y="702.42" width="5.51" height="5.32" rx="1.7"/>
<rect x="549.83" y="702.42" width="5.51" height="5.32" rx="1.7"/>
<rect x="555.34" y="702.42" width="5.51" height="5.32" rx="1.7"/>
<rect x="560.85" y="702.42" width="5.51" height="5.32" rx="1.7"/>
<rect x="522.28" y="707.74" width="5.51" height="5.32" rx="1.7"/>
<rect x="527.79" y="707.74" width="5.51" height="5.32" rx="1.7"/>
<rect x="533.3" y="707.74" width="5.51" height="5.32" rx="1.7"/>
<rect x="538.81" y="707.74" width="5.51" height="5.32" rx="1.7"/>
<rect x="544.32" y="707.74" width="5.51" height="5.32" rx="1.7"/>
<rect x="549.83" y="707.74" width="5.51" height="5.32" rx="1.7"/>
<rect x="555.34" y="707.74" width="5.51" height="5.32" rx="1.7"/>
<rect x="522.28" y="713.06" width="5.51" height="5.32" rx="1.7"/>
<rect x="527.79" y="713.06" width="5.51" height="5.32" rx="1.7"/>
<rect x="533.3" y="713.06" width="5.51" height="5.32" rx="1.7"/>
<rect x="538.81" y="713.06" width="5.51" height="5.32" rx="1.7"/>
<rect x="544.32" y="713.06" width="5.51" height="5.32" rx="1.7"/>
<rect x="549.83" y="713.06" width="5.51" height="5.32" rx="1.7"/>
<rect x="555.34" y="713.06" width="5.51" height="5.32" rx="1.7"/>
<rect x="522.28" y="718.38" width="5.51" height="5.32" rx="1.7"/>
<rect x="527.79" y="718.38" width="5.51" height="5.32" rx="1.7"/>
<rect x="533.3" y="718.38" width="5.51" height="5.32" rx="1.7"/>
<rect x="538.81" y="718.38" width="5.51" height="5.32" rx="1.7"/>
<rect x="544.32" y="718.38" width="5.51" height="5.32" rx="1.7"/>
<rect x="549.83" y="718.38" width="5.51" height="5.32" rx="1.7"/>
<rect x="522.28" y="723.7" width="5.51" height="5.32" rx="1.7"/>
<rect x="527.79" y="723.7" width="5.51" height="5.32" rx="1.7"/>
<rect x="533.3" y="723.7" width="5.51" height="5.32" rx="1.7"/>
<rect x="538.81" y="723.7" width="5.51" height="5.32" rx="1.7"/>
<rect x="544.32" y="723.7" width="5.51" height="5.32" rx="1.7"/>
<rect x="549.83" y="723.7" width="5.51" height="5.32" rx="1.7"/>
<rect x="522.28" y="729.02" width="5.51" height="5.32" rx="1.7"/>
<rect x="527.79" y="729.02" width="5.51" height="5.32" rx="1.7"/>
<rect x="533.3" y="729.02" width="5.51" height="5.32" rx="1.7"/>
<rect x="538.81" y="729.02" width="5.51" height="5.32" rx="1.7"/>
<rect x="544.32" y="729.02" width="5.51" height="5.32" rx="1.7"/>
<rect x="549.83" y="729.02" width="5.51" height="5.32" rx="1.7"/>
<rect x="522.28" y="734.33" width="5.51" height="5.32" rx="1.7"/>
<rect x="527.79" y="734.33" width="5.51" height="5.32" rx="1.7"/>
<rect x="533.3" y="734.33" width="5.51" height="5.32" rx="1.7"/>
<rect x="538.81" y="734.33" width="5.51" height="5.32" rx="1.7"/>
<rect x="544.32" y="734.33" width="5.51" height="5.32" rx="1.7"/>
<rect x="549.83" y="734.33" width="5.51" height="5.32" rx="1.7"/>
<rect x="522.28" y="739.65" width="5.51" height="5.32" rx="1.7"/>
<rect x="527.79" y="739.65" width="5.51" height="5.32" rx="1.7"/>
<rect x="533.3" y="739.65" width="5.51" height="5.32" rx="1.7"/>
<rect x="538.81" y="739.65" width="5.51" height="5.32" rx="1.7"/>
<rect x="544.32" y="739.65" width="5.51" height="5.32" rx="1.7"/>
<rect x="549.83" y="739.65" width="5.51" height="5.32" rx="1.7"/>
<rect x="522.28" y="744.97" width="5.51" height="5.32" rx="1.7"/>
<rect x="527.79" y="744.97" width="5.51" height="5.32" rx="1.7"/>
<rect x="533.3" y="744.97" width="5.51" height="5.32" rx="1.7"/>
<rect x="538.81" y="744.97" width="5.51" height="5.32" rx="1.7"/>
<rect x="544.32" y="744.97" width="5.51" height="5.32" rx="1.7"/>
<rect x="549.83" y="744.97" width="5.51" height="5.32" rx="1.7"/>
<rect x="522.28" y="750.29" width="5.51" height="5.32" rx="1.7"/>
<rect x="527.79" y="750.29" width="5.51" height="5.32" rx="1.7"/>
<rect x="533.3" y="750.29" width="5.51" height="5.32" rx="1.7"/>
<rect x="538.81" y="750.29" width="5.51" height="5.32" rx="1.7"/>
<rect x="544.32" y="750.29" width="5.51" height="5.32" rx="1.7"/>
<rect x="549.83" y="750.29" width="5.51" height="5.32" rx="1.7"/>
<rect x="522.28" y="755.61" width="5.51" height="5.32" rx="1.7"/>
<rect x="527.79" y="755.61" width="5.51" height="5.32" rx="1.7"/>
<rect x="533.3" y="755.61" width="5.51" height="5.32" rx="1.7"/>
<rect x="538.81" y="755.61" width="5.51" height="5.32" rx="1.7"/>
<rect x="544.32" y="755.61" width="5.51" height="5.32" rx="1.7"/>
<rect x="549.83" y="755.61" width="5.51" height="5.32" rx="1.7"/>
<rect x="522.28" y="760.93" width="5.51" height="5.32" rx="1.7"/>
<rect x="527.79" y="760.93" width="5.51" height="5.32" rx="1.7"/>
<rect x="533.3" y="760.93" width="5.51" height="5.32" rx="1.7"/>
<rect x="538.81" y="760.93" width="5.51" height="5.32" rx="1.7"/>
<rect x="544.32" y="760.93" width="5.51" height="5.32" rx="1.7"/>
<rect x="549.83" y="760.93" width="5.51" height="5.32" rx="1.7"/>
<rect x="522.28" y="766.25" width="5.51" height="5.32" rx="1.7"/>
<rect x="527.79" y="766.25" width="5.51" height="5.32" rx="1.7"/>
<rect x="533.3" y="766.25" width="5.51" height="5.32" rx="1.7"/>
<rect x="538.81" y="766.25" width="5.51" height="5.32" rx="1.7"/>
<rect x="544.32" y="766.25" width="5.51" height="5.32" rx="1.7"/>
<rect x="549.83" y="766.25" width="5.51" height="5.32" rx="1.7"/>
<rect x="522.28" y="771.57" width="5.51" height="5.32" rx="1.7"/>
<rect x="527.79" y="771.57" width="5.51" height="5.32" rx="1.7"/>
<rect x="533.3" y="771.57" width="5.51" height="5.32" rx="1.7"/>
<rect x="538.81" y="771.57" width="5.51" height="5.32" rx="1.7"/>
<rect x="544.32" y="771.57" width="5.51" height="5.32" rx="1.7"/>
<rect x="549.83" y="771.57" width="5.51" height="5.32" rx="1.7"/>
</g>
<g stroke="#080808" stroke-width="0.9" fill="#9c9c9c">
<rect x="615.94" y="643.92" width="5.51" height="5.32" rx="1.7"/>
<rect x="621.45" y="643.92" width="5.51" height="5.32" rx="1.7"/>
<rect x="626.96" y="643.92" width="5.51" height="5.32" rx="1.7"/>
<rect x="632.47" y="643.92" width="5.51" height="5.32" rx="1.7"/>
<rect x="637.98" y="643.92" width="5.51" height="5.32" rx="1.7"/>
<rect x="643.49" y="643.92" width="5.51" height="5.32" rx="1.7"/>
<rect x="649" y="643.92" width="5.51" height="5.32" rx="1.7"/>
<rect x="654.51" y="643.92" width="5.51" height="5.32" rx="1.7"/>
<rect x="610.43" y="649.23" width="5.51" height="5.32" rx="1.7"/>
<rect x="615.94" y="649.23" width="5.51" height="5.32" rx="1.7"/>
<rect x="621.45" y="649.23" width="5.51" height="5.32" rx="1.7"/>
<rect x="626.96" y="649.23" width="5.51" height="5.32" rx="1.7"/>
<rect x="632.47" y="649.23" width="5.51" height="5.32" rx="1.7"/>
<rect x="637.98" y="649.23" width="5.51" height="5.32" rx="1.7"/>
<rect x="643.49" y="649.23" width="5.51" height="5.32" rx="1.7"/>
<rect x="649" y="649.23" width="5.51" height="5.32" rx="1.7"/>
<rect x="654.51" y="649.23" width="5.51" height="5.32" rx="1.7"/>
<rect x="604.92" y="654.55" width="5.51" height="5.32" rx="1.7"/>
<rect x="610.43" y="654.55" width="5.51" height="5.32" rx="1.7"/>
<rect x="615.94" y="654.55" width="5.51" height="5.32" rx="1.7"/>
<rect x="621.45" y="654.55" width="5.51" height="5.32" rx="1.7"/>
<rect x="626.96" y="654.55" width="5.51" height="5.32" rx="1.7"/>
<rect x="632.47" y="654.55" width="5.51" height="5.32" rx="1.7"/>
<rect x="637.98" y="654.55" width="5.51" height="5.32" rx="1.7"/>
<rect x="643.49" y="654.55" width="5.51" height="5.32" rx="1.7"/>
<rect x="649" y="654.55" width="5.51" height="5.32" rx="1.7"/>
<rect x="654.51" y="654.55" width="5.51" height="5.32" rx="1.7"/>
<rect x="599.41" y="659.87" width="5.51" height="5.32" rx="1.7"/>
<rect x="604.92" y="659.87" width="5.51" height="5.32" rx="1.7"/>
<rect x="610.43" y="659.87" width="5.51" height="5.32" rx="1.7"/>
<rect x="615.94" y="659.87" width="5.51" height="5.32" rx="1.7"/>
<rect x="621.45" y="659.87" width="5.51" height="5.32" rx="1.7"/>
<rect x="626.96" y="659.87" width="5.51" height="5.32" rx="1.7"/>
<rect x="632.47" y="659.87" width="5.51" height="5.32" rx="1.7"/>
<rect x="637.98" y="659.87" width="5.51" height="5.32" rx="1.7"/>
<rect x="643.49" y="659.87" width="5.51" height="5.32" rx="1.7"/>
<rect x="649" y="659.87" width="5.51" height="5.32" rx="1.7"/>
<rect x="654.51" y="659.87" width="5.51" height="5.32" rx="1.7"/>
<rect x="593.9" y="665.19" width="5.51" height="5.32" rx="1.7"/>
<rect x="599.41" y="665.19" width="5.51" height="5.32" rx="1.7"/>
<rect x="604.92" y="665.19" width="5.51" height="5.32" rx="1.7"/>
<rect x="610.43" y="665.19" width="5.51" height="5.32" rx="1.7"/>
<rect x="615.94" y="665.19" width="5.51" height="5.32" rx="1.7"/>
<rect x="621.45" y="665.19" width="5.51" height="5.32" rx="1.7"/>
<rect x="626.96" y="665.19" width="5.51" height="5.32" rx="1.7"/>
<rect x="632.47" y="665.19" width="5.51" height="5.32" rx="1.7"/>
<rect x="637.98" y="665.19" width="5.51" height="5.32" rx="1.7"/>
<rect x="643.49" y="665.19" width="5.51" height="5.32" rx="1.7"/>
<rect x="649" y="665.19" width="5.51" height="5.32" rx="1.7"/>
<rect x="654.51" y="665.19" width="5.51" height="5.32" rx="1.7"/>
<rect x="588.4" y="670.51" width="5.51" height="5.32" rx="1.7"/>
<rect x="593.9" y="670.51" width="5.51" height="5.32" rx="1.7"/>
<rect x="599.41" y="670.51" width="5.51" height="5.32" rx="1.7"/>
<rect x="604.92" y="670.51" width="5.51" height="5.32" rx="1.7"/>
<rect x="610.43" y="670.51" width="5.51" height="5.32" rx="1.7"/>
<rect x="615.94" y="670.51" width="5.51" height="5.32" rx="1.7"/>
<rect x="621.45" y="670.51" width="5.51" height="5.32" rx="1.7"/>
<rect x="626.96" y="670.51" width="5.51" height="5.32" rx="1.7"/>
<rect x="632.47" y="670.51" width="5.51" height="5.32" rx="1.7"/>
<rect x="637.98" y="670.51" width="5.51" height="5.32" rx="1.7"/>
<rect x="643.49" y="670.51" width="5.51" height="5.32" rx="1.7"/>
<rect x="649" y="670.51" width="5.51" height="5.32" rx="1.7"/>
<rect x="654.51" y="670.51" width="5.51" height="5.32" rx="1.7"/>
<rect x="588.4" y="675.83" width="5.51" height="5.32" rx="1.7"/>
<rect x="593.9" y="675.83" width="5.51" height="5.32" rx="1.7"/>
<rect x="599.41" y="675.83" width="5.51" height="5.32" rx="1.7"/>
<rect x="604.92" y="675.83" width="5.51" height="5.32" rx="1.7"/>
<rect x="610.43" y="675.83" width="5.51" height="5.32" rx="1.7"/>
<rect x="615.94" y="675.83" width="5.51" height="5.32" rx="1.7"/>
<rect x="621.45" y="675.83" width="5.51" height="5.32" rx="1.7"/>
<rect x="626.96" y="675.83" width="5.51" height="5.32" rx="1.7"/>
<rect x="632.47" y="675.83" width="5.51" height="5.32" rx="1.7"/>
<rect x="637.98" y="675.83" width="5.51" height="5.32" rx="1.7"/>
<rect x="643.49" y="675.83" width="5.51" height="5.32" rx="1.7"/>
<rect x="649" y="675.83" width="5.51" height="5.32" rx="1.7"/>
<rect x="654.51" y="675.83" width="5.51" height="5.32" rx="1.7"/>
<rect x="582.89" y="681.15" width="5.51" height="5.32" rx="1.7"/>
<rect x="588.4" y="681.15" width="5.51" height="5.32" rx="1.7"/>
<rect x="593.9" y="681.15" width="5.51" height="5.32" rx="1.7"/>
<rect x="599.41" y="681.15" width="5.51" height="5.32" rx="1.7"/>
<rect x="604.92" y="681.15" width="5.51" height="5.32" rx="1.7"/>
<rect x="610.43" y="681.15" width="5.51" height="5.32" rx="1.7"/>
<rect x="615.94" y="681.15" width="5.51" height="5.32" rx="1.7"/>
<rect x="621.45" y="681.15" width="5.51" height="5.32" rx="1.7"/>
<rect x="626.96" y="681.15" width="5.51" height="5.32" rx="1.7"/>
<rect x="632.47" y="681.15" width="5.51" height="5.32" rx="1.7"/>
<rect x="637.98" y="681.15" width="5.51" height="5.32" rx="1.7"/>
<rect x="643.49" y="681.15" width="5.51" height="5.32" rx="1.7"/>
<rect x="649" y="681.15" width="5.51" height="5.32" rx="1.7"/>
<rect x="654.51" y="681.15" width="5.51" height="5.32" rx="1.7"/>
<rect x="577.38" y="686.47" width="5.51" height="5.32" rx="1.7"/>
<rect x="582.89" y="686.47" width="5.51" height="5.32" rx="1.7"/>
<rect x="588.4" y="686.47" width="5.51" height="5.32" rx="1.7"/>
<rect x="593.9" y="686.47" width="5.51" height="5.32" rx="1.7"/>
<rect x="599.41" y="686.47" width="5.51" height="5.32" rx="1.7"/>
<rect x="604.92" y="686.47" width="5.51" height="5.32" rx="1.7"/>
<rect x="610.43" y="686.47" width="5.51" height="5.32" rx="1.7"/>
<rect x="615.94" y="686.47" width="5.51" height="5.32" rx="1.7"/>
<rect x="621.45" y="686.47" width="5.51" height="5.32" rx="1.7"/>
<rect x="626.96" y="686.47" width="5.51" height="5.32" rx="1.7"/>
<rect x="632.47" y="686.47" width="5.51" height="5.32" rx="1.7"/>
<rect x="637.98" y="686.47" width="5.51" height="5.32" rx="1.7"/>
<rect x="643.49" y="686.47" width="5.51" height="5.32" rx="1.7"/>
<rect x="649" y="686.47" width="5.51" height="5.32" rx="1.7"/>
<rect x="654.51" y="686.47" width="5.51" height="5.32" rx="1.7"/>
<rect x="571.87" y="691.78" width="5.51" height="5.32" rx="1.7"/>
<rect x="577.38" y="691.78" width="5.51" height="5.32" rx="1.7"/>
<rect x="582.89" y="691.78" width="5.51" height="5.32" rx="1.7"/>
<rect x="588.4" y="691.78" width="5.51" height="5.32" rx="1.7"/>
<rect x="593.9" y="691.78" width="5.51" height="5.32" rx="1.7"/>
<rect x="599.41" y="691.78" width="5.51" height="5.32" rx="1.7"/>
<rect x="604.92" y="691.78" width="5.51" height="5.32" rx="1.7"/>
<rect x="610.43" y="691.78" width="5.51" height="5.32" rx="1.7"/>
<rect x="615.94" y="691.78" width="5.51" height="5.32" rx="1.7"/>
<rect x="621.45" y="691.78" width="5.51" height="5.32" rx="1.7"/>
<rect x="626.96" y="691.78" width="5.51" height="5.32" rx="1.7"/>
<rect x="632.47" y="691.78" width="5.51" height="5.32" rx="1.7"/>
<rect x="637.98" y="691.78" width="5.51" height="5.32" rx="1.7"/>
<rect x="643.49" y="691.78" width="5.51" height="5.32" rx="1.7"/>
<rect x="649" y="691.78" width="5.51" height="5.32" rx="1.7"/>
<rect x="654.51" y="691.78" width="5.51" height="5.32" rx="1.7"/>
<rect x="566.36" y="697.1" width="5.51" height="5.32" rx="1.7"/>
<rect x="571.87" y="697.1" width="5.51" height="5.32" rx="1.7"/>
<rect x="577.38" y="697.1" width="5.51" height="5.32" rx="1.7"/>
<rect x="582.89" y="697.1" width="5.51" height="5.32" rx="1.7"/>
<rect x="588.4" y="697.1" width="5.51" height="5.32" rx="1.7"/>
<rect x="593.9" y="697.1" width="5.51" height="5.32" rx="1.7"/>
<rect x="599.41" y="697.1" width="5.51" height="5.32" rx="1.7"/>
<rect x="604.92" y="697.1" width="5.51" height="5.32" rx="1.7"/>
<rect x="610.43" y="697.1" width="5.51" height="5.32" rx="1.7"/>
<rect x="615.94" y="697.1" width="5.51" height="5.32" rx="1.7"/>
<rect x="621.45" y="697.1" width="5.51" height="5.32" rx="1.7"/>
<rect x="626.96" y="697.1" width="5.51" height="5.32" rx="1.7"/>
<rect x="632.47" y="697.1" width="5.51" height="5.32" rx="1.7"/>
<rect x="637.98" y="697.1" width="5.51" height="5.32" rx="1.7"/>
<rect x="643.49" y="697.1" width="5.51" height="5.32" rx="1.7"/>
<rect x="649" y="697.1" width="5.51" height="5.32" rx="1.7"/>
<rect x="654.51" y="697.1" width="5.51" height="5.32" rx="1.7"/>
<rect x="566.36" y="702.42" width="5.51" height="5.32" rx="1.7"/>
<rect x="571.87" y="702.42" width="5.51" height="5.32" rx="1.7"/>
<rect x="577.38" y="702.42" width="5.51" height="5.32" rx="1.7"/>
<rect x="582.89" y="702.42" width="5.51" height="5.32" rx="1.7"/>
<rect x="588.4" y="702.42" width="5.51" height="5.32" rx="1.7"/>
<rect x="593.9" y="702.42" width="5.51" height="5.32" rx="1.7"/>
<rect x="599.41" y="702.42" width="5.51" height="5.32" rx="1.7"/>
<rect x="604.92" y="702.42" width="5.51" height="5.32" rx="1.7"/>
<rect x="610.43" y="702.42" width="5.51" height="5.32" rx="1.7"/>
<rect x="615.94" y="702.42" width="5.51" height="5.32" rx="1.7"/>
<rect x="621.45" y="702.42" width="5.51" height="5.32" rx="1.7"/>
<rect x="626.96" y="702.42" width="5.51" height="5.32" rx="1.7"/>
<rect x="632.47" y="702.42" width="5.51" height="5.32" rx="1.7"/>
<rect x="637.98" y="702.42" width="5.51" height="5.32" rx="1.7"/>
<rect x="643.49" y="702.42" width="5.51" height="5.32" rx="1.7"/>
<rect x="649" y="702.42" width="5.51" height="5.32" rx="1.7"/>
<rect x="654.51" y="702.42" width="5.51" height="5.32" rx="1.7"/>
<rect x="560.85" y="707.74" width="5.51" height="5.32" rx="1.7"/>
<rect x="566.36" y="707.74" width="5.51" height="5.32" rx="1.7"/>
<rect x="571.87" y="707.74" width="5.51" height="5.32" rx="1.7"/>
<rect x="577.38" y="707.74" width="5.51" height="5.32" rx="1.7"/>
<rect x="582.89" y="707.74" width="5.51" height="5.32" rx="1.7"/>
<rect x="588.4" y="707.74" width="5.51" height="5.32" rx="1.7"/>
<rect x="593.9" y="707.74" width="5.51" height="5.32" rx="1.7"/>
<rect x="599.41" y="707.74" width="5.51" height="5.32" rx="1.7"/>
<rect x="604.92" y="707.74" width="5.51" height="5.32" rx="1.7"/>
<rect x="610.43" y="707.74" width="5.51" height="5.32" rx="1.7"/>
<rect x="615.94" y="707.74" width="5.51" height="5.32" rx="1.7"/>
<rect x="621.45" y="707.74" width="5.51" height="5.32" rx="1.7"/>
<rect x="626.96" y="707.74" width="5.51" height="5.32" rx="1.7"/>
<rect x="632.47" y="707.74" width="5.51" height="5.32" rx="1.7"/>
<rect x="637.98" y="707.74" width="5.51" height="5.32" rx="1.7"/>
<rect x="643.49" y="707.74" width="5.51" height="5.32" rx="1.7"/>
<rect x="649" y="707.74" width="5.51" height="5.32" rx="1.7"/>
<rect x="654.51" y="707.74" width="5.51" height="5.32" rx="1.7"/>
<rect x="560.85" y="713.06" width="5.51" height="5.32" rx="1.7"/>
<rect x="566.36" y="713.06" width="5.51" height="5.32" rx="1.7"/>
<rect x="571.87" y="713.06" width="5.51" height="5.32" rx="1.7"/>
<rect x="577.38" y="713.06" width="5.51" height="5.32" rx="1.7"/>
<rect x="582.89" y="713.06" width="5.51" height="5.32" rx="1.7"/>
<rect x="588.4" y="713.06" width="5.51" height="5.32" rx="1.7"/>
<rect x="593.9" y="713.06" width="5.51" height="5.32" rx="1.7"/>
<rect x="599.41" y="713.06" width="5.51" height="5.32" rx="1.7"/>
<rect x="604.92" y="713.06" width="5.51" height="5.32" rx="1.7"/>
<rect x="610.43" y="713.06" width="5.51" height="5.32" rx="1.7"/>
<rect x="615.94" y="713.06" width="5.51" height="5.32" rx="1.7"/>
<rect x="621.45" y="713.06" width="5.51" height="5.32" rx="1.7"/>
<rect x="626.96" y="713.06" width="5.51" height="5.32" rx="1.7"/>
<rect x="632.47" y="713.06" width="5.51" height="5.32" rx="1.7"/>
<rect x="637.98" y="713.06" width="5.51" height="5.32" rx="1.7"/>
<rect x="643.49" y="713.06" width="5.51" height="5.32" rx="1.7"/>
<rect x="649" y="713.06" width="5.51" height="5.32" rx="1.7"/>
<rect x="654.51" y="713.06" width="5.51" height="5.32" rx="1.7"/>
<rect x="555.34" y="718.38" width="5.51" height="5.32" rx="1.7"/>
<rect x="560.85" y="718.38" width="5.51" height="5.32" rx="1.7"/>
<rect x="566.36" y="718.38" width="5.51" height="5.32" rx="1.7"/>
<rect x="571.87" y="718.38" width="5.51" height="5.32" rx="1.7"/>
<rect x="577.38" y="718.38" width="5.51" height="5.32" rx="1.7"/>
<rect x="582.89" y="718.38" width="5.51" height="5.32" rx="1.7"/>
<rect x="588.4" y="718.38" width="5.51" height="5.32" rx="1.7"/>
<rect x="593.9" y="718.38" width="5.51" height="5.32" rx="1.7"/>
<rect x="599.41" y="718.38" width="5.51" height="5.32" rx="1.7"/>
<rect x="604.92" y="718.38" width="5.51" height="5.32" rx="1.7"/>
<rect x="610.43" y="718.38" width="5.51" height="5.32" rx="1.7"/>
<rect x="615.94" y="718.38" width="5.51" height="5.32" rx="1.7"/>
<rect x="621.45" y="718.38" width="5.51" height="5.32" rx="1.7"/>
<rect x="626.96" y="718.38" width="5.51" height="5.32" rx="1.7"/>
<rect x="632.47" y="718.38" width="5.51" height="5.32" rx="1.7"/>
<rect x="637.98" y="718.38" width="5.51" height="5.32" rx="1.7"/>
<rect x="643.49" y="718.38" width="5.51" height="5.32" rx="1.7"/>
<rect x="649" y="718.38" width="5.51" height="5.32" rx="1.7"/>
<rect x="654.51" y="718.38" width="5.51" height="5.32" rx="1.7"/>
<rect x="555.34" y="723.7" width="5.51" height="5.32" rx="1.7"/>
<rect x="560.85" y="723.7" width="5.51" height="5.32" rx="1.7"/>
<rect x="566.36" y="723.7" width="5.51" height="5.32" rx="1.7"/>
<rect x="571.87" y="723.7" width="5.51" height="5.32" rx="1.7"/>
<rect x="577.38" y="723.7" width="5.51" height="5.32" rx="1.7"/>
<rect x="582.89" y="723.7" width="5.51" height="5.32" rx="1.7"/>
<rect x="588.4" y="723.7" width="5.51" height="5.32" rx="1.7"/>
<rect x="593.9" y="723.7" width="5.51" height="5.32" rx="1.7"/>
<rect x="599.41" y="723.7" width="5.51" height="5.32" rx="1.7"/>
<rect x="604.92" y="723.7" width="5.51" height="5.32" rx="1.7"/>
<rect x="610.43" y="723.7" width="5.51" height="5.32" rx="1.7"/>
<rect x="615.94" y="723.7" width="5.51" height="5.32" rx="1.7"/>
<rect x="621.45" y="723.7" width="5.51" height="5.32" rx="1.7"/>
<rect x="626.96" y="723.7" width="5.51" height="5.32" rx="1.7"/>
<rect x="632.47" y="723.7" width="5.51" height="5.32" rx="1.7"/>
<rect x="637.98" y="723.7" width="5.51" height="5.32" rx="1.7"/>
<rect x="643.49" y="723.7" width="5.51" height="5.32" rx="1.7"/>
<rect x="649" y="723.7" width="5.51" height="5.32" rx="1.7"/>
<rect x="654.51" y="723.7" width="5.51" height="5.32" rx="1.7"/>
<rect x="555.34" y="729.02" width="5.51" height="5.32" rx="1.7"/>
<rect x="560.85" y="729.02" width="5.51" height="5.32" rx="1.7"/>
<rect x="566.36" y="729.02" width="5.51" height="5.32" rx="1.7"/>
<rect x="571.87" y="729.02" width="5.51" height="5.32" rx="1.7"/>
<rect x="577.38" y="729.02" width="5.51" height="5.32" rx="1.7"/>
<rect x="582.89" y="729.02" width="5.51" height="5.32" rx="1.7"/>
<rect x="588.4" y="729.02" width="5.51" height="5.32" rx="1.7"/>
<rect x="593.9" y="729.02" width="5.51" height="5.32" rx="1.7"/>
<rect x="599.41" y="729.02" width="5.51" height="5.32" rx="1.7"/>
<rect x="604.92" y="729.02" width="5.51" height="5.32" rx="1.7"/>
<rect x="610.43" y="729.02" width="5.51" height="5.32" rx="1.7"/>
<rect x="615.94" y="729.02" width="5.51" height="5.32" rx="1.7"/>
<rect x="621.45" y="729.02" width="5.51" height="5.32" rx="1.7"/>
<rect x="626.96" y="729.02" width="5.51" height="5.32" rx="1.7"/>
<rect x="632.47" y="729.02" width="5.51" height="5.32" rx="1.7"/>
<rect x="637.98" y="729.02" width="5.51" height="5.32" rx="1.7"/>
<rect x="643.49" y="729.02" width="5.51" height="5.32" rx="1.7"/>
<rect x="649" y="729.02" width="5.51" height="5.32" rx="1.7"/>
<rect x="654.51" y="729.02" width="5.51" height="5.32" rx="1.7"/>
<rect x="555.34" y="734.33" width="5.51" height="5.32" rx="1.7"/>
<rect x="560.85" y="734.33" width="5.51" height="5.32" rx="1.7"/>
<rect x="566.36" y="734.33" width="5.51" height="5.32" rx="1.7"/>
<rect x="571.87" y="734.33" width="5.51" height="5.32" rx="1.7"/>
<rect x="577.38" y="734.33" width="5.51" height="5.32" rx="1.7"/>
<rect x="582.89" y="734.33" width="5.51" height="5.32" rx="1.7"/>
<rect x="588.4" y="734.33" width="5.51" height="5.32" rx="1.7"/>
<rect x="593.9" y="734.33" width="5.51" height="5.32" rx="1.7"/>
<rect x="599.41" y="734.33" width="5.51" height="5.32" rx="1.7"/>
<rect x="604.92" y="734.33" width="5.51" height="5.32" rx="1.7"/>
<rect x="610.43" y="734.33" width="5.51" height="5.32" rx="1.7"/>
<rect x="615.94" y="734.33" width="5.51" height="5.32" rx="1.7"/>
<rect x="621.45" y="734.33" width="5.51" height="5.32" rx="1.7"/>
<rect x="626.96" y="734.33" width="5.51" height="5.32" rx="1.7"/>
<rect x="632.47" y="734.33" width="5.51" height="5.32" rx="1.7"/>
<rect x="637.98" y="734.33" width="5.51" height="5.32" rx="1.7"/>
<rect x="643.49" y="734.33" width="5.51" height="5.32" rx="1.7"/>
<rect x="649" y="734.33" width="5.51" height="5.32" rx="1.7"/>
<rect x="654.51" y="734.33" width="5.51" height="5.32" rx="1.7"/>
<rect x="555.34" y="739.65" width="5.51" height="5.32" rx="1.7"/>
<rect x="560.85" y="739.65" width="5.51" height="5.32" rx="1.7"/>
<rect x="566.36" y="739.65" width="5.51" height="5.32" rx="1.7"/>
<rect x="571.87" y="739.65" width="5.51" height="5.32" rx="1.7"/>
<rect x="577.38" y="739.65" width="5.51" height="5.32" rx="1.7"/>
<rect x="582.89" y="739.65" width="5.51" height="5.32" rx="1.7"/>
<rect x="588.4" y="739.65" width="5.51" height="5.32" rx="1.7"/>
<rect x="593.9" y="739.65" width="5.51" height="5.32" rx="1.7"/>
<rect x="599.41" y="739.65" width="5.51" height="5.32" rx="1.7"/>
<rect x="604.92" y="739.65" width="5.51" height="5.32" rx="1.7"/>
<rect x="610.43" y="739.65" width="5.51" height="5.32" rx="1.7"/>
<rect x="615.94" y="739.65" width="5.51" height="5.32" rx="1.7"/>
<rect x="621.45" y="739.65" width="5.51" height="5.32" rx="1.7"/>
<rect x="626.96" y="739.65" width="5.51" height="5.32" rx="1.7"/>
<rect x="632.47" y="739.65" width="5.51" height="5.32" rx="1.7"/>
<rect x="637.98" y="739.65" width="5.51" height="5.32" rx="1.7"/>
<rect x="643.49" y="739.65" width="5.51" height="5.32" rx="1.7"/>
<rect x="649" y="739.65" width="5.51" height="5.32" rx="1.7"/>
<rect x="654.51" y="739.65" width="5.51" height="5.32" rx="1.7"/>
<rect x="555.34" y="744.97" width="5.51" height="5.32" rx="1.7"/>
<rect x="560.85" y="744.97" width="5.51" height="5.32" rx="1.7"/>
<rect x="566.36" y="744.97" width="5.51" height="5.32" rx="1.7"/>
<rect x="571.87" y="744.97" width="5.51" height="5.32" rx="1.7"/>
<rect x="577.38" y="744.97" width="5.51" height="5.32" rx="1.7"/>
<rect x="582.89" y="744.97" width="5.51" height="5.32" rx="1.7"/>
<rect x="588.4" y="744.97" width="5.51" height="5.32" rx="1.7"/>
<rect x="593.9" y="744.97" width="5.51" height="5.32" rx="1.7"/>
<rect x="599.41" y="744.97" width="5.51" height="5.32" rx="1.7"/>
<rect x="604.92" y="744.97" width="5.51" height="5.32" rx="1.7"/>
<rect x="610.43" y="744.97" width="5.51" height="5.32" rx="1.7"/>
<rect x="615.94" y="744.97" width="5.51" height="5.32" rx="1.7"/>
<rect x="621.45" y="744.97" width="5.51" height="5.32" rx="1.7"/>
<rect x="626.96" y="744.97" width="5.51" height="5.32" rx="1.7"/>
<rect x="632.47" y="744.97" width="5.51" height="5.32" rx="1.7"/>
<rect x="637.98" y="744.97" width="5.51" height="5.32" rx="1.7"/>
<rect x="643.49" y="744.97" width="5.51" height="5.32" rx="1.7"/>
<rect x="649" y="744.97" width="5.51" height="5.32" rx="1.7"/>
<rect x="654.51" y="744.97" width="5.51" height="5.32" rx="1.7"/>
<rect x="555.34" y="750.29" width="5.51" height="5.32" rx="1.7"/>
<rect x="560.85" y="750.29" width="5.51" height="5.32" rx="1.7"/>
<rect x="566.36" y="750.29" width="5.51" height="5.32" rx="1.7"/>
<rect x="571.87" y="750.29" width="5.51" height="5.32" rx="1.7"/>
<rect x="577.38" y="750.29" width="5.51" height="5.32" rx="1.7"/>
<rect x="582.89" y="750.29" width="5.51" height="5.32" rx="1.7"/>
<rect x="588.4" y="750.29" width="5.51" height="5.32" rx="1.7"/>
<rect x="593.9" y="750.29" width="5.51" height="5.32" rx="1.7"/>
<rect x="599.41" y="750.29" width="5.51" height="5.32" rx="1.7"/>
<rect x="604.92" y="750.29" width="5.51" height="5.32" rx="1.7"/>
<rect x="610.43" y="750.29" width="5.51" height="5.32" rx="1.7"/>
<rect x="615.94" y="750.29" width="5.51" height="5.32" rx="1.7"/>
<rect x="621.45" y="750.29" width="5.51" height="5.32" rx="1.7"/>
<rect x="626.96" y="750.29" width="5.51" height="5.32" rx="1.7"/>
<rect x="632.47" y="750.29" width="5.51" height="5.32" rx="1.7"/>
<rect x="637.98" y="750.29" width="5.51" height="5.32" rx="1.7"/>
<rect x="643.49" y="750.29" width="5.51" height="5.32" rx="1.7"/>
<rect x="649" y="750.29" width="5.51" height="5.32" rx="1.7"/>
<rect x="654.51" y="750.29" width="5.51" height="5.32" rx="1.7"/>
<rect x="555.34" y="755.61" width="5.51" height="5.32" rx="1.7"/>
<rect x="560.85" y="755.61" width="5.51" height="5.32" rx="1.7"/>
<rect x="566.36" y="755.61" width="5.51" height="5.32" rx="1.7"/>
<rect x="571.87" y="755.61" width="5.51" height="5.32" rx="1.7"/>
<rect x="577.38" y="755.61" width="5.51" height="5.32" rx="1.7"/>
<rect x="582.89" y="755.61" width="5.51" height="5.32" rx="1.7"/>
<rect x="588.4" y="755.61" width="5.51" height="5.32" rx="1.7"/>
<rect x="593.9" y="755.61" width="5.51" height="5.32" rx="1.7"/>
<rect x="599.41" y="755.61" width="5.51" height="5.32" rx="1.7"/>
<rect x="604.92" y="755.61" width="5.51" height="5.32" rx="1.7"/>
<rect x="610.43" y="755.61" width="5.51" height="5.32" rx="1.7"/>
<rect x="615.94" y="755.61" width="5.51" height="5.32" rx="1.7"/>
<rect x="621.45" y="755.61" width="5.51" height="5.32" rx="1.7"/>
<rect x="626.96" y="755.61" width="5.51" height="5.32" rx="1.7"/>
<rect x="632.47" y="755.61" width="5.51" height="5.32" rx="1.7"/>
<rect x="637.98" y="755.61" width="5.51" height="5.32" rx="1.7"/>
<rect x="643.49" y="755.61" width="5.51" height="5.32" rx="1.7"/>
<rect x="649" y="755.61" width="5.51" height="5.32" rx="1.7"/>
<rect x="654.51" y="755.61" width="5.51" height="5.32" rx="1.7"/>
<rect x="555.34" y="760.93" width="5.51" height="5.32" rx="1.7"/>
<rect x="560.85" y="760.93" width="5.51" height="5.32" rx="1.7"/>
<rect x="566.36" y="760.93" width="5.51" height="5.32" rx="1.7"/>
<rect x="571.87" y="760.93" width="5.51" height="5.32" rx="1.7"/>
<rect x="577.38" y="760.93" width="5.51" height="5.32" rx="1.7"/>
<rect x="582.89" y="760.93" width="5.51" height="5.32" rx="1.7"/>
<rect x="588.4" y="760.93" width="5.51" height="5.32" rx="1.7"/>
<rect x="593.9" y="760.93" width="5.51" height="5.32" rx="1.7"/>
<rect x="599.41" y="760.93" width="5.51" height="5.32" rx="1.7"/>
<rect x="604.92" y="760.93" width="5.51" height="5.32" rx="1.7"/>
<rect x="610.43" y="760.93" width="5.51" height="5.32" rx="1.7"/>
<rect x="615.94" y="760.93" width="5.51" height="5.32" rx="1.7"/>
<rect x="621.45" y="760.93" width="5.51" height="5.32" rx="1.7"/>
<rect x="626.96" y="760.93" width="5.51" height="5.32" rx="1.7"/>
<rect x="632.47" y="760.93" width="5.51" height="5.32" rx="1.7"/>
<rect x="637.98" y="760.93" width="5.51" height="5.32" rx="1.7"/>
<rect x="643.49" y="760.93" width="5.51" height="5.32" rx="1.7"/>
<rect x="649" y="760.93" width="5.51" height="5.32" rx="1.7"/>
<rect x="654.51" y="760.93" width="5.51" height="5.32" rx="1.7"/>
<rect x="555.34" y="766.25" width="5.51" height="5.32" rx="1.7"/>
<rect x="560.85" y="766.25" width="5.51" height="5.32" rx="1.7"/>
<rect x="566.36" y="766.25" width="5.51" height="5.32" rx="1.7"/>
<rect x="571.87" y="766.25" width="5.51" height="5.32" rx="1.7"/>
<rect x="577.38" y="766.25" width="5.51" height="5.32" rx="1.7"/>
<rect x="582.89" y="766.25" width="5.51" height="5.32" rx="1.7"/>
<rect x="588.4" y="766.25" width="5.51" height="5.32" rx="1.7"/>
<rect x="593.9" y="766.25" width="5.51" height="5.32" rx="1.7"/>
<rect x="599.41" y="766.25" width="5.51" height="5.32" rx="1.7"/>
<rect x="604.92" y="766.25" width="5.51" height="5.32" rx="1.7"/>
<rect x="610.43" y="766.25" width="5.51" height="5.32" rx="1.7"/>
<rect x="615.94" y="766.25" width="5.51" height="5.32" rx="1.7"/>
<rect x="621.45" y="766.25" width="5.51" height="5.32" rx="1.7"/>
<rect x="626.96" y="766.25" width="5.51" height="5.32" rx="1.7"/>
<rect x="632.47" y="766.25" width="5.51" height="5.32" rx="1.7"/>
<rect x="637.98" y="766.25" width="5.51" height="5.32" rx="1.7"/>
<rect x="643.49" y="766.25" width="5.51" height="5.32" rx="1.7"/>
<rect x="649" y="766.25" width="5.51" height="5.32" rx="1.7"/>
<rect x="654.51" y="766.25" width="5.51" height="5.32" rx="1.7"/>
<rect x="555.34" y="771.57" width="5.51" height="5.32" rx="1.7"/>
<rect x="560.85" y="771.57" width="5.51" height="5.32" rx="1.7"/>
<rect x="566.36" y="771.57" width="5.51" height="5.32" rx="1.7"/>
<rect x="571.87" y="771.57" width="5.51" height="5.32" rx="1.7"/>
<rect x="577.38" y="771.57" width="5.51" height="5.32" rx="1.7"/>
<rect x="582.89" y="771.57" width="5.51" height="5.32" rx="1.7"/>
<rect x="588.4" y="771.57" width="5.51" height="5.32" rx="1.7"/>
<rect x="593.9" y="771.57" width="5.51" height="5.32" rx="1.7"/>
<rect x="599.41" y="771.57" width="5.51" height="5.32" rx="1.7"/>
<rect x="604.92" y="771.57" width="5.51" height="5.32" rx="1.7"/>
<rect x="610.43" y="771.57" width="5.51" height="5.32" rx="1.7"/>
<rect x="615.94" y="771.57" width="5.51" height="5.32" rx="1.7"/>
<rect x="621.45" y="771.57" width="5.51" height="5.32" rx="1.7"/>
<rect x="626.96" y="771.57" width="5.51" height="5.32" rx="1.7"/>
<rect x="632.47" y="771.57" width="5.51" height="5.32" rx="1.7"/>
<rect x="637.98" y="771.57" width="5.51" height="5.32" rx="1.7"/>
<rect x="643.49" y="771.57" width="5.51" height="5.32" rx="1.7"/>
<rect x="649" y="771.57" width="5.51" height="5.32" rx="1.7"/>
<rect x="654.51" y="771.57" width="5.51" height="5.32" rx="1.7"/>
</g>
<rect x="503" y="625.3" width="176.3" height="170.2" fill="none" stroke="#222" stroke-width="1.1"/>
<path d="M509.63,795.5v-2.4M509.63,625.3v2.4M503,789.1h2.4M679.3,789.1h-2.4M513.51,795.5v-2.4M513.51,625.3v2.4M503,785.35h2.4M679.3,785.35h-2.4M516.27,795.5v-2.4M516.27,625.3v2.4M503,782.69h2.4M679.3,782.69h-2.4M518.4,795.5v-2.4M518.4,625.3v2.4M503,780.63h2.4M679.3,780.63h-2.4M520.15,795.5v-2.4M520.15,625.3v2.4M503,778.94h2.4M679.3,778.94h-2.4M521.62,795.5v-2.4M521.62,625.3v2.4M503,777.52h2.4M679.3,777.52h-2.4M522.9,795.5v-2.4M522.9,625.3v2.4M503,776.29h2.4M679.3,776.29h-2.4M524.03,795.5v-2.4M524.03,625.3v2.4M503,775.2h2.4M679.3,775.2h-2.4M525.04,795.5v-4.8M525.04,625.3v4.8M503,774.23h4.8M679.3,774.23h-4.8M531.67,795.5v-2.4M531.67,625.3v2.4M503,767.82h2.4M679.3,767.82h-2.4M535.55,795.5v-2.4M535.55,625.3v2.4M503,764.07h2.4M679.3,764.07h-2.4M538.31,795.5v-2.4M538.31,625.3v2.4M503,761.42h2.4M679.3,761.42h-2.4M540.44,795.5v-2.4M540.44,625.3v2.4M503,759.35h2.4M679.3,759.35h-2.4M542.19,795.5v-2.4M542.19,625.3v2.4M503,757.67h2.4M679.3,757.67h-2.4M543.66,795.5v-2.4M543.66,625.3v2.4M503,756.25h2.4M679.3,756.25h-2.4M544.94,795.5v-2.4M544.94,625.3v2.4M503,755.01h2.4M679.3,755.01h-2.4M546.07,795.5v-2.4M546.07,625.3v2.4M503,753.92h2.4M679.3,753.92h-2.4M547.08,795.5v-4.8M547.08,625.3v4.8M503,752.95h4.8M679.3,752.95h-4.8M553.71,795.5v-2.4M553.71,625.3v2.4M503,746.55h2.4M679.3,746.55h-2.4M557.59,795.5v-2.4M557.59,625.3v2.4M503,742.8h2.4M679.3,742.8h-2.4M560.34,795.5v-2.4M560.34,625.3v2.4M503,740.14h2.4M679.3,740.14h-2.4M562.48,795.5v-2.4M562.48,625.3v2.4M503,738.08h2.4M679.3,738.08h-2.4M564.22,795.5v-2.4M564.22,625.3v2.4M503,736.39h2.4M679.3,736.39h-2.4M565.7,795.5v-2.4M565.7,625.3v2.4M503,734.97h2.4M679.3,734.97h-2.4M566.98,795.5v-2.4M566.98,625.3v2.4M503,733.74h2.4M679.3,733.74h-2.4M568.1,795.5v-2.4M568.1,625.3v2.4M503,732.65h2.4M679.3,732.65h-2.4M569.11,795.5v-4.8M569.11,625.3v4.8M503,731.67h4.8M679.3,731.67h-4.8M575.75,795.5v-2.4M575.75,625.3v2.4M503,725.27h2.4M679.3,725.27h-2.4M579.63,795.5v-2.4M579.63,625.3v2.4M503,721.52h2.4M679.3,721.52h-2.4M582.38,795.5v-2.4M582.38,625.3v2.4M503,718.87h2.4M679.3,718.87h-2.4M584.52,795.5v-2.4M584.52,625.3v2.4M503,716.8h2.4M679.3,716.8h-2.4M586.26,795.5v-2.4M586.26,625.3v2.4M503,715.12h2.4M679.3,715.12h-2.4M587.74,795.5v-2.4M587.74,625.3v2.4M503,713.7h2.4M679.3,713.7h-2.4M589.01,795.5v-2.4M589.01,625.3v2.4M503,712.46h2.4M679.3,712.46h-2.4M590.14,795.5v-2.4M590.14,625.3v2.4M503,711.37h2.4M679.3,711.37h-2.4M591.15,795.5v-4.8M591.15,625.3v4.8M503,710.4h4.8M679.3,710.4h-4.8M597.78,795.5v-2.4M597.78,625.3v2.4M503,704h2.4M679.3,704h-2.4M601.66,795.5v-2.4M601.66,625.3v2.4M503,700.25h2.4M679.3,700.25h-2.4M604.42,795.5v-2.4M604.42,625.3v2.4M503,697.59h2.4M679.3,697.59h-2.4M606.55,795.5v-2.4M606.55,625.3v2.4M503,695.53h2.4M679.3,695.53h-2.4M608.3,795.5v-2.4M608.3,625.3v2.4M503,693.84h2.4M679.3,693.84h-2.4M609.77,795.5v-2.4M609.77,625.3v2.4M503,692.42h2.4M679.3,692.42h-2.4M611.05,795.5v-2.4M611.05,625.3v2.4M503,691.19h2.4M679.3,691.19h-2.4M612.18,795.5v-2.4M612.18,625.3v2.4M503,690.1h2.4M679.3,690.1h-2.4M613.19,795.5v-4.8M613.19,625.3v4.8M503,689.12h4.8M679.3,689.12h-4.8M619.82,795.5v-2.4M619.82,625.3v2.4M503,682.72h2.4M679.3,682.72h-2.4M623.7,795.5v-2.4M623.7,625.3v2.4M503,678.97h2.4M679.3,678.97h-2.4M626.46,795.5v-2.4M626.46,625.3v2.4M503,676.32h2.4M679.3,676.32h-2.4M628.59,795.5v-2.4M628.59,625.3v2.4M503,674.25h2.4M679.3,674.25h-2.4M630.34,795.5v-2.4M630.34,625.3v2.4M503,672.57h2.4M679.3,672.57h-2.4M631.81,795.5v-2.4M631.81,625.3v2.4M503,671.15h2.4M679.3,671.15h-2.4M633.09,795.5v-2.4M633.09,625.3v2.4M503,669.91h2.4M679.3,669.91h-2.4M634.22,795.5v-2.4M634.22,625.3v2.4M503,668.82h2.4M679.3,668.82h-2.4M635.22,795.5v-4.8M635.22,625.3v4.8M503,667.85h4.8M679.3,667.85h-4.8M641.86,795.5v-2.4M641.86,625.3v2.4M503,661.45h2.4M679.3,661.45h-2.4M645.74,795.5v-2.4M645.74,625.3v2.4M503,657.7h2.4M679.3,657.7h-2.4M648.49,795.5v-2.4M648.49,625.3v2.4M503,655.04h2.4M679.3,655.04h-2.4M650.63,795.5v-2.4M650.63,625.3v2.4M503,652.98h2.4M679.3,652.98h-2.4M652.37,795.5v-2.4M652.37,625.3v2.4M503,651.29h2.4M679.3,651.29h-2.4M653.85,795.5v-2.4M653.85,625.3v2.4M503,649.87h2.4M679.3,649.87h-2.4M655.13,795.5v-2.4M655.13,625.3v2.4M503,648.64h2.4M679.3,648.64h-2.4M656.25,795.5v-2.4M656.25,625.3v2.4M503,647.55h2.4M679.3,647.55h-2.4M657.26,795.5v-4.8M657.26,625.3v4.8M503,646.57h4.8M679.3,646.57h-4.8M663.9,795.5v-2.4M663.9,625.3v2.4M503,640.17h2.4M679.3,640.17h-2.4M667.78,795.5v-2.4M667.78,625.3v2.4M503,636.42h2.4M679.3,636.42h-2.4M670.53,795.5v-2.4M670.53,625.3v2.4M503,633.77h2.4M679.3,633.77h-2.4M672.67,795.5v-2.4M672.67,625.3v2.4M503,631.7h2.4M679.3,631.7h-2.4M674.41,795.5v-2.4M674.41,625.3v2.4M503,630.02h2.4M679.3,630.02h-2.4M675.89,795.5v-2.4M675.89,625.3v2.4M503,628.6h2.4M679.3,628.6h-2.4M677.16,795.5v-2.4M677.16,625.3v2.4M503,627.36h2.4M679.3,627.36h-2.4M678.29,795.5v-2.4M678.29,625.3v2.4M503,626.27h2.4M679.3,626.27h-2.4" stroke="#000" stroke-width="0.8" fill="none"/>
<g font-size="8.3" fill="#111" font-weight="bold">
<text x="502.7" y="804.7" text-anchor="middle">10<tspan font-size="6" dy="-4.3">-4</tspan></text>
<text x="499.4" y="798.2" text-anchor="end">10<tspan font-size="6" dy="-4.3">-4</tspan></text>
<text x="524.74" y="804.7" text-anchor="middle">10<tspan font-size="6" dy="-4.3">-3</tspan></text>
<text x="499.4" y="776.93" text-anchor="end">10<tspan font-size="6" dy="-4.3">-3</tspan></text>
<text x="546.78" y="804.7" text-anchor="middle">10<tspan font-size="6" dy="-4.3">-2</tspan></text>
<text x="499.4" y="755.65" text-anchor="end">10<tspan font-size="6" dy="-4.3">-2</tspan></text>
<text x="568.81" y="804.7" text-anchor="middle">10<tspan font-size="6" dy="-4.3">-1</tspan></text>
<text x="499.4" y="734.38" text-anchor="end">10<tspan font-size="6" dy="-4.3">-1</tspan></text>
<text x="590.85" y="804.7" text-anchor="middle">10<tspan font-size="6" dy="-4.3">0</tspan></text>
<text x="499.4" y="713.1" text-anchor="end">10<tspan font-size="6" dy="-4.3">0</tspan></text>
<text x="612.89" y="804.7" text-anchor="middle">10<tspan font-size="6" dy="-4.3">1</tspan></text>
<text x="499.4" y="691.83" text-anchor="end">10<tspan font-size="6" dy="-4.3">1</tspan></text>
<text x="634.92" y="804.7" text-anchor="middle">10<tspan font-size="6" dy="-4.3">2</tspan></text>
<text x="499.4" y="670.55" text-anchor="end">10<tspan font-size="6" dy="-4.3">2</tspan></text>
<text x="656.96" y="804.7" text-anchor="middle">10<tspan font-size="6" dy="-4.3">3</tspan></text>
<text x="499.4" y="649.27" text-anchor="end">10<tspan font-size="6" dy="-4.3">3</tspan></text>
<text x="679" y="804.7" text-anchor="middle">10<tspan font-size="6" dy="-4.3">4</tspan></text>
<text x="499.4" y="628" text-anchor="end">10<tspan font-size="6" dy="-4.3">4</tspan></text>
</g>
<circle cx="526.1" cy="614.6" r="2.75" fill="#8a8a8a" stroke="#444" stroke-width="0.7"/>
<text x="530.7" y="619" font-size="12.4" font-weight="bold">Td &lt; 600 sec</text>
<text x="675.5" y="639.4" font-size="11" text-anchor="end" stroke="#000" stroke-width="0.3"><tspan font-style="italic">k</tspan><tspan font-size="8.5" font-style="italic" dy="1">a</tspan><tspan dy="-1"> = 0.01/(nM sec)</tspan></text>
<text x="511" y="789.8" font-size="11" stroke="#000" stroke-width="0.3"><tspan font-style="italic">k</tspan><tspan font-size="9.5" font-style="italic" dy="0.6">dub</tspan><tspan dy="-0.6"> = 0.01/sec</tspan></text>
<text x="592.5" y="820.5" font-size="12.2" font-weight="normal" stroke="#000" stroke-width="0.4" text-anchor="middle"><tspan font-style="italic">k</tspan><tspan font-size="9.5" font-style="italic" dy="0.8">c</tspan><tspan dy="-0.8"> (1/sec)</tspan></text>
<text transform="translate(476.8,716.8) rotate(-90)" font-size="12.2" font-weight="normal" stroke="#000" stroke-width="0.4" text-anchor="middle"><tspan font-style="italic">k</tspan><tspan font-size="9.5" font-style="italic" dy="0.8">d</tspan><tspan dy="-0.8"> (1/sec)</tspan></text>
</svg>
</body></html>
